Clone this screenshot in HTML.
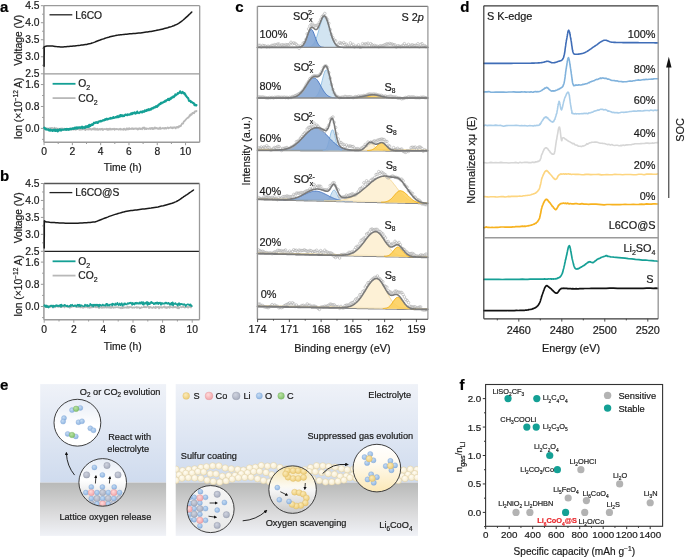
<!DOCTYPE html>
<html><head><meta charset="utf-8"><style>
html,body{margin:0;padding:0;background:#fff;}
svg{display:block;font-family:"Liberation Sans", sans-serif;}
text{stroke-width:0.2px;}
</style></head><body>
<svg width="685" height="558" viewBox="0 0 685 558">
<defs>
<linearGradient id="skyL" x1="0" y1="0" x2="0" y2="1"><stop offset="0" stop-color="#eff2f8"/><stop offset="1" stop-color="#cfdbee"/></linearGradient>
<linearGradient id="gnd" x1="0" y1="0" x2="0" y2="1"><stop offset="0" stop-color="#b8b9b8"/><stop offset="0.6" stop-color="#dcdcdd"/><stop offset="1" stop-color="#f0f2f7"/></linearGradient>
<linearGradient id="circW" x1="0" y1="0" x2="0" y2="1"><stop offset="0" stop-color="#e6ecf6"/><stop offset="0.55" stop-color="#ffffff"/><stop offset="1" stop-color="#ffffff"/></linearGradient>
<linearGradient id="circG" x1="0" y1="0" x2="0" y2="1"><stop offset="0" stop-color="#ffffff"/><stop offset="0.5" stop-color="#f4f4f4"/><stop offset="1" stop-color="#c9c9c9"/></linearGradient>
<linearGradient id="circY" x1="0" y1="0" x2="0" y2="1"><stop offset="0" stop-color="#f6e4a8"/><stop offset="0.45" stop-color="#fbf5e2"/><stop offset="1" stop-color="#ffffff"/></linearGradient>
<linearGradient id="circY2" x1="0" y1="0" x2="0" y2="1"><stop offset="0" stop-color="#ffffff"/><stop offset="0.35" stop-color="#fffbf2"/><stop offset="1" stop-color="#fbe8b6"/></linearGradient>
<linearGradient id="circL" x1="0" y1="0" x2="0" y2="1"><stop offset="0" stop-color="#f6f6f6"/><stop offset="1" stop-color="#e9e9e9"/></linearGradient>
<linearGradient id="circS" x1="0" y1="0" x2="0" y2="1"><stop offset="0" stop-color="#f4e2ab"/><stop offset="0.42" stop-color="#fcf9ef"/><stop offset="0.5" stop-color="#f7f7f7"/><stop offset="1" stop-color="#c9c9c9"/></linearGradient>
<linearGradient id="circLat" x1="0" y1="0" x2="0" y2="1"><stop offset="0" stop-color="#e6ecf5"/><stop offset="0.45" stop-color="#ffffff"/><stop offset="1" stop-color="#d5d5d5"/></linearGradient>
<radialGradient id="gO" cx="0.4" cy="0.35" r="0.7"><stop offset="0" stop-color="#c4dbf3"/><stop offset="1" stop-color="#8cb3e1"/></radialGradient>
<radialGradient id="gLi" cx="0.4" cy="0.35" r="0.7"><stop offset="0" stop-color="#cfd3df"/><stop offset="1" stop-color="#a6acbd"/></radialGradient>
<radialGradient id="gCo" cx="0.4" cy="0.35" r="0.7"><stop offset="0" stop-color="#ffdada"/><stop offset="1" stop-color="#f0a1a6"/></radialGradient>
<radialGradient id="gC" cx="0.4" cy="0.35" r="0.7"><stop offset="0" stop-color="#b9e2a4"/><stop offset="1" stop-color="#7fbf68"/></radialGradient>
<radialGradient id="gS" cx="0.4" cy="0.35" r="0.7"><stop offset="0" stop-color="#fbeab8"/><stop offset="1" stop-color="#eccb74"/></radialGradient>
<radialGradient id="gSc" cx="0.4" cy="0.35" r="0.7"><stop offset="0" stop-color="#fffcf3"/><stop offset="1" stop-color="#f5eacb"/></radialGradient>
<clipPath id="clipL"><rect x="40.2" y="384.1" width="125.9" height="151"/></clipPath>
<clipPath id="clipR"><rect x="175.7" y="384.1" width="242.3" height="151"/></clipPath>
<clipPath id="c1"><circle cx="102.7" cy="482.4" r="23.3"/></clipPath>
<clipPath id="c2"><circle cx="210.6" cy="509.1" r="23.1"/></clipPath>
<clipPath id="c3"><circle cx="292.6" cy="489.6" r="23.3"/></clipPath>
<marker id="ah" viewBox="0 0 10 10" refX="5" refY="5" markerWidth="4" markerHeight="4" orient="auto-start-reverse"><path d="M0 0 L10 5 L0 10 Z" fill="#111"/></marker>
</defs>
<rect width="685" height="558" fill="#fff"/>
<g style="will-change:transform">
<text x="0.00" y="12.20" font-size="15" text-anchor="start" font-weight="bold" fill="#000" stroke="#000" >a</text>
<line x1="43.90" y1="5.70" x2="199.70" y2="5.70" stroke="#9a9a9a" stroke-width="1.3"/>
<line x1="43.90" y1="73.80" x2="199.70" y2="73.80" stroke="#9a9a9a" stroke-width="1.3"/>
<line x1="43.90" y1="142.20" x2="199.70" y2="142.20" stroke="#9a9a9a" stroke-width="1.4"/>
<line x1="43.90" y1="5.70" x2="43.90" y2="142.20" stroke="#9a9a9a" stroke-width="1.5"/>
<line x1="199.70" y1="5.70" x2="199.70" y2="142.20" stroke="#9a9a9a" stroke-width="1.3"/>
<line x1="40.90" y1="5.70" x2="43.90" y2="5.70" stroke="#9a9a9a" stroke-width="1"/>
<text x="39.60" y="9.30" font-size="10.3" text-anchor="end" font-weight="normal" fill="#1a1a1a" stroke="#1a1a1a" >4.5</text>
<line x1="40.90" y1="22.72" x2="43.90" y2="22.72" stroke="#9a9a9a" stroke-width="1"/>
<text x="39.60" y="26.32" font-size="10.3" text-anchor="end" font-weight="normal" fill="#1a1a1a" stroke="#1a1a1a" >4.0</text>
<line x1="40.90" y1="39.75" x2="43.90" y2="39.75" stroke="#9a9a9a" stroke-width="1"/>
<text x="39.60" y="43.35" font-size="10.3" text-anchor="end" font-weight="normal" fill="#1a1a1a" stroke="#1a1a1a" >3.5</text>
<line x1="40.90" y1="56.77" x2="43.90" y2="56.77" stroke="#9a9a9a" stroke-width="1"/>
<text x="39.60" y="60.38" font-size="10.3" text-anchor="end" font-weight="normal" fill="#1a1a1a" stroke="#1a1a1a" >3.0</text>
<line x1="40.90" y1="73.80" x2="43.90" y2="73.80" stroke="#9a9a9a" stroke-width="1"/>
<text x="39.60" y="77.40" font-size="10.3" text-anchor="end" font-weight="normal" fill="#1a1a1a" stroke="#1a1a1a" >2.5</text>
<line x1="42.10" y1="14.21" x2="43.90" y2="14.21" stroke="#9a9a9a" stroke-width="1"/>
<line x1="42.10" y1="31.24" x2="43.90" y2="31.24" stroke="#9a9a9a" stroke-width="1"/>
<line x1="42.10" y1="48.26" x2="43.90" y2="48.26" stroke="#9a9a9a" stroke-width="1"/>
<line x1="42.10" y1="65.29" x2="43.90" y2="65.29" stroke="#9a9a9a" stroke-width="1"/>
<line x1="40.90" y1="84.56" x2="43.90" y2="84.56" stroke="#9a9a9a" stroke-width="1"/>
<text x="39.60" y="88.16" font-size="10.3" text-anchor="end" font-weight="normal" fill="#1a1a1a" stroke="#1a1a1a" >1.6</text>
<line x1="40.90" y1="106.48" x2="43.90" y2="106.48" stroke="#9a9a9a" stroke-width="1"/>
<text x="39.60" y="110.08" font-size="10.3" text-anchor="end" font-weight="normal" fill="#1a1a1a" stroke="#1a1a1a" >0.8</text>
<line x1="40.90" y1="128.40" x2="43.90" y2="128.40" stroke="#9a9a9a" stroke-width="1"/>
<text x="39.60" y="132.00" font-size="10.3" text-anchor="end" font-weight="normal" fill="#1a1a1a" stroke="#1a1a1a" >0.0</text>
<line x1="42.10" y1="95.52" x2="43.90" y2="95.52" stroke="#9a9a9a" stroke-width="1"/>
<line x1="42.10" y1="117.44" x2="43.90" y2="117.44" stroke="#9a9a9a" stroke-width="1"/>
<line x1="42.10" y1="139.36" x2="43.90" y2="139.36" stroke="#9a9a9a" stroke-width="1"/>
<line x1="44.06" y1="142.20" x2="44.06" y2="145.20" stroke="#9a9a9a" stroke-width="1"/>
<text x="44.06" y="155.00" font-size="10.3" text-anchor="middle" font-weight="normal" fill="#1a1a1a" stroke="#1a1a1a" >0</text>
<line x1="58.21" y1="142.20" x2="58.21" y2="144.00" stroke="#9a9a9a" stroke-width="1"/>
<line x1="72.36" y1="142.20" x2="72.36" y2="145.20" stroke="#9a9a9a" stroke-width="1"/>
<text x="72.36" y="155.00" font-size="10.3" text-anchor="middle" font-weight="normal" fill="#1a1a1a" stroke="#1a1a1a" >2</text>
<line x1="86.51" y1="142.20" x2="86.51" y2="144.00" stroke="#9a9a9a" stroke-width="1"/>
<line x1="100.66" y1="142.20" x2="100.66" y2="145.20" stroke="#9a9a9a" stroke-width="1"/>
<text x="100.66" y="155.00" font-size="10.3" text-anchor="middle" font-weight="normal" fill="#1a1a1a" stroke="#1a1a1a" >4</text>
<line x1="114.81" y1="142.20" x2="114.81" y2="144.00" stroke="#9a9a9a" stroke-width="1"/>
<line x1="128.96" y1="142.20" x2="128.96" y2="145.20" stroke="#9a9a9a" stroke-width="1"/>
<text x="128.96" y="155.00" font-size="10.3" text-anchor="middle" font-weight="normal" fill="#1a1a1a" stroke="#1a1a1a" >6</text>
<line x1="143.11" y1="142.20" x2="143.11" y2="144.00" stroke="#9a9a9a" stroke-width="1"/>
<line x1="157.26" y1="142.20" x2="157.26" y2="145.20" stroke="#9a9a9a" stroke-width="1"/>
<text x="157.26" y="155.00" font-size="10.3" text-anchor="middle" font-weight="normal" fill="#1a1a1a" stroke="#1a1a1a" >8</text>
<line x1="171.41" y1="142.20" x2="171.41" y2="144.00" stroke="#9a9a9a" stroke-width="1"/>
<line x1="185.56" y1="142.20" x2="185.56" y2="145.20" stroke="#9a9a9a" stroke-width="1"/>
<text x="185.56" y="155.00" font-size="10.3" text-anchor="middle" font-weight="normal" fill="#1a1a1a" stroke="#1a1a1a" >10</text>
<text x="122.80" y="170.70" font-size="10.3" text-anchor="middle" font-weight="normal" fill="#1a1a1a" stroke="#1a1a1a" >Time (h)</text>
<text transform="translate(21.8 40.25) rotate(-90)" font-size="10.3" text-anchor="middle" fill="#1a1a1a" stroke="#1a1a1a">Voltage (V)</text>
<text transform="translate(21.8 108.50) rotate(-90)" font-size="10.3" text-anchor="middle" fill="#1a1a1a" stroke="#1a1a1a">Ion (×10<tspan font-size="6.5" dy="-3.8">−12</tspan><tspan dy="3.8"> A)</tspan></text>
<line x1="49.50" y1="14.80" x2="72.30" y2="14.80" stroke="#222" stroke-width="1.3"/>
<text x="75.20" y="18.50" font-size="10.3" text-anchor="start" font-weight="normal" fill="#1a1a1a" stroke="#1a1a1a" >L6CO</text>
<line x1="52.60" y1="83.80" x2="75.50" y2="83.80" stroke="#14a095" stroke-width="1.8"/>
<text x="78.30" y="87.40" font-size="10.3" text-anchor="start" font-weight="normal" fill="#1a1a1a" stroke="#1a1a1a" >O<tspan font-size="7" dy="2.8">2</tspan></text>
<line x1="52.60" y1="98.10" x2="75.50" y2="98.10" stroke="#b8b8b8" stroke-width="1.8"/>
<text x="78.30" y="101.70" font-size="10.3" text-anchor="start" font-weight="normal" fill="#1a1a1a" stroke="#1a1a1a" >CO<tspan font-size="7" dy="2.8">2</tspan></text>
<path d="M44.1 66.3 L44.1 65.3 L44.1 63.9 L44.1 62.2 L44.1 60.3 L44.1 58.3 L44.1 56.3 L44.2 54.4 L44.2 52.6 L44.2 51.1 L44.2 50.0 L44.2 49.1 L44.1 48.5 L44.1 48.0 L44.0 47.7 L44.0 47.5 L43.9 47.4 L43.9 47.3 L44.0 47.2 L44.1 47.1 L44.3 46.9 L44.6 46.7 L45.0 46.6 L45.3 46.4 L45.7 46.3 L46.2 46.2 L46.7 46.1 L47.3 46.0 L48.0 45.9 L48.8 45.9 L49.6 45.9 L50.5 45.9 L51.5 46.0 L52.6 46.1 L53.8 46.2 L55.1 46.4 L56.4 46.6 L57.7 46.7 L59.1 46.8 L60.4 46.9 L61.7 46.9 L63.1 46.9 L64.5 46.8 L66.0 46.7 L67.4 46.6 L68.9 46.5 L70.4 46.3 L71.9 46.2 L73.3 46.0 L74.8 45.9 L76.2 45.7 L77.5 45.6 L78.9 45.4 L80.2 45.3 L81.5 45.1 L82.8 45.0 L84.1 44.8 L85.4 44.6 L86.7 44.4 L88.0 44.1 L89.3 43.8 L90.7 43.5 L92.0 43.0 L93.4 42.6 L94.7 42.1 L96.1 41.5 L97.4 41.0 L98.7 40.5 L100.1 40.0 L101.4 39.5 L102.6 39.1 L103.9 38.7 L105.1 38.3 L106.3 37.9 L107.5 37.5 L108.7 37.2 L109.9 36.8 L111.1 36.5 L112.3 36.2 L113.5 35.9 L114.7 35.7 L115.8 35.4 L117.0 35.2 L118.1 35.1 L119.2 34.9 L120.4 34.8 L121.5 34.7 L122.7 34.6 L124.0 34.4 L125.3 34.3 L126.7 34.2 L128.2 34.0 L129.8 33.8 L131.5 33.7 L133.3 33.5 L135.1 33.4 L136.9 33.2 L138.7 33.0 L140.4 32.9 L142.0 32.7 L143.5 32.5 L144.9 32.3 L146.3 32.1 L147.5 32.0 L148.7 31.8 L149.9 31.6 L151.1 31.4 L152.2 31.2 L153.4 31.0 L154.5 30.8 L155.7 30.6 L156.9 30.3 L158.2 30.0 L159.4 29.8 L160.6 29.5 L161.9 29.2 L163.1 28.9 L164.3 28.6 L165.5 28.3 L166.6 28.0 L167.7 27.7 L168.8 27.3 L169.8 27.0 L170.9 26.7 L171.9 26.4 L172.8 26.0 L173.8 25.7 L174.7 25.3 L175.6 24.9 L176.5 24.5 L177.4 24.1 L178.2 23.6 L179.0 23.2 L179.7 22.7 L180.4 22.2 L181.1 21.6 L181.8 21.1 L182.5 20.5 L183.2 20.0 L183.9 19.4 L184.6 18.8 L185.3 18.1 L186.1 17.4 L187.0 16.6 L187.8 15.9 L188.6 15.1 L189.4 14.3 L190.2 13.6 L190.8 13.0 L191.4 12.4 L191.8 12.0" fill="none" stroke="#1a1a1a" stroke-width="1.5" stroke-linejoin="round" stroke-linecap="round" />
<path d="M44.1 128.4 L44.5 128.5 L44.9 128.3 L45.3 128.1 L45.7 128.3 L46.1 128.1 L46.5 128.5 L46.9 129.1 L47.3 128.3 L47.7 128.3 L48.1 128.8 L48.5 128.7 L48.9 128.7 L49.3 128.3 L49.7 128.6 L50.1 128.9 L50.5 128.1 L50.9 128.5 L51.3 128.0 L51.7 128.2 L52.1 128.0 L52.5 128.7 L52.9 128.3 L53.3 128.9 L53.7 128.9 L54.1 128.7 L54.5 127.8 L54.9 128.6 L55.3 128.8 L55.7 128.9 L56.1 128.3 L56.5 128.7 L56.9 128.5 L57.3 128.6 L57.7 129.3 L58.1 128.6 L58.5 128.9 L58.9 129.3 L59.3 128.7 L59.7 128.9 L60.1 129.0 L60.5 129.0 L60.9 128.5 L61.3 129.0 L61.7 129.5 L62.1 128.4 L62.5 129.4 L62.9 129.1 L63.3 128.8 L63.7 129.8 L64.1 129.3 L64.5 128.6 L64.9 129.1 L65.3 129.3 L65.7 129.0 L66.1 129.3 L66.5 129.0 L66.9 129.3 L67.3 129.6 L67.7 128.8 L68.1 129.2 L68.5 128.9 L68.9 129.1 L69.3 128.6 L69.7 128.9 L70.1 129.0 L70.5 129.5 L70.9 129.6 L71.3 128.6 L71.7 128.8 L72.1 129.4 L72.5 128.3 L72.9 128.9 L73.3 129.1 L73.7 129.6 L74.1 129.4 L74.5 129.0 L74.9 129.0 L75.3 129.1 L75.7 129.8 L76.1 129.0 L76.5 129.0 L76.9 129.3 L77.3 129.1 L77.7 129.1 L78.1 128.7 L78.5 129.2 L78.9 129.0 L79.3 129.7 L79.7 129.5 L80.1 129.2 L80.5 129.5 L80.9 129.1 L81.3 129.6 L81.7 129.2 L82.1 129.4 L82.5 128.7 L82.9 129.4 L83.3 128.5 L83.7 128.4 L84.1 129.1 L84.5 128.9 L84.9 129.3 L85.3 130.1 L85.7 128.9 L86.1 129.0 L86.5 129.3 L86.9 129.4 L87.3 129.2 L87.7 129.2 L88.1 129.5 L88.5 129.5 L88.9 128.8 L89.3 129.2 L89.7 129.3 L90.1 128.8 L90.5 129.4 L90.9 128.9 L91.3 129.7 L91.7 129.4 L92.1 129.3 L92.5 129.0 L92.9 129.2 L93.3 128.5 L93.7 128.8 L94.1 129.4 L94.5 128.4 L94.9 129.6 L95.3 128.6 L95.7 129.6 L96.1 129.0 L96.5 129.6 L96.9 129.3 L97.3 128.7 L97.7 129.8 L98.1 129.9 L98.5 129.3 L98.9 129.2 L99.3 129.2 L99.7 128.9 L100.1 129.7 L100.5 129.1 L100.9 129.3 L101.3 129.0 L101.7 129.0 L102.1 128.8 L102.5 129.8 L102.9 129.2 L103.3 129.7 L103.7 129.3 L104.1 129.0 L104.5 129.2 L104.9 129.1 L105.3 129.3 L105.7 129.1 L106.1 129.2 L106.5 128.7 L106.9 129.0 L107.3 129.9 L107.7 129.0 L108.1 128.9 L108.5 129.4 L108.9 129.8 L109.3 128.7 L109.7 129.2 L110.1 129.0 L110.5 128.6 L110.9 129.6 L111.3 129.2 L111.7 129.3 L112.1 128.9 L112.5 129.4 L112.9 129.0 L113.3 129.2 L113.7 128.8 L114.1 128.7 L114.5 129.8 L114.9 129.0 L115.3 129.3 L115.7 129.2 L116.1 129.0 L116.5 129.0 L116.9 129.4 L117.3 129.1 L117.7 129.1 L118.1 129.2 L118.5 129.6 L118.9 129.4 L119.3 129.3 L119.7 128.9 L120.1 128.6 L120.5 129.5 L120.9 129.5 L121.3 129.1 L121.7 129.3 L122.1 129.4 L122.5 129.5 L122.9 129.5 L123.3 128.9 L123.7 129.7 L124.1 128.6 L124.5 129.4 L124.9 129.3 L125.3 129.4 L125.7 129.8 L126.1 129.7 L126.5 128.6 L126.9 128.4 L127.3 129.4 L127.7 128.6 L128.1 129.0 L128.5 129.4 L128.9 128.4 L129.3 128.2 L129.7 129.1 L130.1 129.0 L130.5 128.9 L130.9 129.0 L131.3 128.6 L131.7 128.4 L132.1 128.9 L132.5 128.6 L132.9 128.3 L133.3 129.1 L133.7 128.9 L134.1 129.1 L134.5 128.5 L134.9 128.6 L135.3 128.5 L135.7 128.5 L136.1 128.9 L136.5 128.5 L136.9 129.0 L137.3 129.0 L137.7 129.6 L138.1 128.3 L138.5 129.2 L138.9 128.8 L139.3 128.8 L139.7 128.2 L140.1 128.6 L140.5 129.1 L140.9 128.7 L141.3 128.8 L141.7 128.6 L142.1 129.2 L142.5 128.7 L142.9 127.8 L143.3 128.4 L143.7 127.9 L144.1 127.4 L144.5 128.5 L144.9 129.2 L145.3 128.7 L145.7 128.2 L146.1 128.3 L146.5 129.1 L146.9 128.7 L147.3 128.6 L147.7 128.6 L148.1 128.6 L148.5 128.9 L148.9 128.8 L149.3 128.6 L149.7 128.1 L150.1 128.7 L150.5 128.3 L150.9 129.0 L151.3 128.0 L151.7 128.4 L152.1 128.5 L152.5 127.9 L152.9 129.2 L153.3 129.0 L153.7 128.3 L154.1 128.7 L154.5 128.6 L154.9 127.4 L155.3 128.5 L155.7 128.4 L156.1 128.4 L156.5 127.9 L156.9 128.2 L157.3 128.3 L157.7 128.8 L158.1 128.4 L158.5 128.3 L158.9 128.9 L159.3 128.1 L159.7 128.1 L160.1 127.5 L160.5 128.9 L160.9 128.6 L161.3 128.6 L161.7 128.5 L162.1 128.2 L162.5 128.3 L162.9 128.1 L163.3 128.1 L163.7 128.1 L164.1 128.7 L164.5 128.3 L164.9 128.1 L165.3 127.8 L165.7 127.8 L166.1 128.7 L166.5 128.2 L166.9 128.0 L167.3 127.8 L167.7 127.5 L168.1 127.9 L168.5 128.3 L168.9 127.8 L169.3 127.8 L169.7 127.8 L170.1 127.9 L170.5 127.2 L170.9 127.7 L171.3 127.5 L171.7 128.1 L172.1 127.4 L172.5 128.0 L172.9 128.3 L173.3 127.6 L173.7 127.4 L174.1 127.7 L174.5 127.6 L174.9 127.2 L175.3 127.8 L175.7 128.4 L176.1 127.4 L176.5 127.4 L176.9 127.0 L177.3 127.5 L177.7 126.9 L178.1 126.8 L178.5 127.5 L178.9 126.2 L179.3 126.7 L179.7 126.6 L180.1 125.9 L180.5 125.7 L180.9 126.0 L181.3 124.7 L181.7 124.2 L182.1 123.5 L182.5 123.6 L182.9 123.7 L183.3 123.1 L183.7 121.8 L184.1 121.3 L184.5 121.0 L184.9 120.8 L185.3 120.1 L185.7 119.8 L186.1 119.3 L186.5 118.7 L186.9 118.4 L187.3 118.1 L187.7 117.6 L188.1 117.5 L188.5 117.6 L188.9 116.8 L189.3 116.2 L189.7 115.2 L190.1 115.7 L190.5 114.4 L190.9 114.3 L191.3 114.9 L191.7 114.5 L192.1 113.8 L192.5 112.9 L192.9 113.1 L193.3 112.7 L193.7 112.9 L194.1 113.2 L194.5 112.1 L194.9 111.5 L195.3 111.1 L195.7 111.5 L196.1 111.4 L196.5 111.0" fill="none" stroke="#b8b8b8" stroke-width="1.8" stroke-linejoin="round" stroke-linecap="round" />
<path d="M44.1 127.9 L44.5 127.6 L44.9 128.9 L45.3 129.1 L45.7 129.4 L46.1 128.9 L46.5 129.6 L46.9 129.5 L47.3 129.5 L47.7 129.7 L48.1 129.4 L48.5 129.4 L48.9 130.5 L49.3 130.1 L49.7 130.3 L50.1 130.7 L50.5 129.5 L50.9 130.0 L51.3 130.4 L51.7 130.5 L52.1 130.2 L52.5 130.8 L52.9 130.4 L53.3 129.8 L53.7 129.9 L54.1 130.7 L54.5 130.5 L54.9 129.5 L55.3 130.9 L55.7 130.6 L56.1 130.9 L56.5 130.1 L56.9 130.1 L57.3 129.7 L57.7 131.4 L58.1 130.1 L58.5 130.9 L58.9 129.9 L59.3 130.2 L59.7 129.3 L60.1 129.9 L60.5 130.5 L60.9 129.5 L61.3 130.5 L61.7 130.1 L62.1 129.5 L62.5 129.7 L62.9 129.7 L63.3 129.8 L63.7 129.6 L64.1 129.4 L64.5 129.6 L64.9 129.2 L65.3 129.1 L65.7 129.6 L66.1 130.0 L66.5 128.9 L66.9 129.5 L67.3 129.2 L67.7 129.0 L68.1 129.7 L68.5 129.1 L68.9 129.9 L69.3 128.9 L69.7 129.3 L70.1 129.0 L70.5 128.7 L70.9 129.2 L71.3 128.9 L71.7 129.1 L72.1 128.8 L72.5 128.3 L72.9 128.6 L73.3 128.7 L73.7 129.0 L74.1 128.1 L74.5 128.4 L74.9 127.6 L75.3 128.6 L75.7 127.8 L76.1 127.4 L76.5 128.1 L76.9 128.6 L77.3 127.4 L77.7 127.5 L78.1 127.6 L78.5 127.4 L78.9 128.0 L79.3 127.4 L79.7 127.4 L80.1 127.9 L80.5 127.3 L80.9 127.8 L81.3 127.1 L81.7 126.9 L82.1 126.6 L82.5 128.3 L82.9 127.2 L83.3 127.4 L83.7 127.3 L84.1 127.3 L84.5 127.2 L84.9 128.0 L85.3 126.6 L85.7 126.3 L86.1 126.5 L86.5 126.3 L86.9 127.2 L87.3 127.1 L87.7 126.2 L88.1 125.9 L88.5 126.2 L88.9 126.9 L89.3 124.8 L89.7 126.2 L90.1 125.3 L90.5 126.0 L90.9 124.8 L91.3 125.0 L91.7 124.2 L92.1 124.2 L92.5 125.0 L92.9 124.5 L93.3 123.7 L93.7 123.3 L94.1 122.6 L94.5 123.1 L94.9 123.1 L95.3 122.9 L95.7 122.8 L96.1 122.2 L96.5 122.5 L96.9 122.4 L97.3 122.9 L97.7 123.0 L98.1 122.0 L98.5 121.6 L98.9 121.7 L99.3 121.4 L99.7 121.2 L100.1 121.4 L100.5 120.8 L100.9 121.4 L101.3 121.0 L101.7 121.1 L102.1 120.8 L102.5 120.4 L102.9 120.2 L103.3 120.4 L103.7 120.1 L104.1 120.4 L104.5 120.2 L104.9 119.4 L105.3 120.0 L105.7 119.2 L106.1 119.5 L106.5 119.5 L106.9 118.6 L107.3 119.5 L107.7 119.4 L108.1 119.1 L108.5 118.9 L108.9 118.8 L109.3 118.4 L109.7 118.7 L110.1 118.4 L110.5 118.6 L110.9 117.9 L111.3 118.5 L111.7 118.3 L112.1 118.1 L112.5 117.9 L112.9 118.2 L113.3 117.1 L113.7 118.0 L114.1 117.8 L114.5 117.7 L114.9 117.6 L115.3 117.1 L115.7 117.1 L116.1 117.4 L116.5 117.3 L116.9 117.1 L117.3 116.2 L117.7 117.0 L118.1 117.2 L118.5 117.0 L118.9 116.6 L119.3 115.7 L119.7 116.7 L120.1 116.1 L120.5 115.0 L120.9 116.2 L121.3 115.3 L121.7 115.3 L122.1 115.5 L122.5 116.2 L122.9 115.4 L123.3 115.6 L123.7 116.2 L124.1 116.1 L124.5 115.2 L124.9 115.1 L125.3 114.5 L125.7 114.7 L126.1 115.1 L126.5 115.0 L126.9 114.8 L127.3 115.2 L127.7 114.3 L128.1 114.5 L128.5 114.8 L128.9 114.7 L129.3 114.8 L129.7 114.5 L130.1 114.1 L130.5 114.3 L130.9 113.6 L131.3 113.2 L131.7 114.2 L132.1 113.8 L132.5 113.9 L132.9 112.9 L133.3 113.4 L133.7 113.2 L134.1 113.0 L134.5 112.3 L134.9 113.1 L135.3 113.6 L135.7 113.2 L136.1 112.7 L136.5 112.9 L136.9 113.1 L137.3 111.5 L137.7 112.6 L138.1 112.8 L138.5 112.7 L138.9 113.1 L139.3 112.8 L139.7 112.3 L140.1 112.2 L140.5 112.3 L140.9 111.6 L141.3 111.8 L141.7 112.1 L142.1 112.5 L142.5 111.4 L142.9 111.4 L143.3 111.4 L143.7 111.8 L144.1 111.1 L144.5 111.6 L144.9 110.4 L145.3 110.7 L145.7 110.6 L146.1 110.9 L146.5 110.9 L146.9 109.7 L147.3 109.8 L147.7 110.3 L148.1 109.7 L148.5 109.2 L148.9 110.2 L149.3 109.8 L149.7 109.7 L150.1 109.1 L150.5 109.7 L150.9 108.9 L151.3 109.4 L151.7 108.3 L152.1 108.2 L152.5 108.5 L152.9 107.9 L153.3 108.3 L153.7 107.9 L154.1 107.2 L154.5 107.4 L154.9 107.0 L155.3 107.3 L155.7 106.4 L156.1 106.2 L156.5 106.7 L156.9 107.0 L157.3 106.6 L157.7 105.5 L158.1 105.3 L158.5 105.6 L158.9 104.6 L159.3 104.0 L159.7 104.3 L160.1 104.2 L160.5 103.4 L160.9 102.8 L161.3 102.7 L161.7 103.4 L162.1 102.6 L162.5 102.6 L162.9 102.6 L163.3 102.5 L163.7 101.9 L164.1 102.0 L164.5 101.2 L164.9 101.2 L165.3 100.7 L165.7 101.4 L166.1 100.7 L166.5 100.2 L166.9 100.1 L167.3 100.0 L167.7 100.1 L168.1 98.9 L168.5 98.9 L168.9 99.0 L169.3 100.1 L169.7 99.1 L170.1 98.4 L170.5 98.6 L170.9 98.9 L171.3 97.7 L171.7 97.4 L172.1 97.8 L172.5 97.3 L172.9 97.1 L173.3 96.3 L173.7 97.2 L174.1 96.8 L174.5 96.1 L174.9 95.9 L175.3 94.4 L175.7 95.3 L176.1 94.7 L176.5 94.7 L176.9 94.6 L177.3 93.9 L177.7 93.1 L178.1 93.7 L178.5 93.0 L178.9 93.0 L179.3 92.6 L179.7 92.4 L180.1 91.3 L180.5 92.7 L180.9 92.3 L181.3 92.8 L181.7 93.2 L182.1 92.5 L182.5 91.8 L182.9 92.5 L183.3 92.6 L183.7 93.1 L184.1 93.7 L184.5 93.1 L184.9 94.6 L185.3 94.2 L185.7 95.6 L186.1 95.9 L186.5 96.4 L186.9 97.1 L187.3 97.4 L187.7 97.9 L188.1 98.0 L188.5 99.2 L188.9 100.5 L189.3 101.0 L189.7 101.0 L190.1 101.1 L190.5 100.8 L190.9 102.1 L191.3 101.7 L191.7 102.1 L192.1 102.3 L192.5 102.7 L192.9 102.8 L193.3 103.2 L193.7 103.1 L194.1 103.7 L194.5 105.2 L194.9 104.4 L195.3 104.6 L195.7 105.2 L196.1 105.6 L196.5 105.1" fill="none" stroke="#14a095" stroke-width="2.1" stroke-linejoin="round" stroke-linecap="round" />
<text x="0.00" y="180.60" font-size="15" text-anchor="start" font-weight="bold" fill="#000" stroke="#000" >b</text>
<line x1="43.90" y1="183.50" x2="199.50" y2="183.50" stroke="#555" stroke-width="1.3"/>
<line x1="43.90" y1="251.30" x2="199.50" y2="251.30" stroke="#222" stroke-width="1.3"/>
<line x1="43.90" y1="319.70" x2="199.50" y2="319.70" stroke="#9a9a9a" stroke-width="1.4"/>
<line x1="43.90" y1="183.50" x2="43.90" y2="319.70" stroke="#9a9a9a" stroke-width="1.5"/>
<line x1="199.50" y1="183.50" x2="199.50" y2="319.70" stroke="#9a9a9a" stroke-width="1.3"/>
<line x1="40.90" y1="183.50" x2="43.90" y2="183.50" stroke="#9a9a9a" stroke-width="1"/>
<text x="39.60" y="187.10" font-size="10.3" text-anchor="end" font-weight="normal" fill="#1a1a1a" stroke="#1a1a1a" >4.5</text>
<line x1="40.90" y1="200.45" x2="43.90" y2="200.45" stroke="#9a9a9a" stroke-width="1"/>
<text x="39.60" y="204.05" font-size="10.3" text-anchor="end" font-weight="normal" fill="#1a1a1a" stroke="#1a1a1a" >4.0</text>
<line x1="40.90" y1="217.40" x2="43.90" y2="217.40" stroke="#9a9a9a" stroke-width="1"/>
<text x="39.60" y="221.00" font-size="10.3" text-anchor="end" font-weight="normal" fill="#1a1a1a" stroke="#1a1a1a" >3.5</text>
<line x1="40.90" y1="234.35" x2="43.90" y2="234.35" stroke="#9a9a9a" stroke-width="1"/>
<text x="39.60" y="237.95" font-size="10.3" text-anchor="end" font-weight="normal" fill="#1a1a1a" stroke="#1a1a1a" >3.0</text>
<line x1="40.90" y1="251.30" x2="43.90" y2="251.30" stroke="#9a9a9a" stroke-width="1"/>
<text x="39.60" y="254.90" font-size="10.3" text-anchor="end" font-weight="normal" fill="#1a1a1a" stroke="#1a1a1a" >2.5</text>
<line x1="42.10" y1="191.97" x2="43.90" y2="191.97" stroke="#9a9a9a" stroke-width="1"/>
<line x1="42.10" y1="208.93" x2="43.90" y2="208.93" stroke="#9a9a9a" stroke-width="1"/>
<line x1="42.10" y1="225.88" x2="43.90" y2="225.88" stroke="#9a9a9a" stroke-width="1"/>
<line x1="42.10" y1="242.83" x2="43.90" y2="242.83" stroke="#9a9a9a" stroke-width="1"/>
<line x1="40.90" y1="262.10" x2="43.90" y2="262.10" stroke="#9a9a9a" stroke-width="1"/>
<text x="39.60" y="265.70" font-size="10.3" text-anchor="end" font-weight="normal" fill="#1a1a1a" stroke="#1a1a1a" >1.6</text>
<line x1="40.90" y1="284.30" x2="43.90" y2="284.30" stroke="#9a9a9a" stroke-width="1"/>
<text x="39.60" y="287.90" font-size="10.3" text-anchor="end" font-weight="normal" fill="#1a1a1a" stroke="#1a1a1a" >0.8</text>
<line x1="40.90" y1="306.50" x2="43.90" y2="306.50" stroke="#9a9a9a" stroke-width="1"/>
<text x="39.60" y="310.10" font-size="10.3" text-anchor="end" font-weight="normal" fill="#1a1a1a" stroke="#1a1a1a" >0.0</text>
<line x1="42.10" y1="273.20" x2="43.90" y2="273.20" stroke="#9a9a9a" stroke-width="1"/>
<line x1="42.10" y1="295.40" x2="43.90" y2="295.40" stroke="#9a9a9a" stroke-width="1"/>
<line x1="42.10" y1="317.60" x2="43.90" y2="317.60" stroke="#9a9a9a" stroke-width="1"/>
<line x1="44.20" y1="319.70" x2="44.20" y2="322.70" stroke="#9a9a9a" stroke-width="1"/>
<text x="44.20" y="332.50" font-size="10.3" text-anchor="middle" font-weight="normal" fill="#1a1a1a" stroke="#1a1a1a" >0</text>
<line x1="59.00" y1="319.70" x2="59.00" y2="321.50" stroke="#9a9a9a" stroke-width="1"/>
<line x1="73.80" y1="319.70" x2="73.80" y2="322.70" stroke="#9a9a9a" stroke-width="1"/>
<text x="73.80" y="332.50" font-size="10.3" text-anchor="middle" font-weight="normal" fill="#1a1a1a" stroke="#1a1a1a" >2</text>
<line x1="88.60" y1="319.70" x2="88.60" y2="321.50" stroke="#9a9a9a" stroke-width="1"/>
<line x1="103.40" y1="319.70" x2="103.40" y2="322.70" stroke="#9a9a9a" stroke-width="1"/>
<text x="103.40" y="332.50" font-size="10.3" text-anchor="middle" font-weight="normal" fill="#1a1a1a" stroke="#1a1a1a" >4</text>
<line x1="118.20" y1="319.70" x2="118.20" y2="321.50" stroke="#9a9a9a" stroke-width="1"/>
<line x1="133.00" y1="319.70" x2="133.00" y2="322.70" stroke="#9a9a9a" stroke-width="1"/>
<text x="133.00" y="332.50" font-size="10.3" text-anchor="middle" font-weight="normal" fill="#1a1a1a" stroke="#1a1a1a" >6</text>
<line x1="147.80" y1="319.70" x2="147.80" y2="321.50" stroke="#9a9a9a" stroke-width="1"/>
<line x1="162.60" y1="319.70" x2="162.60" y2="322.70" stroke="#9a9a9a" stroke-width="1"/>
<text x="162.60" y="332.50" font-size="10.3" text-anchor="middle" font-weight="normal" fill="#1a1a1a" stroke="#1a1a1a" >8</text>
<line x1="177.40" y1="319.70" x2="177.40" y2="321.50" stroke="#9a9a9a" stroke-width="1"/>
<line x1="192.20" y1="319.70" x2="192.20" y2="322.70" stroke="#9a9a9a" stroke-width="1"/>
<text x="192.20" y="332.50" font-size="10.3" text-anchor="middle" font-weight="normal" fill="#1a1a1a" stroke="#1a1a1a" >10</text>
<text x="122.70" y="349.70" font-size="10.3" text-anchor="middle" font-weight="normal" fill="#1a1a1a" stroke="#1a1a1a" >Time (h)</text>
<text transform="translate(21.8 217.90) rotate(-90)" font-size="10.3" text-anchor="middle" fill="#1a1a1a" stroke="#1a1a1a">Voltage (V)</text>
<text transform="translate(21.8 286.00) rotate(-90)" font-size="10.3" text-anchor="middle" fill="#1a1a1a" stroke="#1a1a1a">Ion (×10<tspan font-size="6.5" dy="-3.8">−12</tspan><tspan dy="3.8"> A)</tspan></text>
<line x1="49.50" y1="192.60" x2="72.30" y2="192.60" stroke="#222" stroke-width="1.3"/>
<text x="75.20" y="196.30" font-size="10.3" text-anchor="start" font-weight="normal" fill="#1a1a1a" stroke="#1a1a1a" >L6CO@S</text>
<line x1="52.60" y1="261.30" x2="75.50" y2="261.30" stroke="#14a095" stroke-width="1.8"/>
<text x="78.30" y="264.90" font-size="10.3" text-anchor="start" font-weight="normal" fill="#1a1a1a" stroke="#1a1a1a" >O<tspan font-size="7" dy="2.8">2</tspan></text>
<line x1="52.60" y1="275.60" x2="75.50" y2="275.60" stroke="#b8b8b8" stroke-width="1.8"/>
<text x="78.30" y="279.20" font-size="10.3" text-anchor="start" font-weight="normal" fill="#1a1a1a" stroke="#1a1a1a" >CO<tspan font-size="7" dy="2.8">2</tspan></text>
<path d="M44.2 247.9 L44.2 246.4 L44.2 244.4 L44.2 241.9 L44.2 239.1 L44.3 236.3 L44.3 233.3 L44.3 230.5 L44.3 228.0 L44.3 225.8 L44.3 224.2 L44.4 223.0 L44.4 222.1 L44.4 221.6 L44.3 221.2 L44.3 221.0 L44.3 220.9 L44.4 220.9 L44.4 221.0 L44.4 221.0 L44.5 220.9 L44.6 220.8 L44.6 220.8 L44.6 220.9 L44.7 221.0 L44.7 221.1 L44.8 221.2 L45.0 221.4 L45.2 221.6 L45.5 221.7 L46.0 221.8 L46.5 221.9 L47.0 222.0 L47.7 222.1 L48.3 222.1 L49.1 222.2 L49.9 222.3 L50.9 222.4 L51.9 222.4 L53.1 222.5 L54.4 222.6 L55.9 222.7 L57.6 222.8 L59.4 222.9 L61.4 223.0 L63.4 223.1 L65.5 223.2 L67.6 223.2 L69.8 223.3 L71.8 223.3 L73.8 223.3 L75.8 223.3 L77.9 223.2 L80.0 223.1 L82.2 223.0 L84.3 222.8 L86.4 222.7 L88.3 222.5 L90.1 222.4 L91.7 222.2 L93.0 222.1 L94.1 222.0 L94.8 221.9 L95.2 221.9 L95.5 221.8 L95.7 221.8 L95.9 221.7 L96.1 221.6 L96.4 221.4 L97.0 221.2 L97.8 220.9 L98.8 220.5 L100.1 220.0 L101.4 219.5 L102.9 218.9 L104.4 218.3 L106.0 217.7 L107.6 217.1 L109.2 216.4 L110.8 215.9 L112.3 215.4 L113.7 214.9 L115.2 214.4 L116.6 214.0 L118.1 213.5 L119.5 213.1 L121.0 212.7 L122.4 212.3 L123.9 211.9 L125.3 211.6 L126.8 211.3 L128.2 211.0 L129.6 210.7 L131.0 210.5 L132.4 210.4 L133.8 210.2 L135.2 210.0 L136.7 209.9 L138.1 209.7 L139.6 209.5 L141.1 209.3 L142.7 209.1 L144.4 208.9 L146.0 208.7 L147.7 208.5 L149.4 208.3 L151.1 208.1 L152.9 207.8 L154.6 207.5 L156.3 207.2 L158.0 206.9 L159.7 206.5 L161.5 206.1 L163.3 205.7 L165.1 205.2 L166.9 204.7 L168.6 204.2 L170.3 203.7 L172.0 203.2 L173.5 202.7 L174.9 202.1 L176.2 201.6 L177.3 201.0 L178.4 200.4 L179.3 199.8 L180.3 199.2 L181.1 198.6 L182.0 197.9 L182.9 197.3 L183.7 196.7 L184.7 196.1 L185.6 195.4 L186.6 194.8 L187.7 194.1 L188.7 193.4 L189.7 192.7 L190.7 192.0 L191.5 191.4 L192.3 190.9 L193.0 190.4 L193.5 190.0" fill="none" stroke="#1a1a1a" stroke-width="1.5" stroke-linejoin="round" stroke-linecap="round" />
<path d="M44.2 306.4 L44.6 307.0 L45.0 306.6 L45.4 306.6 L45.8 307.3 L46.2 306.2 L46.6 306.6 L47.0 306.3 L47.4 307.3 L47.8 305.6 L48.2 306.2 L48.6 306.3 L49.0 306.9 L49.4 306.8 L49.8 307.2 L50.2 305.8 L50.6 306.9 L51.0 306.4 L51.4 306.2 L51.8 306.8 L52.2 306.1 L52.6 305.5 L53.0 306.4 L53.4 305.8 L53.8 306.3 L54.2 306.8 L54.6 306.7 L55.0 307.4 L55.4 306.5 L55.8 305.8 L56.2 306.2 L56.6 306.1 L57.0 306.0 L57.4 306.8 L57.8 306.3 L58.2 305.6 L58.6 307.0 L59.0 306.6 L59.4 306.8 L59.8 306.7 L60.2 307.0 L60.6 306.7 L61.0 307.3 L61.4 306.9 L61.8 306.9 L62.2 306.9 L62.6 305.9 L63.0 306.6 L63.4 306.5 L63.8 306.8 L64.2 306.0 L64.6 307.5 L65.0 306.7 L65.4 306.1 L65.8 305.8 L66.2 306.6 L66.6 306.7 L67.0 306.3 L67.4 306.8 L67.8 306.4 L68.2 307.0 L68.6 306.4 L69.0 306.7 L69.4 307.2 L69.8 308.0 L70.2 306.2 L70.6 306.5 L71.0 306.3 L71.4 307.1 L71.8 306.2 L72.2 306.5 L72.6 306.7 L73.0 306.3 L73.4 306.3 L73.8 306.5 L74.2 305.7 L74.6 306.1 L75.0 306.6 L75.4 306.9 L75.8 306.7 L76.2 305.9 L76.6 306.6 L77.0 307.2 L77.4 307.1 L77.8 306.8 L78.2 306.4 L78.6 307.2 L79.0 306.6 L79.4 306.3 L79.8 306.5 L80.2 307.6 L80.6 307.0 L81.0 307.4 L81.4 306.6 L81.8 307.3 L82.2 306.6 L82.6 306.8 L83.0 308.1 L83.4 307.3 L83.8 306.7 L84.2 306.9 L84.6 307.1 L85.0 307.5 L85.4 306.7 L85.8 306.1 L86.2 306.8 L86.6 307.0 L87.0 307.0 L87.4 307.6 L87.8 307.1 L88.2 307.4 L88.6 306.4 L89.0 307.4 L89.4 308.0 L89.8 307.4 L90.2 307.1 L90.6 307.1 L91.0 307.9 L91.4 306.6 L91.8 307.0 L92.2 307.3 L92.6 307.4 L93.0 306.8 L93.4 307.2 L93.8 306.9 L94.2 307.1 L94.6 307.0 L95.0 306.5 L95.4 307.1 L95.8 307.5 L96.2 306.6 L96.6 307.0 L97.0 307.4 L97.4 306.6 L97.8 307.2 L98.2 306.6 L98.6 307.7 L99.0 308.3 L99.4 308.1 L99.8 307.0 L100.2 307.5 L100.6 307.2 L101.0 307.2 L101.4 307.9 L101.8 306.5 L102.2 307.7 L102.6 307.2 L103.0 307.9 L103.4 307.3 L103.8 306.9 L104.2 307.3 L104.6 307.6 L105.0 307.2 L105.4 307.5 L105.8 307.0 L106.2 306.2 L106.6 307.7 L107.0 307.6 L107.4 307.3 L107.8 307.3 L108.2 307.8 L108.6 307.0 L109.0 306.9 L109.4 307.2 L109.8 307.9 L110.2 306.6 L110.6 307.9 L111.0 307.0 L111.4 306.7 L111.8 307.9 L112.2 307.2 L112.6 306.6 L113.0 307.1 L113.4 307.8 L113.8 307.9 L114.2 307.1 L114.6 307.5 L115.0 307.7 L115.4 307.0 L115.8 307.5 L116.2 307.3 L116.6 307.1 L117.0 307.1 L117.4 307.4 L117.8 307.3 L118.2 307.0 L118.6 307.1 L119.0 307.9 L119.4 307.4 L119.8 307.8 L120.2 307.9 L120.6 307.6 L121.0 308.5 L121.4 306.9 L121.8 307.8 L122.2 307.2 L122.6 308.3 L123.0 308.2 L123.4 306.4 L123.8 306.9 L124.2 307.7 L124.6 307.8 L125.0 307.7 L125.4 307.3 L125.8 307.6 L126.2 307.7 L126.6 307.3 L127.0 307.9 L127.4 306.2 L127.8 307.7 L128.2 306.9 L128.6 307.9 L129.0 307.3 L129.4 306.9 L129.8 307.6 L130.2 306.9 L130.6 306.9 L131.0 306.6 L131.4 307.4 L131.8 307.6 L132.2 307.9 L132.6 307.3 L133.0 307.9 L133.4 307.4 L133.8 307.3 L134.2 307.7 L134.6 307.9 L135.0 307.2 L135.4 307.3 L135.8 307.3 L136.2 307.4 L136.6 306.9 L137.0 307.9 L137.4 307.2 L137.8 307.6 L138.2 307.0 L138.6 307.6 L139.0 307.6 L139.4 307.2 L139.8 308.4 L140.2 307.6 L140.6 308.3 L141.0 307.9 L141.4 307.1 L141.8 307.2 L142.2 307.6 L142.6 307.4 L143.0 307.4 L143.4 307.2 L143.8 306.5 L144.2 307.3 L144.6 306.3 L145.0 307.6 L145.4 307.0 L145.8 307.0 L146.2 307.3 L146.6 307.5 L147.0 306.7 L147.4 306.5 L147.8 306.8 L148.2 306.4 L148.6 306.9 L149.0 308.2 L149.4 306.8 L149.8 307.7 L150.2 306.7 L150.6 307.5 L151.0 307.2 L151.4 307.3 L151.8 307.7 L152.2 308.2 L152.6 307.5 L153.0 307.4 L153.4 306.9 L153.8 307.7 L154.2 307.2 L154.6 307.8 L155.0 307.3 L155.4 308.2 L155.8 306.4 L156.2 307.2 L156.6 307.8 L157.0 307.2 L157.4 307.0 L157.8 307.2 L158.2 306.7 L158.6 307.4 L159.0 308.6 L159.4 307.9 L159.8 306.8 L160.2 306.9 L160.6 307.1 L161.0 307.8 L161.4 306.9 L161.8 307.0 L162.2 307.8 L162.6 307.8 L163.0 307.1 L163.4 306.8 L163.8 306.6 L164.2 307.0 L164.6 306.2 L165.0 307.7 L165.4 307.0 L165.8 307.6 L166.2 308.2 L166.6 307.9 L167.0 306.7 L167.4 307.7 L167.8 307.9 L168.2 306.9 L168.6 306.8 L169.0 307.2 L169.4 306.5 L169.8 308.0 L170.2 306.1 L170.6 306.7 L171.0 307.1 L171.4 307.2 L171.8 307.4 L172.2 307.4 L172.6 307.2 L173.0 307.8 L173.4 306.2 L173.8 307.3 L174.2 306.9 L174.6 307.3 L175.0 307.4 L175.4 306.8 L175.8 306.9 L176.2 307.6 L176.6 307.4 L177.0 306.9 L177.4 308.2 L177.8 308.4 L178.2 306.5 L178.6 307.4 L179.0 308.5 L179.4 307.6 L179.8 307.3 L180.2 307.1 L180.6 306.9 L181.0 307.1 L181.4 306.9 L181.8 307.5 L182.2 307.0 L182.6 306.9 L183.0 306.6 L183.4 307.1 L183.8 306.7 L184.2 307.1 L184.6 307.7 L185.0 307.3 L185.4 307.4 L185.8 307.3 L186.2 307.2 L186.6 307.1 L187.0 307.0 L187.4 307.5 L187.8 306.6 L188.2 307.8 L188.6 307.1 L189.0 306.7 L189.4 306.8 L189.8 306.7 L190.2 307.2 L190.6 306.7 L191.0 307.6 L191.4 306.7 L191.8 305.9" fill="none" stroke="#b8b8b8" stroke-width="1.5" stroke-linejoin="round" stroke-linecap="round" />
<path d="M44.2 305.8 L44.6 305.0 L45.0 306.2 L45.4 306.8 L45.8 306.6 L46.2 305.4 L46.6 305.7 L47.0 307.2 L47.4 306.4 L47.8 306.2 L48.2 306.8 L48.6 307.6 L49.0 306.9 L49.4 306.2 L49.8 306.3 L50.2 306.5 L50.6 305.7 L51.0 305.5 L51.4 306.1 L51.8 305.5 L52.2 306.0 L52.6 306.1 L53.0 307.5 L53.4 305.5 L53.8 306.0 L54.2 305.9 L54.6 306.3 L55.0 306.6 L55.4 305.7 L55.8 305.5 L56.2 305.0 L56.6 305.4 L57.0 306.3 L57.4 306.0 L57.8 305.4 L58.2 305.7 L58.6 306.0 L59.0 306.2 L59.4 305.6 L59.8 305.8 L60.2 304.8 L60.6 305.2 L61.0 306.9 L61.4 304.6 L61.8 305.7 L62.2 306.0 L62.6 305.7 L63.0 305.4 L63.4 305.8 L63.8 305.9 L64.2 305.8 L64.6 304.7 L65.0 305.8 L65.4 305.3 L65.8 305.5 L66.2 306.0 L66.6 306.2 L67.0 306.4 L67.4 305.5 L67.8 306.4 L68.2 306.5 L68.6 306.5 L69.0 306.6 L69.4 305.7 L69.8 305.7 L70.2 306.3 L70.6 304.9 L71.0 305.9 L71.4 305.4 L71.8 305.5 L72.2 304.7 L72.6 305.2 L73.0 305.7 L73.4 306.2 L73.8 306.3 L74.2 305.6 L74.6 305.6 L75.0 305.2 L75.4 305.9 L75.8 305.5 L76.2 306.0 L76.6 306.7 L77.0 305.6 L77.4 304.7 L77.8 305.1 L78.2 304.8 L78.6 304.9 L79.0 306.4 L79.4 305.7 L79.8 304.7 L80.2 306.0 L80.6 306.3 L81.0 305.4 L81.4 305.2 L81.8 305.4 L82.2 305.7 L82.6 305.9 L83.0 306.2 L83.4 306.2 L83.8 306.2 L84.2 306.3 L84.6 305.9 L85.0 304.6 L85.4 305.4 L85.8 305.7 L86.2 305.2 L86.6 306.0 L87.0 305.2 L87.4 304.9 L87.8 306.3 L88.2 305.8 L88.6 305.5 L89.0 305.9 L89.4 306.0 L89.8 305.6 L90.2 303.9 L90.6 304.9 L91.0 305.0 L91.4 304.7 L91.8 305.4 L92.2 306.0 L92.6 305.0 L93.0 304.6 L93.4 306.5 L93.8 305.0 L94.2 304.5 L94.6 305.3 L95.0 305.4 L95.4 304.7 L95.8 305.6 L96.2 304.9 L96.6 304.6 L97.0 305.2 L97.4 305.6 L97.8 304.7 L98.2 305.3 L98.6 305.0 L99.0 306.7 L99.4 304.6 L99.8 305.8 L100.2 305.0 L100.6 304.9 L101.0 305.4 L101.4 305.5 L101.8 305.7 L102.2 305.1 L102.6 304.5 L103.0 304.6 L103.4 305.2 L103.8 305.2 L104.2 305.7 L104.6 305.1 L105.0 305.4 L105.4 305.7 L105.8 304.9 L106.2 303.9 L106.6 304.0 L107.0 303.9 L107.4 305.7 L107.8 304.2 L108.2 305.4 L108.6 305.0 L109.0 305.7 L109.4 305.2 L109.8 304.5 L110.2 304.5 L110.6 304.6 L111.0 304.7 L111.4 304.2 L111.8 304.5 L112.2 305.5 L112.6 303.5 L113.0 304.6 L113.4 303.9 L113.8 304.6 L114.2 304.9 L114.6 304.4 L115.0 304.9 L115.4 303.4 L115.8 305.0 L116.2 304.0 L116.6 304.7 L117.0 304.4 L117.4 302.8 L117.8 303.8 L118.2 304.4 L118.6 305.2 L119.0 304.4 L119.4 304.4 L119.8 303.4 L120.2 305.1 L120.6 305.3 L121.0 304.2 L121.4 304.0 L121.8 303.2 L122.2 304.6 L122.6 305.7 L123.0 304.5 L123.4 304.8 L123.8 304.4 L124.2 303.4 L124.6 304.8 L125.0 303.3 L125.4 303.9 L125.8 304.1 L126.2 304.5 L126.6 304.2 L127.0 304.1 L127.4 303.4 L127.8 303.1 L128.2 303.9 L128.6 303.4 L129.0 303.0 L129.4 303.0 L129.8 303.5 L130.2 302.7 L130.6 302.9 L131.0 302.7 L131.4 303.8 L131.8 303.9 L132.2 304.9 L132.6 302.8 L133.0 303.2 L133.4 304.2 L133.8 303.5 L134.2 303.4 L134.6 304.6 L135.0 303.4 L135.4 302.8 L135.8 302.7 L136.2 303.7 L136.6 303.7 L137.0 302.7 L137.4 302.9 L137.8 303.8 L138.2 303.8 L138.6 303.0 L139.0 303.8 L139.4 303.7 L139.8 302.3 L140.2 303.2 L140.6 303.6 L141.0 303.0 L141.4 302.0 L141.8 303.1 L142.2 303.7 L142.6 304.2 L143.0 302.0 L143.4 304.8 L143.8 302.6 L144.2 303.8 L144.6 304.0 L145.0 303.8 L145.4 303.3 L145.8 302.5 L146.2 303.6 L146.6 302.8 L147.0 301.7 L147.4 304.9 L147.8 303.6 L148.2 304.3 L148.6 302.6 L149.0 304.0 L149.4 304.1 L149.8 304.1 L150.2 303.1 L150.6 302.4 L151.0 303.0 L151.4 301.8 L151.8 302.1 L152.2 303.2 L152.6 302.6 L153.0 303.1 L153.4 303.1 L153.8 304.3 L154.2 304.0 L154.6 303.2 L155.0 303.9 L155.4 302.7 L155.8 303.0 L156.2 303.8 L156.6 302.5 L157.0 303.1 L157.4 302.4 L157.8 303.3 L158.2 304.2 L158.6 302.8 L159.0 303.4 L159.4 302.8 L159.8 302.6 L160.2 302.6 L160.6 304.2 L161.0 304.8 L161.4 303.7 L161.8 302.9 L162.2 303.8 L162.6 303.2 L163.0 303.9 L163.4 303.6 L163.8 303.6 L164.2 303.8 L164.6 303.1 L165.0 303.3 L165.4 302.5 L165.8 303.3 L166.2 302.7 L166.6 303.5 L167.0 303.0 L167.4 303.7 L167.8 303.9 L168.2 302.8 L168.6 303.2 L169.0 303.1 L169.4 304.1 L169.8 304.7 L170.2 304.2 L170.6 303.5 L171.0 304.6 L171.4 302.9 L171.8 304.7 L172.2 303.4 L172.6 302.2 L173.0 305.5 L173.4 304.8 L173.8 303.3 L174.2 304.0 L174.6 303.8 L175.0 304.0 L175.4 303.1 L175.8 303.6 L176.2 304.3 L176.6 304.2 L177.0 304.8 L177.4 304.2 L177.8 305.6 L178.2 303.7 L178.6 304.4 L179.0 303.1 L179.4 303.5 L179.8 305.1 L180.2 303.7 L180.6 304.6 L181.0 304.3 L181.4 303.8 L181.8 304.2 L182.2 304.1 L182.6 304.2 L183.0 304.9 L183.4 304.9 L183.8 304.2 L184.2 304.0 L184.6 304.8 L185.0 304.6 L185.4 305.3 L185.8 306.3 L186.2 305.2 L186.6 304.7 L187.0 304.7 L187.4 304.3 L187.8 304.3 L188.2 304.2 L188.6 304.6 L189.0 304.6 L189.4 305.4 L189.8 304.7 L190.2 304.9 L190.6 304.3 L191.0 306.0 L191.4 305.4 L191.8 306.2" fill="none" stroke="#17a095" stroke-width="1.6" stroke-linejoin="round" stroke-linecap="round" />
<text x="235.20" y="12.30" font-size="15" text-anchor="start" font-weight="bold" fill="#000" stroke="#000" >c</text>
<path d="M306.0 47.3 L306.6 47.3 L307.2 47.3 L307.8 47.2 L308.4 47.1 L309.0 47.0 L309.6 46.9 L310.2 46.7 L310.8 46.4 L311.4 46.0 L312.0 45.6 L312.6 45.1 L313.2 44.4 L313.8 43.5 L314.4 42.6 L315.0 41.4 L315.6 40.0 L316.2 38.5 L316.8 36.8 L317.4 35.0 L318.0 33.0 L318.6 30.9 L319.2 28.7 L319.8 26.6 L320.4 24.5 L321.0 22.5 L321.6 20.8 L322.2 19.2 L322.8 18.0 L323.4 17.2 L324.0 16.7 L324.6 16.6 L325.2 17.0 L325.8 17.7 L326.4 18.8 L327.0 20.2 L327.6 21.9 L328.2 23.8 L328.8 25.9 L329.4 28.0 L330.0 30.2 L330.6 32.3 L331.2 34.3 L331.8 36.2 L332.4 38.0 L333.0 39.6 L333.6 41.0 L334.2 42.2 L334.8 43.2 L335.4 44.1 L336.0 44.8 L336.6 45.4 L337.2 45.9 L337.8 46.3 L338.4 46.6 L339.0 46.8 L339.6 47.0 L340.2 47.1 L340.8 47.2 L341.4 47.3 L342.0 47.3 L342.6 47.3 L342.6 47.4 L342.0 47.4 L341.4 47.4 L340.8 47.4 L340.2 47.4 L339.6 47.4 L339.0 47.4 L338.4 47.4 L337.8 47.4 L337.2 47.4 L336.6 47.4 L336.0 47.4 L335.4 47.4 L334.8 47.4 L334.2 47.4 L333.6 47.4 L333.0 47.4 L332.4 47.4 L331.8 47.4 L331.2 47.4 L330.6 47.4 L330.0 47.4 L329.4 47.4 L328.8 47.4 L328.2 47.4 L327.6 47.4 L327.0 47.4 L326.4 47.4 L325.8 47.4 L325.2 47.4 L324.6 47.4 L324.0 47.4 L323.4 47.4 L322.8 47.4 L322.2 47.4 L321.6 47.4 L321.0 47.4 L320.4 47.4 L319.8 47.4 L319.2 47.4 L318.6 47.4 L318.0 47.4 L317.4 47.4 L316.8 47.4 L316.2 47.4 L315.6 47.4 L315.0 47.4 L314.4 47.4 L313.8 47.4 L313.2 47.4 L312.6 47.4 L312.0 47.4 L311.4 47.4 L310.8 47.4 L310.2 47.4 L309.6 47.4 L309.0 47.4 L308.4 47.4 L307.8 47.4 L307.2 47.4 L306.6 47.4 L306.0 47.4 Z" fill="#cadfef" fill-opacity="0.85" stroke="none"/>
<path d="M306.0 47.3 L306.6 47.3 L307.2 47.3 L307.8 47.2 L308.4 47.1 L309.0 47.0 L309.6 46.9 L310.2 46.7 L310.8 46.4 L311.4 46.0 L312.0 45.6 L312.6 45.1 L313.2 44.4 L313.8 43.5 L314.4 42.6 L315.0 41.4 L315.6 40.0 L316.2 38.5 L316.8 36.8 L317.4 35.0 L318.0 33.0 L318.6 30.9 L319.2 28.7 L319.8 26.6 L320.4 24.5 L321.0 22.5 L321.6 20.8 L322.2 19.2 L322.8 18.0 L323.4 17.2 L324.0 16.7 L324.6 16.6 L325.2 17.0 L325.8 17.7 L326.4 18.8 L327.0 20.2 L327.6 21.9 L328.2 23.8 L328.8 25.9 L329.4 28.0 L330.0 30.2 L330.6 32.3 L331.2 34.3 L331.8 36.2 L332.4 38.0 L333.0 39.6 L333.6 41.0 L334.2 42.2 L334.8 43.2 L335.4 44.1 L336.0 44.8 L336.6 45.4 L337.2 45.9 L337.8 46.3 L338.4 46.6 L339.0 46.8 L339.6 47.0 L340.2 47.1 L340.8 47.2 L341.4 47.3 L342.0 47.3 L342.6 47.3" fill="none" stroke="#8dbde4" stroke-width="0.9"/>
<path d="M297.6 47.3 L298.2 47.3 L298.8 47.3 L299.4 47.2 L300.0 47.0 L300.6 46.9 L301.2 46.6 L301.8 46.3 L302.4 45.8 L303.0 45.2 L303.6 44.4 L304.2 43.5 L304.8 42.4 L305.4 41.1 L306.0 39.7 L306.6 38.1 L307.2 36.5 L307.8 34.9 L308.4 33.3 L309.0 31.9 L309.6 30.8 L310.2 30.0 L310.8 29.5 L311.4 29.4 L312.0 29.8 L312.6 30.6 L313.2 31.7 L313.8 33.2 L314.4 34.8 L315.0 36.5 L315.6 38.2 L316.2 39.8 L316.8 41.3 L317.4 42.6 L318.0 43.8 L318.6 44.7 L319.2 45.4 L319.8 46.0 L320.4 46.4 L321.0 46.8 L321.6 47.0 L322.2 47.1 L322.8 47.2 L323.4 47.3 L324.0 47.3 L324.0 47.4 L323.4 47.4 L322.8 47.4 L322.2 47.4 L321.6 47.4 L321.0 47.4 L320.4 47.4 L319.8 47.4 L319.2 47.4 L318.6 47.4 L318.0 47.4 L317.4 47.4 L316.8 47.4 L316.2 47.4 L315.6 47.4 L315.0 47.4 L314.4 47.4 L313.8 47.4 L313.2 47.4 L312.6 47.4 L312.0 47.4 L311.4 47.4 L310.8 47.4 L310.2 47.4 L309.6 47.4 L309.0 47.4 L308.4 47.4 L307.8 47.4 L307.2 47.4 L306.6 47.4 L306.0 47.4 L305.4 47.4 L304.8 47.4 L304.2 47.4 L303.6 47.4 L303.0 47.4 L302.4 47.4 L301.8 47.4 L301.2 47.4 L300.6 47.4 L300.0 47.4 L299.4 47.4 L298.8 47.4 L298.2 47.4 L297.6 47.4 Z" fill="#7ea2d3" fill-opacity="0.85" stroke="none"/>
<path d="M297.6 47.3 L298.2 47.3 L298.8 47.3 L299.4 47.2 L300.0 47.0 L300.6 46.9 L301.2 46.6 L301.8 46.3 L302.4 45.8 L303.0 45.2 L303.6 44.4 L304.2 43.5 L304.8 42.4 L305.4 41.1 L306.0 39.7 L306.6 38.1 L307.2 36.5 L307.8 34.9 L308.4 33.3 L309.0 31.9 L309.6 30.8 L310.2 30.0 L310.8 29.5 L311.4 29.4 L312.0 29.8 L312.6 30.6 L313.2 31.7 L313.8 33.2 L314.4 34.8 L315.0 36.5 L315.6 38.2 L316.2 39.8 L316.8 41.3 L317.4 42.6 L318.0 43.8 L318.6 44.7 L319.2 45.4 L319.8 46.0 L320.4 46.4 L321.0 46.8 L321.6 47.0 L322.2 47.1 L322.8 47.2 L323.4 47.3 L324.0 47.3" fill="none" stroke="#3f70c0" stroke-width="0.9"/>
<circle cx="258.6" cy="45.5" r="1.3" fill="none" stroke="#acacac" stroke-width="0.6"/>
<circle cx="259.9" cy="45.3" r="1.3" fill="none" stroke="#acacac" stroke-width="0.6"/>
<circle cx="261.3" cy="46.9" r="1.3" fill="none" stroke="#acacac" stroke-width="0.6"/>
<circle cx="262.7" cy="45.5" r="1.3" fill="none" stroke="#acacac" stroke-width="0.6"/>
<circle cx="264.0" cy="45.8" r="1.3" fill="none" stroke="#acacac" stroke-width="0.6"/>
<circle cx="265.4" cy="46.0" r="1.3" fill="none" stroke="#acacac" stroke-width="0.6"/>
<circle cx="266.7" cy="46.9" r="1.3" fill="none" stroke="#acacac" stroke-width="0.6"/>
<circle cx="268.1" cy="46.1" r="1.3" fill="none" stroke="#acacac" stroke-width="0.6"/>
<circle cx="269.4" cy="46.7" r="1.3" fill="none" stroke="#acacac" stroke-width="0.6"/>
<circle cx="270.8" cy="46.2" r="1.3" fill="none" stroke="#acacac" stroke-width="0.6"/>
<circle cx="272.1" cy="45.3" r="1.3" fill="none" stroke="#acacac" stroke-width="0.6"/>
<circle cx="273.5" cy="45.5" r="1.3" fill="none" stroke="#acacac" stroke-width="0.6"/>
<circle cx="274.8" cy="44.6" r="1.3" fill="none" stroke="#acacac" stroke-width="0.6"/>
<circle cx="276.2" cy="45.3" r="1.3" fill="none" stroke="#acacac" stroke-width="0.6"/>
<circle cx="277.5" cy="44.1" r="1.3" fill="none" stroke="#acacac" stroke-width="0.6"/>
<circle cx="278.9" cy="44.0" r="1.3" fill="none" stroke="#acacac" stroke-width="0.6"/>
<circle cx="280.2" cy="46.2" r="1.3" fill="none" stroke="#acacac" stroke-width="0.6"/>
<circle cx="281.6" cy="44.9" r="1.3" fill="none" stroke="#acacac" stroke-width="0.6"/>
<circle cx="282.9" cy="44.8" r="1.3" fill="none" stroke="#acacac" stroke-width="0.6"/>
<circle cx="284.3" cy="45.4" r="1.3" fill="none" stroke="#acacac" stroke-width="0.6"/>
<circle cx="285.6" cy="44.7" r="1.3" fill="none" stroke="#acacac" stroke-width="0.6"/>
<circle cx="287.0" cy="44.8" r="1.3" fill="none" stroke="#acacac" stroke-width="0.6"/>
<circle cx="288.3" cy="44.9" r="1.3" fill="none" stroke="#acacac" stroke-width="0.6"/>
<circle cx="289.7" cy="44.2" r="1.3" fill="none" stroke="#acacac" stroke-width="0.6"/>
<circle cx="291.0" cy="42.3" r="1.3" fill="none" stroke="#acacac" stroke-width="0.6"/>
<circle cx="292.4" cy="43.9" r="1.3" fill="none" stroke="#acacac" stroke-width="0.6"/>
<circle cx="293.7" cy="42.9" r="1.3" fill="none" stroke="#acacac" stroke-width="0.6"/>
<circle cx="295.1" cy="43.4" r="1.3" fill="none" stroke="#acacac" stroke-width="0.6"/>
<circle cx="296.4" cy="44.5" r="1.3" fill="none" stroke="#acacac" stroke-width="0.6"/>
<circle cx="297.8" cy="45.8" r="1.3" fill="none" stroke="#acacac" stroke-width="0.6"/>
<circle cx="299.1" cy="48.2" r="1.3" fill="none" stroke="#acacac" stroke-width="0.6"/>
<circle cx="300.5" cy="45.8" r="1.3" fill="none" stroke="#acacac" stroke-width="0.6"/>
<circle cx="301.8" cy="46.5" r="1.3" fill="none" stroke="#acacac" stroke-width="0.6"/>
<circle cx="303.2" cy="43.1" r="1.3" fill="none" stroke="#acacac" stroke-width="0.6"/>
<circle cx="304.5" cy="42.4" r="1.3" fill="none" stroke="#acacac" stroke-width="0.6"/>
<circle cx="305.9" cy="39.5" r="1.3" fill="none" stroke="#acacac" stroke-width="0.6"/>
<circle cx="307.2" cy="33.9" r="1.3" fill="none" stroke="#acacac" stroke-width="0.6"/>
<circle cx="308.6" cy="28.9" r="1.3" fill="none" stroke="#acacac" stroke-width="0.6"/>
<circle cx="309.9" cy="26.0" r="1.3" fill="none" stroke="#acacac" stroke-width="0.6"/>
<circle cx="311.3" cy="24.3" r="1.3" fill="none" stroke="#acacac" stroke-width="0.6"/>
<circle cx="312.6" cy="23.9" r="1.3" fill="none" stroke="#acacac" stroke-width="0.6"/>
<circle cx="314.0" cy="26.1" r="1.3" fill="none" stroke="#acacac" stroke-width="0.6"/>
<circle cx="315.3" cy="25.7" r="1.3" fill="none" stroke="#acacac" stroke-width="0.6"/>
<circle cx="316.7" cy="25.4" r="1.3" fill="none" stroke="#acacac" stroke-width="0.6"/>
<circle cx="318.0" cy="24.8" r="1.3" fill="none" stroke="#acacac" stroke-width="0.6"/>
<circle cx="319.4" cy="22.4" r="1.3" fill="none" stroke="#acacac" stroke-width="0.6"/>
<circle cx="320.7" cy="19.6" r="1.3" fill="none" stroke="#acacac" stroke-width="0.6"/>
<circle cx="322.1" cy="16.7" r="1.3" fill="none" stroke="#acacac" stroke-width="0.6"/>
<circle cx="323.4" cy="15.2" r="1.3" fill="none" stroke="#acacac" stroke-width="0.6"/>
<circle cx="324.8" cy="13.5" r="1.3" fill="none" stroke="#acacac" stroke-width="0.6"/>
<circle cx="326.1" cy="17.6" r="1.3" fill="none" stroke="#acacac" stroke-width="0.6"/>
<circle cx="327.5" cy="19.6" r="1.3" fill="none" stroke="#acacac" stroke-width="0.6"/>
<circle cx="328.8" cy="23.3" r="1.3" fill="none" stroke="#acacac" stroke-width="0.6"/>
<circle cx="330.2" cy="29.6" r="1.3" fill="none" stroke="#acacac" stroke-width="0.6"/>
<circle cx="331.5" cy="34.7" r="1.3" fill="none" stroke="#acacac" stroke-width="0.6"/>
<circle cx="332.9" cy="37.6" r="1.3" fill="none" stroke="#acacac" stroke-width="0.6"/>
<circle cx="334.2" cy="40.0" r="1.3" fill="none" stroke="#acacac" stroke-width="0.6"/>
<circle cx="335.6" cy="40.8" r="1.3" fill="none" stroke="#acacac" stroke-width="0.6"/>
<circle cx="336.9" cy="45.4" r="1.3" fill="none" stroke="#acacac" stroke-width="0.6"/>
<circle cx="338.3" cy="44.1" r="1.3" fill="none" stroke="#acacac" stroke-width="0.6"/>
<circle cx="339.6" cy="42.6" r="1.3" fill="none" stroke="#acacac" stroke-width="0.6"/>
<circle cx="341.0" cy="43.1" r="1.3" fill="none" stroke="#acacac" stroke-width="0.6"/>
<circle cx="342.3" cy="43.9" r="1.3" fill="none" stroke="#acacac" stroke-width="0.6"/>
<circle cx="343.7" cy="42.6" r="1.3" fill="none" stroke="#acacac" stroke-width="0.6"/>
<circle cx="345.0" cy="44.4" r="1.3" fill="none" stroke="#acacac" stroke-width="0.6"/>
<circle cx="346.4" cy="44.2" r="1.3" fill="none" stroke="#acacac" stroke-width="0.6"/>
<circle cx="347.7" cy="46.0" r="1.3" fill="none" stroke="#acacac" stroke-width="0.6"/>
<circle cx="349.1" cy="46.0" r="1.3" fill="none" stroke="#acacac" stroke-width="0.6"/>
<circle cx="350.4" cy="42.9" r="1.3" fill="none" stroke="#acacac" stroke-width="0.6"/>
<circle cx="351.8" cy="45.7" r="1.3" fill="none" stroke="#acacac" stroke-width="0.6"/>
<circle cx="353.1" cy="44.4" r="1.3" fill="none" stroke="#acacac" stroke-width="0.6"/>
<circle cx="354.5" cy="47.0" r="1.3" fill="none" stroke="#acacac" stroke-width="0.6"/>
<circle cx="355.8" cy="46.2" r="1.3" fill="none" stroke="#acacac" stroke-width="0.6"/>
<circle cx="357.2" cy="46.5" r="1.3" fill="none" stroke="#acacac" stroke-width="0.6"/>
<circle cx="358.5" cy="44.9" r="1.3" fill="none" stroke="#acacac" stroke-width="0.6"/>
<circle cx="359.9" cy="47.2" r="1.3" fill="none" stroke="#acacac" stroke-width="0.6"/>
<circle cx="361.2" cy="46.9" r="1.3" fill="none" stroke="#acacac" stroke-width="0.6"/>
<circle cx="362.6" cy="43.7" r="1.3" fill="none" stroke="#acacac" stroke-width="0.6"/>
<circle cx="363.9" cy="44.8" r="1.3" fill="none" stroke="#acacac" stroke-width="0.6"/>
<circle cx="365.3" cy="43.8" r="1.3" fill="none" stroke="#acacac" stroke-width="0.6"/>
<circle cx="366.6" cy="44.3" r="1.3" fill="none" stroke="#acacac" stroke-width="0.6"/>
<circle cx="368.0" cy="43.2" r="1.3" fill="none" stroke="#acacac" stroke-width="0.6"/>
<circle cx="369.3" cy="46.0" r="1.3" fill="none" stroke="#acacac" stroke-width="0.6"/>
<circle cx="370.7" cy="43.7" r="1.3" fill="none" stroke="#acacac" stroke-width="0.6"/>
<circle cx="372.0" cy="44.8" r="1.3" fill="none" stroke="#acacac" stroke-width="0.6"/>
<circle cx="373.4" cy="45.9" r="1.3" fill="none" stroke="#acacac" stroke-width="0.6"/>
<circle cx="374.7" cy="45.4" r="1.3" fill="none" stroke="#acacac" stroke-width="0.6"/>
<circle cx="376.1" cy="46.2" r="1.3" fill="none" stroke="#acacac" stroke-width="0.6"/>
<circle cx="377.4" cy="46.2" r="1.3" fill="none" stroke="#acacac" stroke-width="0.6"/>
<circle cx="378.8" cy="46.8" r="1.3" fill="none" stroke="#acacac" stroke-width="0.6"/>
<circle cx="380.1" cy="45.8" r="1.3" fill="none" stroke="#acacac" stroke-width="0.6"/>
<circle cx="381.5" cy="46.1" r="1.3" fill="none" stroke="#acacac" stroke-width="0.6"/>
<circle cx="382.8" cy="45.7" r="1.3" fill="none" stroke="#acacac" stroke-width="0.6"/>
<circle cx="384.2" cy="45.0" r="1.3" fill="none" stroke="#acacac" stroke-width="0.6"/>
<circle cx="385.5" cy="44.6" r="1.3" fill="none" stroke="#acacac" stroke-width="0.6"/>
<circle cx="386.9" cy="43.8" r="1.3" fill="none" stroke="#acacac" stroke-width="0.6"/>
<circle cx="388.2" cy="44.4" r="1.3" fill="none" stroke="#acacac" stroke-width="0.6"/>
<circle cx="389.6" cy="43.5" r="1.3" fill="none" stroke="#acacac" stroke-width="0.6"/>
<circle cx="390.9" cy="44.0" r="1.3" fill="none" stroke="#acacac" stroke-width="0.6"/>
<circle cx="392.3" cy="44.1" r="1.3" fill="none" stroke="#acacac" stroke-width="0.6"/>
<circle cx="393.6" cy="44.9" r="1.3" fill="none" stroke="#acacac" stroke-width="0.6"/>
<circle cx="395.0" cy="44.9" r="1.3" fill="none" stroke="#acacac" stroke-width="0.6"/>
<circle cx="396.3" cy="47.1" r="1.3" fill="none" stroke="#acacac" stroke-width="0.6"/>
<circle cx="397.7" cy="45.8" r="1.3" fill="none" stroke="#acacac" stroke-width="0.6"/>
<circle cx="399.0" cy="46.0" r="1.3" fill="none" stroke="#acacac" stroke-width="0.6"/>
<circle cx="400.4" cy="46.6" r="1.3" fill="none" stroke="#acacac" stroke-width="0.6"/>
<circle cx="401.7" cy="46.2" r="1.3" fill="none" stroke="#acacac" stroke-width="0.6"/>
<circle cx="403.1" cy="45.3" r="1.3" fill="none" stroke="#acacac" stroke-width="0.6"/>
<circle cx="404.4" cy="43.7" r="1.3" fill="none" stroke="#acacac" stroke-width="0.6"/>
<circle cx="405.8" cy="45.9" r="1.3" fill="none" stroke="#acacac" stroke-width="0.6"/>
<circle cx="407.1" cy="45.8" r="1.3" fill="none" stroke="#acacac" stroke-width="0.6"/>
<circle cx="408.5" cy="44.4" r="1.3" fill="none" stroke="#acacac" stroke-width="0.6"/>
<circle cx="409.8" cy="46.5" r="1.3" fill="none" stroke="#acacac" stroke-width="0.6"/>
<circle cx="411.2" cy="45.2" r="1.3" fill="none" stroke="#acacac" stroke-width="0.6"/>
<circle cx="412.5" cy="44.8" r="1.3" fill="none" stroke="#acacac" stroke-width="0.6"/>
<circle cx="413.9" cy="45.7" r="1.3" fill="none" stroke="#acacac" stroke-width="0.6"/>
<circle cx="415.2" cy="45.3" r="1.3" fill="none" stroke="#acacac" stroke-width="0.6"/>
<circle cx="416.6" cy="45.5" r="1.3" fill="none" stroke="#acacac" stroke-width="0.6"/>
<circle cx="417.9" cy="43.8" r="1.3" fill="none" stroke="#acacac" stroke-width="0.6"/>
<circle cx="419.3" cy="46.8" r="1.3" fill="none" stroke="#acacac" stroke-width="0.6"/>
<circle cx="420.6" cy="44.5" r="1.3" fill="none" stroke="#acacac" stroke-width="0.6"/>
<circle cx="422.0" cy="43.7" r="1.3" fill="none" stroke="#acacac" stroke-width="0.6"/>
<circle cx="423.3" cy="45.9" r="1.3" fill="none" stroke="#acacac" stroke-width="0.6"/>
<circle cx="424.7" cy="45.6" r="1.3" fill="none" stroke="#acacac" stroke-width="0.6"/>
<circle cx="426.0" cy="46.7" r="1.3" fill="none" stroke="#acacac" stroke-width="0.6"/>
<path d="M257.4 47.4 L258.0 47.4 L258.6 47.4 L259.2 47.4 L259.8 47.4 L260.4 47.4 L261.0 47.4 L261.6 47.4 L262.2 47.4 L262.8 47.4 L263.4 47.4 L264.0 47.4 L264.6 47.4 L265.2 47.4 L265.8 47.4 L266.4 47.4 L267.0 47.4 L267.6 47.4 L268.2 47.4 L268.8 47.4 L269.4 47.4 L270.0 47.4 L270.6 47.4 L271.2 47.4 L271.8 47.4 L272.4 47.4 L273.0 47.4 L273.6 47.4 L274.2 47.4 L274.8 47.4 L275.4 47.4 L276.0 47.4 L276.6 47.4 L277.2 47.4 L277.8 47.4 L278.4 47.4 L279.0 47.4 L279.6 47.4 L280.2 47.4 L280.8 47.4 L281.4 47.4 L282.0 47.4 L282.6 47.4 L283.2 47.4 L283.8 47.4 L284.4 47.4 L285.0 47.4 L285.6 47.4 L286.2 47.4 L286.8 47.4 L287.4 47.4 L288.0 47.4 L288.6 47.4 L289.2 47.4 L289.8 47.4 L290.4 47.4 L291.0 47.4 L291.6 47.4 L292.2 47.4 L292.8 47.4 L293.4 47.4 L294.0 47.4 L294.6 47.4 L295.2 47.4 L295.8 47.4 L296.4 47.4 L297.0 47.4 L297.6 47.4 L298.2 47.4 L298.8 47.4 L299.4 47.4 L300.0 47.4 L300.6 47.4 L301.2 47.4 L301.8 47.4 L302.4 47.4 L303.0 47.4 L303.6 47.4 L304.2 47.4 L304.8 47.4 L305.4 47.4 L306.0 47.4 L306.6 47.4 L307.2 47.4 L307.8 47.4 L308.4 47.4 L309.0 47.4 L309.6 47.4 L310.2 47.4 L310.8 47.4 L311.4 47.4 L312.0 47.4 L312.6 47.4 L313.2 47.4 L313.8 47.4 L314.4 47.4 L315.0 47.4 L315.6 47.4 L316.2 47.4 L316.8 47.4 L317.4 47.4 L318.0 47.4 L318.6 47.4 L319.2 47.4 L319.8 47.4 L320.4 47.4 L321.0 47.4 L321.6 47.4 L322.2 47.4 L322.8 47.4 L323.4 47.4 L324.0 47.4 L324.6 47.4 L325.2 47.4 L325.8 47.4 L326.4 47.4 L327.0 47.4 L327.6 47.4 L328.2 47.4 L328.8 47.4 L329.4 47.4 L330.0 47.4 L330.6 47.4 L331.2 47.4 L331.8 47.4 L332.4 47.4 L333.0 47.4 L333.6 47.4 L334.2 47.4 L334.8 47.4 L335.4 47.4 L336.0 47.4 L336.6 47.4 L337.2 47.4 L337.8 47.4 L338.4 47.4 L339.0 47.4 L339.6 47.4 L340.2 47.4 L340.8 47.4 L341.4 47.4 L342.0 47.4 L342.6 47.4 L343.2 47.4 L343.8 47.4 L344.4 47.4 L345.0 47.4 L345.6 47.4 L346.2 47.4 L346.8 47.4 L347.4 47.4 L348.0 47.4 L348.6 47.4 L349.2 47.4 L349.8 47.4 L350.4 47.4 L351.0 47.4 L351.6 47.4 L352.2 47.4 L352.8 47.4 L353.4 47.4 L354.0 47.4 L354.6 47.4 L355.2 47.4 L355.8 47.4 L356.4 47.4 L357.0 47.4 L357.6 47.4 L358.2 47.4 L358.8 47.4 L359.4 47.4 L360.0 47.4 L360.6 47.4 L361.2 47.4 L361.8 47.4 L362.4 47.4 L363.0 47.4 L363.6 47.4 L364.2 47.4 L364.8 47.4 L365.4 47.4 L366.0 47.4 L366.6 47.4 L367.2 47.4 L367.8 47.4 L368.4 47.4 L369.0 47.4 L369.6 47.4 L370.2 47.4 L370.8 47.4 L371.4 47.4 L372.0 47.4 L372.6 47.4 L373.2 47.4 L373.8 47.4 L374.4 47.4 L375.0 47.4 L375.6 47.4 L376.2 47.4 L376.8 47.4 L377.4 47.4 L378.0 47.4 L378.6 47.4 L379.2 47.4 L379.8 47.4 L380.4 47.4 L381.0 47.4 L381.6 47.4 L382.2 47.4 L382.8 47.4 L383.4 47.4 L384.0 47.4 L384.6 47.4 L385.2 47.4 L385.8 47.4 L386.4 47.4 L387.0 47.4 L387.6 47.4 L388.2 47.4 L388.8 47.4 L389.4 47.4 L390.0 47.4 L390.6 47.4 L391.2 47.4 L391.8 47.4 L392.4 47.4 L393.0 47.4 L393.6 47.4 L394.2 47.4 L394.8 47.4 L395.4 47.4 L396.0 47.4 L396.6 47.4 L397.2 47.4 L397.8 47.4 L398.4 47.4 L399.0 47.4 L399.6 47.4 L400.2 47.4 L400.8 47.4 L401.4 47.4 L402.0 47.4 L402.6 47.4 L403.2 47.4 L403.8 47.4 L404.4 47.4 L405.0 47.4 L405.6 47.4 L406.2 47.4 L406.8 47.4 L407.4 47.4 L408.0 47.4 L408.6 47.4 L409.2 47.4 L409.8 47.4 L410.4 47.4 L411.0 47.4 L411.6 47.4 L412.2 47.4 L412.8 47.4 L413.4 47.4 L414.0 47.4 L414.6 47.4 L415.2 47.4 L415.8 47.4 L416.4 47.4 L417.0 47.4 L417.6 47.4 L418.2 47.4 L418.8 47.4 L419.4 47.4 L420.0 47.4 L420.6 47.4 L421.2 47.4 L421.8 47.4 L422.4 47.4 L423.0 47.4 L423.6 47.4 L424.2 47.4 L424.8 47.4 L425.4 47.4 L426.0 47.4 L426.6 47.4 L427.2 47.4 L427.8 47.4" fill="none" stroke="#8a8a8a" stroke-width="1.4" stroke-linejoin="round" stroke-linecap="round" />
<path d="M257.4 47.4 L258.0 47.4 L258.6 47.4 L259.2 47.4 L259.8 47.4 L260.4 47.4 L261.0 47.4 L261.6 47.4 L262.2 47.4 L262.8 47.4 L263.4 47.4 L264.0 47.4 L264.6 47.4 L265.2 47.4 L265.8 47.4 L266.4 47.4 L267.0 47.4 L267.6 47.4 L268.2 47.4 L268.8 47.4 L269.4 47.4 L270.0 47.4 L270.6 47.4 L271.2 47.4 L271.8 47.4 L272.4 47.4 L273.0 47.4 L273.6 47.4 L274.2 47.4 L274.8 47.4 L275.4 47.4 L276.0 47.4 L276.6 47.4 L277.2 47.4 L277.8 47.4 L278.4 47.4 L279.0 47.4 L279.6 47.4 L280.2 47.4 L280.8 47.4 L281.4 47.4 L282.0 47.4 L282.6 47.4 L283.2 47.4 L283.8 47.4 L284.4 47.4 L285.0 47.4 L285.6 47.4 L286.2 47.4 L286.8 47.4 L287.4 47.4 L288.0 47.4 L288.6 47.4 L289.2 47.4 L289.8 47.4 L290.4 47.4 L291.0 47.4 L291.6 47.4 L292.2 47.4 L292.8 47.4 L293.4 47.4 L294.0 47.4 L294.6 47.4 L295.2 47.4 L295.8 47.4 L296.4 47.4 L297.0 47.4 L297.6 47.3 L298.2 47.3 L298.8 47.3 L299.4 47.2 L300.0 47.0 L300.6 46.9 L301.2 46.6 L301.8 46.3 L302.4 45.8 L303.0 45.2 L303.6 44.4 L304.2 43.5 L304.8 42.3 L305.4 41.0 L306.0 39.5 L306.6 37.9 L307.2 36.2 L307.8 34.5 L308.4 32.8 L309.0 31.2 L309.6 29.9 L310.2 28.8 L310.8 28.0 L311.4 27.4 L312.0 27.3 L312.6 27.4 L313.2 27.8 L313.8 28.2 L314.4 28.8 L315.0 29.2 L315.6 29.5 L316.2 29.5 L316.8 29.3 L317.4 28.7 L318.0 27.8 L318.6 26.7 L319.2 25.3 L319.8 23.8 L320.4 22.2 L321.0 20.6 L321.6 19.2 L322.2 17.9 L322.8 16.9 L323.4 16.2 L324.0 15.9 L324.6 16.0 L325.2 16.4 L325.8 17.2 L326.4 18.4 L327.0 19.9 L327.6 21.7 L328.2 23.6 L328.8 25.7 L329.4 27.9 L330.0 30.1 L330.6 32.2 L331.2 34.3 L331.8 36.2 L332.4 37.9 L333.0 39.5 L333.6 40.9 L334.2 42.2 L334.8 43.2 L335.4 44.1 L336.0 44.8 L336.6 45.4 L337.2 45.9 L337.8 46.3 L338.4 46.6 L339.0 46.8 L339.6 47.0 L340.2 47.1 L340.8 47.2 L341.4 47.3 L342.0 47.3 L342.6 47.3 L343.2 47.4 L343.8 47.4 L344.4 47.4 L345.0 47.4 L345.6 47.4 L346.2 47.4 L346.8 47.4 L347.4 47.4 L348.0 47.4 L348.6 47.4 L349.2 47.4 L349.8 47.4 L350.4 47.4 L351.0 47.4 L351.6 47.4 L352.2 47.4 L352.8 47.4 L353.4 47.4 L354.0 47.4 L354.6 47.4 L355.2 47.4 L355.8 47.4 L356.4 47.4 L357.0 47.4 L357.6 47.4 L358.2 47.4 L358.8 47.4 L359.4 47.4 L360.0 47.4 L360.6 47.4 L361.2 47.4 L361.8 47.4 L362.4 47.4 L363.0 47.4 L363.6 47.4 L364.2 47.4 L364.8 47.4 L365.4 47.4 L366.0 47.4 L366.6 47.4 L367.2 47.4 L367.8 47.4 L368.4 47.4 L369.0 47.4 L369.6 47.4 L370.2 47.4 L370.8 47.4 L371.4 47.4 L372.0 47.4 L372.6 47.4 L373.2 47.4 L373.8 47.4 L374.4 47.4 L375.0 47.4 L375.6 47.4 L376.2 47.4 L376.8 47.4 L377.4 47.4 L378.0 47.4 L378.6 47.4 L379.2 47.4 L379.8 47.4 L380.4 47.4 L381.0 47.4 L381.6 47.4 L382.2 47.4 L382.8 47.4 L383.4 47.4 L384.0 47.4 L384.6 47.4 L385.2 47.4 L385.8 47.4 L386.4 47.4 L387.0 47.4 L387.6 47.4 L388.2 47.4 L388.8 47.4 L389.4 47.4 L390.0 47.4 L390.6 47.4 L391.2 47.4 L391.8 47.4 L392.4 47.4 L393.0 47.4 L393.6 47.4 L394.2 47.4 L394.8 47.4 L395.4 47.4 L396.0 47.4 L396.6 47.4 L397.2 47.4 L397.8 47.4 L398.4 47.4 L399.0 47.4 L399.6 47.4 L400.2 47.4 L400.8 47.4 L401.4 47.4 L402.0 47.4 L402.6 47.4 L403.2 47.4 L403.8 47.4 L404.4 47.4 L405.0 47.4 L405.6 47.4 L406.2 47.4 L406.8 47.4 L407.4 47.4 L408.0 47.4 L408.6 47.4 L409.2 47.4 L409.8 47.4 L410.4 47.4 L411.0 47.4 L411.6 47.4 L412.2 47.4 L412.8 47.4 L413.4 47.4 L414.0 47.4 L414.6 47.4 L415.2 47.4 L415.8 47.4 L416.4 47.4 L417.0 47.4 L417.6 47.4 L418.2 47.4 L418.8 47.4 L419.4 47.4 L420.0 47.4 L420.6 47.4 L421.2 47.4 L421.8 47.4 L422.4 47.4 L423.0 47.4 L423.6 47.4 L424.2 47.4 L424.8 47.4 L425.4 47.4 L426.0 47.4 L426.6 47.4 L427.2 47.4 L427.8 47.4" fill="none" stroke="#7a7a7a" stroke-width="1.6" stroke-linejoin="round" stroke-linecap="round" />
<path d="M311.4 97.9 L312.0 97.9 L312.6 97.9 L313.2 97.8 L313.8 97.7 L314.4 97.5 L315.0 97.2 L315.6 96.9 L316.2 96.4 L316.8 95.8 L317.4 95.0 L318.0 94.0 L318.6 92.8 L319.2 91.3 L319.8 89.5 L320.4 87.5 L321.0 85.3 L321.6 83.0 L322.2 80.6 L322.8 78.1 L323.4 75.9 L324.0 73.8 L324.6 72.1 L325.2 70.8 L325.8 70.1 L326.4 69.9 L327.0 70.3 L327.6 71.2 L328.2 72.6 L328.8 74.5 L329.4 76.6 L330.0 78.9 L330.6 81.4 L331.2 83.8 L331.8 86.1 L332.4 88.2 L333.0 90.1 L333.6 91.8 L334.2 93.2 L334.8 94.4 L335.4 95.3 L336.0 96.0 L336.6 96.6 L337.2 97.0 L337.8 97.3 L338.4 97.6 L339.0 97.7 L339.6 97.8 L340.2 97.9 L340.8 97.9 L340.8 98.0 L340.2 98.0 L339.6 98.0 L339.0 98.0 L338.4 98.0 L337.8 98.0 L337.2 98.0 L336.6 98.0 L336.0 98.0 L335.4 98.0 L334.8 98.0 L334.2 98.0 L333.6 98.0 L333.0 98.0 L332.4 98.0 L331.8 98.0 L331.2 98.0 L330.6 98.0 L330.0 98.0 L329.4 98.0 L328.8 98.0 L328.2 98.0 L327.6 98.0 L327.0 98.0 L326.4 98.0 L325.8 98.0 L325.2 98.0 L324.6 98.0 L324.0 98.0 L323.4 98.0 L322.8 98.0 L322.2 98.0 L321.6 98.0 L321.0 98.0 L320.4 98.0 L319.8 98.0 L319.2 98.0 L318.6 98.0 L318.0 98.0 L317.4 98.0 L316.8 98.0 L316.2 98.0 L315.6 98.0 L315.0 98.0 L314.4 98.0 L313.8 98.0 L313.2 98.0 L312.6 98.0 L312.0 98.0 L311.4 98.0 Z" fill="#cadfef" fill-opacity="0.85" stroke="none"/>
<path d="M311.4 97.9 L312.0 97.9 L312.6 97.9 L313.2 97.8 L313.8 97.7 L314.4 97.5 L315.0 97.2 L315.6 96.9 L316.2 96.4 L316.8 95.8 L317.4 95.0 L318.0 94.0 L318.6 92.8 L319.2 91.3 L319.8 89.5 L320.4 87.5 L321.0 85.3 L321.6 83.0 L322.2 80.6 L322.8 78.1 L323.4 75.9 L324.0 73.8 L324.6 72.1 L325.2 70.8 L325.8 70.1 L326.4 69.9 L327.0 70.3 L327.6 71.2 L328.2 72.6 L328.8 74.5 L329.4 76.6 L330.0 78.9 L330.6 81.4 L331.2 83.8 L331.8 86.1 L332.4 88.2 L333.0 90.1 L333.6 91.8 L334.2 93.2 L334.8 94.4 L335.4 95.3 L336.0 96.0 L336.6 96.6 L337.2 97.0 L337.8 97.3 L338.4 97.6 L339.0 97.7 L339.6 97.8 L340.2 97.9 L340.8 97.9" fill="none" stroke="#8dbde4" stroke-width="0.9"/>
<path d="M286.8 97.9 L287.4 97.9 L288.0 97.9 L288.6 97.9 L289.2 97.8 L289.8 97.8 L290.4 97.8 L291.0 97.7 L291.6 97.6 L292.2 97.5 L292.8 97.4 L293.4 97.3 L294.0 97.1 L294.6 97.0 L295.2 96.8 L295.8 96.5 L296.4 96.3 L297.0 96.0 L297.6 95.6 L298.2 95.2 L298.8 94.8 L299.4 94.3 L300.0 93.7 L300.6 93.2 L301.2 92.5 L301.8 91.8 L302.4 91.1 L303.0 90.3 L303.6 89.5 L304.2 88.7 L304.8 87.8 L305.4 86.9 L306.0 86.0 L306.6 85.0 L307.2 84.1 L307.8 83.3 L308.4 82.4 L309.0 81.6 L309.6 80.8 L310.2 80.2 L310.8 79.5 L311.4 79.0 L312.0 78.6 L312.6 78.3 L313.2 78.0 L313.8 77.9 L314.4 77.9 L315.0 78.1 L315.6 78.4 L316.2 78.9 L316.8 79.5 L317.4 80.3 L318.0 81.1 L318.6 82.1 L319.2 83.1 L319.8 84.2 L320.4 85.3 L321.0 86.4 L321.6 87.5 L322.2 88.5 L322.8 89.6 L323.4 90.6 L324.0 91.5 L324.6 92.3 L325.2 93.1 L325.8 93.8 L326.4 94.5 L327.0 95.0 L327.6 95.5 L328.2 95.9 L328.8 96.3 L329.4 96.6 L330.0 96.9 L330.6 97.1 L331.2 97.3 L331.8 97.4 L332.4 97.6 L333.0 97.7 L333.6 97.7 L334.2 97.8 L334.8 97.9 L335.4 97.9 L336.0 97.9 L336.6 97.9 L336.6 98.0 L336.0 98.0 L335.4 98.0 L334.8 98.0 L334.2 98.0 L333.6 98.0 L333.0 98.0 L332.4 98.0 L331.8 98.0 L331.2 98.0 L330.6 98.0 L330.0 98.0 L329.4 98.0 L328.8 98.0 L328.2 98.0 L327.6 98.0 L327.0 98.0 L326.4 98.0 L325.8 98.0 L325.2 98.0 L324.6 98.0 L324.0 98.0 L323.4 98.0 L322.8 98.0 L322.2 98.0 L321.6 98.0 L321.0 98.0 L320.4 98.0 L319.8 98.0 L319.2 98.0 L318.6 98.0 L318.0 98.0 L317.4 98.0 L316.8 98.0 L316.2 98.0 L315.6 98.0 L315.0 98.0 L314.4 98.0 L313.8 98.0 L313.2 98.0 L312.6 98.0 L312.0 98.0 L311.4 98.0 L310.8 98.0 L310.2 98.0 L309.6 98.0 L309.0 98.0 L308.4 98.0 L307.8 98.0 L307.2 98.0 L306.6 98.0 L306.0 98.0 L305.4 98.0 L304.8 98.0 L304.2 98.0 L303.6 98.0 L303.0 98.0 L302.4 98.0 L301.8 98.0 L301.2 98.0 L300.6 98.0 L300.0 98.0 L299.4 98.0 L298.8 98.0 L298.2 98.0 L297.6 98.0 L297.0 98.0 L296.4 98.0 L295.8 98.0 L295.2 98.0 L294.6 98.0 L294.0 98.0 L293.4 98.0 L292.8 98.0 L292.2 98.0 L291.6 98.0 L291.0 98.0 L290.4 98.0 L289.8 98.0 L289.2 98.0 L288.6 98.0 L288.0 98.0 L287.4 98.0 L286.8 98.0 Z" fill="#7ea2d3" fill-opacity="0.85" stroke="none"/>
<path d="M286.8 97.9 L287.4 97.9 L288.0 97.9 L288.6 97.9 L289.2 97.8 L289.8 97.8 L290.4 97.8 L291.0 97.7 L291.6 97.6 L292.2 97.5 L292.8 97.4 L293.4 97.3 L294.0 97.1 L294.6 97.0 L295.2 96.8 L295.8 96.5 L296.4 96.3 L297.0 96.0 L297.6 95.6 L298.2 95.2 L298.8 94.8 L299.4 94.3 L300.0 93.7 L300.6 93.2 L301.2 92.5 L301.8 91.8 L302.4 91.1 L303.0 90.3 L303.6 89.5 L304.2 88.7 L304.8 87.8 L305.4 86.9 L306.0 86.0 L306.6 85.0 L307.2 84.1 L307.8 83.3 L308.4 82.4 L309.0 81.6 L309.6 80.8 L310.2 80.2 L310.8 79.5 L311.4 79.0 L312.0 78.6 L312.6 78.3 L313.2 78.0 L313.8 77.9 L314.4 77.9 L315.0 78.1 L315.6 78.4 L316.2 78.9 L316.8 79.5 L317.4 80.3 L318.0 81.1 L318.6 82.1 L319.2 83.1 L319.8 84.2 L320.4 85.3 L321.0 86.4 L321.6 87.5 L322.2 88.5 L322.8 89.6 L323.4 90.6 L324.0 91.5 L324.6 92.3 L325.2 93.1 L325.8 93.8 L326.4 94.5 L327.0 95.0 L327.6 95.5 L328.2 95.9 L328.8 96.3 L329.4 96.6 L330.0 96.9 L330.6 97.1 L331.2 97.3 L331.8 97.4 L332.4 97.6 L333.0 97.7 L333.6 97.7 L334.2 97.8 L334.8 97.9 L335.4 97.9 L336.0 97.9 L336.6 97.9" fill="none" stroke="#3f70c0" stroke-width="0.9"/>
<path d="M346.8 97.9 L347.4 97.9 L348.0 97.9 L348.6 97.9 L349.2 97.9 L349.8 97.9 L350.4 97.9 L351.0 97.8 L351.6 97.8 L352.2 97.8 L352.8 97.7 L353.4 97.7 L354.0 97.7 L354.6 97.6 L355.2 97.6 L355.8 97.6 L356.4 97.5 L357.0 97.5 L357.6 97.4 L358.2 97.4 L358.8 97.3 L359.4 97.3 L360.0 97.2 L360.6 97.2 L361.2 97.2 L361.8 97.1 L362.4 97.1 L363.0 97.1 L363.6 97.0 L364.2 97.0 L364.8 97.0 L365.4 97.0 L366.0 97.0 L366.6 97.0 L367.2 97.0 L367.8 97.0 L368.4 97.0 L369.0 97.1 L369.6 97.1 L370.2 97.1 L370.8 97.2 L371.4 97.2 L372.0 97.2 L372.6 97.3 L373.2 97.3 L373.8 97.4 L374.4 97.4 L375.0 97.5 L375.6 97.5 L376.2 97.6 L376.8 97.6 L377.4 97.6 L378.0 97.7 L378.6 97.7 L379.2 97.7 L379.8 97.8 L380.4 97.8 L381.0 97.8 L381.6 97.9 L382.2 97.9 L382.8 97.9 L383.4 97.9 L384.0 97.9 L384.6 97.9 L385.2 97.9 L385.2 98.0 L384.6 98.0 L384.0 98.0 L383.4 98.0 L382.8 98.0 L382.2 98.0 L381.6 98.0 L381.0 98.0 L380.4 98.0 L379.8 98.0 L379.2 98.0 L378.6 98.0 L378.0 98.0 L377.4 98.0 L376.8 98.0 L376.2 98.0 L375.6 98.0 L375.0 98.0 L374.4 98.0 L373.8 98.0 L373.2 98.0 L372.6 98.0 L372.0 98.0 L371.4 98.0 L370.8 98.0 L370.2 98.0 L369.6 98.0 L369.0 98.0 L368.4 98.0 L367.8 98.0 L367.2 98.0 L366.6 98.0 L366.0 98.0 L365.4 98.0 L364.8 98.0 L364.2 98.0 L363.6 98.0 L363.0 98.0 L362.4 98.0 L361.8 98.0 L361.2 98.0 L360.6 98.0 L360.0 98.0 L359.4 98.0 L358.8 98.0 L358.2 98.0 L357.6 98.0 L357.0 98.0 L356.4 98.0 L355.8 98.0 L355.2 98.0 L354.6 98.0 L354.0 98.0 L353.4 98.0 L352.8 98.0 L352.2 98.0 L351.6 98.0 L351.0 98.0 L350.4 98.0 L349.8 98.0 L349.2 98.0 L348.6 98.0 L348.0 98.0 L347.4 98.0 L346.8 98.0 Z" fill="#fdefcf" fill-opacity="0.85" stroke="none"/>
<path d="M346.8 97.9 L347.4 97.9 L348.0 97.9 L348.6 97.9 L349.2 97.9 L349.8 97.9 L350.4 97.9 L351.0 97.8 L351.6 97.8 L352.2 97.8 L352.8 97.7 L353.4 97.7 L354.0 97.7 L354.6 97.6 L355.2 97.6 L355.8 97.6 L356.4 97.5 L357.0 97.5 L357.6 97.4 L358.2 97.4 L358.8 97.3 L359.4 97.3 L360.0 97.2 L360.6 97.2 L361.2 97.2 L361.8 97.1 L362.4 97.1 L363.0 97.1 L363.6 97.0 L364.2 97.0 L364.8 97.0 L365.4 97.0 L366.0 97.0 L366.6 97.0 L367.2 97.0 L367.8 97.0 L368.4 97.0 L369.0 97.1 L369.6 97.1 L370.2 97.1 L370.8 97.2 L371.4 97.2 L372.0 97.2 L372.6 97.3 L373.2 97.3 L373.8 97.4 L374.4 97.4 L375.0 97.5 L375.6 97.5 L376.2 97.6 L376.8 97.6 L377.4 97.6 L378.0 97.7 L378.6 97.7 L379.2 97.7 L379.8 97.8 L380.4 97.8 L381.0 97.8 L381.6 97.9 L382.2 97.9 L382.8 97.9 L383.4 97.9 L384.0 97.9 L384.6 97.9 L385.2 97.9" fill="none" stroke="#f3d58f" stroke-width="0.9"/>
<path d="M355.2 97.9 L355.8 97.9 L356.4 97.9 L357.0 97.9 L357.6 97.9 L358.2 97.8 L358.8 97.8 L359.4 97.7 L360.0 97.7 L360.6 97.6 L361.2 97.6 L361.8 97.5 L362.4 97.4 L363.0 97.3 L363.6 97.2 L364.2 97.1 L364.8 97.0 L365.4 96.9 L366.0 96.7 L366.6 96.6 L367.2 96.5 L367.8 96.3 L368.4 96.2 L369.0 96.1 L369.6 95.9 L370.2 95.8 L370.8 95.7 L371.4 95.6 L372.0 95.5 L372.6 95.5 L373.2 95.4 L373.8 95.4 L374.4 95.4 L375.0 95.4 L375.6 95.4 L376.2 95.5 L376.8 95.5 L377.4 95.6 L378.0 95.7 L378.6 95.8 L379.2 95.9 L379.8 96.1 L380.4 96.2 L381.0 96.3 L381.6 96.5 L382.2 96.6 L382.8 96.7 L383.4 96.9 L384.0 97.0 L384.6 97.1 L385.2 97.2 L385.8 97.3 L386.4 97.4 L387.0 97.5 L387.6 97.6 L388.2 97.6 L388.8 97.7 L389.4 97.7 L390.0 97.8 L390.6 97.8 L391.2 97.9 L391.8 97.9 L392.4 97.9 L393.0 97.9 L393.6 97.9 L393.6 98.0 L393.0 98.0 L392.4 98.0 L391.8 98.0 L391.2 98.0 L390.6 98.0 L390.0 98.0 L389.4 98.0 L388.8 98.0 L388.2 98.0 L387.6 98.0 L387.0 98.0 L386.4 98.0 L385.8 98.0 L385.2 98.0 L384.6 98.0 L384.0 98.0 L383.4 98.0 L382.8 98.0 L382.2 98.0 L381.6 98.0 L381.0 98.0 L380.4 98.0 L379.8 98.0 L379.2 98.0 L378.6 98.0 L378.0 98.0 L377.4 98.0 L376.8 98.0 L376.2 98.0 L375.6 98.0 L375.0 98.0 L374.4 98.0 L373.8 98.0 L373.2 98.0 L372.6 98.0 L372.0 98.0 L371.4 98.0 L370.8 98.0 L370.2 98.0 L369.6 98.0 L369.0 98.0 L368.4 98.0 L367.8 98.0 L367.2 98.0 L366.6 98.0 L366.0 98.0 L365.4 98.0 L364.8 98.0 L364.2 98.0 L363.6 98.0 L363.0 98.0 L362.4 98.0 L361.8 98.0 L361.2 98.0 L360.6 98.0 L360.0 98.0 L359.4 98.0 L358.8 98.0 L358.2 98.0 L357.6 98.0 L357.0 98.0 L356.4 98.0 L355.8 98.0 L355.2 98.0 Z" fill="#fdce55" fill-opacity="0.85" stroke="none"/>
<path d="M355.2 97.9 L355.8 97.9 L356.4 97.9 L357.0 97.9 L357.6 97.9 L358.2 97.8 L358.8 97.8 L359.4 97.7 L360.0 97.7 L360.6 97.6 L361.2 97.6 L361.8 97.5 L362.4 97.4 L363.0 97.3 L363.6 97.2 L364.2 97.1 L364.8 97.0 L365.4 96.9 L366.0 96.7 L366.6 96.6 L367.2 96.5 L367.8 96.3 L368.4 96.2 L369.0 96.1 L369.6 95.9 L370.2 95.8 L370.8 95.7 L371.4 95.6 L372.0 95.5 L372.6 95.5 L373.2 95.4 L373.8 95.4 L374.4 95.4 L375.0 95.4 L375.6 95.4 L376.2 95.5 L376.8 95.5 L377.4 95.6 L378.0 95.7 L378.6 95.8 L379.2 95.9 L379.8 96.1 L380.4 96.2 L381.0 96.3 L381.6 96.5 L382.2 96.6 L382.8 96.7 L383.4 96.9 L384.0 97.0 L384.6 97.1 L385.2 97.2 L385.8 97.3 L386.4 97.4 L387.0 97.5 L387.6 97.6 L388.2 97.6 L388.8 97.7 L389.4 97.7 L390.0 97.8 L390.6 97.8 L391.2 97.9 L391.8 97.9 L392.4 97.9 L393.0 97.9 L393.6 97.9" fill="none" stroke="#f2ad0c" stroke-width="0.9"/>
<circle cx="258.6" cy="97.0" r="1.3" fill="none" stroke="#acacac" stroke-width="0.6"/>
<circle cx="259.9" cy="97.0" r="1.3" fill="none" stroke="#acacac" stroke-width="0.6"/>
<circle cx="261.3" cy="97.1" r="1.3" fill="none" stroke="#acacac" stroke-width="0.6"/>
<circle cx="262.7" cy="97.0" r="1.3" fill="none" stroke="#acacac" stroke-width="0.6"/>
<circle cx="264.0" cy="97.3" r="1.3" fill="none" stroke="#acacac" stroke-width="0.6"/>
<circle cx="265.4" cy="97.6" r="1.3" fill="none" stroke="#acacac" stroke-width="0.6"/>
<circle cx="266.7" cy="97.8" r="1.3" fill="none" stroke="#acacac" stroke-width="0.6"/>
<circle cx="268.1" cy="98.0" r="1.3" fill="none" stroke="#acacac" stroke-width="0.6"/>
<circle cx="269.4" cy="97.5" r="1.3" fill="none" stroke="#acacac" stroke-width="0.6"/>
<circle cx="270.8" cy="97.7" r="1.3" fill="none" stroke="#acacac" stroke-width="0.6"/>
<circle cx="272.1" cy="97.4" r="1.3" fill="none" stroke="#acacac" stroke-width="0.6"/>
<circle cx="273.5" cy="97.9" r="1.3" fill="none" stroke="#acacac" stroke-width="0.6"/>
<circle cx="274.8" cy="97.3" r="1.3" fill="none" stroke="#acacac" stroke-width="0.6"/>
<circle cx="276.2" cy="97.4" r="1.3" fill="none" stroke="#acacac" stroke-width="0.6"/>
<circle cx="277.5" cy="97.1" r="1.3" fill="none" stroke="#acacac" stroke-width="0.6"/>
<circle cx="278.9" cy="97.1" r="1.3" fill="none" stroke="#acacac" stroke-width="0.6"/>
<circle cx="280.2" cy="97.4" r="1.3" fill="none" stroke="#acacac" stroke-width="0.6"/>
<circle cx="281.6" cy="97.3" r="1.3" fill="none" stroke="#acacac" stroke-width="0.6"/>
<circle cx="282.9" cy="97.4" r="1.3" fill="none" stroke="#acacac" stroke-width="0.6"/>
<circle cx="284.3" cy="97.1" r="1.3" fill="none" stroke="#acacac" stroke-width="0.6"/>
<circle cx="285.6" cy="97.6" r="1.3" fill="none" stroke="#acacac" stroke-width="0.6"/>
<circle cx="287.0" cy="97.3" r="1.3" fill="none" stroke="#acacac" stroke-width="0.6"/>
<circle cx="288.3" cy="97.9" r="1.3" fill="none" stroke="#acacac" stroke-width="0.6"/>
<circle cx="289.7" cy="97.3" r="1.3" fill="none" stroke="#acacac" stroke-width="0.6"/>
<circle cx="291.0" cy="97.5" r="1.3" fill="none" stroke="#acacac" stroke-width="0.6"/>
<circle cx="292.4" cy="96.6" r="1.3" fill="none" stroke="#acacac" stroke-width="0.6"/>
<circle cx="293.7" cy="96.6" r="1.3" fill="none" stroke="#acacac" stroke-width="0.6"/>
<circle cx="295.1" cy="95.7" r="1.3" fill="none" stroke="#acacac" stroke-width="0.6"/>
<circle cx="296.4" cy="95.2" r="1.3" fill="none" stroke="#acacac" stroke-width="0.6"/>
<circle cx="297.8" cy="94.6" r="1.3" fill="none" stroke="#acacac" stroke-width="0.6"/>
<circle cx="299.1" cy="93.7" r="1.3" fill="none" stroke="#acacac" stroke-width="0.6"/>
<circle cx="300.5" cy="92.9" r="1.3" fill="none" stroke="#acacac" stroke-width="0.6"/>
<circle cx="301.8" cy="91.7" r="1.3" fill="none" stroke="#acacac" stroke-width="0.6"/>
<circle cx="303.2" cy="90.0" r="1.3" fill="none" stroke="#acacac" stroke-width="0.6"/>
<circle cx="304.5" cy="87.9" r="1.3" fill="none" stroke="#acacac" stroke-width="0.6"/>
<circle cx="305.9" cy="85.4" r="1.3" fill="none" stroke="#acacac" stroke-width="0.6"/>
<circle cx="307.2" cy="83.3" r="1.3" fill="none" stroke="#acacac" stroke-width="0.6"/>
<circle cx="308.6" cy="81.3" r="1.3" fill="none" stroke="#acacac" stroke-width="0.6"/>
<circle cx="309.9" cy="78.8" r="1.3" fill="none" stroke="#acacac" stroke-width="0.6"/>
<circle cx="311.3" cy="77.9" r="1.3" fill="none" stroke="#acacac" stroke-width="0.6"/>
<circle cx="312.6" cy="76.5" r="1.3" fill="none" stroke="#acacac" stroke-width="0.6"/>
<circle cx="314.0" cy="75.9" r="1.3" fill="none" stroke="#acacac" stroke-width="0.6"/>
<circle cx="315.3" cy="75.9" r="1.3" fill="none" stroke="#acacac" stroke-width="0.6"/>
<circle cx="316.7" cy="76.0" r="1.3" fill="none" stroke="#acacac" stroke-width="0.6"/>
<circle cx="318.0" cy="75.9" r="1.3" fill="none" stroke="#acacac" stroke-width="0.6"/>
<circle cx="319.4" cy="75.0" r="1.3" fill="none" stroke="#acacac" stroke-width="0.6"/>
<circle cx="320.7" cy="73.5" r="1.3" fill="none" stroke="#acacac" stroke-width="0.6"/>
<circle cx="322.1" cy="70.9" r="1.3" fill="none" stroke="#acacac" stroke-width="0.6"/>
<circle cx="323.4" cy="67.7" r="1.3" fill="none" stroke="#acacac" stroke-width="0.6"/>
<circle cx="324.8" cy="66.1" r="1.3" fill="none" stroke="#acacac" stroke-width="0.6"/>
<circle cx="326.1" cy="65.9" r="1.3" fill="none" stroke="#acacac" stroke-width="0.6"/>
<circle cx="327.5" cy="67.6" r="1.3" fill="none" stroke="#acacac" stroke-width="0.6"/>
<circle cx="328.8" cy="72.6" r="1.3" fill="none" stroke="#acacac" stroke-width="0.6"/>
<circle cx="330.2" cy="78.2" r="1.3" fill="none" stroke="#acacac" stroke-width="0.6"/>
<circle cx="331.5" cy="84.6" r="1.3" fill="none" stroke="#acacac" stroke-width="0.6"/>
<circle cx="332.9" cy="89.6" r="1.3" fill="none" stroke="#acacac" stroke-width="0.6"/>
<circle cx="334.2" cy="92.9" r="1.3" fill="none" stroke="#acacac" stroke-width="0.6"/>
<circle cx="335.6" cy="95.1" r="1.3" fill="none" stroke="#acacac" stroke-width="0.6"/>
<circle cx="336.9" cy="96.6" r="1.3" fill="none" stroke="#acacac" stroke-width="0.6"/>
<circle cx="338.3" cy="97.0" r="1.3" fill="none" stroke="#acacac" stroke-width="0.6"/>
<circle cx="339.6" cy="97.6" r="1.3" fill="none" stroke="#acacac" stroke-width="0.6"/>
<circle cx="341.0" cy="97.4" r="1.3" fill="none" stroke="#acacac" stroke-width="0.6"/>
<circle cx="342.3" cy="97.1" r="1.3" fill="none" stroke="#acacac" stroke-width="0.6"/>
<circle cx="343.7" cy="97.2" r="1.3" fill="none" stroke="#acacac" stroke-width="0.6"/>
<circle cx="345.0" cy="96.4" r="1.3" fill="none" stroke="#acacac" stroke-width="0.6"/>
<circle cx="346.4" cy="96.8" r="1.3" fill="none" stroke="#acacac" stroke-width="0.6"/>
<circle cx="347.7" cy="96.9" r="1.3" fill="none" stroke="#acacac" stroke-width="0.6"/>
<circle cx="349.1" cy="96.8" r="1.3" fill="none" stroke="#acacac" stroke-width="0.6"/>
<circle cx="350.4" cy="96.8" r="1.3" fill="none" stroke="#acacac" stroke-width="0.6"/>
<circle cx="351.8" cy="97.2" r="1.3" fill="none" stroke="#acacac" stroke-width="0.6"/>
<circle cx="353.1" cy="97.6" r="1.3" fill="none" stroke="#acacac" stroke-width="0.6"/>
<circle cx="354.5" cy="97.1" r="1.3" fill="none" stroke="#acacac" stroke-width="0.6"/>
<circle cx="355.8" cy="96.6" r="1.3" fill="none" stroke="#acacac" stroke-width="0.6"/>
<circle cx="357.2" cy="97.0" r="1.3" fill="none" stroke="#acacac" stroke-width="0.6"/>
<circle cx="358.5" cy="96.0" r="1.3" fill="none" stroke="#acacac" stroke-width="0.6"/>
<circle cx="359.9" cy="96.4" r="1.3" fill="none" stroke="#acacac" stroke-width="0.6"/>
<circle cx="361.2" cy="96.0" r="1.3" fill="none" stroke="#acacac" stroke-width="0.6"/>
<circle cx="362.6" cy="96.2" r="1.3" fill="none" stroke="#acacac" stroke-width="0.6"/>
<circle cx="363.9" cy="95.5" r="1.3" fill="none" stroke="#acacac" stroke-width="0.6"/>
<circle cx="365.3" cy="95.7" r="1.3" fill="none" stroke="#acacac" stroke-width="0.6"/>
<circle cx="366.6" cy="95.2" r="1.3" fill="none" stroke="#acacac" stroke-width="0.6"/>
<circle cx="368.0" cy="94.4" r="1.3" fill="none" stroke="#acacac" stroke-width="0.6"/>
<circle cx="369.3" cy="94.0" r="1.3" fill="none" stroke="#acacac" stroke-width="0.6"/>
<circle cx="370.7" cy="94.1" r="1.3" fill="none" stroke="#acacac" stroke-width="0.6"/>
<circle cx="372.0" cy="94.3" r="1.3" fill="none" stroke="#acacac" stroke-width="0.6"/>
<circle cx="373.4" cy="94.0" r="1.3" fill="none" stroke="#acacac" stroke-width="0.6"/>
<circle cx="374.7" cy="94.2" r="1.3" fill="none" stroke="#acacac" stroke-width="0.6"/>
<circle cx="376.1" cy="94.3" r="1.3" fill="none" stroke="#acacac" stroke-width="0.6"/>
<circle cx="377.4" cy="94.9" r="1.3" fill="none" stroke="#acacac" stroke-width="0.6"/>
<circle cx="378.8" cy="95.1" r="1.3" fill="none" stroke="#acacac" stroke-width="0.6"/>
<circle cx="380.1" cy="95.4" r="1.3" fill="none" stroke="#acacac" stroke-width="0.6"/>
<circle cx="381.5" cy="95.4" r="1.3" fill="none" stroke="#acacac" stroke-width="0.6"/>
<circle cx="382.8" cy="96.2" r="1.3" fill="none" stroke="#acacac" stroke-width="0.6"/>
<circle cx="384.2" cy="96.4" r="1.3" fill="none" stroke="#acacac" stroke-width="0.6"/>
<circle cx="385.5" cy="96.0" r="1.3" fill="none" stroke="#acacac" stroke-width="0.6"/>
<circle cx="386.9" cy="96.9" r="1.3" fill="none" stroke="#acacac" stroke-width="0.6"/>
<circle cx="388.2" cy="96.6" r="1.3" fill="none" stroke="#acacac" stroke-width="0.6"/>
<circle cx="389.6" cy="96.4" r="1.3" fill="none" stroke="#acacac" stroke-width="0.6"/>
<circle cx="390.9" cy="96.1" r="1.3" fill="none" stroke="#acacac" stroke-width="0.6"/>
<circle cx="392.3" cy="96.8" r="1.3" fill="none" stroke="#acacac" stroke-width="0.6"/>
<circle cx="393.6" cy="97.0" r="1.3" fill="none" stroke="#acacac" stroke-width="0.6"/>
<circle cx="395.0" cy="97.1" r="1.3" fill="none" stroke="#acacac" stroke-width="0.6"/>
<circle cx="396.3" cy="97.2" r="1.3" fill="none" stroke="#acacac" stroke-width="0.6"/>
<circle cx="397.7" cy="98.1" r="1.3" fill="none" stroke="#acacac" stroke-width="0.6"/>
<circle cx="399.0" cy="98.0" r="1.3" fill="none" stroke="#acacac" stroke-width="0.6"/>
<circle cx="400.4" cy="98.1" r="1.3" fill="none" stroke="#acacac" stroke-width="0.6"/>
<circle cx="401.7" cy="98.8" r="1.3" fill="none" stroke="#acacac" stroke-width="0.6"/>
<circle cx="403.1" cy="98.5" r="1.3" fill="none" stroke="#acacac" stroke-width="0.6"/>
<circle cx="404.4" cy="98.1" r="1.3" fill="none" stroke="#acacac" stroke-width="0.6"/>
<circle cx="405.8" cy="97.5" r="1.3" fill="none" stroke="#acacac" stroke-width="0.6"/>
<circle cx="407.1" cy="97.6" r="1.3" fill="none" stroke="#acacac" stroke-width="0.6"/>
<circle cx="408.5" cy="96.8" r="1.3" fill="none" stroke="#acacac" stroke-width="0.6"/>
<circle cx="409.8" cy="97.2" r="1.3" fill="none" stroke="#acacac" stroke-width="0.6"/>
<circle cx="411.2" cy="97.0" r="1.3" fill="none" stroke="#acacac" stroke-width="0.6"/>
<circle cx="412.5" cy="97.0" r="1.3" fill="none" stroke="#acacac" stroke-width="0.6"/>
<circle cx="413.9" cy="97.0" r="1.3" fill="none" stroke="#acacac" stroke-width="0.6"/>
<circle cx="415.2" cy="97.6" r="1.3" fill="none" stroke="#acacac" stroke-width="0.6"/>
<circle cx="416.6" cy="97.6" r="1.3" fill="none" stroke="#acacac" stroke-width="0.6"/>
<circle cx="417.9" cy="97.6" r="1.3" fill="none" stroke="#acacac" stroke-width="0.6"/>
<circle cx="419.3" cy="97.8" r="1.3" fill="none" stroke="#acacac" stroke-width="0.6"/>
<circle cx="420.6" cy="97.4" r="1.3" fill="none" stroke="#acacac" stroke-width="0.6"/>
<circle cx="422.0" cy="97.3" r="1.3" fill="none" stroke="#acacac" stroke-width="0.6"/>
<circle cx="423.3" cy="97.2" r="1.3" fill="none" stroke="#acacac" stroke-width="0.6"/>
<circle cx="424.7" cy="97.5" r="1.3" fill="none" stroke="#acacac" stroke-width="0.6"/>
<circle cx="426.0" cy="97.8" r="1.3" fill="none" stroke="#acacac" stroke-width="0.6"/>
<path d="M257.4 98.0 L258.0 98.0 L258.6 98.0 L259.2 98.0 L259.8 98.0 L260.4 98.0 L261.0 98.0 L261.6 98.0 L262.2 98.0 L262.8 98.0 L263.4 98.0 L264.0 98.0 L264.6 98.0 L265.2 98.0 L265.8 98.0 L266.4 98.0 L267.0 98.0 L267.6 98.0 L268.2 98.0 L268.8 98.0 L269.4 98.0 L270.0 98.0 L270.6 98.0 L271.2 98.0 L271.8 98.0 L272.4 98.0 L273.0 98.0 L273.6 98.0 L274.2 98.0 L274.8 98.0 L275.4 98.0 L276.0 98.0 L276.6 98.0 L277.2 98.0 L277.8 98.0 L278.4 98.0 L279.0 98.0 L279.6 98.0 L280.2 98.0 L280.8 98.0 L281.4 98.0 L282.0 98.0 L282.6 98.0 L283.2 98.0 L283.8 98.0 L284.4 98.0 L285.0 98.0 L285.6 98.0 L286.2 98.0 L286.8 98.0 L287.4 98.0 L288.0 98.0 L288.6 98.0 L289.2 98.0 L289.8 98.0 L290.4 98.0 L291.0 98.0 L291.6 98.0 L292.2 98.0 L292.8 98.0 L293.4 98.0 L294.0 98.0 L294.6 98.0 L295.2 98.0 L295.8 98.0 L296.4 98.0 L297.0 98.0 L297.6 98.0 L298.2 98.0 L298.8 98.0 L299.4 98.0 L300.0 98.0 L300.6 98.0 L301.2 98.0 L301.8 98.0 L302.4 98.0 L303.0 98.0 L303.6 98.0 L304.2 98.0 L304.8 98.0 L305.4 98.0 L306.0 98.0 L306.6 98.0 L307.2 98.0 L307.8 98.0 L308.4 98.0 L309.0 98.0 L309.6 98.0 L310.2 98.0 L310.8 98.0 L311.4 98.0 L312.0 98.0 L312.6 98.0 L313.2 98.0 L313.8 98.0 L314.4 98.0 L315.0 98.0 L315.6 98.0 L316.2 98.0 L316.8 98.0 L317.4 98.0 L318.0 98.0 L318.6 98.0 L319.2 98.0 L319.8 98.0 L320.4 98.0 L321.0 98.0 L321.6 98.0 L322.2 98.0 L322.8 98.0 L323.4 98.0 L324.0 98.0 L324.6 98.0 L325.2 98.0 L325.8 98.0 L326.4 98.0 L327.0 98.0 L327.6 98.0 L328.2 98.0 L328.8 98.0 L329.4 98.0 L330.0 98.0 L330.6 98.0 L331.2 98.0 L331.8 98.0 L332.4 98.0 L333.0 98.0 L333.6 98.0 L334.2 98.0 L334.8 98.0 L335.4 98.0 L336.0 98.0 L336.6 98.0 L337.2 98.0 L337.8 98.0 L338.4 98.0 L339.0 98.0 L339.6 98.0 L340.2 98.0 L340.8 98.0 L341.4 98.0 L342.0 98.0 L342.6 98.0 L343.2 98.0 L343.8 98.0 L344.4 98.0 L345.0 98.0 L345.6 98.0 L346.2 98.0 L346.8 98.0 L347.4 98.0 L348.0 98.0 L348.6 98.0 L349.2 98.0 L349.8 98.0 L350.4 98.0 L351.0 98.0 L351.6 98.0 L352.2 98.0 L352.8 98.0 L353.4 98.0 L354.0 98.0 L354.6 98.0 L355.2 98.0 L355.8 98.0 L356.4 98.0 L357.0 98.0 L357.6 98.0 L358.2 98.0 L358.8 98.0 L359.4 98.0 L360.0 98.0 L360.6 98.0 L361.2 98.0 L361.8 98.0 L362.4 98.0 L363.0 98.0 L363.6 98.0 L364.2 98.0 L364.8 98.0 L365.4 98.0 L366.0 98.0 L366.6 98.0 L367.2 98.0 L367.8 98.0 L368.4 98.0 L369.0 98.0 L369.6 98.0 L370.2 98.0 L370.8 98.0 L371.4 98.0 L372.0 98.0 L372.6 98.0 L373.2 98.0 L373.8 98.0 L374.4 98.0 L375.0 98.0 L375.6 98.0 L376.2 98.0 L376.8 98.0 L377.4 98.0 L378.0 98.0 L378.6 98.0 L379.2 98.0 L379.8 98.0 L380.4 98.0 L381.0 98.0 L381.6 98.0 L382.2 98.0 L382.8 98.0 L383.4 98.0 L384.0 98.0 L384.6 98.0 L385.2 98.0 L385.8 98.0 L386.4 98.0 L387.0 98.0 L387.6 98.0 L388.2 98.0 L388.8 98.0 L389.4 98.0 L390.0 98.0 L390.6 98.0 L391.2 98.0 L391.8 98.0 L392.4 98.0 L393.0 98.0 L393.6 98.0 L394.2 98.0 L394.8 98.0 L395.4 98.0 L396.0 98.0 L396.6 98.0 L397.2 98.0 L397.8 98.0 L398.4 98.0 L399.0 98.0 L399.6 98.0 L400.2 98.0 L400.8 98.0 L401.4 98.0 L402.0 98.0 L402.6 98.0 L403.2 98.0 L403.8 98.0 L404.4 98.0 L405.0 98.0 L405.6 98.0 L406.2 98.0 L406.8 98.0 L407.4 98.0 L408.0 98.0 L408.6 98.0 L409.2 98.0 L409.8 98.0 L410.4 98.0 L411.0 98.0 L411.6 98.0 L412.2 98.0 L412.8 98.0 L413.4 98.0 L414.0 98.0 L414.6 98.0 L415.2 98.0 L415.8 98.0 L416.4 98.0 L417.0 98.0 L417.6 98.0 L418.2 98.0 L418.8 98.0 L419.4 98.0 L420.0 98.0 L420.6 98.0 L421.2 98.0 L421.8 98.0 L422.4 98.0 L423.0 98.0 L423.6 98.0 L424.2 98.0 L424.8 98.0 L425.4 98.0 L426.0 98.0 L426.6 98.0 L427.2 98.0 L427.8 98.0" fill="none" stroke="#8a8a8a" stroke-width="1.4" stroke-linejoin="round" stroke-linecap="round" />
<path d="M257.4 98.0 L258.0 98.0 L258.6 98.0 L259.2 98.0 L259.8 98.0 L260.4 98.0 L261.0 98.0 L261.6 98.0 L262.2 98.0 L262.8 98.0 L263.4 98.0 L264.0 98.0 L264.6 98.0 L265.2 98.0 L265.8 98.0 L266.4 98.0 L267.0 98.0 L267.6 98.0 L268.2 98.0 L268.8 98.0 L269.4 98.0 L270.0 98.0 L270.6 98.0 L271.2 98.0 L271.8 98.0 L272.4 98.0 L273.0 98.0 L273.6 98.0 L274.2 98.0 L274.8 98.0 L275.4 98.0 L276.0 98.0 L276.6 98.0 L277.2 98.0 L277.8 98.0 L278.4 98.0 L279.0 98.0 L279.6 98.0 L280.2 98.0 L280.8 98.0 L281.4 98.0 L282.0 98.0 L282.6 98.0 L283.2 98.0 L283.8 98.0 L284.4 98.0 L285.0 98.0 L285.6 98.0 L286.2 98.0 L286.8 97.9 L287.4 97.9 L288.0 97.9 L288.6 97.9 L289.2 97.8 L289.8 97.8 L290.4 97.8 L291.0 97.7 L291.6 97.6 L292.2 97.5 L292.8 97.4 L293.4 97.3 L294.0 97.1 L294.6 97.0 L295.2 96.8 L295.8 96.5 L296.4 96.3 L297.0 96.0 L297.6 95.6 L298.2 95.2 L298.8 94.8 L299.4 94.3 L300.0 93.7 L300.6 93.2 L301.2 92.5 L301.8 91.8 L302.4 91.1 L303.0 90.3 L303.6 89.5 L304.2 88.6 L304.8 87.7 L305.4 86.8 L306.0 85.8 L306.6 84.9 L307.2 83.9 L307.8 83.0 L308.4 82.0 L309.0 81.1 L309.6 80.3 L310.2 79.5 L310.8 78.8 L311.4 78.2 L312.0 77.6 L312.6 77.2 L313.2 76.8 L313.8 76.6 L314.4 76.4 L315.0 76.4 L315.6 76.4 L316.2 76.5 L316.8 76.6 L317.4 76.6 L318.0 76.5 L318.6 76.3 L319.2 75.9 L319.8 75.3 L320.4 74.5 L321.0 73.5 L321.6 72.3 L322.2 71.0 L322.8 69.6 L323.4 68.3 L324.0 67.2 L324.6 66.4 L325.2 65.9 L325.8 65.9 L326.4 66.4 L327.0 67.3 L327.6 68.7 L328.2 70.6 L328.8 72.8 L329.4 75.2 L330.0 77.8 L330.6 80.5 L331.2 83.1 L331.8 85.5 L332.4 87.8 L333.0 89.8 L333.6 91.5 L334.2 93.0 L334.8 94.2 L335.4 95.2 L336.0 96.0 L336.6 96.5 L337.2 97.0 L337.8 97.3 L338.4 97.5 L339.0 97.7 L339.6 97.8 L340.2 97.9 L340.8 97.9 L341.4 97.9 L342.0 98.0 L342.6 98.0 L343.2 98.0 L343.8 98.0 L344.4 98.0 L345.0 98.0 L345.6 98.0 L346.2 98.0 L346.8 97.9 L347.4 97.9 L348.0 97.9 L348.6 97.9 L349.2 97.9 L349.8 97.9 L350.4 97.8 L351.0 97.8 L351.6 97.8 L352.2 97.8 L352.8 97.7 L353.4 97.7 L354.0 97.6 L354.6 97.6 L355.2 97.5 L355.8 97.5 L356.4 97.4 L357.0 97.4 L357.6 97.3 L358.2 97.2 L358.8 97.1 L359.4 97.0 L360.0 96.9 L360.6 96.8 L361.2 96.7 L361.8 96.6 L362.4 96.5 L363.0 96.4 L363.6 96.3 L364.2 96.1 L364.8 96.0 L365.4 95.9 L366.0 95.7 L366.6 95.6 L367.2 95.5 L367.8 95.4 L368.4 95.2 L369.0 95.1 L369.6 95.0 L370.2 95.0 L370.8 94.9 L371.4 94.8 L372.0 94.8 L372.6 94.8 L373.2 94.8 L373.8 94.8 L374.4 94.8 L375.0 94.9 L375.6 95.0 L376.2 95.0 L376.8 95.1 L377.4 95.3 L378.0 95.4 L378.6 95.5 L379.2 95.7 L379.8 95.8 L380.4 96.0 L381.0 96.2 L381.6 96.3 L382.2 96.5 L382.8 96.6 L383.4 96.8 L384.0 96.9 L384.6 97.0 L385.2 97.2 L385.8 97.3 L386.4 97.4 L387.0 97.5 L387.6 97.5 L388.2 97.6 L388.8 97.7 L389.4 97.7 L390.0 97.8 L390.6 97.8 L391.2 97.8 L391.8 97.9 L392.4 97.9 L393.0 97.9 L393.6 97.9 L394.2 98.0 L394.8 98.0 L395.4 98.0 L396.0 98.0 L396.6 98.0 L397.2 98.0 L397.8 98.0 L398.4 98.0 L399.0 98.0 L399.6 98.0 L400.2 98.0 L400.8 98.0 L401.4 98.0 L402.0 98.0 L402.6 98.0 L403.2 98.0 L403.8 98.0 L404.4 98.0 L405.0 98.0 L405.6 98.0 L406.2 98.0 L406.8 98.0 L407.4 98.0 L408.0 98.0 L408.6 98.0 L409.2 98.0 L409.8 98.0 L410.4 98.0 L411.0 98.0 L411.6 98.0 L412.2 98.0 L412.8 98.0 L413.4 98.0 L414.0 98.0 L414.6 98.0 L415.2 98.0 L415.8 98.0 L416.4 98.0 L417.0 98.0 L417.6 98.0 L418.2 98.0 L418.8 98.0 L419.4 98.0 L420.0 98.0 L420.6 98.0 L421.2 98.0 L421.8 98.0 L422.4 98.0 L423.0 98.0 L423.6 98.0 L424.2 98.0 L424.8 98.0 L425.4 98.0 L426.0 98.0 L426.6 98.0 L427.2 98.0 L427.8 98.0" fill="none" stroke="#7a7a7a" stroke-width="1.6" stroke-linejoin="round" stroke-linecap="round" />
<path d="M257.4 150.5 L258.0 150.5 L258.6 150.5 L259.2 150.5 L259.8 150.5 L260.4 150.5 L261.0 150.5 L261.6 150.5 L262.2 150.5 L262.8 150.5 L263.4 150.5 L264.0 150.5 L264.6 150.5 L265.2 150.5 L265.8 150.5 L266.4 150.5 L267.0 150.5 L267.6 150.5 L268.2 150.5 L268.8 150.5 L269.4 150.5 L270.0 150.5 L270.6 150.5 L271.2 150.5 L271.8 150.6 L272.4 150.6 L273.0 150.6 L273.6 150.6 L274.2 150.6 L274.8 150.6 L275.4 150.6 L276.0 150.6 L276.6 150.6 L277.2 150.6 L277.8 150.6 L278.4 150.6 L279.0 150.6 L279.6 150.6 L280.2 150.6 L280.8 150.6 L281.4 150.6 L282.0 150.6 L282.6 150.6 L283.2 150.6 L283.8 150.6 L284.4 150.6 L285.0 150.6 L285.6 150.6 L286.2 150.6 L286.8 150.6 L287.4 150.6 L288.0 150.6 L288.6 150.6 L289.2 150.6 L289.8 150.6 L290.4 150.6 L291.0 150.6 L291.6 150.6 L292.2 150.6 L292.8 150.6 L293.4 150.6 L294.0 150.6 L294.6 150.6 L295.2 150.6 L295.8 150.6 L296.4 150.6 L297.0 150.6 L297.6 150.6 L298.2 150.6 L298.8 150.6 L299.4 150.6 L300.0 150.6 L300.6 150.7 L301.2 150.7 L301.8 150.7 L302.4 150.7 L303.0 150.7 L303.6 150.7 L304.2 150.7 L304.8 150.7 L305.4 150.7 L306.0 150.7 L306.6 150.7 L307.2 150.7 L307.8 150.7 L308.4 150.7 L309.0 150.7 L309.6 150.7 L310.2 150.7 L310.8 150.7 L311.4 150.7 L312.0 150.7 L312.6 150.7 L313.2 150.7 L313.8 150.7 L314.4 150.7 L315.0 150.7 L315.6 150.7 L316.2 150.7 L316.8 150.7 L317.4 150.7 L318.0 150.7 L318.6 150.7 L319.2 150.7 L319.8 150.7 L320.4 150.7 L321.0 150.7 L321.6 150.7 L322.2 150.7 L322.8 150.7 L323.4 150.7 L324.0 150.7 L324.6 150.7 L325.2 150.7 L325.8 150.7 L326.4 150.7 L327.0 150.7 L327.6 150.7 L328.2 150.7 L328.8 150.8 L329.4 150.8 L330.0 150.8 L330.6 150.8 L331.2 150.8 L331.8 150.8 L332.4 150.8 L333.0 150.8 L333.6 150.8 L334.2 150.8 L334.8 150.8 L335.4 150.8 L336.0 150.8 L336.6 150.8 L337.2 150.8 L337.8 150.8 L338.4 150.8 L339.0 150.8 L339.6 150.8 L340.2 150.8 L340.8 150.8 L341.4 150.8 L342.0 150.8 L342.6 150.8 L343.2 150.8 L343.8 150.8 L344.4 150.8 L345.0 150.8 L345.6 150.8 L346.2 150.8 L346.8 150.8 L347.4 150.8 L348.0 150.8 L348.6 150.8 L349.2 150.8 L349.8 150.8 L350.4 150.8 L351.0 150.8 L351.6 150.8 L352.2 150.8 L352.8 150.8 L353.4 150.8 L354.0 150.8 L354.6 150.8 L355.2 150.8 L355.8 150.8 L356.4 150.8 L357.0 150.9 L357.6 150.9 L358.2 150.9 L358.8 150.9 L359.4 150.9 L360.0 150.9 L360.6 150.9 L361.2 150.9 L361.8 150.9 L362.4 150.9 L363.0 150.9 L363.6 150.9 L364.2 150.9 L364.8 150.9 L365.4 150.9 L366.0 150.9 L366.6 150.9 L367.2 150.9 L367.8 150.9 L368.4 150.9 L369.0 150.9 L369.6 150.9 L370.2 150.9 L370.8 150.9 L371.4 150.9 L372.0 150.9 L372.6 150.9 L373.2 150.9 L373.8 150.9 L374.4 150.9 L375.0 150.9 L375.6 150.9 L376.2 150.9 L376.8 150.9 L377.4 150.9 L378.0 150.9 L378.6 150.9 L379.2 150.9 L379.8 150.9 L380.4 150.9 L381.0 150.9 L381.6 150.9 L382.2 150.9 L382.8 150.9 L383.4 150.9 L384.0 150.9 L384.6 150.9 L385.2 150.9 L385.8 151.0 L386.4 151.0 L387.0 151.0 L387.6 151.0 L388.2 151.0 L388.8 151.0 L389.4 151.0 L390.0 151.0 L390.6 151.0 L391.2 151.0 L391.8 151.0 L392.4 151.0 L393.0 151.0 L393.6 151.0 L394.2 151.0 L394.8 151.0 L395.4 151.0 L396.0 151.0 L396.6 151.0 L397.2 151.0 L397.8 151.0 L398.4 151.0 L399.0 151.0 L399.6 151.0 L400.2 151.0 L400.8 151.0 L401.4 151.0 L402.0 151.0 L402.6 151.0 L403.2 151.0 L403.8 151.0 L404.4 151.0 L405.0 151.0 L405.6 151.0 L406.2 151.0 L406.8 151.0 L407.4 151.0 L408.0 151.0 L408.6 151.0 L409.2 151.0 L409.8 151.0 L410.4 151.0 L411.0 151.0 L411.6 151.0 L412.2 151.0 L412.8 151.0 L413.4 151.0 L414.0 151.1 L414.6 151.1 L415.2 151.1 L415.8 151.1 L416.4 151.1 L417.0 151.1 L417.6 151.1 L418.2 151.1 L418.8 151.1 L419.4 151.1 L420.0 151.1 L420.6 151.1 L421.2 151.1 L421.8 151.1 L422.4 151.1 L423.0 151.1 L423.6 151.1 L424.2 151.1 L424.8 151.1 L425.4 151.1 L426.0 151.1 L426.6 151.1 L427.2 151.1 L427.8 151.1" fill="none" stroke="#8a8a8a" stroke-width="1.4"/>
<path d="M257.4 149.5 L258.0 149.5 L258.6 149.5 L259.2 149.5 L259.8 149.5 L260.4 149.5 L261.0 149.5 L261.6 149.5 L262.2 149.5 L262.8 149.5 L263.4 149.5 L264.0 149.5 L264.6 149.5 L265.2 149.5 L265.8 149.5 L266.4 149.5 L267.0 149.5 L267.6 149.5 L268.2 149.5 L268.8 149.5 L269.4 149.5 L270.0 149.5 L270.6 149.5 L271.2 149.5 L271.8 149.6 L272.4 149.6 L273.0 149.6 L273.6 149.6 L274.2 149.6 L274.8 149.6 L275.4 149.6 L276.0 149.6 L276.6 149.6 L277.2 149.6 L277.8 149.6 L278.4 149.6 L279.0 149.6 L279.6 149.6 L280.2 149.6 L280.8 149.6 L281.4 149.6 L282.0 149.6 L282.6 149.6 L283.2 149.6 L283.8 149.6 L284.4 149.6 L285.0 149.6 L285.6 149.6 L286.2 149.6 L286.8 149.6 L287.4 149.6 L288.0 149.6 L288.6 149.6 L289.2 149.6 L289.8 149.6 L290.4 149.6 L291.0 149.6 L291.6 149.6 L292.2 149.6 L292.8 149.6 L293.4 149.6 L294.0 149.6 L294.6 149.6 L295.2 149.6 L295.8 149.6 L296.4 149.6 L297.0 149.6 L297.6 149.6 L298.2 149.6 L298.8 149.6 L299.4 149.6 L300.0 149.6 L300.6 149.7 L301.2 149.7 L301.8 149.7 L302.4 149.7 L303.0 149.7 L303.6 149.7 L304.2 149.7 L304.8 149.7 L305.4 149.7 L306.0 149.7 L306.6 149.7 L307.2 149.7 L307.8 149.7 L308.4 149.7 L309.0 149.7 L309.6 149.7 L310.2 149.7 L310.8 149.7 L311.4 149.7 L312.0 149.7 L312.6 149.7 L313.2 149.7 L313.8 149.7 L314.4 149.7 L315.0 149.7 L315.6 149.7 L316.2 149.7 L316.8 149.7 L317.4 149.7 L318.0 149.7 L318.6 149.7 L319.2 149.7 L319.8 149.7 L320.4 149.7 L321.0 149.7 L321.6 149.7 L322.2 149.7 L322.8 149.7 L323.4 149.7 L324.0 149.7 L324.6 149.7 L325.2 149.7 L325.8 149.7 L326.4 149.7 L327.0 149.7 L327.6 149.7 L328.2 149.7 L328.8 149.8 L329.4 149.8 L330.0 149.8 L330.6 149.8 L331.2 149.8 L331.8 149.8 L332.4 149.8 L333.0 149.8 L333.6 149.8 L334.2 149.8 L334.8 149.8 L335.4 149.8 L336.0 149.8 L336.6 149.8 L337.2 149.8 L337.8 149.8 L338.4 149.8 L339.0 149.8 L339.6 149.8 L340.2 149.8 L340.8 149.8 L341.4 149.8 L342.0 149.8 L342.6 149.8 L343.2 149.8 L343.8 149.8 L344.4 149.8 L345.0 149.8 L345.6 149.8 L346.2 149.8 L346.8 149.8 L347.4 149.8 L348.0 149.8 L348.6 149.8 L349.2 149.8 L349.8 149.8 L350.4 149.8 L351.0 149.8 L351.6 149.8 L352.2 149.8 L352.8 149.8 L353.4 149.8 L354.0 149.8 L354.6 149.8 L355.2 149.8 L355.8 149.8 L356.4 149.8 L357.0 149.9 L357.6 149.9 L358.2 149.9 L358.8 149.9 L359.4 149.9 L360.0 149.9 L360.6 149.9 L361.2 149.9 L361.8 149.9 L362.4 149.9 L363.0 149.9 L363.6 149.9 L364.2 149.9 L364.8 149.9 L365.4 149.9 L366.0 149.9 L366.6 149.9 L367.2 149.9 L367.8 149.9 L368.4 149.9 L369.0 149.9 L369.6 149.9 L370.2 149.9 L370.8 149.9 L371.4 149.9 L372.0 149.9 L372.6 149.9 L373.2 149.9 L373.8 149.9 L374.4 149.9 L375.0 149.9 L375.6 149.9 L376.2 149.9 L376.8 149.9 L377.4 149.9 L378.0 149.9 L378.6 149.9 L379.2 149.9 L379.8 149.9 L380.4 149.9 L381.0 149.9 L381.6 149.9 L382.2 149.9 L382.8 149.9 L383.4 149.9 L384.0 149.9 L384.6 149.9 L385.2 149.9 L385.8 150.0 L386.4 150.0 L387.0 150.0 L387.6 150.0 L388.2 150.0 L388.8 150.0 L389.4 150.0 L390.0 150.0 L390.6 150.0 L391.2 150.0 L391.8 150.0 L392.4 150.0 L393.0 150.0 L393.6 150.0 L394.2 150.0 L394.8 150.0 L395.4 150.0 L396.0 150.0 L396.6 150.0 L397.2 150.0 L397.8 150.0 L398.4 150.0 L399.0 150.0 L399.6 150.0 L400.2 150.0 L400.8 150.0 L401.4 150.0 L402.0 150.0 L402.6 150.0 L403.2 150.0 L403.8 150.0 L404.4 150.0 L405.0 150.0 L405.6 150.0 L406.2 150.0 L406.8 150.0 L407.4 150.0 L408.0 150.0 L408.6 150.0 L409.2 150.0 L409.8 150.0 L410.4 150.0 L411.0 150.0 L411.6 150.0 L412.2 150.0 L412.8 150.0 L413.4 150.0 L414.0 150.1 L414.6 150.1 L415.2 150.1 L415.8 150.1 L416.4 150.1 L417.0 150.1 L417.6 150.1 L418.2 150.1 L418.8 150.1 L419.4 150.1 L420.0 150.1 L420.6 150.1 L421.2 150.1 L421.8 150.1 L422.4 150.1 L423.0 150.1 L423.6 150.1 L424.2 150.1 L424.8 150.1 L425.4 150.1 L426.0 150.1 L426.6 150.1 L427.2 150.1 L427.8 150.1" fill="none" stroke="#e3cf96" stroke-width="1.3"/>
<path d="M322.8 150.4 L323.4 150.3 L324.0 150.2 L324.6 150.0 L325.2 149.7 L325.8 149.3 L326.4 148.5 L327.0 147.4 L327.6 146.0 L328.2 144.1 L328.8 141.8 L329.4 139.2 L330.0 136.6 L330.6 134.0 L331.2 131.9 L331.8 130.4 L332.4 129.8 L333.0 130.1 L333.6 131.3 L334.2 133.3 L334.8 135.7 L335.4 138.4 L336.0 141.0 L336.6 143.4 L337.2 145.4 L337.8 147.0 L338.4 148.2 L339.0 149.1 L339.6 149.7 L340.2 150.0 L340.8 150.2 L341.4 150.4 L342.0 150.4 L342.0 150.5 L341.4 150.5 L340.8 150.5 L340.2 150.5 L339.6 150.5 L339.0 150.5 L338.4 150.5 L337.8 150.5 L337.2 150.5 L336.6 150.5 L336.0 150.5 L335.4 150.5 L334.8 150.5 L334.2 150.5 L333.6 150.5 L333.0 150.5 L332.4 150.5 L331.8 150.5 L331.2 150.5 L330.6 150.5 L330.0 150.5 L329.4 150.5 L328.8 150.5 L328.2 150.4 L327.6 150.4 L327.0 150.4 L326.4 150.4 L325.8 150.4 L325.2 150.4 L324.6 150.4 L324.0 150.4 L323.4 150.4 L322.8 150.4 Z" fill="#cadfef" fill-opacity="0.85" stroke="none"/>
<path d="M322.8 150.4 L323.4 150.3 L324.0 150.2 L324.6 150.0 L325.2 149.7 L325.8 149.3 L326.4 148.5 L327.0 147.4 L327.6 146.0 L328.2 144.1 L328.8 141.8 L329.4 139.2 L330.0 136.6 L330.6 134.0 L331.2 131.9 L331.8 130.4 L332.4 129.8 L333.0 130.1 L333.6 131.3 L334.2 133.3 L334.8 135.7 L335.4 138.4 L336.0 141.0 L336.6 143.4 L337.2 145.4 L337.8 147.0 L338.4 148.2 L339.0 149.1 L339.6 149.7 L340.2 150.0 L340.8 150.2 L341.4 150.4 L342.0 150.4" fill="none" stroke="#8dbde4" stroke-width="0.9"/>
<path d="M272.4 150.2 L273.0 150.2 L273.6 150.2 L274.2 150.2 L274.8 150.2 L275.4 150.1 L276.0 150.1 L276.6 150.1 L277.2 150.1 L277.8 150.1 L278.4 150.0 L279.0 150.0 L279.6 149.9 L280.2 149.9 L280.8 149.8 L281.4 149.8 L282.0 149.7 L282.6 149.6 L283.2 149.6 L283.8 149.5 L284.4 149.4 L285.0 149.2 L285.6 149.1 L286.2 149.0 L286.8 148.8 L287.4 148.6 L288.0 148.5 L288.6 148.2 L289.2 148.0 L289.8 147.8 L290.4 147.5 L291.0 147.2 L291.6 146.9 L292.2 146.6 L292.8 146.3 L293.4 145.9 L294.0 145.5 L294.6 145.1 L295.2 144.6 L295.8 144.2 L296.4 143.7 L297.0 143.2 L297.6 142.7 L298.2 142.1 L298.8 141.6 L299.4 141.0 L300.0 140.4 L300.6 139.8 L301.2 139.1 L301.8 138.5 L302.4 137.9 L303.0 137.2 L303.6 136.6 L304.2 135.9 L304.8 135.3 L305.4 134.6 L306.0 134.0 L306.6 133.4 L307.2 132.8 L307.8 132.2 L308.4 131.7 L309.0 131.1 L309.6 130.7 L310.2 130.2 L310.8 129.8 L311.4 129.4 L312.0 129.1 L312.6 128.8 L313.2 128.5 L313.8 128.3 L314.4 128.2 L315.0 128.1 L315.6 128.0 L316.2 128.0 L316.8 128.1 L317.4 128.2 L318.0 128.3 L318.6 128.5 L319.2 128.8 L319.8 129.1 L320.4 129.4 L321.0 129.8 L321.6 130.2 L322.2 130.7 L322.8 131.2 L323.4 131.7 L324.0 132.3 L324.6 132.9 L325.2 133.5 L325.8 134.1 L326.4 134.7 L327.0 135.3 L327.6 136.0 L328.2 136.6 L328.8 137.3 L329.4 138.0 L330.0 138.6 L330.6 139.2 L331.2 139.9 L331.8 140.5 L332.4 141.1 L333.0 141.7 L333.6 142.2 L334.2 142.8 L334.8 143.3 L335.4 143.8 L336.0 144.3 L336.6 144.8 L337.2 145.2 L337.8 145.7 L338.4 146.1 L339.0 146.4 L339.6 146.8 L340.2 147.1 L340.8 147.4 L341.4 147.7 L342.0 148.0 L342.6 148.2 L343.2 148.4 L343.8 148.6 L344.4 148.8 L345.0 149.0 L345.6 149.2 L346.2 149.3 L346.8 149.5 L347.4 149.6 L348.0 149.7 L348.6 149.8 L349.2 149.9 L349.8 150.0 L350.4 150.0 L351.0 150.1 L351.6 150.2 L352.2 150.2 L352.8 150.2 L353.4 150.3 L354.0 150.3 L354.6 150.4 L355.2 150.4 L355.8 150.4 L356.4 150.4 L357.0 150.4 L357.6 150.5 L358.2 150.5 L358.8 150.5 L359.4 150.5 L359.4 150.6 L358.8 150.6 L358.2 150.6 L357.6 150.6 L357.0 150.6 L356.4 150.5 L355.8 150.5 L355.2 150.5 L354.6 150.5 L354.0 150.5 L353.4 150.5 L352.8 150.5 L352.2 150.5 L351.6 150.5 L351.0 150.5 L350.4 150.5 L349.8 150.5 L349.2 150.5 L348.6 150.5 L348.0 150.5 L347.4 150.5 L346.8 150.5 L346.2 150.5 L345.6 150.5 L345.0 150.5 L344.4 150.5 L343.8 150.5 L343.2 150.5 L342.6 150.5 L342.0 150.5 L341.4 150.5 L340.8 150.5 L340.2 150.5 L339.6 150.5 L339.0 150.5 L338.4 150.5 L337.8 150.5 L337.2 150.5 L336.6 150.5 L336.0 150.5 L335.4 150.5 L334.8 150.5 L334.2 150.5 L333.6 150.5 L333.0 150.5 L332.4 150.5 L331.8 150.5 L331.2 150.5 L330.6 150.5 L330.0 150.5 L329.4 150.5 L328.8 150.5 L328.2 150.4 L327.6 150.4 L327.0 150.4 L326.4 150.4 L325.8 150.4 L325.2 150.4 L324.6 150.4 L324.0 150.4 L323.4 150.4 L322.8 150.4 L322.2 150.4 L321.6 150.4 L321.0 150.4 L320.4 150.4 L319.8 150.4 L319.2 150.4 L318.6 150.4 L318.0 150.4 L317.4 150.4 L316.8 150.4 L316.2 150.4 L315.6 150.4 L315.0 150.4 L314.4 150.4 L313.8 150.4 L313.2 150.4 L312.6 150.4 L312.0 150.4 L311.4 150.4 L310.8 150.4 L310.2 150.4 L309.6 150.4 L309.0 150.4 L308.4 150.4 L307.8 150.4 L307.2 150.4 L306.6 150.4 L306.0 150.4 L305.4 150.4 L304.8 150.4 L304.2 150.4 L303.6 150.4 L303.0 150.4 L302.4 150.4 L301.8 150.4 L301.2 150.4 L300.6 150.4 L300.0 150.3 L299.4 150.3 L298.8 150.3 L298.2 150.3 L297.6 150.3 L297.0 150.3 L296.4 150.3 L295.8 150.3 L295.2 150.3 L294.6 150.3 L294.0 150.3 L293.4 150.3 L292.8 150.3 L292.2 150.3 L291.6 150.3 L291.0 150.3 L290.4 150.3 L289.8 150.3 L289.2 150.3 L288.6 150.3 L288.0 150.3 L287.4 150.3 L286.8 150.3 L286.2 150.3 L285.6 150.3 L285.0 150.3 L284.4 150.3 L283.8 150.3 L283.2 150.3 L282.6 150.3 L282.0 150.3 L281.4 150.3 L280.8 150.3 L280.2 150.3 L279.6 150.3 L279.0 150.3 L278.4 150.3 L277.8 150.3 L277.2 150.3 L276.6 150.3 L276.0 150.3 L275.4 150.3 L274.8 150.3 L274.2 150.3 L273.6 150.3 L273.0 150.3 L272.4 150.3 Z" fill="#7ea2d3" fill-opacity="0.85" stroke="none"/>
<path d="M272.4 150.2 L273.0 150.2 L273.6 150.2 L274.2 150.2 L274.8 150.2 L275.4 150.1 L276.0 150.1 L276.6 150.1 L277.2 150.1 L277.8 150.1 L278.4 150.0 L279.0 150.0 L279.6 149.9 L280.2 149.9 L280.8 149.8 L281.4 149.8 L282.0 149.7 L282.6 149.6 L283.2 149.6 L283.8 149.5 L284.4 149.4 L285.0 149.2 L285.6 149.1 L286.2 149.0 L286.8 148.8 L287.4 148.6 L288.0 148.5 L288.6 148.2 L289.2 148.0 L289.8 147.8 L290.4 147.5 L291.0 147.2 L291.6 146.9 L292.2 146.6 L292.8 146.3 L293.4 145.9 L294.0 145.5 L294.6 145.1 L295.2 144.6 L295.8 144.2 L296.4 143.7 L297.0 143.2 L297.6 142.7 L298.2 142.1 L298.8 141.6 L299.4 141.0 L300.0 140.4 L300.6 139.8 L301.2 139.1 L301.8 138.5 L302.4 137.9 L303.0 137.2 L303.6 136.6 L304.2 135.9 L304.8 135.3 L305.4 134.6 L306.0 134.0 L306.6 133.4 L307.2 132.8 L307.8 132.2 L308.4 131.7 L309.0 131.1 L309.6 130.7 L310.2 130.2 L310.8 129.8 L311.4 129.4 L312.0 129.1 L312.6 128.8 L313.2 128.5 L313.8 128.3 L314.4 128.2 L315.0 128.1 L315.6 128.0 L316.2 128.0 L316.8 128.1 L317.4 128.2 L318.0 128.3 L318.6 128.5 L319.2 128.8 L319.8 129.1 L320.4 129.4 L321.0 129.8 L321.6 130.2 L322.2 130.7 L322.8 131.2 L323.4 131.7 L324.0 132.3 L324.6 132.9 L325.2 133.5 L325.8 134.1 L326.4 134.7 L327.0 135.3 L327.6 136.0 L328.2 136.6 L328.8 137.3 L329.4 138.0 L330.0 138.6 L330.6 139.2 L331.2 139.9 L331.8 140.5 L332.4 141.1 L333.0 141.7 L333.6 142.2 L334.2 142.8 L334.8 143.3 L335.4 143.8 L336.0 144.3 L336.6 144.8 L337.2 145.2 L337.8 145.7 L338.4 146.1 L339.0 146.4 L339.6 146.8 L340.2 147.1 L340.8 147.4 L341.4 147.7 L342.0 148.0 L342.6 148.2 L343.2 148.4 L343.8 148.6 L344.4 148.8 L345.0 149.0 L345.6 149.2 L346.2 149.3 L346.8 149.5 L347.4 149.6 L348.0 149.7 L348.6 149.8 L349.2 149.9 L349.8 150.0 L350.4 150.0 L351.0 150.1 L351.6 150.2 L352.2 150.2 L352.8 150.2 L353.4 150.3 L354.0 150.3 L354.6 150.4 L355.2 150.4 L355.8 150.4 L356.4 150.4 L357.0 150.4 L357.6 150.5 L358.2 150.5 L358.8 150.5 L359.4 150.5" fill="none" stroke="#3f70c0" stroke-width="0.9"/>
<path d="M357.6 150.5 L358.2 150.5 L358.8 150.4 L359.4 150.3 L360.0 150.3 L360.6 150.1 L361.2 149.9 L361.8 149.7 L362.4 149.4 L363.0 149.0 L363.6 148.5 L364.2 148.0 L364.8 147.4 L365.4 146.7 L366.0 146.0 L366.6 145.2 L367.2 144.5 L367.8 143.9 L368.4 143.4 L369.0 142.9 L369.6 142.7 L370.2 142.6 L370.8 142.7 L371.4 143.0 L372.0 143.4 L372.6 143.9 L373.2 144.6 L373.8 145.3 L374.4 146.0 L375.0 146.7 L375.6 147.4 L376.2 148.0 L376.8 148.6 L377.4 149.0 L378.0 149.4 L378.6 149.7 L379.2 150.0 L379.8 150.2 L380.4 150.3 L381.0 150.4 L381.6 150.5 L382.2 150.6 L382.8 150.6 L382.8 150.6 L382.2 150.6 L381.6 150.6 L381.0 150.6 L380.4 150.6 L379.8 150.6 L379.2 150.6 L378.6 150.6 L378.0 150.6 L377.4 150.6 L376.8 150.6 L376.2 150.6 L375.6 150.6 L375.0 150.6 L374.4 150.6 L373.8 150.6 L373.2 150.6 L372.6 150.6 L372.0 150.6 L371.4 150.6 L370.8 150.6 L370.2 150.6 L369.6 150.6 L369.0 150.6 L368.4 150.6 L367.8 150.6 L367.2 150.6 L366.6 150.6 L366.0 150.6 L365.4 150.6 L364.8 150.6 L364.2 150.6 L363.6 150.6 L363.0 150.6 L362.4 150.6 L361.8 150.6 L361.2 150.6 L360.6 150.6 L360.0 150.6 L359.4 150.6 L358.8 150.6 L358.2 150.6 L357.6 150.6 Z" fill="#fdefcf" fill-opacity="0.85" stroke="none"/>
<path d="M357.6 150.5 L358.2 150.5 L358.8 150.4 L359.4 150.3 L360.0 150.3 L360.6 150.1 L361.2 149.9 L361.8 149.7 L362.4 149.4 L363.0 149.0 L363.6 148.5 L364.2 148.0 L364.8 147.4 L365.4 146.7 L366.0 146.0 L366.6 145.2 L367.2 144.5 L367.8 143.9 L368.4 143.4 L369.0 142.9 L369.6 142.7 L370.2 142.6 L370.8 142.7 L371.4 143.0 L372.0 143.4 L372.6 143.9 L373.2 144.6 L373.8 145.3 L374.4 146.0 L375.0 146.7 L375.6 147.4 L376.2 148.0 L376.8 148.6 L377.4 149.0 L378.0 149.4 L378.6 149.7 L379.2 150.0 L379.8 150.2 L380.4 150.3 L381.0 150.4 L381.6 150.5 L382.2 150.6 L382.8 150.6" fill="none" stroke="#f3d58f" stroke-width="0.9"/>
<path d="M367.2 150.5 L367.8 150.5 L368.4 150.5 L369.0 150.4 L369.6 150.4 L370.2 150.3 L370.8 150.1 L371.4 150.0 L372.0 149.8 L372.6 149.5 L373.2 149.2 L373.8 148.8 L374.4 148.4 L375.0 147.9 L375.6 147.4 L376.2 146.8 L376.8 146.2 L377.4 145.6 L378.0 144.9 L378.6 144.3 L379.2 143.8 L379.8 143.4 L380.4 143.0 L381.0 142.8 L381.6 142.6 L382.2 142.7 L382.8 142.8 L383.4 143.1 L384.0 143.5 L384.6 144.0 L385.2 144.6 L385.8 145.2 L386.4 145.8 L387.0 146.4 L387.6 147.0 L388.2 147.6 L388.8 148.1 L389.4 148.6 L390.0 149.0 L390.6 149.4 L391.2 149.7 L391.8 149.9 L392.4 150.1 L393.0 150.3 L393.6 150.4 L394.2 150.5 L394.8 150.5 L395.4 150.6 L396.0 150.6 L396.0 150.7 L395.4 150.7 L394.8 150.7 L394.2 150.7 L393.6 150.7 L393.0 150.7 L392.4 150.7 L391.8 150.7 L391.2 150.7 L390.6 150.7 L390.0 150.7 L389.4 150.7 L388.8 150.7 L388.2 150.7 L387.6 150.7 L387.0 150.7 L386.4 150.7 L385.8 150.7 L385.2 150.6 L384.6 150.6 L384.0 150.6 L383.4 150.6 L382.8 150.6 L382.2 150.6 L381.6 150.6 L381.0 150.6 L380.4 150.6 L379.8 150.6 L379.2 150.6 L378.6 150.6 L378.0 150.6 L377.4 150.6 L376.8 150.6 L376.2 150.6 L375.6 150.6 L375.0 150.6 L374.4 150.6 L373.8 150.6 L373.2 150.6 L372.6 150.6 L372.0 150.6 L371.4 150.6 L370.8 150.6 L370.2 150.6 L369.6 150.6 L369.0 150.6 L368.4 150.6 L367.8 150.6 L367.2 150.6 Z" fill="#fdce55" fill-opacity="0.85" stroke="none"/>
<path d="M367.2 150.5 L367.8 150.5 L368.4 150.5 L369.0 150.4 L369.6 150.4 L370.2 150.3 L370.8 150.1 L371.4 150.0 L372.0 149.8 L372.6 149.5 L373.2 149.2 L373.8 148.8 L374.4 148.4 L375.0 147.9 L375.6 147.4 L376.2 146.8 L376.8 146.2 L377.4 145.6 L378.0 144.9 L378.6 144.3 L379.2 143.8 L379.8 143.4 L380.4 143.0 L381.0 142.8 L381.6 142.6 L382.2 142.7 L382.8 142.8 L383.4 143.1 L384.0 143.5 L384.6 144.0 L385.2 144.6 L385.8 145.2 L386.4 145.8 L387.0 146.4 L387.6 147.0 L388.2 147.6 L388.8 148.1 L389.4 148.6 L390.0 149.0 L390.6 149.4 L391.2 149.7 L391.8 149.9 L392.4 150.1 L393.0 150.3 L393.6 150.4 L394.2 150.5 L394.8 150.5 L395.4 150.6 L396.0 150.6" fill="none" stroke="#f2ad0c" stroke-width="0.9"/>
<circle cx="258.6" cy="147.8" r="1.3" fill="none" stroke="#acacac" stroke-width="0.6"/>
<circle cx="259.9" cy="148.1" r="1.3" fill="none" stroke="#acacac" stroke-width="0.6"/>
<circle cx="261.3" cy="147.0" r="1.3" fill="none" stroke="#acacac" stroke-width="0.6"/>
<circle cx="262.7" cy="148.0" r="1.3" fill="none" stroke="#acacac" stroke-width="0.6"/>
<circle cx="264.0" cy="146.9" r="1.3" fill="none" stroke="#acacac" stroke-width="0.6"/>
<circle cx="265.4" cy="147.5" r="1.3" fill="none" stroke="#acacac" stroke-width="0.6"/>
<circle cx="266.7" cy="145.8" r="1.3" fill="none" stroke="#acacac" stroke-width="0.6"/>
<circle cx="268.1" cy="147.4" r="1.3" fill="none" stroke="#acacac" stroke-width="0.6"/>
<circle cx="269.4" cy="147.7" r="1.3" fill="none" stroke="#acacac" stroke-width="0.6"/>
<circle cx="270.8" cy="150.3" r="1.3" fill="none" stroke="#acacac" stroke-width="0.6"/>
<circle cx="272.1" cy="149.6" r="1.3" fill="none" stroke="#acacac" stroke-width="0.6"/>
<circle cx="273.5" cy="148.3" r="1.3" fill="none" stroke="#acacac" stroke-width="0.6"/>
<circle cx="274.8" cy="147.5" r="1.3" fill="none" stroke="#acacac" stroke-width="0.6"/>
<circle cx="276.2" cy="147.8" r="1.3" fill="none" stroke="#acacac" stroke-width="0.6"/>
<circle cx="277.5" cy="146.5" r="1.3" fill="none" stroke="#acacac" stroke-width="0.6"/>
<circle cx="278.9" cy="146.5" r="1.3" fill="none" stroke="#acacac" stroke-width="0.6"/>
<circle cx="280.2" cy="148.2" r="1.3" fill="none" stroke="#acacac" stroke-width="0.6"/>
<circle cx="281.6" cy="150.5" r="1.3" fill="none" stroke="#acacac" stroke-width="0.6"/>
<circle cx="282.9" cy="148.5" r="1.3" fill="none" stroke="#acacac" stroke-width="0.6"/>
<circle cx="284.3" cy="148.4" r="1.3" fill="none" stroke="#acacac" stroke-width="0.6"/>
<circle cx="285.6" cy="147.9" r="1.3" fill="none" stroke="#acacac" stroke-width="0.6"/>
<circle cx="287.0" cy="147.5" r="1.3" fill="none" stroke="#acacac" stroke-width="0.6"/>
<circle cx="288.3" cy="148.8" r="1.3" fill="none" stroke="#acacac" stroke-width="0.6"/>
<circle cx="289.7" cy="148.6" r="1.3" fill="none" stroke="#acacac" stroke-width="0.6"/>
<circle cx="291.0" cy="147.2" r="1.3" fill="none" stroke="#acacac" stroke-width="0.6"/>
<circle cx="292.4" cy="146.8" r="1.3" fill="none" stroke="#acacac" stroke-width="0.6"/>
<circle cx="293.7" cy="145.7" r="1.3" fill="none" stroke="#acacac" stroke-width="0.6"/>
<circle cx="295.1" cy="144.6" r="1.3" fill="none" stroke="#acacac" stroke-width="0.6"/>
<circle cx="296.4" cy="141.7" r="1.3" fill="none" stroke="#acacac" stroke-width="0.6"/>
<circle cx="297.8" cy="141.3" r="1.3" fill="none" stroke="#acacac" stroke-width="0.6"/>
<circle cx="299.1" cy="140.3" r="1.3" fill="none" stroke="#acacac" stroke-width="0.6"/>
<circle cx="300.5" cy="138.1" r="1.3" fill="none" stroke="#acacac" stroke-width="0.6"/>
<circle cx="301.8" cy="136.8" r="1.3" fill="none" stroke="#acacac" stroke-width="0.6"/>
<circle cx="303.2" cy="134.7" r="1.3" fill="none" stroke="#acacac" stroke-width="0.6"/>
<circle cx="304.5" cy="133.2" r="1.3" fill="none" stroke="#acacac" stroke-width="0.6"/>
<circle cx="305.9" cy="132.2" r="1.3" fill="none" stroke="#acacac" stroke-width="0.6"/>
<circle cx="307.2" cy="129.0" r="1.3" fill="none" stroke="#acacac" stroke-width="0.6"/>
<circle cx="308.6" cy="127.5" r="1.3" fill="none" stroke="#acacac" stroke-width="0.6"/>
<circle cx="309.9" cy="127.2" r="1.3" fill="none" stroke="#acacac" stroke-width="0.6"/>
<circle cx="311.3" cy="126.2" r="1.3" fill="none" stroke="#acacac" stroke-width="0.6"/>
<circle cx="312.6" cy="126.7" r="1.3" fill="none" stroke="#acacac" stroke-width="0.6"/>
<circle cx="314.0" cy="123.1" r="1.3" fill="none" stroke="#acacac" stroke-width="0.6"/>
<circle cx="315.3" cy="125.8" r="1.3" fill="none" stroke="#acacac" stroke-width="0.6"/>
<circle cx="316.7" cy="125.1" r="1.3" fill="none" stroke="#acacac" stroke-width="0.6"/>
<circle cx="318.0" cy="126.3" r="1.3" fill="none" stroke="#acacac" stroke-width="0.6"/>
<circle cx="319.4" cy="127.9" r="1.3" fill="none" stroke="#acacac" stroke-width="0.6"/>
<circle cx="320.7" cy="129.2" r="1.3" fill="none" stroke="#acacac" stroke-width="0.6"/>
<circle cx="322.1" cy="130.0" r="1.3" fill="none" stroke="#acacac" stroke-width="0.6"/>
<circle cx="323.4" cy="129.9" r="1.3" fill="none" stroke="#acacac" stroke-width="0.6"/>
<circle cx="324.8" cy="131.5" r="1.3" fill="none" stroke="#acacac" stroke-width="0.6"/>
<circle cx="326.1" cy="129.5" r="1.3" fill="none" stroke="#acacac" stroke-width="0.6"/>
<circle cx="327.5" cy="127.8" r="1.3" fill="none" stroke="#acacac" stroke-width="0.6"/>
<circle cx="328.8" cy="125.2" r="1.3" fill="none" stroke="#acacac" stroke-width="0.6"/>
<circle cx="330.2" cy="119.2" r="1.3" fill="none" stroke="#acacac" stroke-width="0.6"/>
<circle cx="331.5" cy="118.0" r="1.3" fill="none" stroke="#acacac" stroke-width="0.6"/>
<circle cx="332.9" cy="117.0" r="1.3" fill="none" stroke="#acacac" stroke-width="0.6"/>
<circle cx="334.2" cy="122.4" r="1.3" fill="none" stroke="#acacac" stroke-width="0.6"/>
<circle cx="335.6" cy="127.5" r="1.3" fill="none" stroke="#acacac" stroke-width="0.6"/>
<circle cx="336.9" cy="133.9" r="1.3" fill="none" stroke="#acacac" stroke-width="0.6"/>
<circle cx="338.3" cy="139.0" r="1.3" fill="none" stroke="#acacac" stroke-width="0.6"/>
<circle cx="339.6" cy="142.2" r="1.3" fill="none" stroke="#acacac" stroke-width="0.6"/>
<circle cx="341.0" cy="142.5" r="1.3" fill="none" stroke="#acacac" stroke-width="0.6"/>
<circle cx="342.3" cy="144.2" r="1.3" fill="none" stroke="#acacac" stroke-width="0.6"/>
<circle cx="343.7" cy="144.4" r="1.3" fill="none" stroke="#acacac" stroke-width="0.6"/>
<circle cx="345.0" cy="146.5" r="1.3" fill="none" stroke="#acacac" stroke-width="0.6"/>
<circle cx="346.4" cy="145.0" r="1.3" fill="none" stroke="#acacac" stroke-width="0.6"/>
<circle cx="347.7" cy="147.1" r="1.3" fill="none" stroke="#acacac" stroke-width="0.6"/>
<circle cx="349.1" cy="146.0" r="1.3" fill="none" stroke="#acacac" stroke-width="0.6"/>
<circle cx="350.4" cy="146.0" r="1.3" fill="none" stroke="#acacac" stroke-width="0.6"/>
<circle cx="351.8" cy="146.6" r="1.3" fill="none" stroke="#acacac" stroke-width="0.6"/>
<circle cx="353.1" cy="146.5" r="1.3" fill="none" stroke="#acacac" stroke-width="0.6"/>
<circle cx="354.5" cy="148.2" r="1.3" fill="none" stroke="#acacac" stroke-width="0.6"/>
<circle cx="355.8" cy="149.2" r="1.3" fill="none" stroke="#acacac" stroke-width="0.6"/>
<circle cx="357.2" cy="148.6" r="1.3" fill="none" stroke="#acacac" stroke-width="0.6"/>
<circle cx="358.5" cy="149.0" r="1.3" fill="none" stroke="#acacac" stroke-width="0.6"/>
<circle cx="359.9" cy="149.8" r="1.3" fill="none" stroke="#acacac" stroke-width="0.6"/>
<circle cx="361.2" cy="148.3" r="1.3" fill="none" stroke="#acacac" stroke-width="0.6"/>
<circle cx="362.6" cy="147.7" r="1.3" fill="none" stroke="#acacac" stroke-width="0.6"/>
<circle cx="363.9" cy="146.6" r="1.3" fill="none" stroke="#acacac" stroke-width="0.6"/>
<circle cx="365.3" cy="144.4" r="1.3" fill="none" stroke="#acacac" stroke-width="0.6"/>
<circle cx="366.6" cy="145.5" r="1.3" fill="none" stroke="#acacac" stroke-width="0.6"/>
<circle cx="368.0" cy="142.1" r="1.3" fill="none" stroke="#acacac" stroke-width="0.6"/>
<circle cx="369.3" cy="143.3" r="1.3" fill="none" stroke="#acacac" stroke-width="0.6"/>
<circle cx="370.7" cy="142.0" r="1.3" fill="none" stroke="#acacac" stroke-width="0.6"/>
<circle cx="372.0" cy="142.6" r="1.3" fill="none" stroke="#acacac" stroke-width="0.6"/>
<circle cx="373.4" cy="141.4" r="1.3" fill="none" stroke="#acacac" stroke-width="0.6"/>
<circle cx="374.7" cy="140.8" r="1.3" fill="none" stroke="#acacac" stroke-width="0.6"/>
<circle cx="376.1" cy="141.6" r="1.3" fill="none" stroke="#acacac" stroke-width="0.6"/>
<circle cx="377.4" cy="140.3" r="1.3" fill="none" stroke="#acacac" stroke-width="0.6"/>
<circle cx="378.8" cy="139.9" r="1.3" fill="none" stroke="#acacac" stroke-width="0.6"/>
<circle cx="380.1" cy="139.5" r="1.3" fill="none" stroke="#acacac" stroke-width="0.6"/>
<circle cx="381.5" cy="139.1" r="1.3" fill="none" stroke="#acacac" stroke-width="0.6"/>
<circle cx="382.8" cy="139.3" r="1.3" fill="none" stroke="#acacac" stroke-width="0.6"/>
<circle cx="384.2" cy="139.6" r="1.3" fill="none" stroke="#acacac" stroke-width="0.6"/>
<circle cx="385.5" cy="141.5" r="1.3" fill="none" stroke="#acacac" stroke-width="0.6"/>
<circle cx="386.9" cy="141.5" r="1.3" fill="none" stroke="#acacac" stroke-width="0.6"/>
<circle cx="388.2" cy="145.3" r="1.3" fill="none" stroke="#acacac" stroke-width="0.6"/>
<circle cx="389.6" cy="146.1" r="1.3" fill="none" stroke="#acacac" stroke-width="0.6"/>
<circle cx="390.9" cy="149.4" r="1.3" fill="none" stroke="#acacac" stroke-width="0.6"/>
<circle cx="392.3" cy="150.2" r="1.3" fill="none" stroke="#acacac" stroke-width="0.6"/>
<circle cx="393.6" cy="147.6" r="1.3" fill="none" stroke="#acacac" stroke-width="0.6"/>
<circle cx="395.0" cy="149.5" r="1.3" fill="none" stroke="#acacac" stroke-width="0.6"/>
<circle cx="396.3" cy="149.2" r="1.3" fill="none" stroke="#acacac" stroke-width="0.6"/>
<circle cx="397.7" cy="148.3" r="1.3" fill="none" stroke="#acacac" stroke-width="0.6"/>
<circle cx="399.0" cy="149.9" r="1.3" fill="none" stroke="#acacac" stroke-width="0.6"/>
<circle cx="400.4" cy="149.5" r="1.3" fill="none" stroke="#acacac" stroke-width="0.6"/>
<circle cx="401.7" cy="149.0" r="1.3" fill="none" stroke="#acacac" stroke-width="0.6"/>
<circle cx="403.1" cy="151.2" r="1.3" fill="none" stroke="#acacac" stroke-width="0.6"/>
<circle cx="404.4" cy="151.9" r="1.3" fill="none" stroke="#acacac" stroke-width="0.6"/>
<circle cx="405.8" cy="152.4" r="1.3" fill="none" stroke="#acacac" stroke-width="0.6"/>
<circle cx="407.1" cy="150.7" r="1.3" fill="none" stroke="#acacac" stroke-width="0.6"/>
<circle cx="408.5" cy="151.4" r="1.3" fill="none" stroke="#acacac" stroke-width="0.6"/>
<circle cx="409.8" cy="150.3" r="1.3" fill="none" stroke="#acacac" stroke-width="0.6"/>
<circle cx="411.2" cy="147.5" r="1.3" fill="none" stroke="#acacac" stroke-width="0.6"/>
<circle cx="412.5" cy="147.3" r="1.3" fill="none" stroke="#acacac" stroke-width="0.6"/>
<circle cx="413.9" cy="147.5" r="1.3" fill="none" stroke="#acacac" stroke-width="0.6"/>
<circle cx="415.2" cy="147.1" r="1.3" fill="none" stroke="#acacac" stroke-width="0.6"/>
<circle cx="416.6" cy="149.2" r="1.3" fill="none" stroke="#acacac" stroke-width="0.6"/>
<circle cx="417.9" cy="147.9" r="1.3" fill="none" stroke="#acacac" stroke-width="0.6"/>
<circle cx="419.3" cy="146.9" r="1.3" fill="none" stroke="#acacac" stroke-width="0.6"/>
<circle cx="420.6" cy="147.3" r="1.3" fill="none" stroke="#acacac" stroke-width="0.6"/>
<circle cx="422.0" cy="148.5" r="1.3" fill="none" stroke="#acacac" stroke-width="0.6"/>
<circle cx="423.3" cy="151.3" r="1.3" fill="none" stroke="#acacac" stroke-width="0.6"/>
<circle cx="424.7" cy="149.9" r="1.3" fill="none" stroke="#acacac" stroke-width="0.6"/>
<circle cx="426.0" cy="150.5" r="1.3" fill="none" stroke="#acacac" stroke-width="0.6"/>
<path d="M257.4 150.2 L258.0 150.2 L258.6 150.2 L259.2 150.2 L259.8 150.2 L260.4 150.2 L261.0 150.2 L261.6 150.2 L262.2 150.2 L262.8 150.2 L263.4 150.2 L264.0 150.2 L264.6 150.2 L265.2 150.2 L265.8 150.2 L266.4 150.2 L267.0 150.2 L267.6 150.2 L268.2 150.2 L268.8 150.2 L269.4 150.2 L270.0 150.2 L270.6 150.2 L271.2 150.2 L271.8 150.2 L272.4 150.2 L273.0 150.2 L273.6 150.2 L274.2 150.2 L274.8 150.2 L275.4 150.1 L276.0 150.1 L276.6 150.1 L277.2 150.1 L277.8 150.1 L278.4 150.0 L279.0 150.0 L279.6 149.9 L280.2 149.9 L280.8 149.8 L281.4 149.8 L282.0 149.7 L282.6 149.6 L283.2 149.6 L283.8 149.5 L284.4 149.4 L285.0 149.2 L285.6 149.1 L286.2 149.0 L286.8 148.8 L287.4 148.6 L288.0 148.5 L288.6 148.2 L289.2 148.0 L289.8 147.8 L290.4 147.5 L291.0 147.2 L291.6 146.9 L292.2 146.6 L292.8 146.3 L293.4 145.9 L294.0 145.5 L294.6 145.1 L295.2 144.6 L295.8 144.2 L296.4 143.7 L297.0 143.2 L297.6 142.7 L298.2 142.1 L298.8 141.6 L299.4 141.0 L300.0 140.4 L300.6 139.8 L301.2 139.1 L301.8 138.5 L302.4 137.9 L303.0 137.2 L303.6 136.6 L304.2 135.9 L304.8 135.3 L305.4 134.6 L306.0 134.0 L306.6 133.4 L307.2 132.8 L307.8 132.2 L308.4 131.7 L309.0 131.1 L309.6 130.6 L310.2 130.2 L310.8 129.7 L311.4 129.3 L312.0 129.0 L312.6 128.7 L313.2 128.4 L313.8 128.2 L314.4 128.0 L315.0 127.8 L315.6 127.7 L316.2 127.7 L316.8 127.6 L317.4 127.6 L318.0 127.7 L318.6 127.8 L319.2 127.9 L319.8 128.1 L320.4 128.3 L321.0 128.5 L321.6 128.8 L322.2 129.1 L322.8 129.4 L323.4 129.8 L324.0 130.1 L324.6 130.3 L325.2 130.5 L325.8 130.6 L326.4 130.4 L327.0 129.9 L327.6 129.0 L328.2 127.8 L328.8 126.2 L329.4 124.3 L330.0 122.3 L330.6 120.5 L331.2 119.1 L331.8 118.4 L332.4 118.5 L333.0 119.5 L333.6 121.5 L334.2 124.1 L334.8 127.2 L335.4 130.6 L336.0 133.8 L336.6 136.8 L337.2 139.4 L337.8 141.5 L338.4 143.2 L339.0 144.6 L339.6 145.6 L340.2 146.3 L340.8 146.9 L341.4 147.4 L342.0 147.7 L342.6 148.1 L343.2 148.3 L343.8 148.6 L344.4 148.8 L345.0 149.0 L345.6 149.1 L346.2 149.3 L346.8 149.4 L347.4 149.6 L348.0 149.7 L348.6 149.8 L349.2 149.9 L349.8 150.0 L350.4 150.0 L351.0 150.1 L351.6 150.2 L352.2 150.2 L352.8 150.2 L353.4 150.3 L354.0 150.3 L354.6 150.4 L355.2 150.4 L355.8 150.4 L356.4 150.4 L357.0 150.4 L357.6 150.4 L358.2 150.4 L358.8 150.4 L359.4 150.3 L360.0 150.2 L360.6 150.1 L361.2 149.9 L361.8 149.7 L362.4 149.4 L363.0 149.0 L363.6 148.5 L364.2 148.0 L364.8 147.3 L365.4 146.7 L366.0 145.9 L366.6 145.2 L367.2 144.5 L367.8 143.8 L368.4 143.2 L369.0 142.8 L369.6 142.4 L370.2 142.3 L370.8 142.2 L371.4 142.3 L372.0 142.5 L372.6 142.8 L373.2 143.2 L373.8 143.5 L374.4 143.8 L375.0 144.0 L375.6 144.2 L376.2 144.2 L376.8 144.1 L377.4 144.0 L378.0 143.7 L378.6 143.5 L379.2 143.2 L379.8 142.9 L380.4 142.7 L381.0 142.5 L381.6 142.5 L382.2 142.6 L382.8 142.8 L383.4 143.1 L384.0 143.5 L384.6 144.0 L385.2 144.6 L385.8 145.2 L386.4 145.8 L387.0 146.4 L387.6 147.0 L388.2 147.6 L388.8 148.1 L389.4 148.6 L390.0 149.0 L390.6 149.4 L391.2 149.7 L391.8 149.9 L392.4 150.1 L393.0 150.3 L393.6 150.4 L394.2 150.5 L394.8 150.5 L395.4 150.6 L396.0 150.6 L396.6 150.6 L397.2 150.7 L397.8 150.7 L398.4 150.7 L399.0 150.7 L399.6 150.7 L400.2 150.7 L400.8 150.7 L401.4 150.7 L402.0 150.7 L402.6 150.7 L403.2 150.7 L403.8 150.7 L404.4 150.7 L405.0 150.7 L405.6 150.7 L406.2 150.7 L406.8 150.7 L407.4 150.7 L408.0 150.7 L408.6 150.7 L409.2 150.7 L409.8 150.7 L410.4 150.7 L411.0 150.7 L411.6 150.7 L412.2 150.7 L412.8 150.7 L413.4 150.7 L414.0 150.8 L414.6 150.8 L415.2 150.8 L415.8 150.8 L416.4 150.8 L417.0 150.8 L417.6 150.8 L418.2 150.8 L418.8 150.8 L419.4 150.8 L420.0 150.8 L420.6 150.8 L421.2 150.8 L421.8 150.8 L422.4 150.8 L423.0 150.8 L423.6 150.8 L424.2 150.8 L424.8 150.8 L425.4 150.8 L426.0 150.8 L426.6 150.8 L427.2 150.8 L427.8 150.8" fill="none" stroke="#7a7a7a" stroke-width="1.6" stroke-linejoin="round" stroke-linecap="round" />
<path d="M257.4 199.5 L258.0 199.5 L258.6 199.5 L259.2 199.5 L259.8 199.6 L260.4 199.6 L261.0 199.6 L261.6 199.6 L262.2 199.6 L262.8 199.6 L263.4 199.6 L264.0 199.7 L264.6 199.7 L265.2 199.7 L265.8 199.7 L266.4 199.7 L267.0 199.7 L267.6 199.8 L268.2 199.8 L268.8 199.8 L269.4 199.8 L270.0 199.8 L270.6 199.8 L271.2 199.8 L271.8 199.9 L272.4 199.9 L273.0 199.9 L273.6 199.9 L274.2 199.9 L274.8 199.9 L275.4 199.9 L276.0 200.0 L276.6 200.0 L277.2 200.0 L277.8 200.0 L278.4 200.0 L279.0 200.0 L279.6 200.0 L280.2 200.1 L280.8 200.1 L281.4 200.1 L282.0 200.1 L282.6 200.1 L283.2 200.1 L283.8 200.2 L284.4 200.2 L285.0 200.2 L285.6 200.2 L286.2 200.2 L286.8 200.2 L287.4 200.2 L288.0 200.3 L288.6 200.3 L289.2 200.3 L289.8 200.3 L290.4 200.3 L291.0 200.3 L291.6 200.3 L292.2 200.4 L292.8 200.4 L293.4 200.4 L294.0 200.4 L294.6 200.4 L295.2 200.4 L295.8 200.4 L296.4 200.5 L297.0 200.5 L297.6 200.5 L298.2 200.5 L298.8 200.5 L299.4 200.5 L300.0 200.5 L300.6 200.6 L301.2 200.6 L301.8 200.6 L302.4 200.6 L303.0 200.6 L303.6 200.6 L304.2 200.7 L304.8 200.7 L305.4 200.7 L306.0 200.7 L306.6 200.7 L307.2 200.7 L307.8 200.7 L308.4 200.8 L309.0 200.8 L309.6 200.8 L310.2 200.8 L310.8 200.8 L311.4 200.8 L312.0 200.8 L312.6 200.9 L313.2 200.9 L313.8 200.9 L314.4 200.9 L315.0 200.9 L315.6 200.9 L316.2 200.9 L316.8 201.0 L317.4 201.0 L318.0 201.0 L318.6 201.0 L319.2 201.0 L319.8 201.0 L320.4 201.1 L321.0 201.1 L321.6 201.1 L322.2 201.1 L322.8 201.1 L323.4 201.1 L324.0 201.1 L324.6 201.2 L325.2 201.2 L325.8 201.2 L326.4 201.2 L327.0 201.2 L327.6 201.2 L328.2 201.2 L328.8 201.3 L329.4 201.3 L330.0 201.3 L330.6 201.3 L331.2 201.3 L331.8 201.3 L332.4 201.3 L333.0 201.4 L333.6 201.4 L334.2 201.4 L334.8 201.4 L335.4 201.4 L336.0 201.4 L336.6 201.5 L337.2 201.5 L337.8 201.5 L338.4 201.5 L339.0 201.5 L339.6 201.5 L340.2 201.5 L340.8 201.6 L341.4 201.6 L342.0 201.6 L342.6 201.6 L343.2 201.6 L343.8 201.6 L344.4 201.6 L345.0 201.7 L345.6 201.7 L346.2 201.7 L346.8 201.7 L347.4 201.7 L348.0 201.7 L348.6 201.7 L349.2 201.8 L349.8 201.8 L350.4 201.8 L351.0 201.8 L351.6 201.8 L352.2 201.8 L352.8 201.9 L353.4 201.9 L354.0 201.9 L354.6 201.9 L355.2 201.9 L355.8 201.9 L356.4 201.9 L357.0 202.0 L357.6 202.0 L358.2 202.0 L358.8 202.0 L359.4 202.0 L360.0 202.0 L360.6 202.0 L361.2 202.1 L361.8 202.1 L362.4 202.1 L363.0 202.1 L363.6 202.1 L364.2 202.1 L364.8 202.1 L365.4 202.2 L366.0 202.2 L366.6 202.2 L367.2 202.2 L367.8 202.2 L368.4 202.2 L369.0 202.2 L369.6 202.3 L370.2 202.3 L370.8 202.3 L371.4 202.3 L372.0 202.3 L372.6 202.3 L373.2 202.4 L373.8 202.4 L374.4 202.4 L375.0 202.4 L375.6 202.4 L376.2 202.4 L376.8 202.4 L377.4 202.5 L378.0 202.5 L378.6 202.5 L379.2 202.5 L379.8 202.5 L380.4 202.5 L381.0 202.5 L381.6 202.6 L382.2 202.6 L382.8 202.6 L383.4 202.6 L384.0 202.6 L384.6 202.6 L385.2 202.6 L385.8 202.7 L386.4 202.7 L387.0 202.7 L387.6 202.7 L388.2 202.7 L388.8 202.7 L389.4 202.8 L390.0 202.8 L390.6 202.8 L391.2 202.8 L391.8 202.8 L392.4 202.8 L393.0 202.8 L393.6 202.9 L394.2 202.9 L394.8 202.9 L395.4 202.9 L396.0 202.9 L396.6 202.9 L397.2 202.9 L397.8 203.0 L398.4 203.0 L399.0 203.0 L399.6 203.0 L400.2 203.0 L400.8 203.0 L401.4 203.0 L402.0 203.1 L402.6 203.1 L403.2 203.1 L403.8 203.1 L404.4 203.1 L405.0 203.1 L405.6 203.2 L406.2 203.2 L406.8 203.2 L407.4 203.2 L408.0 203.2 L408.6 203.2 L409.2 203.2 L409.8 203.3 L410.4 203.3 L411.0 203.3 L411.6 203.3 L412.2 203.3 L412.8 203.3 L413.4 203.3 L414.0 203.4 L414.6 203.4 L415.2 203.4 L415.8 203.4 L416.4 203.4 L417.0 203.4 L417.6 203.4 L418.2 203.5 L418.8 203.5 L419.4 203.5 L420.0 203.5 L420.6 203.5 L421.2 203.5 L421.8 203.5 L422.4 203.6 L423.0 203.6 L423.6 203.6 L424.2 203.6 L424.8 203.6 L425.4 203.6 L426.0 203.7 L426.6 203.7 L427.2 203.7 L427.8 203.7" fill="none" stroke="#8a8a8a" stroke-width="1.4"/>
<path d="M257.4 198.5 L258.0 198.5 L258.6 198.5 L259.2 198.5 L259.8 198.6 L260.4 198.6 L261.0 198.6 L261.6 198.6 L262.2 198.6 L262.8 198.6 L263.4 198.6 L264.0 198.7 L264.6 198.7 L265.2 198.7 L265.8 198.7 L266.4 198.7 L267.0 198.7 L267.6 198.8 L268.2 198.8 L268.8 198.8 L269.4 198.8 L270.0 198.8 L270.6 198.8 L271.2 198.8 L271.8 198.9 L272.4 198.9 L273.0 198.9 L273.6 198.9 L274.2 198.9 L274.8 198.9 L275.4 198.9 L276.0 199.0 L276.6 199.0 L277.2 199.0 L277.8 199.0 L278.4 199.0 L279.0 199.0 L279.6 199.0 L280.2 199.1 L280.8 199.1 L281.4 199.1 L282.0 199.1 L282.6 199.1 L283.2 199.1 L283.8 199.2 L284.4 199.2 L285.0 199.2 L285.6 199.2 L286.2 199.2 L286.8 199.2 L287.4 199.2 L288.0 199.3 L288.6 199.3 L289.2 199.3 L289.8 199.3 L290.4 199.3 L291.0 199.3 L291.6 199.3 L292.2 199.4 L292.8 199.4 L293.4 199.4 L294.0 199.4 L294.6 199.4 L295.2 199.4 L295.8 199.4 L296.4 199.5 L297.0 199.5 L297.6 199.5 L298.2 199.5 L298.8 199.5 L299.4 199.5 L300.0 199.5 L300.6 199.6 L301.2 199.6 L301.8 199.6 L302.4 199.6 L303.0 199.6 L303.6 199.6 L304.2 199.7 L304.8 199.7 L305.4 199.7 L306.0 199.7 L306.6 199.7 L307.2 199.7 L307.8 199.7 L308.4 199.8 L309.0 199.8 L309.6 199.8 L310.2 199.8 L310.8 199.8 L311.4 199.8 L312.0 199.8 L312.6 199.9 L313.2 199.9 L313.8 199.9 L314.4 199.9 L315.0 199.9 L315.6 199.9 L316.2 199.9 L316.8 200.0 L317.4 200.0 L318.0 200.0 L318.6 200.0 L319.2 200.0 L319.8 200.0 L320.4 200.1 L321.0 200.1 L321.6 200.1 L322.2 200.1 L322.8 200.1 L323.4 200.1 L324.0 200.1 L324.6 200.2 L325.2 200.2 L325.8 200.2 L326.4 200.2 L327.0 200.2 L327.6 200.2 L328.2 200.2 L328.8 200.3 L329.4 200.3 L330.0 200.3 L330.6 200.3 L331.2 200.3 L331.8 200.3 L332.4 200.3 L333.0 200.4 L333.6 200.4 L334.2 200.4 L334.8 200.4 L335.4 200.4 L336.0 200.4 L336.6 200.5 L337.2 200.5 L337.8 200.5 L338.4 200.5 L339.0 200.5 L339.6 200.5 L340.2 200.5 L340.8 200.6 L341.4 200.6 L342.0 200.6 L342.6 200.6 L343.2 200.6 L343.8 200.6 L344.4 200.6 L345.0 200.7 L345.6 200.7 L346.2 200.7 L346.8 200.7 L347.4 200.7 L348.0 200.7 L348.6 200.7 L349.2 200.8 L349.8 200.8 L350.4 200.8 L351.0 200.8 L351.6 200.8 L352.2 200.8 L352.8 200.9 L353.4 200.9 L354.0 200.9 L354.6 200.9 L355.2 200.9 L355.8 200.9 L356.4 200.9 L357.0 201.0 L357.6 201.0 L358.2 201.0 L358.8 201.0 L359.4 201.0 L360.0 201.0 L360.6 201.0 L361.2 201.1 L361.8 201.1 L362.4 201.1 L363.0 201.1 L363.6 201.1 L364.2 201.1 L364.8 201.1 L365.4 201.2 L366.0 201.2 L366.6 201.2 L367.2 201.2 L367.8 201.2 L368.4 201.2 L369.0 201.2 L369.6 201.3 L370.2 201.3 L370.8 201.3 L371.4 201.3 L372.0 201.3 L372.6 201.3 L373.2 201.4 L373.8 201.4 L374.4 201.4 L375.0 201.4 L375.6 201.4 L376.2 201.4 L376.8 201.4 L377.4 201.5 L378.0 201.5 L378.6 201.5 L379.2 201.5 L379.8 201.5 L380.4 201.5 L381.0 201.5 L381.6 201.6 L382.2 201.6 L382.8 201.6 L383.4 201.6 L384.0 201.6 L384.6 201.6 L385.2 201.6 L385.8 201.7 L386.4 201.7 L387.0 201.7 L387.6 201.7 L388.2 201.7 L388.8 201.7 L389.4 201.8 L390.0 201.8 L390.6 201.8 L391.2 201.8 L391.8 201.8 L392.4 201.8 L393.0 201.8 L393.6 201.9 L394.2 201.9 L394.8 201.9 L395.4 201.9 L396.0 201.9 L396.6 201.9 L397.2 201.9 L397.8 202.0 L398.4 202.0 L399.0 202.0 L399.6 202.0 L400.2 202.0 L400.8 202.0 L401.4 202.0 L402.0 202.1 L402.6 202.1 L403.2 202.1 L403.8 202.1 L404.4 202.1 L405.0 202.1 L405.6 202.2 L406.2 202.2 L406.8 202.2 L407.4 202.2 L408.0 202.2 L408.6 202.2 L409.2 202.2 L409.8 202.3 L410.4 202.3 L411.0 202.3 L411.6 202.3 L412.2 202.3 L412.8 202.3 L413.4 202.3 L414.0 202.4 L414.6 202.4 L415.2 202.4 L415.8 202.4 L416.4 202.4 L417.0 202.4 L417.6 202.4 L418.2 202.5 L418.8 202.5 L419.4 202.5 L420.0 202.5 L420.6 202.5 L421.2 202.5 L421.8 202.5 L422.4 202.6 L423.0 202.6 L423.6 202.6 L424.2 202.6 L424.8 202.6 L425.4 202.6 L426.0 202.7 L426.6 202.7 L427.2 202.7 L427.8 202.7" fill="none" stroke="#e3cf96" stroke-width="1.3"/>
<path d="M324.6 200.8 L325.2 200.7 L325.8 200.6 L326.4 200.5 L327.0 200.2 L327.6 199.9 L328.2 199.4 L328.8 198.6 L329.4 197.7 L330.0 196.7 L330.6 195.4 L331.2 194.1 L331.8 192.8 L332.4 191.7 L333.0 190.8 L333.6 190.2 L334.2 190.1 L334.8 190.4 L335.4 191.1 L336.0 192.1 L336.6 193.4 L337.2 194.7 L337.8 196.0 L338.4 197.3 L339.0 198.3 L339.6 199.2 L340.2 199.8 L340.8 200.3 L341.4 200.7 L342.0 200.9 L342.6 201.1 L343.2 201.2 L343.8 201.3 L343.8 201.3 L343.2 201.3 L342.6 201.3 L342.0 201.3 L341.4 201.3 L340.8 201.3 L340.2 201.2 L339.6 201.2 L339.0 201.2 L338.4 201.2 L337.8 201.2 L337.2 201.2 L336.6 201.2 L336.0 201.1 L335.4 201.1 L334.8 201.1 L334.2 201.1 L333.6 201.1 L333.0 201.1 L332.4 201.0 L331.8 201.0 L331.2 201.0 L330.6 201.0 L330.0 201.0 L329.4 201.0 L328.8 201.0 L328.2 200.9 L327.6 200.9 L327.0 200.9 L326.4 200.9 L325.8 200.9 L325.2 200.9 L324.6 200.9 Z" fill="#cadfef" fill-opacity="0.85" stroke="none"/>
<path d="M324.6 200.8 L325.2 200.7 L325.8 200.6 L326.4 200.5 L327.0 200.2 L327.6 199.9 L328.2 199.4 L328.8 198.6 L329.4 197.7 L330.0 196.7 L330.6 195.4 L331.2 194.1 L331.8 192.8 L332.4 191.7 L333.0 190.8 L333.6 190.2 L334.2 190.1 L334.8 190.4 L335.4 191.1 L336.0 192.1 L336.6 193.4 L337.2 194.7 L337.8 196.0 L338.4 197.3 L339.0 198.3 L339.6 199.2 L340.2 199.8 L340.8 200.3 L341.4 200.7 L342.0 200.9 L342.6 201.1 L343.2 201.2 L343.8 201.3" fill="none" stroke="#8dbde4" stroke-width="0.9"/>
<path d="M279.0 199.7 L279.6 199.7 L280.2 199.7 L280.8 199.7 L281.4 199.7 L282.0 199.7 L282.6 199.7 L283.2 199.7 L283.8 199.7 L284.4 199.6 L285.0 199.6 L285.6 199.6 L286.2 199.6 L286.8 199.5 L287.4 199.5 L288.0 199.4 L288.6 199.4 L289.2 199.3 L289.8 199.3 L290.4 199.2 L291.0 199.1 L291.6 199.0 L292.2 198.9 L292.8 198.8 L293.4 198.7 L294.0 198.5 L294.6 198.4 L295.2 198.2 L295.8 198.1 L296.4 197.9 L297.0 197.7 L297.6 197.5 L298.2 197.3 L298.8 197.0 L299.4 196.8 L300.0 196.6 L300.6 196.3 L301.2 196.0 L301.8 195.8 L302.4 195.5 L303.0 195.2 L303.6 194.9 L304.2 194.6 L304.8 194.4 L305.4 194.1 L306.0 193.8 L306.6 193.5 L307.2 193.2 L307.8 193.0 L308.4 192.7 L309.0 192.5 L309.6 192.3 L310.2 192.1 L310.8 191.9 L311.4 191.7 L312.0 191.5 L312.6 191.4 L313.2 191.3 L313.8 191.2 L314.4 191.2 L315.0 191.1 L315.6 191.1 L316.2 191.2 L316.8 191.2 L317.4 191.3 L318.0 191.4 L318.6 191.5 L319.2 191.6 L319.8 191.8 L320.4 192.0 L321.0 192.2 L321.6 192.4 L322.2 192.7 L322.8 192.9 L323.4 193.2 L324.0 193.5 L324.6 193.8 L325.2 194.1 L325.8 194.4 L326.4 194.7 L327.0 195.0 L327.6 195.3 L328.2 195.6 L328.8 195.9 L329.4 196.3 L330.0 196.6 L330.6 196.9 L331.2 197.1 L331.8 197.4 L332.4 197.7 L333.0 198.0 L333.6 198.2 L334.2 198.5 L334.8 198.7 L335.4 198.9 L336.0 199.1 L336.6 199.3 L337.2 199.5 L337.8 199.7 L338.4 199.8 L339.0 200.0 L339.6 200.1 L340.2 200.2 L340.8 200.4 L341.4 200.5 L342.0 200.6 L342.6 200.7 L343.2 200.8 L343.8 200.8 L344.4 200.9 L345.0 201.0 L345.6 201.0 L346.2 201.1 L346.8 201.2 L347.4 201.2 L348.0 201.2 L348.6 201.3 L349.2 201.3 L349.8 201.4 L350.4 201.4 L351.0 201.4 L351.6 201.4 L352.2 201.5 L352.8 201.5 L352.8 201.6 L352.2 201.5 L351.6 201.5 L351.0 201.5 L350.4 201.5 L349.8 201.5 L349.2 201.5 L348.6 201.4 L348.0 201.4 L347.4 201.4 L346.8 201.4 L346.2 201.4 L345.6 201.4 L345.0 201.4 L344.4 201.3 L343.8 201.3 L343.2 201.3 L342.6 201.3 L342.0 201.3 L341.4 201.3 L340.8 201.3 L340.2 201.2 L339.6 201.2 L339.0 201.2 L338.4 201.2 L337.8 201.2 L337.2 201.2 L336.6 201.2 L336.0 201.1 L335.4 201.1 L334.8 201.1 L334.2 201.1 L333.6 201.1 L333.0 201.1 L332.4 201.0 L331.8 201.0 L331.2 201.0 L330.6 201.0 L330.0 201.0 L329.4 201.0 L328.8 201.0 L328.2 200.9 L327.6 200.9 L327.0 200.9 L326.4 200.9 L325.8 200.9 L325.2 200.9 L324.6 200.9 L324.0 200.8 L323.4 200.8 L322.8 200.8 L322.2 200.8 L321.6 200.8 L321.0 200.8 L320.4 200.8 L319.8 200.7 L319.2 200.7 L318.6 200.7 L318.0 200.7 L317.4 200.7 L316.8 200.7 L316.2 200.6 L315.6 200.6 L315.0 200.6 L314.4 200.6 L313.8 200.6 L313.2 200.6 L312.6 200.6 L312.0 200.5 L311.4 200.5 L310.8 200.5 L310.2 200.5 L309.6 200.5 L309.0 200.5 L308.4 200.5 L307.8 200.4 L307.2 200.4 L306.6 200.4 L306.0 200.4 L305.4 200.4 L304.8 200.4 L304.2 200.4 L303.6 200.3 L303.0 200.3 L302.4 200.3 L301.8 200.3 L301.2 200.3 L300.6 200.3 L300.0 200.2 L299.4 200.2 L298.8 200.2 L298.2 200.2 L297.6 200.2 L297.0 200.2 L296.4 200.2 L295.8 200.1 L295.2 200.1 L294.6 200.1 L294.0 200.1 L293.4 200.1 L292.8 200.1 L292.2 200.1 L291.6 200.0 L291.0 200.0 L290.4 200.0 L289.8 200.0 L289.2 200.0 L288.6 200.0 L288.0 200.0 L287.4 199.9 L286.8 199.9 L286.2 199.9 L285.6 199.9 L285.0 199.9 L284.4 199.9 L283.8 199.9 L283.2 199.8 L282.6 199.8 L282.0 199.8 L281.4 199.8 L280.8 199.8 L280.2 199.8 L279.6 199.7 L279.0 199.7 Z" fill="#7ea2d3" fill-opacity="0.85" stroke="none"/>
<path d="M279.0 199.7 L279.6 199.7 L280.2 199.7 L280.8 199.7 L281.4 199.7 L282.0 199.7 L282.6 199.7 L283.2 199.7 L283.8 199.7 L284.4 199.6 L285.0 199.6 L285.6 199.6 L286.2 199.6 L286.8 199.5 L287.4 199.5 L288.0 199.4 L288.6 199.4 L289.2 199.3 L289.8 199.3 L290.4 199.2 L291.0 199.1 L291.6 199.0 L292.2 198.9 L292.8 198.8 L293.4 198.7 L294.0 198.5 L294.6 198.4 L295.2 198.2 L295.8 198.1 L296.4 197.9 L297.0 197.7 L297.6 197.5 L298.2 197.3 L298.8 197.0 L299.4 196.8 L300.0 196.6 L300.6 196.3 L301.2 196.0 L301.8 195.8 L302.4 195.5 L303.0 195.2 L303.6 194.9 L304.2 194.6 L304.8 194.4 L305.4 194.1 L306.0 193.8 L306.6 193.5 L307.2 193.2 L307.8 193.0 L308.4 192.7 L309.0 192.5 L309.6 192.3 L310.2 192.1 L310.8 191.9 L311.4 191.7 L312.0 191.5 L312.6 191.4 L313.2 191.3 L313.8 191.2 L314.4 191.2 L315.0 191.1 L315.6 191.1 L316.2 191.2 L316.8 191.2 L317.4 191.3 L318.0 191.4 L318.6 191.5 L319.2 191.6 L319.8 191.8 L320.4 192.0 L321.0 192.2 L321.6 192.4 L322.2 192.7 L322.8 192.9 L323.4 193.2 L324.0 193.5 L324.6 193.8 L325.2 194.1 L325.8 194.4 L326.4 194.7 L327.0 195.0 L327.6 195.3 L328.2 195.6 L328.8 195.9 L329.4 196.3 L330.0 196.6 L330.6 196.9 L331.2 197.1 L331.8 197.4 L332.4 197.7 L333.0 198.0 L333.6 198.2 L334.2 198.5 L334.8 198.7 L335.4 198.9 L336.0 199.1 L336.6 199.3 L337.2 199.5 L337.8 199.7 L338.4 199.8 L339.0 200.0 L339.6 200.1 L340.2 200.2 L340.8 200.4 L341.4 200.5 L342.0 200.6 L342.6 200.7 L343.2 200.8 L343.8 200.8 L344.4 200.9 L345.0 201.0 L345.6 201.0 L346.2 201.1 L346.8 201.2 L347.4 201.2 L348.0 201.2 L348.6 201.3 L349.2 201.3 L349.8 201.4 L350.4 201.4 L351.0 201.4 L351.6 201.4 L352.2 201.5 L352.8 201.5" fill="none" stroke="#3f70c0" stroke-width="0.9"/>
<path d="M324.0 200.8 L324.6 200.8 L325.2 200.8 L325.8 200.8 L326.4 200.8 L327.0 200.8 L327.6 200.8 L328.2 200.8 L328.8 200.8 L329.4 200.8 L330.0 200.8 L330.6 200.8 L331.2 200.8 L331.8 200.8 L332.4 200.8 L333.0 200.8 L333.6 200.8 L334.2 200.7 L334.8 200.7 L335.4 200.7 L336.0 200.7 L336.6 200.6 L337.2 200.6 L337.8 200.5 L338.4 200.5 L339.0 200.4 L339.6 200.4 L340.2 200.3 L340.8 200.2 L341.4 200.1 L342.0 200.1 L342.6 200.0 L343.2 199.9 L343.8 199.7 L344.4 199.6 L345.0 199.5 L345.6 199.3 L346.2 199.2 L346.8 199.0 L347.4 198.9 L348.0 198.7 L348.6 198.5 L349.2 198.3 L349.8 198.0 L350.4 197.8 L351.0 197.6 L351.6 197.3 L352.2 197.0 L352.8 196.7 L353.4 196.4 L354.0 196.1 L354.6 195.8 L355.2 195.4 L355.8 195.1 L356.4 194.7 L357.0 194.3 L357.6 193.9 L358.2 193.5 L358.8 193.0 L359.4 192.6 L360.0 192.1 L360.6 191.7 L361.2 191.2 L361.8 190.7 L362.4 190.2 L363.0 189.7 L363.6 189.2 L364.2 188.6 L364.8 188.1 L365.4 187.6 L366.0 187.0 L366.6 186.5 L367.2 185.9 L367.8 185.4 L368.4 184.9 L369.0 184.3 L369.6 183.8 L370.2 183.3 L370.8 182.8 L371.4 182.3 L372.0 181.8 L372.6 181.3 L373.2 180.8 L373.8 180.4 L374.4 179.9 L375.0 179.5 L375.6 179.1 L376.2 178.7 L376.8 178.4 L377.4 178.0 L378.0 177.7 L378.6 177.5 L379.2 177.2 L379.8 177.0 L380.4 176.8 L381.0 176.6 L381.6 176.5 L382.2 176.4 L382.8 176.4 L383.4 176.3 L384.0 176.3 L384.6 176.4 L385.2 176.5 L385.8 176.7 L386.4 176.9 L387.0 177.2 L387.6 177.6 L388.2 178.0 L388.8 178.4 L389.4 179.0 L390.0 179.5 L390.6 180.1 L391.2 180.8 L391.8 181.5 L392.4 182.2 L393.0 182.9 L393.6 183.7 L394.2 184.5 L394.8 185.2 L395.4 186.0 L396.0 186.8 L396.6 187.6 L397.2 188.4 L397.8 189.2 L398.4 190.0 L399.0 190.8 L399.6 191.5 L400.2 192.3 L400.8 193.0 L401.4 193.7 L402.0 194.3 L402.6 195.0 L403.2 195.6 L403.8 196.1 L404.4 196.7 L405.0 197.2 L405.6 197.7 L406.2 198.2 L406.8 198.6 L407.4 199.0 L408.0 199.4 L408.6 199.7 L409.2 200.1 L409.8 200.4 L410.4 200.7 L411.0 200.9 L411.6 201.2 L412.2 201.4 L412.8 201.6 L413.4 201.7 L414.0 201.9 L414.6 202.1 L415.2 202.2 L415.8 202.3 L416.4 202.4 L417.0 202.5 L417.6 202.6 L418.2 202.7 L418.8 202.8 L419.4 202.9 L420.0 202.9 L420.6 203.0 L421.2 203.0 L421.8 203.1 L422.4 203.1 L423.0 203.1 L423.6 203.2 L424.2 203.2 L424.8 203.2 L425.4 203.3 L426.0 203.3 L426.0 203.4 L425.4 203.3 L424.8 203.3 L424.2 203.3 L423.6 203.3 L423.0 203.3 L422.4 203.3 L421.8 203.2 L421.2 203.2 L420.6 203.2 L420.0 203.2 L419.4 203.2 L418.8 203.2 L418.2 203.2 L417.6 203.1 L417.0 203.1 L416.4 203.1 L415.8 203.1 L415.2 203.1 L414.6 203.1 L414.0 203.1 L413.4 203.0 L412.8 203.0 L412.2 203.0 L411.6 203.0 L411.0 203.0 L410.4 203.0 L409.8 203.0 L409.2 202.9 L408.6 202.9 L408.0 202.9 L407.4 202.9 L406.8 202.9 L406.2 202.9 L405.6 202.9 L405.0 202.8 L404.4 202.8 L403.8 202.8 L403.2 202.8 L402.6 202.8 L402.0 202.8 L401.4 202.7 L400.8 202.7 L400.2 202.7 L399.6 202.7 L399.0 202.7 L398.4 202.7 L397.8 202.7 L397.2 202.6 L396.6 202.6 L396.0 202.6 L395.4 202.6 L394.8 202.6 L394.2 202.6 L393.6 202.6 L393.0 202.5 L392.4 202.5 L391.8 202.5 L391.2 202.5 L390.6 202.5 L390.0 202.5 L389.4 202.5 L388.8 202.4 L388.2 202.4 L387.6 202.4 L387.0 202.4 L386.4 202.4 L385.8 202.4 L385.2 202.3 L384.6 202.3 L384.0 202.3 L383.4 202.3 L382.8 202.3 L382.2 202.3 L381.6 202.3 L381.0 202.2 L380.4 202.2 L379.8 202.2 L379.2 202.2 L378.6 202.2 L378.0 202.2 L377.4 202.2 L376.8 202.1 L376.2 202.1 L375.6 202.1 L375.0 202.1 L374.4 202.1 L373.8 202.1 L373.2 202.1 L372.6 202.0 L372.0 202.0 L371.4 202.0 L370.8 202.0 L370.2 202.0 L369.6 202.0 L369.0 201.9 L368.4 201.9 L367.8 201.9 L367.2 201.9 L366.6 201.9 L366.0 201.9 L365.4 201.9 L364.8 201.8 L364.2 201.8 L363.6 201.8 L363.0 201.8 L362.4 201.8 L361.8 201.8 L361.2 201.8 L360.6 201.7 L360.0 201.7 L359.4 201.7 L358.8 201.7 L358.2 201.7 L357.6 201.7 L357.0 201.7 L356.4 201.6 L355.8 201.6 L355.2 201.6 L354.6 201.6 L354.0 201.6 L353.4 201.6 L352.8 201.6 L352.2 201.5 L351.6 201.5 L351.0 201.5 L350.4 201.5 L349.8 201.5 L349.2 201.5 L348.6 201.4 L348.0 201.4 L347.4 201.4 L346.8 201.4 L346.2 201.4 L345.6 201.4 L345.0 201.4 L344.4 201.3 L343.8 201.3 L343.2 201.3 L342.6 201.3 L342.0 201.3 L341.4 201.3 L340.8 201.3 L340.2 201.2 L339.6 201.2 L339.0 201.2 L338.4 201.2 L337.8 201.2 L337.2 201.2 L336.6 201.2 L336.0 201.1 L335.4 201.1 L334.8 201.1 L334.2 201.1 L333.6 201.1 L333.0 201.1 L332.4 201.0 L331.8 201.0 L331.2 201.0 L330.6 201.0 L330.0 201.0 L329.4 201.0 L328.8 201.0 L328.2 200.9 L327.6 200.9 L327.0 200.9 L326.4 200.9 L325.8 200.9 L325.2 200.9 L324.6 200.9 L324.0 200.8 Z" fill="#fdefcf" fill-opacity="0.85" stroke="none"/>
<path d="M324.0 200.8 L324.6 200.8 L325.2 200.8 L325.8 200.8 L326.4 200.8 L327.0 200.8 L327.6 200.8 L328.2 200.8 L328.8 200.8 L329.4 200.8 L330.0 200.8 L330.6 200.8 L331.2 200.8 L331.8 200.8 L332.4 200.8 L333.0 200.8 L333.6 200.8 L334.2 200.7 L334.8 200.7 L335.4 200.7 L336.0 200.7 L336.6 200.6 L337.2 200.6 L337.8 200.5 L338.4 200.5 L339.0 200.4 L339.6 200.4 L340.2 200.3 L340.8 200.2 L341.4 200.1 L342.0 200.1 L342.6 200.0 L343.2 199.9 L343.8 199.7 L344.4 199.6 L345.0 199.5 L345.6 199.3 L346.2 199.2 L346.8 199.0 L347.4 198.9 L348.0 198.7 L348.6 198.5 L349.2 198.3 L349.8 198.0 L350.4 197.8 L351.0 197.6 L351.6 197.3 L352.2 197.0 L352.8 196.7 L353.4 196.4 L354.0 196.1 L354.6 195.8 L355.2 195.4 L355.8 195.1 L356.4 194.7 L357.0 194.3 L357.6 193.9 L358.2 193.5 L358.8 193.0 L359.4 192.6 L360.0 192.1 L360.6 191.7 L361.2 191.2 L361.8 190.7 L362.4 190.2 L363.0 189.7 L363.6 189.2 L364.2 188.6 L364.8 188.1 L365.4 187.6 L366.0 187.0 L366.6 186.5 L367.2 185.9 L367.8 185.4 L368.4 184.9 L369.0 184.3 L369.6 183.8 L370.2 183.3 L370.8 182.8 L371.4 182.3 L372.0 181.8 L372.6 181.3 L373.2 180.8 L373.8 180.4 L374.4 179.9 L375.0 179.5 L375.6 179.1 L376.2 178.7 L376.8 178.4 L377.4 178.0 L378.0 177.7 L378.6 177.5 L379.2 177.2 L379.8 177.0 L380.4 176.8 L381.0 176.6 L381.6 176.5 L382.2 176.4 L382.8 176.4 L383.4 176.3 L384.0 176.3 L384.6 176.4 L385.2 176.5 L385.8 176.7 L386.4 176.9 L387.0 177.2 L387.6 177.6 L388.2 178.0 L388.8 178.4 L389.4 179.0 L390.0 179.5 L390.6 180.1 L391.2 180.8 L391.8 181.5 L392.4 182.2 L393.0 182.9 L393.6 183.7 L394.2 184.5 L394.8 185.2 L395.4 186.0 L396.0 186.8 L396.6 187.6 L397.2 188.4 L397.8 189.2 L398.4 190.0 L399.0 190.8 L399.6 191.5 L400.2 192.3 L400.8 193.0 L401.4 193.7 L402.0 194.3 L402.6 195.0 L403.2 195.6 L403.8 196.1 L404.4 196.7 L405.0 197.2 L405.6 197.7 L406.2 198.2 L406.8 198.6 L407.4 199.0 L408.0 199.4 L408.6 199.7 L409.2 200.1 L409.8 200.4 L410.4 200.7 L411.0 200.9 L411.6 201.2 L412.2 201.4 L412.8 201.6 L413.4 201.7 L414.0 201.9 L414.6 202.1 L415.2 202.2 L415.8 202.3 L416.4 202.4 L417.0 202.5 L417.6 202.6 L418.2 202.7 L418.8 202.8 L419.4 202.9 L420.0 202.9 L420.6 203.0 L421.2 203.0 L421.8 203.1 L422.4 203.1 L423.0 203.1 L423.6 203.2 L424.2 203.2 L424.8 203.2 L425.4 203.3 L426.0 203.3" fill="none" stroke="#f3d58f" stroke-width="0.9"/>
<path d="M381.0 202.2 L381.6 202.2 L382.2 202.2 L382.8 202.1 L383.4 202.1 L384.0 202.0 L384.6 202.0 L385.2 201.9 L385.8 201.7 L386.4 201.6 L387.0 201.4 L387.6 201.2 L388.2 200.9 L388.8 200.6 L389.4 200.2 L390.0 199.8 L390.6 199.3 L391.2 198.8 L391.8 198.2 L392.4 197.6 L393.0 196.9 L393.6 196.2 L394.2 195.5 L394.8 194.8 L395.4 194.1 L396.0 193.4 L396.6 192.8 L397.2 192.2 L397.8 191.7 L398.4 191.3 L399.0 191.0 L399.6 190.8 L400.2 190.7 L400.8 190.7 L401.4 190.9 L402.0 191.0 L402.6 191.3 L403.2 191.6 L403.8 192.0 L404.4 192.4 L405.0 192.9 L405.6 193.4 L406.2 194.0 L406.8 194.5 L407.4 195.1 L408.0 195.7 L408.6 196.3 L409.2 196.9 L409.8 197.5 L410.4 198.0 L411.0 198.6 L411.6 199.1 L412.2 199.5 L412.8 200.0 L413.4 200.4 L414.0 200.7 L414.6 201.1 L415.2 201.4 L415.8 201.6 L416.4 201.9 L417.0 202.1 L417.6 202.3 L418.2 202.4 L418.8 202.6 L419.4 202.7 L420.0 202.8 L420.6 202.9 L421.2 203.0 L421.8 203.0 L422.4 203.1 L423.0 203.2 L423.6 203.2 L424.2 203.2 L424.8 203.3 L424.8 203.3 L424.2 203.3 L423.6 203.3 L423.0 203.3 L422.4 203.3 L421.8 203.2 L421.2 203.2 L420.6 203.2 L420.0 203.2 L419.4 203.2 L418.8 203.2 L418.2 203.2 L417.6 203.1 L417.0 203.1 L416.4 203.1 L415.8 203.1 L415.2 203.1 L414.6 203.1 L414.0 203.1 L413.4 203.0 L412.8 203.0 L412.2 203.0 L411.6 203.0 L411.0 203.0 L410.4 203.0 L409.8 203.0 L409.2 202.9 L408.6 202.9 L408.0 202.9 L407.4 202.9 L406.8 202.9 L406.2 202.9 L405.6 202.9 L405.0 202.8 L404.4 202.8 L403.8 202.8 L403.2 202.8 L402.6 202.8 L402.0 202.8 L401.4 202.7 L400.8 202.7 L400.2 202.7 L399.6 202.7 L399.0 202.7 L398.4 202.7 L397.8 202.7 L397.2 202.6 L396.6 202.6 L396.0 202.6 L395.4 202.6 L394.8 202.6 L394.2 202.6 L393.6 202.6 L393.0 202.5 L392.4 202.5 L391.8 202.5 L391.2 202.5 L390.6 202.5 L390.0 202.5 L389.4 202.5 L388.8 202.4 L388.2 202.4 L387.6 202.4 L387.0 202.4 L386.4 202.4 L385.8 202.4 L385.2 202.3 L384.6 202.3 L384.0 202.3 L383.4 202.3 L382.8 202.3 L382.2 202.3 L381.6 202.3 L381.0 202.2 Z" fill="#fdce55" fill-opacity="0.85" stroke="none"/>
<path d="M381.0 202.2 L381.6 202.2 L382.2 202.2 L382.8 202.1 L383.4 202.1 L384.0 202.0 L384.6 202.0 L385.2 201.9 L385.8 201.7 L386.4 201.6 L387.0 201.4 L387.6 201.2 L388.2 200.9 L388.8 200.6 L389.4 200.2 L390.0 199.8 L390.6 199.3 L391.2 198.8 L391.8 198.2 L392.4 197.6 L393.0 196.9 L393.6 196.2 L394.2 195.5 L394.8 194.8 L395.4 194.1 L396.0 193.4 L396.6 192.8 L397.2 192.2 L397.8 191.7 L398.4 191.3 L399.0 191.0 L399.6 190.8 L400.2 190.7 L400.8 190.7 L401.4 190.9 L402.0 191.0 L402.6 191.3 L403.2 191.6 L403.8 192.0 L404.4 192.4 L405.0 192.9 L405.6 193.4 L406.2 194.0 L406.8 194.5 L407.4 195.1 L408.0 195.7 L408.6 196.3 L409.2 196.9 L409.8 197.5 L410.4 198.0 L411.0 198.6 L411.6 199.1 L412.2 199.5 L412.8 200.0 L413.4 200.4 L414.0 200.7 L414.6 201.1 L415.2 201.4 L415.8 201.6 L416.4 201.9 L417.0 202.1 L417.6 202.3 L418.2 202.4 L418.8 202.6 L419.4 202.7 L420.0 202.8 L420.6 202.9 L421.2 203.0 L421.8 203.0 L422.4 203.1 L423.0 203.2 L423.6 203.2 L424.2 203.2 L424.8 203.3" fill="none" stroke="#f2ad0c" stroke-width="0.9"/>
<circle cx="258.6" cy="197.7" r="1.3" fill="none" stroke="#acacac" stroke-width="0.6"/>
<circle cx="259.9" cy="198.3" r="1.3" fill="none" stroke="#acacac" stroke-width="0.6"/>
<circle cx="261.3" cy="198.6" r="1.3" fill="none" stroke="#acacac" stroke-width="0.6"/>
<circle cx="262.7" cy="198.8" r="1.3" fill="none" stroke="#acacac" stroke-width="0.6"/>
<circle cx="264.0" cy="196.8" r="1.3" fill="none" stroke="#acacac" stroke-width="0.6"/>
<circle cx="265.4" cy="196.7" r="1.3" fill="none" stroke="#acacac" stroke-width="0.6"/>
<circle cx="266.7" cy="197.4" r="1.3" fill="none" stroke="#acacac" stroke-width="0.6"/>
<circle cx="268.1" cy="196.8" r="1.3" fill="none" stroke="#acacac" stroke-width="0.6"/>
<circle cx="269.4" cy="197.6" r="1.3" fill="none" stroke="#acacac" stroke-width="0.6"/>
<circle cx="270.8" cy="198.2" r="1.3" fill="none" stroke="#acacac" stroke-width="0.6"/>
<circle cx="272.1" cy="197.4" r="1.3" fill="none" stroke="#acacac" stroke-width="0.6"/>
<circle cx="273.5" cy="198.1" r="1.3" fill="none" stroke="#acacac" stroke-width="0.6"/>
<circle cx="274.8" cy="196.8" r="1.3" fill="none" stroke="#acacac" stroke-width="0.6"/>
<circle cx="276.2" cy="198.7" r="1.3" fill="none" stroke="#acacac" stroke-width="0.6"/>
<circle cx="277.5" cy="199.7" r="1.3" fill="none" stroke="#acacac" stroke-width="0.6"/>
<circle cx="278.9" cy="197.2" r="1.3" fill="none" stroke="#acacac" stroke-width="0.6"/>
<circle cx="280.2" cy="198.7" r="1.3" fill="none" stroke="#acacac" stroke-width="0.6"/>
<circle cx="281.6" cy="198.1" r="1.3" fill="none" stroke="#acacac" stroke-width="0.6"/>
<circle cx="282.9" cy="196.8" r="1.3" fill="none" stroke="#acacac" stroke-width="0.6"/>
<circle cx="284.3" cy="196.6" r="1.3" fill="none" stroke="#acacac" stroke-width="0.6"/>
<circle cx="285.6" cy="196.6" r="1.3" fill="none" stroke="#acacac" stroke-width="0.6"/>
<circle cx="287.0" cy="195.9" r="1.3" fill="none" stroke="#acacac" stroke-width="0.6"/>
<circle cx="288.3" cy="196.5" r="1.3" fill="none" stroke="#acacac" stroke-width="0.6"/>
<circle cx="289.7" cy="196.6" r="1.3" fill="none" stroke="#acacac" stroke-width="0.6"/>
<circle cx="291.0" cy="196.9" r="1.3" fill="none" stroke="#acacac" stroke-width="0.6"/>
<circle cx="292.4" cy="196.5" r="1.3" fill="none" stroke="#acacac" stroke-width="0.6"/>
<circle cx="293.7" cy="194.5" r="1.3" fill="none" stroke="#acacac" stroke-width="0.6"/>
<circle cx="295.1" cy="195.1" r="1.3" fill="none" stroke="#acacac" stroke-width="0.6"/>
<circle cx="296.4" cy="193.1" r="1.3" fill="none" stroke="#acacac" stroke-width="0.6"/>
<circle cx="297.8" cy="193.1" r="1.3" fill="none" stroke="#acacac" stroke-width="0.6"/>
<circle cx="299.1" cy="193.3" r="1.3" fill="none" stroke="#acacac" stroke-width="0.6"/>
<circle cx="300.5" cy="192.8" r="1.3" fill="none" stroke="#acacac" stroke-width="0.6"/>
<circle cx="301.8" cy="192.7" r="1.3" fill="none" stroke="#acacac" stroke-width="0.6"/>
<circle cx="303.2" cy="193.0" r="1.3" fill="none" stroke="#acacac" stroke-width="0.6"/>
<circle cx="304.5" cy="192.0" r="1.3" fill="none" stroke="#acacac" stroke-width="0.6"/>
<circle cx="305.9" cy="191.3" r="1.3" fill="none" stroke="#acacac" stroke-width="0.6"/>
<circle cx="307.2" cy="190.8" r="1.3" fill="none" stroke="#acacac" stroke-width="0.6"/>
<circle cx="308.6" cy="190.8" r="1.3" fill="none" stroke="#acacac" stroke-width="0.6"/>
<circle cx="309.9" cy="189.0" r="1.3" fill="none" stroke="#acacac" stroke-width="0.6"/>
<circle cx="311.3" cy="190.0" r="1.3" fill="none" stroke="#acacac" stroke-width="0.6"/>
<circle cx="312.6" cy="187.9" r="1.3" fill="none" stroke="#acacac" stroke-width="0.6"/>
<circle cx="314.0" cy="184.5" r="1.3" fill="none" stroke="#acacac" stroke-width="0.6"/>
<circle cx="315.3" cy="186.1" r="1.3" fill="none" stroke="#acacac" stroke-width="0.6"/>
<circle cx="316.7" cy="187.5" r="1.3" fill="none" stroke="#acacac" stroke-width="0.6"/>
<circle cx="318.0" cy="186.1" r="1.3" fill="none" stroke="#acacac" stroke-width="0.6"/>
<circle cx="319.4" cy="186.1" r="1.3" fill="none" stroke="#acacac" stroke-width="0.6"/>
<circle cx="320.7" cy="186.4" r="1.3" fill="none" stroke="#acacac" stroke-width="0.6"/>
<circle cx="322.1" cy="189.1" r="1.3" fill="none" stroke="#acacac" stroke-width="0.6"/>
<circle cx="323.4" cy="189.6" r="1.3" fill="none" stroke="#acacac" stroke-width="0.6"/>
<circle cx="324.8" cy="189.9" r="1.3" fill="none" stroke="#acacac" stroke-width="0.6"/>
<circle cx="326.1" cy="189.8" r="1.3" fill="none" stroke="#acacac" stroke-width="0.6"/>
<circle cx="327.5" cy="190.4" r="1.3" fill="none" stroke="#acacac" stroke-width="0.6"/>
<circle cx="328.8" cy="189.0" r="1.3" fill="none" stroke="#acacac" stroke-width="0.6"/>
<circle cx="330.2" cy="185.5" r="1.3" fill="none" stroke="#acacac" stroke-width="0.6"/>
<circle cx="331.5" cy="185.2" r="1.3" fill="none" stroke="#acacac" stroke-width="0.6"/>
<circle cx="332.9" cy="183.0" r="1.3" fill="none" stroke="#acacac" stroke-width="0.6"/>
<circle cx="334.2" cy="182.8" r="1.3" fill="none" stroke="#acacac" stroke-width="0.6"/>
<circle cx="335.6" cy="185.8" r="1.3" fill="none" stroke="#acacac" stroke-width="0.6"/>
<circle cx="336.9" cy="188.7" r="1.3" fill="none" stroke="#acacac" stroke-width="0.6"/>
<circle cx="338.3" cy="189.9" r="1.3" fill="none" stroke="#acacac" stroke-width="0.6"/>
<circle cx="339.6" cy="196.5" r="1.3" fill="none" stroke="#acacac" stroke-width="0.6"/>
<circle cx="341.0" cy="197.6" r="1.3" fill="none" stroke="#acacac" stroke-width="0.6"/>
<circle cx="342.3" cy="197.2" r="1.3" fill="none" stroke="#acacac" stroke-width="0.6"/>
<circle cx="343.7" cy="196.9" r="1.3" fill="none" stroke="#acacac" stroke-width="0.6"/>
<circle cx="345.0" cy="197.0" r="1.3" fill="none" stroke="#acacac" stroke-width="0.6"/>
<circle cx="346.4" cy="195.2" r="1.3" fill="none" stroke="#acacac" stroke-width="0.6"/>
<circle cx="347.7" cy="196.1" r="1.3" fill="none" stroke="#acacac" stroke-width="0.6"/>
<circle cx="349.1" cy="195.2" r="1.3" fill="none" stroke="#acacac" stroke-width="0.6"/>
<circle cx="350.4" cy="194.8" r="1.3" fill="none" stroke="#acacac" stroke-width="0.6"/>
<circle cx="351.8" cy="194.0" r="1.3" fill="none" stroke="#acacac" stroke-width="0.6"/>
<circle cx="353.1" cy="194.0" r="1.3" fill="none" stroke="#acacac" stroke-width="0.6"/>
<circle cx="354.5" cy="195.1" r="1.3" fill="none" stroke="#acacac" stroke-width="0.6"/>
<circle cx="355.8" cy="194.7" r="1.3" fill="none" stroke="#acacac" stroke-width="0.6"/>
<circle cx="357.2" cy="193.1" r="1.3" fill="none" stroke="#acacac" stroke-width="0.6"/>
<circle cx="358.5" cy="191.3" r="1.3" fill="none" stroke="#acacac" stroke-width="0.6"/>
<circle cx="359.9" cy="188.9" r="1.3" fill="none" stroke="#acacac" stroke-width="0.6"/>
<circle cx="361.2" cy="188.3" r="1.3" fill="none" stroke="#acacac" stroke-width="0.6"/>
<circle cx="362.6" cy="187.1" r="1.3" fill="none" stroke="#acacac" stroke-width="0.6"/>
<circle cx="363.9" cy="182.8" r="1.3" fill="none" stroke="#acacac" stroke-width="0.6"/>
<circle cx="365.3" cy="184.2" r="1.3" fill="none" stroke="#acacac" stroke-width="0.6"/>
<circle cx="366.6" cy="180.8" r="1.3" fill="none" stroke="#acacac" stroke-width="0.6"/>
<circle cx="368.0" cy="182.3" r="1.3" fill="none" stroke="#acacac" stroke-width="0.6"/>
<circle cx="369.3" cy="182.7" r="1.3" fill="none" stroke="#acacac" stroke-width="0.6"/>
<circle cx="370.7" cy="180.6" r="1.3" fill="none" stroke="#acacac" stroke-width="0.6"/>
<circle cx="372.0" cy="179.3" r="1.3" fill="none" stroke="#acacac" stroke-width="0.6"/>
<circle cx="373.4" cy="179.0" r="1.3" fill="none" stroke="#acacac" stroke-width="0.6"/>
<circle cx="374.7" cy="177.6" r="1.3" fill="none" stroke="#acacac" stroke-width="0.6"/>
<circle cx="376.1" cy="174.5" r="1.3" fill="none" stroke="#acacac" stroke-width="0.6"/>
<circle cx="377.4" cy="174.5" r="1.3" fill="none" stroke="#acacac" stroke-width="0.6"/>
<circle cx="378.8" cy="171.6" r="1.3" fill="none" stroke="#acacac" stroke-width="0.6"/>
<circle cx="380.1" cy="173.3" r="1.3" fill="none" stroke="#acacac" stroke-width="0.6"/>
<circle cx="381.5" cy="172.2" r="1.3" fill="none" stroke="#acacac" stroke-width="0.6"/>
<circle cx="382.8" cy="172.9" r="1.3" fill="none" stroke="#acacac" stroke-width="0.6"/>
<circle cx="384.2" cy="174.1" r="1.3" fill="none" stroke="#acacac" stroke-width="0.6"/>
<circle cx="385.5" cy="174.8" r="1.3" fill="none" stroke="#acacac" stroke-width="0.6"/>
<circle cx="386.9" cy="177.0" r="1.3" fill="none" stroke="#acacac" stroke-width="0.6"/>
<circle cx="388.2" cy="178.0" r="1.3" fill="none" stroke="#acacac" stroke-width="0.6"/>
<circle cx="389.6" cy="177.1" r="1.3" fill="none" stroke="#acacac" stroke-width="0.6"/>
<circle cx="390.9" cy="176.7" r="1.3" fill="none" stroke="#acacac" stroke-width="0.6"/>
<circle cx="392.3" cy="176.0" r="1.3" fill="none" stroke="#acacac" stroke-width="0.6"/>
<circle cx="393.6" cy="176.4" r="1.3" fill="none" stroke="#acacac" stroke-width="0.6"/>
<circle cx="395.0" cy="177.3" r="1.3" fill="none" stroke="#acacac" stroke-width="0.6"/>
<circle cx="396.3" cy="177.4" r="1.3" fill="none" stroke="#acacac" stroke-width="0.6"/>
<circle cx="397.7" cy="177.9" r="1.3" fill="none" stroke="#acacac" stroke-width="0.6"/>
<circle cx="399.0" cy="178.4" r="1.3" fill="none" stroke="#acacac" stroke-width="0.6"/>
<circle cx="400.4" cy="179.7" r="1.3" fill="none" stroke="#acacac" stroke-width="0.6"/>
<circle cx="401.7" cy="179.2" r="1.3" fill="none" stroke="#acacac" stroke-width="0.6"/>
<circle cx="403.1" cy="180.9" r="1.3" fill="none" stroke="#acacac" stroke-width="0.6"/>
<circle cx="404.4" cy="184.5" r="1.3" fill="none" stroke="#acacac" stroke-width="0.6"/>
<circle cx="405.8" cy="186.2" r="1.3" fill="none" stroke="#acacac" stroke-width="0.6"/>
<circle cx="407.1" cy="187.2" r="1.3" fill="none" stroke="#acacac" stroke-width="0.6"/>
<circle cx="408.5" cy="190.8" r="1.3" fill="none" stroke="#acacac" stroke-width="0.6"/>
<circle cx="409.8" cy="191.1" r="1.3" fill="none" stroke="#acacac" stroke-width="0.6"/>
<circle cx="411.2" cy="193.2" r="1.3" fill="none" stroke="#acacac" stroke-width="0.6"/>
<circle cx="412.5" cy="193.4" r="1.3" fill="none" stroke="#acacac" stroke-width="0.6"/>
<circle cx="413.9" cy="196.9" r="1.3" fill="none" stroke="#acacac" stroke-width="0.6"/>
<circle cx="415.2" cy="197.2" r="1.3" fill="none" stroke="#acacac" stroke-width="0.6"/>
<circle cx="416.6" cy="199.1" r="1.3" fill="none" stroke="#acacac" stroke-width="0.6"/>
<circle cx="417.9" cy="199.8" r="1.3" fill="none" stroke="#acacac" stroke-width="0.6"/>
<circle cx="419.3" cy="200.4" r="1.3" fill="none" stroke="#acacac" stroke-width="0.6"/>
<circle cx="420.6" cy="201.7" r="1.3" fill="none" stroke="#acacac" stroke-width="0.6"/>
<circle cx="422.0" cy="203.9" r="1.3" fill="none" stroke="#acacac" stroke-width="0.6"/>
<circle cx="423.3" cy="203.7" r="1.3" fill="none" stroke="#acacac" stroke-width="0.6"/>
<circle cx="424.7" cy="204.4" r="1.3" fill="none" stroke="#acacac" stroke-width="0.6"/>
<circle cx="426.0" cy="204.7" r="1.3" fill="none" stroke="#acacac" stroke-width="0.6"/>
<path d="M257.4 199.2 L258.0 199.2 L258.6 199.2 L259.2 199.2 L259.8 199.3 L260.4 199.3 L261.0 199.3 L261.6 199.3 L262.2 199.3 L262.8 199.3 L263.4 199.3 L264.0 199.4 L264.6 199.4 L265.2 199.4 L265.8 199.4 L266.4 199.4 L267.0 199.4 L267.6 199.4 L268.2 199.5 L268.8 199.5 L269.4 199.5 L270.0 199.5 L270.6 199.5 L271.2 199.5 L271.8 199.5 L272.4 199.6 L273.0 199.6 L273.6 199.6 L274.2 199.6 L274.8 199.6 L275.4 199.6 L276.0 199.6 L276.6 199.6 L277.2 199.6 L277.8 199.7 L278.4 199.7 L279.0 199.7 L279.6 199.7 L280.2 199.7 L280.8 199.7 L281.4 199.7 L282.0 199.7 L282.6 199.7 L283.2 199.6 L283.8 199.6 L284.4 199.6 L285.0 199.6 L285.6 199.6 L286.2 199.5 L286.8 199.5 L287.4 199.4 L288.0 199.4 L288.6 199.3 L289.2 199.3 L289.8 199.2 L290.4 199.1 L291.0 199.0 L291.6 198.9 L292.2 198.8 L292.8 198.7 L293.4 198.5 L294.0 198.4 L294.6 198.2 L295.2 198.0 L295.8 197.8 L296.4 197.6 L297.0 197.4 L297.6 197.2 L298.2 196.9 L298.8 196.7 L299.4 196.4 L300.0 196.1 L300.6 195.9 L301.2 195.6 L301.8 195.2 L302.4 194.9 L303.0 194.6 L303.6 194.3 L304.2 193.9 L304.8 193.6 L305.4 193.3 L306.0 192.9 L306.6 192.6 L307.2 192.2 L307.8 191.9 L308.4 191.6 L309.0 191.3 L309.6 191.0 L310.2 190.7 L310.8 190.5 L311.4 190.2 L312.0 190.0 L312.6 189.8 L313.2 189.6 L313.8 189.4 L314.4 189.3 L315.0 189.2 L315.6 189.1 L316.2 189.0 L316.8 189.0 L317.4 189.0 L318.0 189.0 L318.6 189.1 L319.2 189.1 L319.8 189.2 L320.4 189.4 L321.0 189.5 L321.6 189.7 L322.2 189.9 L322.8 190.1 L323.4 190.3 L324.0 190.5 L324.6 190.7 L325.2 190.9 L325.8 191.1 L326.4 191.2 L327.0 191.2 L327.6 191.2 L328.2 190.9 L328.8 190.5 L329.4 189.9 L330.0 189.1 L330.6 188.1 L331.2 187.1 L331.8 186.1 L332.4 185.2 L333.0 184.6 L333.6 184.3 L334.2 184.4 L334.8 184.9 L335.4 185.8 L336.0 187.1 L336.6 188.5 L337.2 190.0 L337.8 191.5 L338.4 192.9 L339.0 194.1 L339.6 195.1 L340.2 195.9 L340.8 196.4 L341.4 196.9 L342.0 197.2 L342.6 197.4 L343.2 197.5 L343.8 197.6 L344.4 197.6 L345.0 197.7 L345.6 197.6 L346.2 197.6 L346.8 197.6 L347.4 197.5 L348.0 197.4 L348.6 197.3 L349.2 197.2 L349.8 197.0 L350.4 196.9 L351.0 196.7 L351.6 196.5 L352.2 196.3 L352.8 196.0 L353.4 195.8 L354.0 195.5 L354.6 195.2 L355.2 194.9 L355.8 194.6 L356.4 194.3 L357.0 193.9 L357.6 193.5 L358.2 193.2 L358.8 192.8 L359.4 192.3 L360.0 191.9 L360.6 191.5 L361.2 191.0 L361.8 190.5 L362.4 190.0 L363.0 189.5 L363.6 189.0 L364.2 188.5 L364.8 188.0 L365.4 187.5 L366.0 187.0 L366.6 186.4 L367.2 185.9 L367.8 185.4 L368.4 184.8 L369.0 184.3 L369.6 183.8 L370.2 183.2 L370.8 182.7 L371.4 182.2 L372.0 181.7 L372.6 181.3 L373.2 180.8 L373.8 180.3 L374.4 179.9 L375.0 179.5 L375.6 179.1 L376.2 178.7 L376.8 178.4 L377.4 178.0 L378.0 177.7 L378.6 177.4 L379.2 177.2 L379.8 177.0 L380.4 176.8 L381.0 176.6 L381.6 176.4 L382.2 176.3 L382.8 176.2 L383.4 176.1 L384.0 176.0 L384.6 176.0 L385.2 176.0 L385.8 176.0 L386.4 176.1 L387.0 176.2 L387.6 176.3 L388.2 176.4 L388.8 176.6 L389.4 176.7 L390.0 176.8 L390.6 177.0 L391.2 177.1 L391.8 177.1 L392.4 177.2 L393.0 177.3 L393.6 177.3 L394.2 177.3 L394.8 177.4 L395.4 177.4 L396.0 177.5 L396.6 177.6 L397.2 177.8 L397.8 178.0 L398.4 178.3 L399.0 178.6 L399.6 179.1 L400.2 179.6 L400.8 180.2 L401.4 180.9 L402.0 181.6 L402.6 182.3 L403.2 183.1 L403.8 183.8 L404.4 184.7 L405.0 185.5 L405.6 186.4 L406.2 187.2 L406.8 188.1 L407.4 189.0 L408.0 189.8 L408.6 190.7 L409.2 191.6 L409.8 192.4 L410.4 193.2 L411.0 194.0 L411.6 194.8 L412.2 195.6 L412.8 196.3 L413.4 196.9 L414.0 197.6 L414.6 198.2 L415.2 198.8 L415.8 199.3 L416.4 199.8 L417.0 200.2 L417.6 200.6 L418.2 201.0 L418.8 201.3 L419.4 201.6 L420.0 201.9 L420.6 202.1 L421.2 202.3 L421.8 202.5 L422.4 202.7 L423.0 202.8 L423.6 202.9 L424.2 203.0 L424.8 203.1 L425.4 203.1 L426.0 203.2 L426.6 203.2 L427.2 203.3 L427.8 203.3" fill="none" stroke="#7a7a7a" stroke-width="1.6" stroke-linejoin="round" stroke-linecap="round" />
<path d="M257.4 253.8 L258.0 253.8 L258.6 253.8 L259.2 253.8 L259.8 253.9 L260.4 253.9 L261.0 253.9 L261.6 253.9 L262.2 253.9 L262.8 253.9 L263.4 253.9 L264.0 253.9 L264.6 254.0 L265.2 254.0 L265.8 254.0 L266.4 254.0 L267.0 254.0 L267.6 254.0 L268.2 254.0 L268.8 254.1 L269.4 254.1 L270.0 254.1 L270.6 254.1 L271.2 254.1 L271.8 254.1 L272.4 254.1 L273.0 254.1 L273.6 254.2 L274.2 254.2 L274.8 254.2 L275.4 254.2 L276.0 254.2 L276.6 254.2 L277.2 254.2 L277.8 254.3 L278.4 254.3 L279.0 254.3 L279.6 254.3 L280.2 254.3 L280.8 254.3 L281.4 254.3 L282.0 254.3 L282.6 254.4 L283.2 254.4 L283.8 254.4 L284.4 254.4 L285.0 254.4 L285.6 254.4 L286.2 254.4 L286.8 254.5 L287.4 254.5 L288.0 254.5 L288.6 254.5 L289.2 254.5 L289.8 254.5 L290.4 254.5 L291.0 254.5 L291.6 254.6 L292.2 254.6 L292.8 254.6 L293.4 254.6 L294.0 254.6 L294.6 254.6 L295.2 254.6 L295.8 254.7 L296.4 254.7 L297.0 254.7 L297.6 254.7 L298.2 254.7 L298.8 254.7 L299.4 254.7 L300.0 254.7 L300.6 254.8 L301.2 254.8 L301.8 254.8 L302.4 254.8 L303.0 254.8 L303.6 254.8 L304.2 254.8 L304.8 254.9 L305.4 254.9 L306.0 254.9 L306.6 254.9 L307.2 254.9 L307.8 254.9 L308.4 254.9 L309.0 255.0 L309.6 255.0 L310.2 255.0 L310.8 255.0 L311.4 255.0 L312.0 255.0 L312.6 255.0 L313.2 255.0 L313.8 255.1 L314.4 255.1 L315.0 255.1 L315.6 255.1 L316.2 255.1 L316.8 255.1 L317.4 255.1 L318.0 255.2 L318.6 255.2 L319.2 255.2 L319.8 255.2 L320.4 255.2 L321.0 255.2 L321.6 255.2 L322.2 255.2 L322.8 255.3 L323.4 255.3 L324.0 255.3 L324.6 255.3 L325.2 255.3 L325.8 255.3 L326.4 255.3 L327.0 255.4 L327.6 255.4 L328.2 255.4 L328.8 255.4 L329.4 255.4 L330.0 255.4 L330.6 255.4 L331.2 255.4 L331.8 255.5 L332.4 255.5 L333.0 255.5 L333.6 255.5 L334.2 255.5 L334.8 255.5 L335.4 255.5 L336.0 255.6 L336.6 255.6 L337.2 255.6 L337.8 255.6 L338.4 255.6 L339.0 255.6 L339.6 255.6 L340.2 255.6 L340.8 255.7 L341.4 255.7 L342.0 255.7 L342.6 255.7 L343.2 255.7 L343.8 255.7 L344.4 255.7 L345.0 255.8 L345.6 255.8 L346.2 255.8 L346.8 255.8 L347.4 255.8 L348.0 255.8 L348.6 255.8 L349.2 255.8 L349.8 255.9 L350.4 255.9 L351.0 255.9 L351.6 255.9 L352.2 255.9 L352.8 255.9 L353.4 255.9 L354.0 256.0 L354.6 256.0 L355.2 256.0 L355.8 256.0 L356.4 256.0 L357.0 256.0 L357.6 256.0 L358.2 256.0 L358.8 256.1 L359.4 256.1 L360.0 256.1 L360.6 256.1 L361.2 256.1 L361.8 256.1 L362.4 256.1 L363.0 256.2 L363.6 256.2 L364.2 256.2 L364.8 256.2 L365.4 256.2 L366.0 256.2 L366.6 256.2 L367.2 256.2 L367.8 256.3 L368.4 256.3 L369.0 256.3 L369.6 256.3 L370.2 256.3 L370.8 256.3 L371.4 256.3 L372.0 256.4 L372.6 256.4 L373.2 256.4 L373.8 256.4 L374.4 256.4 L375.0 256.4 L375.6 256.4 L376.2 256.4 L376.8 256.5 L377.4 256.5 L378.0 256.5 L378.6 256.5 L379.2 256.5 L379.8 256.5 L380.4 256.5 L381.0 256.6 L381.6 256.6 L382.2 256.6 L382.8 256.6 L383.4 256.6 L384.0 256.6 L384.6 256.6 L385.2 256.6 L385.8 256.7 L386.4 256.7 L387.0 256.7 L387.6 256.7 L388.2 256.7 L388.8 256.7 L389.4 256.7 L390.0 256.8 L390.6 256.8 L391.2 256.8 L391.8 256.8 L392.4 256.8 L393.0 256.8 L393.6 256.8 L394.2 256.8 L394.8 256.9 L395.4 256.9 L396.0 256.9 L396.6 256.9 L397.2 256.9 L397.8 256.9 L398.4 256.9 L399.0 257.0 L399.6 257.0 L400.2 257.0 L400.8 257.0 L401.4 257.0 L402.0 257.0 L402.6 257.0 L403.2 257.0 L403.8 257.1 L404.4 257.1 L405.0 257.1 L405.6 257.1 L406.2 257.1 L406.8 257.1 L407.4 257.1 L408.0 257.2 L408.6 257.2 L409.2 257.2 L409.8 257.2 L410.4 257.2 L411.0 257.2 L411.6 257.2 L412.2 257.3 L412.8 257.3 L413.4 257.3 L414.0 257.3 L414.6 257.3 L415.2 257.3 L415.8 257.3 L416.4 257.3 L417.0 257.4 L417.6 257.4 L418.2 257.4 L418.8 257.4 L419.4 257.4 L420.0 257.4 L420.6 257.4 L421.2 257.5 L421.8 257.5 L422.4 257.5 L423.0 257.5 L423.6 257.5 L424.2 257.5 L424.8 257.5 L425.4 257.5 L426.0 257.6 L426.6 257.6 L427.2 257.6 L427.8 257.6" fill="none" stroke="#8a8a8a" stroke-width="1.4"/>
<path d="M257.4 252.8 L258.0 252.8 L258.6 252.8 L259.2 252.8 L259.8 252.9 L260.4 252.9 L261.0 252.9 L261.6 252.9 L262.2 252.9 L262.8 252.9 L263.4 252.9 L264.0 252.9 L264.6 253.0 L265.2 253.0 L265.8 253.0 L266.4 253.0 L267.0 253.0 L267.6 253.0 L268.2 253.0 L268.8 253.1 L269.4 253.1 L270.0 253.1 L270.6 253.1 L271.2 253.1 L271.8 253.1 L272.4 253.1 L273.0 253.1 L273.6 253.2 L274.2 253.2 L274.8 253.2 L275.4 253.2 L276.0 253.2 L276.6 253.2 L277.2 253.2 L277.8 253.3 L278.4 253.3 L279.0 253.3 L279.6 253.3 L280.2 253.3 L280.8 253.3 L281.4 253.3 L282.0 253.3 L282.6 253.4 L283.2 253.4 L283.8 253.4 L284.4 253.4 L285.0 253.4 L285.6 253.4 L286.2 253.4 L286.8 253.5 L287.4 253.5 L288.0 253.5 L288.6 253.5 L289.2 253.5 L289.8 253.5 L290.4 253.5 L291.0 253.5 L291.6 253.6 L292.2 253.6 L292.8 253.6 L293.4 253.6 L294.0 253.6 L294.6 253.6 L295.2 253.6 L295.8 253.7 L296.4 253.7 L297.0 253.7 L297.6 253.7 L298.2 253.7 L298.8 253.7 L299.4 253.7 L300.0 253.7 L300.6 253.8 L301.2 253.8 L301.8 253.8 L302.4 253.8 L303.0 253.8 L303.6 253.8 L304.2 253.8 L304.8 253.9 L305.4 253.9 L306.0 253.9 L306.6 253.9 L307.2 253.9 L307.8 253.9 L308.4 253.9 L309.0 254.0 L309.6 254.0 L310.2 254.0 L310.8 254.0 L311.4 254.0 L312.0 254.0 L312.6 254.0 L313.2 254.0 L313.8 254.1 L314.4 254.1 L315.0 254.1 L315.6 254.1 L316.2 254.1 L316.8 254.1 L317.4 254.1 L318.0 254.2 L318.6 254.2 L319.2 254.2 L319.8 254.2 L320.4 254.2 L321.0 254.2 L321.6 254.2 L322.2 254.2 L322.8 254.3 L323.4 254.3 L324.0 254.3 L324.6 254.3 L325.2 254.3 L325.8 254.3 L326.4 254.3 L327.0 254.4 L327.6 254.4 L328.2 254.4 L328.8 254.4 L329.4 254.4 L330.0 254.4 L330.6 254.4 L331.2 254.4 L331.8 254.5 L332.4 254.5 L333.0 254.5 L333.6 254.5 L334.2 254.5 L334.8 254.5 L335.4 254.5 L336.0 254.6 L336.6 254.6 L337.2 254.6 L337.8 254.6 L338.4 254.6 L339.0 254.6 L339.6 254.6 L340.2 254.6 L340.8 254.7 L341.4 254.7 L342.0 254.7 L342.6 254.7 L343.2 254.7 L343.8 254.7 L344.4 254.7 L345.0 254.8 L345.6 254.8 L346.2 254.8 L346.8 254.8 L347.4 254.8 L348.0 254.8 L348.6 254.8 L349.2 254.8 L349.8 254.9 L350.4 254.9 L351.0 254.9 L351.6 254.9 L352.2 254.9 L352.8 254.9 L353.4 254.9 L354.0 255.0 L354.6 255.0 L355.2 255.0 L355.8 255.0 L356.4 255.0 L357.0 255.0 L357.6 255.0 L358.2 255.0 L358.8 255.1 L359.4 255.1 L360.0 255.1 L360.6 255.1 L361.2 255.1 L361.8 255.1 L362.4 255.1 L363.0 255.2 L363.6 255.2 L364.2 255.2 L364.8 255.2 L365.4 255.2 L366.0 255.2 L366.6 255.2 L367.2 255.2 L367.8 255.3 L368.4 255.3 L369.0 255.3 L369.6 255.3 L370.2 255.3 L370.8 255.3 L371.4 255.3 L372.0 255.4 L372.6 255.4 L373.2 255.4 L373.8 255.4 L374.4 255.4 L375.0 255.4 L375.6 255.4 L376.2 255.4 L376.8 255.5 L377.4 255.5 L378.0 255.5 L378.6 255.5 L379.2 255.5 L379.8 255.5 L380.4 255.5 L381.0 255.6 L381.6 255.6 L382.2 255.6 L382.8 255.6 L383.4 255.6 L384.0 255.6 L384.6 255.6 L385.2 255.6 L385.8 255.7 L386.4 255.7 L387.0 255.7 L387.6 255.7 L388.2 255.7 L388.8 255.7 L389.4 255.7 L390.0 255.8 L390.6 255.8 L391.2 255.8 L391.8 255.8 L392.4 255.8 L393.0 255.8 L393.6 255.8 L394.2 255.8 L394.8 255.9 L395.4 255.9 L396.0 255.9 L396.6 255.9 L397.2 255.9 L397.8 255.9 L398.4 255.9 L399.0 256.0 L399.6 256.0 L400.2 256.0 L400.8 256.0 L401.4 256.0 L402.0 256.0 L402.6 256.0 L403.2 256.0 L403.8 256.1 L404.4 256.1 L405.0 256.1 L405.6 256.1 L406.2 256.1 L406.8 256.1 L407.4 256.1 L408.0 256.2 L408.6 256.2 L409.2 256.2 L409.8 256.2 L410.4 256.2 L411.0 256.2 L411.6 256.2 L412.2 256.3 L412.8 256.3 L413.4 256.3 L414.0 256.3 L414.6 256.3 L415.2 256.3 L415.8 256.3 L416.4 256.3 L417.0 256.4 L417.6 256.4 L418.2 256.4 L418.8 256.4 L419.4 256.4 L420.0 256.4 L420.6 256.4 L421.2 256.5 L421.8 256.5 L422.4 256.5 L423.0 256.5 L423.6 256.5 L424.2 256.5 L424.8 256.5 L425.4 256.5 L426.0 256.6 L426.6 256.6 L427.2 256.6 L427.8 256.6" fill="none" stroke="#e3cf96" stroke-width="1.3"/>
<path d="M337.2 255.2 L337.8 255.2 L338.4 255.2 L339.0 255.2 L339.6 255.2 L340.2 255.2 L340.8 255.2 L341.4 255.2 L342.0 255.2 L342.6 255.1 L343.2 255.1 L343.8 255.1 L344.4 255.0 L345.0 255.0 L345.6 254.9 L346.2 254.8 L346.8 254.7 L347.4 254.6 L348.0 254.5 L348.6 254.4 L349.2 254.2 L349.8 254.0 L350.4 253.8 L351.0 253.6 L351.6 253.4 L352.2 253.1 L352.8 252.8 L353.4 252.5 L354.0 252.2 L354.6 251.8 L355.2 251.4 L355.8 250.9 L356.4 250.4 L357.0 249.9 L357.6 249.4 L358.2 248.8 L358.8 248.2 L359.4 247.6 L360.0 246.9 L360.6 246.3 L361.2 245.5 L361.8 244.8 L362.4 244.0 L363.0 243.3 L363.6 242.5 L364.2 241.7 L364.8 240.9 L365.4 240.1 L366.0 239.3 L366.6 238.5 L367.2 237.8 L367.8 237.0 L368.4 236.3 L369.0 235.6 L369.6 235.0 L370.2 234.4 L370.8 233.8 L371.4 233.3 L372.0 232.9 L372.6 232.5 L373.2 232.2 L373.8 232.0 L374.4 231.8 L375.0 231.7 L375.6 231.6 L376.2 231.7 L376.8 231.8 L377.4 232.1 L378.0 232.4 L378.6 232.8 L379.2 233.3 L379.8 233.9 L380.4 234.6 L381.0 235.3 L381.6 236.1 L382.2 236.9 L382.8 237.8 L383.4 238.7 L384.0 239.6 L384.6 240.5 L385.2 241.5 L385.8 242.4 L386.4 243.4 L387.0 244.3 L387.6 245.2 L388.2 246.1 L388.8 247.0 L389.4 247.8 L390.0 248.6 L390.6 249.3 L391.2 250.0 L391.8 250.7 L392.4 251.3 L393.0 251.9 L393.6 252.4 L394.2 252.9 L394.8 253.3 L395.4 253.7 L396.0 254.1 L396.6 254.4 L397.2 254.7 L397.8 255.0 L398.4 255.2 L399.0 255.4 L399.6 255.6 L400.2 255.8 L400.8 255.9 L401.4 256.1 L402.0 256.2 L402.6 256.3 L403.2 256.4 L403.8 256.5 L404.4 256.5 L405.0 256.6 L405.6 256.6 L406.2 256.7 L406.8 256.7 L407.4 256.7 L408.0 256.8 L408.6 256.8 L408.6 256.9 L408.0 256.9 L407.4 256.8 L406.8 256.8 L406.2 256.8 L405.6 256.8 L405.0 256.8 L404.4 256.8 L403.8 256.8 L403.2 256.7 L402.6 256.7 L402.0 256.7 L401.4 256.7 L400.8 256.7 L400.2 256.7 L399.6 256.7 L399.0 256.7 L398.4 256.6 L397.8 256.6 L397.2 256.6 L396.6 256.6 L396.0 256.6 L395.4 256.6 L394.8 256.6 L394.2 256.5 L393.6 256.5 L393.0 256.5 L392.4 256.5 L391.8 256.5 L391.2 256.5 L390.6 256.5 L390.0 256.5 L389.4 256.4 L388.8 256.4 L388.2 256.4 L387.6 256.4 L387.0 256.4 L386.4 256.4 L385.8 256.4 L385.2 256.3 L384.6 256.3 L384.0 256.3 L383.4 256.3 L382.8 256.3 L382.2 256.3 L381.6 256.3 L381.0 256.3 L380.4 256.2 L379.8 256.2 L379.2 256.2 L378.6 256.2 L378.0 256.2 L377.4 256.2 L376.8 256.2 L376.2 256.1 L375.6 256.1 L375.0 256.1 L374.4 256.1 L373.8 256.1 L373.2 256.1 L372.6 256.1 L372.0 256.1 L371.4 256.0 L370.8 256.0 L370.2 256.0 L369.6 256.0 L369.0 256.0 L368.4 256.0 L367.8 256.0 L367.2 255.9 L366.6 255.9 L366.0 255.9 L365.4 255.9 L364.8 255.9 L364.2 255.9 L363.6 255.9 L363.0 255.9 L362.4 255.8 L361.8 255.8 L361.2 255.8 L360.6 255.8 L360.0 255.8 L359.4 255.8 L358.8 255.8 L358.2 255.7 L357.6 255.7 L357.0 255.7 L356.4 255.7 L355.8 255.7 L355.2 255.7 L354.6 255.7 L354.0 255.7 L353.4 255.6 L352.8 255.6 L352.2 255.6 L351.6 255.6 L351.0 255.6 L350.4 255.6 L349.8 255.6 L349.2 255.5 L348.6 255.5 L348.0 255.5 L347.4 255.5 L346.8 255.5 L346.2 255.5 L345.6 255.5 L345.0 255.5 L344.4 255.4 L343.8 255.4 L343.2 255.4 L342.6 255.4 L342.0 255.4 L341.4 255.4 L340.8 255.4 L340.2 255.3 L339.6 255.3 L339.0 255.3 L338.4 255.3 L337.8 255.3 L337.2 255.3 Z" fill="#fdefcf" fill-opacity="0.85" stroke="none"/>
<path d="M337.2 255.2 L337.8 255.2 L338.4 255.2 L339.0 255.2 L339.6 255.2 L340.2 255.2 L340.8 255.2 L341.4 255.2 L342.0 255.2 L342.6 255.1 L343.2 255.1 L343.8 255.1 L344.4 255.0 L345.0 255.0 L345.6 254.9 L346.2 254.8 L346.8 254.7 L347.4 254.6 L348.0 254.5 L348.6 254.4 L349.2 254.2 L349.8 254.0 L350.4 253.8 L351.0 253.6 L351.6 253.4 L352.2 253.1 L352.8 252.8 L353.4 252.5 L354.0 252.2 L354.6 251.8 L355.2 251.4 L355.8 250.9 L356.4 250.4 L357.0 249.9 L357.6 249.4 L358.2 248.8 L358.8 248.2 L359.4 247.6 L360.0 246.9 L360.6 246.3 L361.2 245.5 L361.8 244.8 L362.4 244.0 L363.0 243.3 L363.6 242.5 L364.2 241.7 L364.8 240.9 L365.4 240.1 L366.0 239.3 L366.6 238.5 L367.2 237.8 L367.8 237.0 L368.4 236.3 L369.0 235.6 L369.6 235.0 L370.2 234.4 L370.8 233.8 L371.4 233.3 L372.0 232.9 L372.6 232.5 L373.2 232.2 L373.8 232.0 L374.4 231.8 L375.0 231.7 L375.6 231.6 L376.2 231.7 L376.8 231.8 L377.4 232.1 L378.0 232.4 L378.6 232.8 L379.2 233.3 L379.8 233.9 L380.4 234.6 L381.0 235.3 L381.6 236.1 L382.2 236.9 L382.8 237.8 L383.4 238.7 L384.0 239.6 L384.6 240.5 L385.2 241.5 L385.8 242.4 L386.4 243.4 L387.0 244.3 L387.6 245.2 L388.2 246.1 L388.8 247.0 L389.4 247.8 L390.0 248.6 L390.6 249.3 L391.2 250.0 L391.8 250.7 L392.4 251.3 L393.0 251.9 L393.6 252.4 L394.2 252.9 L394.8 253.3 L395.4 253.7 L396.0 254.1 L396.6 254.4 L397.2 254.7 L397.8 255.0 L398.4 255.2 L399.0 255.4 L399.6 255.6 L400.2 255.8 L400.8 255.9 L401.4 256.1 L402.0 256.2 L402.6 256.3 L403.2 256.4 L403.8 256.5 L404.4 256.5 L405.0 256.6 L405.6 256.6 L406.2 256.7 L406.8 256.7 L407.4 256.7 L408.0 256.8 L408.6 256.8" fill="none" stroke="#f3d58f" stroke-width="0.9"/>
<path d="M384.0 256.3 L384.6 256.2 L385.2 256.2 L385.8 256.2 L386.4 256.1 L387.0 256.0 L387.6 255.8 L388.2 255.6 L388.8 255.4 L389.4 255.0 L390.0 254.6 L390.6 254.1 L391.2 253.6 L391.8 252.9 L392.4 252.2 L393.0 251.4 L393.6 250.6 L394.2 249.9 L394.8 249.1 L395.4 248.4 L396.0 247.9 L396.6 247.5 L397.2 247.2 L397.8 247.1 L398.4 247.2 L399.0 247.4 L399.6 247.8 L400.2 248.3 L400.8 248.9 L401.4 249.5 L402.0 250.2 L402.6 251.0 L403.2 251.7 L403.8 252.4 L404.4 253.1 L405.0 253.7 L405.6 254.3 L406.2 254.8 L406.8 255.2 L407.4 255.6 L408.0 255.9 L408.6 256.1 L409.2 256.3 L409.8 256.5 L410.4 256.6 L411.0 256.7 L411.6 256.8 L412.2 256.8 L412.8 256.9 L412.8 257.0 L412.2 257.0 L411.6 256.9 L411.0 256.9 L410.4 256.9 L409.8 256.9 L409.2 256.9 L408.6 256.9 L408.0 256.9 L407.4 256.8 L406.8 256.8 L406.2 256.8 L405.6 256.8 L405.0 256.8 L404.4 256.8 L403.8 256.8 L403.2 256.7 L402.6 256.7 L402.0 256.7 L401.4 256.7 L400.8 256.7 L400.2 256.7 L399.6 256.7 L399.0 256.7 L398.4 256.6 L397.8 256.6 L397.2 256.6 L396.6 256.6 L396.0 256.6 L395.4 256.6 L394.8 256.6 L394.2 256.5 L393.6 256.5 L393.0 256.5 L392.4 256.5 L391.8 256.5 L391.2 256.5 L390.6 256.5 L390.0 256.5 L389.4 256.4 L388.8 256.4 L388.2 256.4 L387.6 256.4 L387.0 256.4 L386.4 256.4 L385.8 256.4 L385.2 256.3 L384.6 256.3 L384.0 256.3 Z" fill="#fdce55" fill-opacity="0.85" stroke="none"/>
<path d="M384.0 256.3 L384.6 256.2 L385.2 256.2 L385.8 256.2 L386.4 256.1 L387.0 256.0 L387.6 255.8 L388.2 255.6 L388.8 255.4 L389.4 255.0 L390.0 254.6 L390.6 254.1 L391.2 253.6 L391.8 252.9 L392.4 252.2 L393.0 251.4 L393.6 250.6 L394.2 249.9 L394.8 249.1 L395.4 248.4 L396.0 247.9 L396.6 247.5 L397.2 247.2 L397.8 247.1 L398.4 247.2 L399.0 247.4 L399.6 247.8 L400.2 248.3 L400.8 248.9 L401.4 249.5 L402.0 250.2 L402.6 251.0 L403.2 251.7 L403.8 252.4 L404.4 253.1 L405.0 253.7 L405.6 254.3 L406.2 254.8 L406.8 255.2 L407.4 255.6 L408.0 255.9 L408.6 256.1 L409.2 256.3 L409.8 256.5 L410.4 256.6 L411.0 256.7 L411.6 256.8 L412.2 256.8 L412.8 256.9" fill="none" stroke="#f2ad0c" stroke-width="0.9"/>
<circle cx="258.6" cy="250.0" r="1.3" fill="none" stroke="#acacac" stroke-width="0.6"/>
<circle cx="259.9" cy="250.8" r="1.3" fill="none" stroke="#acacac" stroke-width="0.6"/>
<circle cx="261.3" cy="251.5" r="1.3" fill="none" stroke="#acacac" stroke-width="0.6"/>
<circle cx="262.7" cy="251.2" r="1.3" fill="none" stroke="#acacac" stroke-width="0.6"/>
<circle cx="264.0" cy="252.0" r="1.3" fill="none" stroke="#acacac" stroke-width="0.6"/>
<circle cx="265.4" cy="252.7" r="1.3" fill="none" stroke="#acacac" stroke-width="0.6"/>
<circle cx="266.7" cy="252.6" r="1.3" fill="none" stroke="#acacac" stroke-width="0.6"/>
<circle cx="268.1" cy="253.2" r="1.3" fill="none" stroke="#acacac" stroke-width="0.6"/>
<circle cx="269.4" cy="253.0" r="1.3" fill="none" stroke="#acacac" stroke-width="0.6"/>
<circle cx="270.8" cy="252.9" r="1.3" fill="none" stroke="#acacac" stroke-width="0.6"/>
<circle cx="272.1" cy="253.7" r="1.3" fill="none" stroke="#acacac" stroke-width="0.6"/>
<circle cx="273.5" cy="252.6" r="1.3" fill="none" stroke="#acacac" stroke-width="0.6"/>
<circle cx="274.8" cy="251.9" r="1.3" fill="none" stroke="#acacac" stroke-width="0.6"/>
<circle cx="276.2" cy="252.0" r="1.3" fill="none" stroke="#acacac" stroke-width="0.6"/>
<circle cx="277.5" cy="250.4" r="1.3" fill="none" stroke="#acacac" stroke-width="0.6"/>
<circle cx="278.9" cy="250.4" r="1.3" fill="none" stroke="#acacac" stroke-width="0.6"/>
<circle cx="280.2" cy="250.9" r="1.3" fill="none" stroke="#acacac" stroke-width="0.6"/>
<circle cx="281.6" cy="250.7" r="1.3" fill="none" stroke="#acacac" stroke-width="0.6"/>
<circle cx="282.9" cy="251.5" r="1.3" fill="none" stroke="#acacac" stroke-width="0.6"/>
<circle cx="284.3" cy="250.7" r="1.3" fill="none" stroke="#acacac" stroke-width="0.6"/>
<circle cx="285.6" cy="250.0" r="1.3" fill="none" stroke="#acacac" stroke-width="0.6"/>
<circle cx="287.0" cy="252.9" r="1.3" fill="none" stroke="#acacac" stroke-width="0.6"/>
<circle cx="288.3" cy="252.5" r="1.3" fill="none" stroke="#acacac" stroke-width="0.6"/>
<circle cx="289.7" cy="251.1" r="1.3" fill="none" stroke="#acacac" stroke-width="0.6"/>
<circle cx="291.0" cy="252.8" r="1.3" fill="none" stroke="#acacac" stroke-width="0.6"/>
<circle cx="292.4" cy="251.5" r="1.3" fill="none" stroke="#acacac" stroke-width="0.6"/>
<circle cx="293.7" cy="249.8" r="1.3" fill="none" stroke="#acacac" stroke-width="0.6"/>
<circle cx="295.1" cy="250.5" r="1.3" fill="none" stroke="#acacac" stroke-width="0.6"/>
<circle cx="296.4" cy="250.3" r="1.3" fill="none" stroke="#acacac" stroke-width="0.6"/>
<circle cx="297.8" cy="251.8" r="1.3" fill="none" stroke="#acacac" stroke-width="0.6"/>
<circle cx="299.1" cy="250.1" r="1.3" fill="none" stroke="#acacac" stroke-width="0.6"/>
<circle cx="300.5" cy="250.6" r="1.3" fill="none" stroke="#acacac" stroke-width="0.6"/>
<circle cx="301.8" cy="250.6" r="1.3" fill="none" stroke="#acacac" stroke-width="0.6"/>
<circle cx="303.2" cy="250.4" r="1.3" fill="none" stroke="#acacac" stroke-width="0.6"/>
<circle cx="304.5" cy="249.9" r="1.3" fill="none" stroke="#acacac" stroke-width="0.6"/>
<circle cx="305.9" cy="250.6" r="1.3" fill="none" stroke="#acacac" stroke-width="0.6"/>
<circle cx="307.2" cy="251.3" r="1.3" fill="none" stroke="#acacac" stroke-width="0.6"/>
<circle cx="308.6" cy="251.3" r="1.3" fill="none" stroke="#acacac" stroke-width="0.6"/>
<circle cx="309.9" cy="250.5" r="1.3" fill="none" stroke="#acacac" stroke-width="0.6"/>
<circle cx="311.3" cy="250.8" r="1.3" fill="none" stroke="#acacac" stroke-width="0.6"/>
<circle cx="312.6" cy="252.0" r="1.3" fill="none" stroke="#acacac" stroke-width="0.6"/>
<circle cx="314.0" cy="251.4" r="1.3" fill="none" stroke="#acacac" stroke-width="0.6"/>
<circle cx="315.3" cy="251.3" r="1.3" fill="none" stroke="#acacac" stroke-width="0.6"/>
<circle cx="316.7" cy="250.3" r="1.3" fill="none" stroke="#acacac" stroke-width="0.6"/>
<circle cx="318.0" cy="252.8" r="1.3" fill="none" stroke="#acacac" stroke-width="0.6"/>
<circle cx="319.4" cy="251.9" r="1.3" fill="none" stroke="#acacac" stroke-width="0.6"/>
<circle cx="320.7" cy="250.6" r="1.3" fill="none" stroke="#acacac" stroke-width="0.6"/>
<circle cx="322.1" cy="252.1" r="1.3" fill="none" stroke="#acacac" stroke-width="0.6"/>
<circle cx="323.4" cy="252.6" r="1.3" fill="none" stroke="#acacac" stroke-width="0.6"/>
<circle cx="324.8" cy="250.2" r="1.3" fill="none" stroke="#acacac" stroke-width="0.6"/>
<circle cx="326.1" cy="251.8" r="1.3" fill="none" stroke="#acacac" stroke-width="0.6"/>
<circle cx="327.5" cy="252.1" r="1.3" fill="none" stroke="#acacac" stroke-width="0.6"/>
<circle cx="328.8" cy="253.1" r="1.3" fill="none" stroke="#acacac" stroke-width="0.6"/>
<circle cx="330.2" cy="252.8" r="1.3" fill="none" stroke="#acacac" stroke-width="0.6"/>
<circle cx="331.5" cy="253.3" r="1.3" fill="none" stroke="#acacac" stroke-width="0.6"/>
<circle cx="332.9" cy="254.2" r="1.3" fill="none" stroke="#acacac" stroke-width="0.6"/>
<circle cx="334.2" cy="256.5" r="1.3" fill="none" stroke="#acacac" stroke-width="0.6"/>
<circle cx="335.6" cy="257.5" r="1.3" fill="none" stroke="#acacac" stroke-width="0.6"/>
<circle cx="336.9" cy="256.0" r="1.3" fill="none" stroke="#acacac" stroke-width="0.6"/>
<circle cx="338.3" cy="255.7" r="1.3" fill="none" stroke="#acacac" stroke-width="0.6"/>
<circle cx="339.6" cy="258.0" r="1.3" fill="none" stroke="#acacac" stroke-width="0.6"/>
<circle cx="341.0" cy="254.8" r="1.3" fill="none" stroke="#acacac" stroke-width="0.6"/>
<circle cx="342.3" cy="254.6" r="1.3" fill="none" stroke="#acacac" stroke-width="0.6"/>
<circle cx="343.7" cy="254.5" r="1.3" fill="none" stroke="#acacac" stroke-width="0.6"/>
<circle cx="345.0" cy="254.5" r="1.3" fill="none" stroke="#acacac" stroke-width="0.6"/>
<circle cx="346.4" cy="254.5" r="1.3" fill="none" stroke="#acacac" stroke-width="0.6"/>
<circle cx="347.7" cy="253.6" r="1.3" fill="none" stroke="#acacac" stroke-width="0.6"/>
<circle cx="349.1" cy="252.3" r="1.3" fill="none" stroke="#acacac" stroke-width="0.6"/>
<circle cx="350.4" cy="252.7" r="1.3" fill="none" stroke="#acacac" stroke-width="0.6"/>
<circle cx="351.8" cy="251.8" r="1.3" fill="none" stroke="#acacac" stroke-width="0.6"/>
<circle cx="353.1" cy="252.2" r="1.3" fill="none" stroke="#acacac" stroke-width="0.6"/>
<circle cx="354.5" cy="249.7" r="1.3" fill="none" stroke="#acacac" stroke-width="0.6"/>
<circle cx="355.8" cy="247.5" r="1.3" fill="none" stroke="#acacac" stroke-width="0.6"/>
<circle cx="357.2" cy="246.3" r="1.3" fill="none" stroke="#acacac" stroke-width="0.6"/>
<circle cx="358.5" cy="246.4" r="1.3" fill="none" stroke="#acacac" stroke-width="0.6"/>
<circle cx="359.9" cy="243.2" r="1.3" fill="none" stroke="#acacac" stroke-width="0.6"/>
<circle cx="361.2" cy="240.3" r="1.3" fill="none" stroke="#acacac" stroke-width="0.6"/>
<circle cx="362.6" cy="239.6" r="1.3" fill="none" stroke="#acacac" stroke-width="0.6"/>
<circle cx="363.9" cy="238.3" r="1.3" fill="none" stroke="#acacac" stroke-width="0.6"/>
<circle cx="365.3" cy="237.4" r="1.3" fill="none" stroke="#acacac" stroke-width="0.6"/>
<circle cx="366.6" cy="234.0" r="1.3" fill="none" stroke="#acacac" stroke-width="0.6"/>
<circle cx="368.0" cy="233.5" r="1.3" fill="none" stroke="#acacac" stroke-width="0.6"/>
<circle cx="369.3" cy="232.0" r="1.3" fill="none" stroke="#acacac" stroke-width="0.6"/>
<circle cx="370.7" cy="229.6" r="1.3" fill="none" stroke="#acacac" stroke-width="0.6"/>
<circle cx="372.0" cy="229.0" r="1.3" fill="none" stroke="#acacac" stroke-width="0.6"/>
<circle cx="373.4" cy="229.8" r="1.3" fill="none" stroke="#acacac" stroke-width="0.6"/>
<circle cx="374.7" cy="229.6" r="1.3" fill="none" stroke="#acacac" stroke-width="0.6"/>
<circle cx="376.1" cy="229.3" r="1.3" fill="none" stroke="#acacac" stroke-width="0.6"/>
<circle cx="377.4" cy="229.6" r="1.3" fill="none" stroke="#acacac" stroke-width="0.6"/>
<circle cx="378.8" cy="231.2" r="1.3" fill="none" stroke="#acacac" stroke-width="0.6"/>
<circle cx="380.1" cy="231.6" r="1.3" fill="none" stroke="#acacac" stroke-width="0.6"/>
<circle cx="381.5" cy="233.0" r="1.3" fill="none" stroke="#acacac" stroke-width="0.6"/>
<circle cx="382.8" cy="233.9" r="1.3" fill="none" stroke="#acacac" stroke-width="0.6"/>
<circle cx="384.2" cy="236.2" r="1.3" fill="none" stroke="#acacac" stroke-width="0.6"/>
<circle cx="385.5" cy="237.9" r="1.3" fill="none" stroke="#acacac" stroke-width="0.6"/>
<circle cx="386.9" cy="241.9" r="1.3" fill="none" stroke="#acacac" stroke-width="0.6"/>
<circle cx="388.2" cy="241.5" r="1.3" fill="none" stroke="#acacac" stroke-width="0.6"/>
<circle cx="389.6" cy="243.9" r="1.3" fill="none" stroke="#acacac" stroke-width="0.6"/>
<circle cx="390.9" cy="244.6" r="1.3" fill="none" stroke="#acacac" stroke-width="0.6"/>
<circle cx="392.3" cy="243.6" r="1.3" fill="none" stroke="#acacac" stroke-width="0.6"/>
<circle cx="393.6" cy="244.2" r="1.3" fill="none" stroke="#acacac" stroke-width="0.6"/>
<circle cx="395.0" cy="241.3" r="1.3" fill="none" stroke="#acacac" stroke-width="0.6"/>
<circle cx="396.3" cy="242.8" r="1.3" fill="none" stroke="#acacac" stroke-width="0.6"/>
<circle cx="397.7" cy="243.8" r="1.3" fill="none" stroke="#acacac" stroke-width="0.6"/>
<circle cx="399.0" cy="242.5" r="1.3" fill="none" stroke="#acacac" stroke-width="0.6"/>
<circle cx="400.4" cy="244.8" r="1.3" fill="none" stroke="#acacac" stroke-width="0.6"/>
<circle cx="401.7" cy="248.1" r="1.3" fill="none" stroke="#acacac" stroke-width="0.6"/>
<circle cx="403.1" cy="248.8" r="1.3" fill="none" stroke="#acacac" stroke-width="0.6"/>
<circle cx="404.4" cy="249.7" r="1.3" fill="none" stroke="#acacac" stroke-width="0.6"/>
<circle cx="405.8" cy="251.4" r="1.3" fill="none" stroke="#acacac" stroke-width="0.6"/>
<circle cx="407.1" cy="252.2" r="1.3" fill="none" stroke="#acacac" stroke-width="0.6"/>
<circle cx="408.5" cy="253.7" r="1.3" fill="none" stroke="#acacac" stroke-width="0.6"/>
<circle cx="409.8" cy="253.8" r="1.3" fill="none" stroke="#acacac" stroke-width="0.6"/>
<circle cx="411.2" cy="253.5" r="1.3" fill="none" stroke="#acacac" stroke-width="0.6"/>
<circle cx="412.5" cy="253.5" r="1.3" fill="none" stroke="#acacac" stroke-width="0.6"/>
<circle cx="413.9" cy="254.3" r="1.3" fill="none" stroke="#acacac" stroke-width="0.6"/>
<circle cx="415.2" cy="255.9" r="1.3" fill="none" stroke="#acacac" stroke-width="0.6"/>
<circle cx="416.6" cy="255.8" r="1.3" fill="none" stroke="#acacac" stroke-width="0.6"/>
<circle cx="417.9" cy="256.4" r="1.3" fill="none" stroke="#acacac" stroke-width="0.6"/>
<circle cx="419.3" cy="256.0" r="1.3" fill="none" stroke="#acacac" stroke-width="0.6"/>
<circle cx="420.6" cy="255.0" r="1.3" fill="none" stroke="#acacac" stroke-width="0.6"/>
<circle cx="422.0" cy="255.1" r="1.3" fill="none" stroke="#acacac" stroke-width="0.6"/>
<circle cx="423.3" cy="255.7" r="1.3" fill="none" stroke="#acacac" stroke-width="0.6"/>
<circle cx="424.7" cy="255.0" r="1.3" fill="none" stroke="#acacac" stroke-width="0.6"/>
<circle cx="426.0" cy="254.1" r="1.3" fill="none" stroke="#acacac" stroke-width="0.6"/>
<path d="M257.4 253.5 L258.0 253.5 L258.6 253.5 L259.2 253.5 L259.8 253.6 L260.4 253.6 L261.0 253.6 L261.6 253.6 L262.2 253.6 L262.8 253.6 L263.4 253.6 L264.0 253.6 L264.6 253.7 L265.2 253.7 L265.8 253.7 L266.4 253.7 L267.0 253.7 L267.6 253.7 L268.2 253.7 L268.8 253.8 L269.4 253.8 L270.0 253.8 L270.6 253.8 L271.2 253.8 L271.8 253.8 L272.4 253.8 L273.0 253.8 L273.6 253.9 L274.2 253.9 L274.8 253.9 L275.4 253.9 L276.0 253.9 L276.6 253.9 L277.2 253.9 L277.8 254.0 L278.4 254.0 L279.0 254.0 L279.6 254.0 L280.2 254.0 L280.8 254.0 L281.4 254.0 L282.0 254.0 L282.6 254.1 L283.2 254.1 L283.8 254.1 L284.4 254.1 L285.0 254.1 L285.6 254.1 L286.2 254.1 L286.8 254.2 L287.4 254.2 L288.0 254.2 L288.6 254.2 L289.2 254.2 L289.8 254.2 L290.4 254.2 L291.0 254.2 L291.6 254.3 L292.2 254.3 L292.8 254.3 L293.4 254.3 L294.0 254.3 L294.6 254.3 L295.2 254.3 L295.8 254.4 L296.4 254.4 L297.0 254.4 L297.6 254.4 L298.2 254.4 L298.8 254.4 L299.4 254.4 L300.0 254.4 L300.6 254.5 L301.2 254.5 L301.8 254.5 L302.4 254.5 L303.0 254.5 L303.6 254.5 L304.2 254.5 L304.8 254.6 L305.4 254.6 L306.0 254.6 L306.6 254.6 L307.2 254.6 L307.8 254.6 L308.4 254.6 L309.0 254.7 L309.6 254.7 L310.2 254.7 L310.8 254.7 L311.4 254.7 L312.0 254.7 L312.6 254.7 L313.2 254.7 L313.8 254.8 L314.4 254.8 L315.0 254.8 L315.6 254.8 L316.2 254.8 L316.8 254.8 L317.4 254.8 L318.0 254.9 L318.6 254.9 L319.2 254.9 L319.8 254.9 L320.4 254.9 L321.0 254.9 L321.6 254.9 L322.2 254.9 L322.8 255.0 L323.4 255.0 L324.0 255.0 L324.6 255.0 L325.2 255.0 L325.8 255.0 L326.4 255.0 L327.0 255.0 L327.6 255.1 L328.2 255.1 L328.8 255.1 L329.4 255.1 L330.0 255.1 L330.6 255.1 L331.2 255.1 L331.8 255.1 L332.4 255.2 L333.0 255.2 L333.6 255.2 L334.2 255.2 L334.8 255.2 L335.4 255.2 L336.0 255.2 L336.6 255.2 L337.2 255.2 L337.8 255.2 L338.4 255.2 L339.0 255.2 L339.6 255.2 L340.2 255.2 L340.8 255.2 L341.4 255.2 L342.0 255.2 L342.6 255.1 L343.2 255.1 L343.8 255.1 L344.4 255.0 L345.0 255.0 L345.6 254.9 L346.2 254.8 L346.8 254.7 L347.4 254.6 L348.0 254.5 L348.6 254.4 L349.2 254.2 L349.8 254.0 L350.4 253.8 L351.0 253.6 L351.6 253.4 L352.2 253.1 L352.8 252.8 L353.4 252.5 L354.0 252.2 L354.6 251.8 L355.2 251.4 L355.8 250.9 L356.4 250.4 L357.0 249.9 L357.6 249.4 L358.2 248.8 L358.8 248.2 L359.4 247.6 L360.0 246.9 L360.6 246.3 L361.2 245.5 L361.8 244.8 L362.4 244.0 L363.0 243.3 L363.6 242.5 L364.2 241.7 L364.8 240.9 L365.4 240.1 L366.0 239.3 L366.6 238.5 L367.2 237.8 L367.8 237.0 L368.4 236.3 L369.0 235.6 L369.6 235.0 L370.2 234.4 L370.8 233.8 L371.4 233.3 L372.0 232.9 L372.6 232.5 L373.2 232.2 L373.8 232.0 L374.4 231.8 L375.0 231.7 L375.6 231.6 L376.2 231.7 L376.8 231.8 L377.4 232.1 L378.0 232.4 L378.6 232.8 L379.2 233.3 L379.8 233.9 L380.4 234.6 L381.0 235.3 L381.6 236.1 L382.2 236.9 L382.8 237.7 L383.4 238.6 L384.0 239.5 L384.6 240.5 L385.2 241.4 L385.8 242.2 L386.4 243.1 L387.0 243.9 L387.6 244.6 L388.2 245.3 L388.8 245.9 L389.4 246.4 L390.0 246.7 L390.6 246.9 L391.2 247.0 L391.8 247.0 L392.4 246.9 L393.0 246.6 L393.6 246.3 L394.2 246.0 L394.8 245.6 L395.4 245.3 L396.0 245.0 L396.6 244.8 L397.2 244.7 L397.8 244.8 L398.4 245.0 L399.0 245.3 L399.6 245.8 L400.2 246.3 L400.8 246.9 L401.4 247.6 L402.0 248.3 L402.6 249.1 L403.2 249.9 L403.8 250.6 L404.4 251.3 L405.0 252.0 L405.6 252.7 L406.2 253.3 L406.8 253.8 L407.4 254.3 L408.0 254.7 L408.6 255.1 L409.2 255.4 L409.8 255.7 L410.4 255.9 L411.0 256.1 L411.6 256.3 L412.2 256.4 L412.8 256.6 L413.4 256.7 L414.0 256.7 L414.6 256.8 L415.2 256.9 L415.8 256.9 L416.4 257.0 L417.0 257.0 L417.6 257.0 L418.2 257.1 L418.8 257.1 L419.4 257.1 L420.0 257.1 L420.6 257.1 L421.2 257.1 L421.8 257.2 L422.4 257.2 L423.0 257.2 L423.6 257.2 L424.2 257.2 L424.8 257.2 L425.4 257.2 L426.0 257.3 L426.6 257.3 L427.2 257.3 L427.8 257.3" fill="none" stroke="#7a7a7a" stroke-width="1.6" stroke-linejoin="round" stroke-linecap="round" />
<path d="M257.4 306.7 L258.0 306.7 L258.6 306.7 L259.2 306.7 L259.8 306.7 L260.4 306.8 L261.0 306.8 L261.6 306.8 L262.2 306.8 L262.8 306.8 L263.4 306.8 L264.0 306.8 L264.6 306.8 L265.2 306.8 L265.8 306.8 L266.4 306.9 L267.0 306.9 L267.6 306.9 L268.2 306.9 L268.8 306.9 L269.4 306.9 L270.0 306.9 L270.6 306.9 L271.2 306.9 L271.8 307.0 L272.4 307.0 L273.0 307.0 L273.6 307.0 L274.2 307.0 L274.8 307.0 L275.4 307.0 L276.0 307.0 L276.6 307.0 L277.2 307.0 L277.8 307.1 L278.4 307.1 L279.0 307.1 L279.6 307.1 L280.2 307.1 L280.8 307.1 L281.4 307.1 L282.0 307.1 L282.6 307.1 L283.2 307.2 L283.8 307.2 L284.4 307.2 L285.0 307.2 L285.6 307.2 L286.2 307.2 L286.8 307.2 L287.4 307.2 L288.0 307.2 L288.6 307.2 L289.2 307.3 L289.8 307.3 L290.4 307.3 L291.0 307.3 L291.6 307.3 L292.2 307.3 L292.8 307.3 L293.4 307.3 L294.0 307.3 L294.6 307.4 L295.2 307.4 L295.8 307.4 L296.4 307.4 L297.0 307.4 L297.6 307.4 L298.2 307.4 L298.8 307.4 L299.4 307.4 L300.0 307.4 L300.6 307.5 L301.2 307.5 L301.8 307.5 L302.4 307.5 L303.0 307.5 L303.6 307.5 L304.2 307.5 L304.8 307.5 L305.4 307.5 L306.0 307.6 L306.6 307.6 L307.2 307.6 L307.8 307.6 L308.4 307.6 L309.0 307.6 L309.6 307.6 L310.2 307.6 L310.8 307.6 L311.4 307.7 L312.0 307.7 L312.6 307.7 L313.2 307.7 L313.8 307.7 L314.4 307.7 L315.0 307.7 L315.6 307.7 L316.2 307.7 L316.8 307.7 L317.4 307.8 L318.0 307.8 L318.6 307.8 L319.2 307.8 L319.8 307.8 L320.4 307.8 L321.0 307.8 L321.6 307.8 L322.2 307.8 L322.8 307.9 L323.4 307.9 L324.0 307.9 L324.6 307.9 L325.2 307.9 L325.8 307.9 L326.4 307.9 L327.0 307.9 L327.6 307.9 L328.2 307.9 L328.8 308.0 L329.4 308.0 L330.0 308.0 L330.6 308.0 L331.2 308.0 L331.8 308.0 L332.4 308.0 L333.0 308.0 L333.6 308.0 L334.2 308.1 L334.8 308.1 L335.4 308.1 L336.0 308.1 L336.6 308.1 L337.2 308.1 L337.8 308.1 L338.4 308.1 L339.0 308.1 L339.6 308.1 L340.2 308.2 L340.8 308.2 L341.4 308.2 L342.0 308.2 L342.6 308.2 L343.2 308.2 L343.8 308.2 L344.4 308.2 L345.0 308.2 L345.6 308.3 L346.2 308.3 L346.8 308.3 L347.4 308.3 L348.0 308.3 L348.6 308.3 L349.2 308.3 L349.8 308.3 L350.4 308.3 L351.0 308.3 L351.6 308.4 L352.2 308.4 L352.8 308.4 L353.4 308.4 L354.0 308.4 L354.6 308.4 L355.2 308.4 L355.8 308.4 L356.4 308.4 L357.0 308.5 L357.6 308.5 L358.2 308.5 L358.8 308.5 L359.4 308.5 L360.0 308.5 L360.6 308.5 L361.2 308.5 L361.8 308.5 L362.4 308.5 L363.0 308.6 L363.6 308.6 L364.2 308.6 L364.8 308.6 L365.4 308.6 L366.0 308.6 L366.6 308.6 L367.2 308.6 L367.8 308.6 L368.4 308.7 L369.0 308.7 L369.6 308.7 L370.2 308.7 L370.8 308.7 L371.4 308.7 L372.0 308.7 L372.6 308.7 L373.2 308.7 L373.8 308.7 L374.4 308.8 L375.0 308.8 L375.6 308.8 L376.2 308.8 L376.8 308.8 L377.4 308.8 L378.0 308.8 L378.6 308.8 L379.2 308.8 L379.8 308.9 L380.4 308.9 L381.0 308.9 L381.6 308.9 L382.2 308.9 L382.8 308.9 L383.4 308.9 L384.0 308.9 L384.6 308.9 L385.2 308.9 L385.8 309.0 L386.4 309.0 L387.0 309.0 L387.6 309.0 L388.2 309.0 L388.8 309.0 L389.4 309.0 L390.0 309.0 L390.6 309.0 L391.2 309.1 L391.8 309.1 L392.4 309.1 L393.0 309.1 L393.6 309.1 L394.2 309.1 L394.8 309.1 L395.4 309.1 L396.0 309.1 L396.6 309.1 L397.2 309.2 L397.8 309.2 L398.4 309.2 L399.0 309.2 L399.6 309.2 L400.2 309.2 L400.8 309.2 L401.4 309.2 L402.0 309.2 L402.6 309.3 L403.2 309.3 L403.8 309.3 L404.4 309.3 L405.0 309.3 L405.6 309.3 L406.2 309.3 L406.8 309.3 L407.4 309.3 L408.0 309.3 L408.6 309.4 L409.2 309.4 L409.8 309.4 L410.4 309.4 L411.0 309.4 L411.6 309.4 L412.2 309.4 L412.8 309.4 L413.4 309.4 L414.0 309.5 L414.6 309.5 L415.2 309.5 L415.8 309.5 L416.4 309.5 L417.0 309.5 L417.6 309.5 L418.2 309.5 L418.8 309.5 L419.4 309.6 L420.0 309.6 L420.6 309.6 L421.2 309.6 L421.8 309.6 L422.4 309.6 L423.0 309.6 L423.6 309.6 L424.2 309.6 L424.8 309.6 L425.4 309.7 L426.0 309.7 L426.6 309.7 L427.2 309.7 L427.8 309.7" fill="none" stroke="#8a8a8a" stroke-width="1.4"/>
<path d="M257.4 305.7 L258.0 305.7 L258.6 305.7 L259.2 305.7 L259.8 305.7 L260.4 305.8 L261.0 305.8 L261.6 305.8 L262.2 305.8 L262.8 305.8 L263.4 305.8 L264.0 305.8 L264.6 305.8 L265.2 305.8 L265.8 305.8 L266.4 305.9 L267.0 305.9 L267.6 305.9 L268.2 305.9 L268.8 305.9 L269.4 305.9 L270.0 305.9 L270.6 305.9 L271.2 305.9 L271.8 306.0 L272.4 306.0 L273.0 306.0 L273.6 306.0 L274.2 306.0 L274.8 306.0 L275.4 306.0 L276.0 306.0 L276.6 306.0 L277.2 306.0 L277.8 306.1 L278.4 306.1 L279.0 306.1 L279.6 306.1 L280.2 306.1 L280.8 306.1 L281.4 306.1 L282.0 306.1 L282.6 306.1 L283.2 306.2 L283.8 306.2 L284.4 306.2 L285.0 306.2 L285.6 306.2 L286.2 306.2 L286.8 306.2 L287.4 306.2 L288.0 306.2 L288.6 306.2 L289.2 306.3 L289.8 306.3 L290.4 306.3 L291.0 306.3 L291.6 306.3 L292.2 306.3 L292.8 306.3 L293.4 306.3 L294.0 306.3 L294.6 306.4 L295.2 306.4 L295.8 306.4 L296.4 306.4 L297.0 306.4 L297.6 306.4 L298.2 306.4 L298.8 306.4 L299.4 306.4 L300.0 306.4 L300.6 306.5 L301.2 306.5 L301.8 306.5 L302.4 306.5 L303.0 306.5 L303.6 306.5 L304.2 306.5 L304.8 306.5 L305.4 306.5 L306.0 306.6 L306.6 306.6 L307.2 306.6 L307.8 306.6 L308.4 306.6 L309.0 306.6 L309.6 306.6 L310.2 306.6 L310.8 306.6 L311.4 306.7 L312.0 306.7 L312.6 306.7 L313.2 306.7 L313.8 306.7 L314.4 306.7 L315.0 306.7 L315.6 306.7 L316.2 306.7 L316.8 306.7 L317.4 306.8 L318.0 306.8 L318.6 306.8 L319.2 306.8 L319.8 306.8 L320.4 306.8 L321.0 306.8 L321.6 306.8 L322.2 306.8 L322.8 306.9 L323.4 306.9 L324.0 306.9 L324.6 306.9 L325.2 306.9 L325.8 306.9 L326.4 306.9 L327.0 306.9 L327.6 306.9 L328.2 306.9 L328.8 307.0 L329.4 307.0 L330.0 307.0 L330.6 307.0 L331.2 307.0 L331.8 307.0 L332.4 307.0 L333.0 307.0 L333.6 307.0 L334.2 307.1 L334.8 307.1 L335.4 307.1 L336.0 307.1 L336.6 307.1 L337.2 307.1 L337.8 307.1 L338.4 307.1 L339.0 307.1 L339.6 307.1 L340.2 307.2 L340.8 307.2 L341.4 307.2 L342.0 307.2 L342.6 307.2 L343.2 307.2 L343.8 307.2 L344.4 307.2 L345.0 307.2 L345.6 307.3 L346.2 307.3 L346.8 307.3 L347.4 307.3 L348.0 307.3 L348.6 307.3 L349.2 307.3 L349.8 307.3 L350.4 307.3 L351.0 307.3 L351.6 307.4 L352.2 307.4 L352.8 307.4 L353.4 307.4 L354.0 307.4 L354.6 307.4 L355.2 307.4 L355.8 307.4 L356.4 307.4 L357.0 307.5 L357.6 307.5 L358.2 307.5 L358.8 307.5 L359.4 307.5 L360.0 307.5 L360.6 307.5 L361.2 307.5 L361.8 307.5 L362.4 307.5 L363.0 307.6 L363.6 307.6 L364.2 307.6 L364.8 307.6 L365.4 307.6 L366.0 307.6 L366.6 307.6 L367.2 307.6 L367.8 307.6 L368.4 307.7 L369.0 307.7 L369.6 307.7 L370.2 307.7 L370.8 307.7 L371.4 307.7 L372.0 307.7 L372.6 307.7 L373.2 307.7 L373.8 307.7 L374.4 307.8 L375.0 307.8 L375.6 307.8 L376.2 307.8 L376.8 307.8 L377.4 307.8 L378.0 307.8 L378.6 307.8 L379.2 307.8 L379.8 307.9 L380.4 307.9 L381.0 307.9 L381.6 307.9 L382.2 307.9 L382.8 307.9 L383.4 307.9 L384.0 307.9 L384.6 307.9 L385.2 307.9 L385.8 308.0 L386.4 308.0 L387.0 308.0 L387.6 308.0 L388.2 308.0 L388.8 308.0 L389.4 308.0 L390.0 308.0 L390.6 308.0 L391.2 308.1 L391.8 308.1 L392.4 308.1 L393.0 308.1 L393.6 308.1 L394.2 308.1 L394.8 308.1 L395.4 308.1 L396.0 308.1 L396.6 308.1 L397.2 308.2 L397.8 308.2 L398.4 308.2 L399.0 308.2 L399.6 308.2 L400.2 308.2 L400.8 308.2 L401.4 308.2 L402.0 308.2 L402.6 308.3 L403.2 308.3 L403.8 308.3 L404.4 308.3 L405.0 308.3 L405.6 308.3 L406.2 308.3 L406.8 308.3 L407.4 308.3 L408.0 308.3 L408.6 308.4 L409.2 308.4 L409.8 308.4 L410.4 308.4 L411.0 308.4 L411.6 308.4 L412.2 308.4 L412.8 308.4 L413.4 308.4 L414.0 308.5 L414.6 308.5 L415.2 308.5 L415.8 308.5 L416.4 308.5 L417.0 308.5 L417.6 308.5 L418.2 308.5 L418.8 308.5 L419.4 308.6 L420.0 308.6 L420.6 308.6 L421.2 308.6 L421.8 308.6 L422.4 308.6 L423.0 308.6 L423.6 308.6 L424.2 308.6 L424.8 308.6 L425.4 308.7 L426.0 308.7 L426.6 308.7 L427.2 308.7 L427.8 308.7" fill="none" stroke="#e3cf96" stroke-width="1.3"/>
<path d="M337.2 307.8 L337.8 307.8 L338.4 307.8 L339.0 307.7 L339.6 307.7 L340.2 307.7 L340.8 307.7 L341.4 307.7 L342.0 307.7 L342.6 307.6 L343.2 307.6 L343.8 307.6 L344.4 307.5 L345.0 307.4 L345.6 307.4 L346.2 307.3 L346.8 307.2 L347.4 307.1 L348.0 306.9 L348.6 306.8 L349.2 306.6 L349.8 306.4 L350.4 306.2 L351.0 306.0 L351.6 305.7 L352.2 305.5 L352.8 305.1 L353.4 304.8 L354.0 304.4 L354.6 304.0 L355.2 303.5 L355.8 303.0 L356.4 302.5 L357.0 301.9 L357.6 301.3 L358.2 300.7 L358.8 300.0 L359.4 299.2 L360.0 298.5 L360.6 297.7 L361.2 296.8 L361.8 296.0 L362.4 295.1 L363.0 294.1 L363.6 293.2 L364.2 292.2 L364.8 291.3 L365.4 290.3 L366.0 289.3 L366.6 288.3 L367.2 287.3 L367.8 286.4 L368.4 285.5 L369.0 284.6 L369.6 283.7 L370.2 282.9 L370.8 282.2 L371.4 281.5 L372.0 280.8 L372.6 280.3 L373.2 279.8 L373.8 279.3 L374.4 279.0 L375.0 278.7 L375.6 278.6 L376.2 278.5 L376.8 278.5 L377.4 278.6 L378.0 278.9 L378.6 279.3 L379.2 279.7 L379.8 280.3 L380.4 281.0 L381.0 281.8 L381.6 282.6 L382.2 283.5 L382.8 284.5 L383.4 285.6 L384.0 286.7 L384.6 287.8 L385.2 288.9 L385.8 290.1 L386.4 291.2 L387.0 292.4 L387.6 293.5 L388.2 294.6 L388.8 295.7 L389.4 296.8 L390.0 297.8 L390.6 298.8 L391.2 299.7 L391.8 300.6 L392.4 301.4 L393.0 302.1 L393.6 302.9 L394.2 303.5 L394.8 304.1 L395.4 304.7 L396.0 305.2 L396.6 305.7 L397.2 306.1 L397.8 306.4 L398.4 306.8 L399.0 307.1 L399.6 307.3 L400.2 307.6 L400.8 307.8 L401.4 308.0 L402.0 308.1 L402.6 308.3 L403.2 308.4 L403.8 308.5 L404.4 308.6 L405.0 308.7 L405.6 308.7 L406.2 308.8 L406.8 308.8 L407.4 308.9 L408.0 308.9 L408.6 309.0 L409.2 309.0 L409.8 309.0 L410.4 309.0 L410.4 309.1 L409.8 309.1 L409.2 309.1 L408.6 309.1 L408.0 309.0 L407.4 309.0 L406.8 309.0 L406.2 309.0 L405.6 309.0 L405.0 309.0 L404.4 309.0 L403.8 309.0 L403.2 309.0 L402.6 309.0 L402.0 308.9 L401.4 308.9 L400.8 308.9 L400.2 308.9 L399.6 308.9 L399.0 308.9 L398.4 308.9 L397.8 308.9 L397.2 308.9 L396.6 308.8 L396.0 308.8 L395.4 308.8 L394.8 308.8 L394.2 308.8 L393.6 308.8 L393.0 308.8 L392.4 308.8 L391.8 308.8 L391.2 308.8 L390.6 308.7 L390.0 308.7 L389.4 308.7 L388.8 308.7 L388.2 308.7 L387.6 308.7 L387.0 308.7 L386.4 308.7 L385.8 308.7 L385.2 308.6 L384.6 308.6 L384.0 308.6 L383.4 308.6 L382.8 308.6 L382.2 308.6 L381.6 308.6 L381.0 308.6 L380.4 308.6 L379.8 308.6 L379.2 308.5 L378.6 308.5 L378.0 308.5 L377.4 308.5 L376.8 308.5 L376.2 308.5 L375.6 308.5 L375.0 308.5 L374.4 308.5 L373.8 308.4 L373.2 308.4 L372.6 308.4 L372.0 308.4 L371.4 308.4 L370.8 308.4 L370.2 308.4 L369.6 308.4 L369.0 308.4 L368.4 308.4 L367.8 308.3 L367.2 308.3 L366.6 308.3 L366.0 308.3 L365.4 308.3 L364.8 308.3 L364.2 308.3 L363.6 308.3 L363.0 308.3 L362.4 308.2 L361.8 308.2 L361.2 308.2 L360.6 308.2 L360.0 308.2 L359.4 308.2 L358.8 308.2 L358.2 308.2 L357.6 308.2 L357.0 308.2 L356.4 308.1 L355.8 308.1 L355.2 308.1 L354.6 308.1 L354.0 308.1 L353.4 308.1 L352.8 308.1 L352.2 308.1 L351.6 308.1 L351.0 308.0 L350.4 308.0 L349.8 308.0 L349.2 308.0 L348.6 308.0 L348.0 308.0 L347.4 308.0 L346.8 308.0 L346.2 308.0 L345.6 308.0 L345.0 307.9 L344.4 307.9 L343.8 307.9 L343.2 307.9 L342.6 307.9 L342.0 307.9 L341.4 307.9 L340.8 307.9 L340.2 307.9 L339.6 307.8 L339.0 307.8 L338.4 307.8 L337.8 307.8 L337.2 307.8 Z" fill="#fdefcf" fill-opacity="0.85" stroke="none"/>
<path d="M337.2 307.8 L337.8 307.8 L338.4 307.8 L339.0 307.7 L339.6 307.7 L340.2 307.7 L340.8 307.7 L341.4 307.7 L342.0 307.7 L342.6 307.6 L343.2 307.6 L343.8 307.6 L344.4 307.5 L345.0 307.4 L345.6 307.4 L346.2 307.3 L346.8 307.2 L347.4 307.1 L348.0 306.9 L348.6 306.8 L349.2 306.6 L349.8 306.4 L350.4 306.2 L351.0 306.0 L351.6 305.7 L352.2 305.5 L352.8 305.1 L353.4 304.8 L354.0 304.4 L354.6 304.0 L355.2 303.5 L355.8 303.0 L356.4 302.5 L357.0 301.9 L357.6 301.3 L358.2 300.7 L358.8 300.0 L359.4 299.2 L360.0 298.5 L360.6 297.7 L361.2 296.8 L361.8 296.0 L362.4 295.1 L363.0 294.1 L363.6 293.2 L364.2 292.2 L364.8 291.3 L365.4 290.3 L366.0 289.3 L366.6 288.3 L367.2 287.3 L367.8 286.4 L368.4 285.5 L369.0 284.6 L369.6 283.7 L370.2 282.9 L370.8 282.2 L371.4 281.5 L372.0 280.8 L372.6 280.3 L373.2 279.8 L373.8 279.3 L374.4 279.0 L375.0 278.7 L375.6 278.6 L376.2 278.5 L376.8 278.5 L377.4 278.6 L378.0 278.9 L378.6 279.3 L379.2 279.7 L379.8 280.3 L380.4 281.0 L381.0 281.8 L381.6 282.6 L382.2 283.5 L382.8 284.5 L383.4 285.6 L384.0 286.7 L384.6 287.8 L385.2 288.9 L385.8 290.1 L386.4 291.2 L387.0 292.4 L387.6 293.5 L388.2 294.6 L388.8 295.7 L389.4 296.8 L390.0 297.8 L390.6 298.8 L391.2 299.7 L391.8 300.6 L392.4 301.4 L393.0 302.1 L393.6 302.9 L394.2 303.5 L394.8 304.1 L395.4 304.7 L396.0 305.2 L396.6 305.7 L397.2 306.1 L397.8 306.4 L398.4 306.8 L399.0 307.1 L399.6 307.3 L400.2 307.6 L400.8 307.8 L401.4 308.0 L402.0 308.1 L402.6 308.3 L403.2 308.4 L403.8 308.5 L404.4 308.6 L405.0 308.7 L405.6 308.7 L406.2 308.8 L406.8 308.8 L407.4 308.9 L408.0 308.9 L408.6 309.0 L409.2 309.0 L409.8 309.0 L410.4 309.0" fill="none" stroke="#f3d58f" stroke-width="0.9"/>
<path d="M382.8 308.5 L383.4 308.5 L384.0 308.5 L384.6 308.4 L385.2 308.3 L385.8 308.2 L386.4 308.1 L387.0 307.9 L387.6 307.6 L388.2 307.3 L388.8 306.9 L389.4 306.4 L390.0 305.8 L390.6 305.1 L391.2 304.4 L391.8 303.6 L392.4 302.7 L393.0 301.8 L393.6 300.9 L394.2 300.1 L394.8 299.3 L395.4 298.6 L396.0 298.0 L396.6 297.6 L397.2 297.4 L397.8 297.4 L398.4 297.5 L399.0 297.7 L399.6 298.1 L400.2 298.6 L400.8 299.2 L401.4 299.8 L402.0 300.5 L402.6 301.2 L403.2 302.0 L403.8 302.7 L404.4 303.5 L405.0 304.2 L405.6 304.9 L406.2 305.5 L406.8 306.0 L407.4 306.6 L408.0 307.0 L408.6 307.4 L409.2 307.7 L409.8 308.0 L410.4 308.2 L411.0 308.4 L411.6 308.6 L412.2 308.7 L412.8 308.8 L413.4 308.9 L414.0 309.0 L414.6 309.1 L415.2 309.1 L415.8 309.1 L415.8 309.2 L415.2 309.2 L414.6 309.2 L414.0 309.2 L413.4 309.1 L412.8 309.1 L412.2 309.1 L411.6 309.1 L411.0 309.1 L410.4 309.1 L409.8 309.1 L409.2 309.1 L408.6 309.1 L408.0 309.0 L407.4 309.0 L406.8 309.0 L406.2 309.0 L405.6 309.0 L405.0 309.0 L404.4 309.0 L403.8 309.0 L403.2 309.0 L402.6 309.0 L402.0 308.9 L401.4 308.9 L400.8 308.9 L400.2 308.9 L399.6 308.9 L399.0 308.9 L398.4 308.9 L397.8 308.9 L397.2 308.9 L396.6 308.8 L396.0 308.8 L395.4 308.8 L394.8 308.8 L394.2 308.8 L393.6 308.8 L393.0 308.8 L392.4 308.8 L391.8 308.8 L391.2 308.8 L390.6 308.7 L390.0 308.7 L389.4 308.7 L388.8 308.7 L388.2 308.7 L387.6 308.7 L387.0 308.7 L386.4 308.7 L385.8 308.7 L385.2 308.6 L384.6 308.6 L384.0 308.6 L383.4 308.6 L382.8 308.6 Z" fill="#fdce55" fill-opacity="0.85" stroke="none"/>
<path d="M382.8 308.5 L383.4 308.5 L384.0 308.5 L384.6 308.4 L385.2 308.3 L385.8 308.2 L386.4 308.1 L387.0 307.9 L387.6 307.6 L388.2 307.3 L388.8 306.9 L389.4 306.4 L390.0 305.8 L390.6 305.1 L391.2 304.4 L391.8 303.6 L392.4 302.7 L393.0 301.8 L393.6 300.9 L394.2 300.1 L394.8 299.3 L395.4 298.6 L396.0 298.0 L396.6 297.6 L397.2 297.4 L397.8 297.4 L398.4 297.5 L399.0 297.7 L399.6 298.1 L400.2 298.6 L400.8 299.2 L401.4 299.8 L402.0 300.5 L402.6 301.2 L403.2 302.0 L403.8 302.7 L404.4 303.5 L405.0 304.2 L405.6 304.9 L406.2 305.5 L406.8 306.0 L407.4 306.6 L408.0 307.0 L408.6 307.4 L409.2 307.7 L409.8 308.0 L410.4 308.2 L411.0 308.4 L411.6 308.6 L412.2 308.7 L412.8 308.8 L413.4 308.9 L414.0 309.0 L414.6 309.1 L415.2 309.1 L415.8 309.1" fill="none" stroke="#f2ad0c" stroke-width="0.9"/>
<circle cx="258.6" cy="304.2" r="1.3" fill="none" stroke="#acacac" stroke-width="0.6"/>
<circle cx="259.9" cy="304.1" r="1.3" fill="none" stroke="#acacac" stroke-width="0.6"/>
<circle cx="261.3" cy="305.9" r="1.3" fill="none" stroke="#acacac" stroke-width="0.6"/>
<circle cx="262.7" cy="305.5" r="1.3" fill="none" stroke="#acacac" stroke-width="0.6"/>
<circle cx="264.0" cy="306.7" r="1.3" fill="none" stroke="#acacac" stroke-width="0.6"/>
<circle cx="265.4" cy="307.1" r="1.3" fill="none" stroke="#acacac" stroke-width="0.6"/>
<circle cx="266.7" cy="307.3" r="1.3" fill="none" stroke="#acacac" stroke-width="0.6"/>
<circle cx="268.1" cy="307.7" r="1.3" fill="none" stroke="#acacac" stroke-width="0.6"/>
<circle cx="269.4" cy="306.9" r="1.3" fill="none" stroke="#acacac" stroke-width="0.6"/>
<circle cx="270.8" cy="306.3" r="1.3" fill="none" stroke="#acacac" stroke-width="0.6"/>
<circle cx="272.1" cy="304.6" r="1.3" fill="none" stroke="#acacac" stroke-width="0.6"/>
<circle cx="273.5" cy="306.2" r="1.3" fill="none" stroke="#acacac" stroke-width="0.6"/>
<circle cx="274.8" cy="305.0" r="1.3" fill="none" stroke="#acacac" stroke-width="0.6"/>
<circle cx="276.2" cy="306.2" r="1.3" fill="none" stroke="#acacac" stroke-width="0.6"/>
<circle cx="277.5" cy="306.3" r="1.3" fill="none" stroke="#acacac" stroke-width="0.6"/>
<circle cx="278.9" cy="307.8" r="1.3" fill="none" stroke="#acacac" stroke-width="0.6"/>
<circle cx="280.2" cy="307.4" r="1.3" fill="none" stroke="#acacac" stroke-width="0.6"/>
<circle cx="281.6" cy="307.6" r="1.3" fill="none" stroke="#acacac" stroke-width="0.6"/>
<circle cx="282.9" cy="307.1" r="1.3" fill="none" stroke="#acacac" stroke-width="0.6"/>
<circle cx="284.3" cy="305.8" r="1.3" fill="none" stroke="#acacac" stroke-width="0.6"/>
<circle cx="285.6" cy="305.0" r="1.3" fill="none" stroke="#acacac" stroke-width="0.6"/>
<circle cx="287.0" cy="304.5" r="1.3" fill="none" stroke="#acacac" stroke-width="0.6"/>
<circle cx="288.3" cy="303.8" r="1.3" fill="none" stroke="#acacac" stroke-width="0.6"/>
<circle cx="289.7" cy="302.8" r="1.3" fill="none" stroke="#acacac" stroke-width="0.6"/>
<circle cx="291.0" cy="305.0" r="1.3" fill="none" stroke="#acacac" stroke-width="0.6"/>
<circle cx="292.4" cy="302.8" r="1.3" fill="none" stroke="#acacac" stroke-width="0.6"/>
<circle cx="293.7" cy="303.8" r="1.3" fill="none" stroke="#acacac" stroke-width="0.6"/>
<circle cx="295.1" cy="306.5" r="1.3" fill="none" stroke="#acacac" stroke-width="0.6"/>
<circle cx="296.4" cy="305.1" r="1.3" fill="none" stroke="#acacac" stroke-width="0.6"/>
<circle cx="297.8" cy="306.7" r="1.3" fill="none" stroke="#acacac" stroke-width="0.6"/>
<circle cx="299.1" cy="307.0" r="1.3" fill="none" stroke="#acacac" stroke-width="0.6"/>
<circle cx="300.5" cy="306.5" r="1.3" fill="none" stroke="#acacac" stroke-width="0.6"/>
<circle cx="301.8" cy="305.6" r="1.3" fill="none" stroke="#acacac" stroke-width="0.6"/>
<circle cx="303.2" cy="305.3" r="1.3" fill="none" stroke="#acacac" stroke-width="0.6"/>
<circle cx="304.5" cy="306.1" r="1.3" fill="none" stroke="#acacac" stroke-width="0.6"/>
<circle cx="305.9" cy="306.1" r="1.3" fill="none" stroke="#acacac" stroke-width="0.6"/>
<circle cx="307.2" cy="304.0" r="1.3" fill="none" stroke="#acacac" stroke-width="0.6"/>
<circle cx="308.6" cy="305.6" r="1.3" fill="none" stroke="#acacac" stroke-width="0.6"/>
<circle cx="309.9" cy="305.2" r="1.3" fill="none" stroke="#acacac" stroke-width="0.6"/>
<circle cx="311.3" cy="306.5" r="1.3" fill="none" stroke="#acacac" stroke-width="0.6"/>
<circle cx="312.6" cy="306.3" r="1.3" fill="none" stroke="#acacac" stroke-width="0.6"/>
<circle cx="314.0" cy="306.0" r="1.3" fill="none" stroke="#acacac" stroke-width="0.6"/>
<circle cx="315.3" cy="306.5" r="1.3" fill="none" stroke="#acacac" stroke-width="0.6"/>
<circle cx="316.7" cy="307.1" r="1.3" fill="none" stroke="#acacac" stroke-width="0.6"/>
<circle cx="318.0" cy="308.2" r="1.3" fill="none" stroke="#acacac" stroke-width="0.6"/>
<circle cx="319.4" cy="309.4" r="1.3" fill="none" stroke="#acacac" stroke-width="0.6"/>
<circle cx="320.7" cy="307.3" r="1.3" fill="none" stroke="#acacac" stroke-width="0.6"/>
<circle cx="322.1" cy="306.9" r="1.3" fill="none" stroke="#acacac" stroke-width="0.6"/>
<circle cx="323.4" cy="307.0" r="1.3" fill="none" stroke="#acacac" stroke-width="0.6"/>
<circle cx="324.8" cy="306.2" r="1.3" fill="none" stroke="#acacac" stroke-width="0.6"/>
<circle cx="326.1" cy="306.4" r="1.3" fill="none" stroke="#acacac" stroke-width="0.6"/>
<circle cx="327.5" cy="305.9" r="1.3" fill="none" stroke="#acacac" stroke-width="0.6"/>
<circle cx="328.8" cy="305.2" r="1.3" fill="none" stroke="#acacac" stroke-width="0.6"/>
<circle cx="330.2" cy="304.1" r="1.3" fill="none" stroke="#acacac" stroke-width="0.6"/>
<circle cx="331.5" cy="304.5" r="1.3" fill="none" stroke="#acacac" stroke-width="0.6"/>
<circle cx="332.9" cy="305.0" r="1.3" fill="none" stroke="#acacac" stroke-width="0.6"/>
<circle cx="334.2" cy="304.8" r="1.3" fill="none" stroke="#acacac" stroke-width="0.6"/>
<circle cx="335.6" cy="306.4" r="1.3" fill="none" stroke="#acacac" stroke-width="0.6"/>
<circle cx="336.9" cy="306.7" r="1.3" fill="none" stroke="#acacac" stroke-width="0.6"/>
<circle cx="338.3" cy="306.5" r="1.3" fill="none" stroke="#acacac" stroke-width="0.6"/>
<circle cx="339.6" cy="308.3" r="1.3" fill="none" stroke="#acacac" stroke-width="0.6"/>
<circle cx="341.0" cy="306.4" r="1.3" fill="none" stroke="#acacac" stroke-width="0.6"/>
<circle cx="342.3" cy="307.9" r="1.3" fill="none" stroke="#acacac" stroke-width="0.6"/>
<circle cx="343.7" cy="307.9" r="1.3" fill="none" stroke="#acacac" stroke-width="0.6"/>
<circle cx="345.0" cy="305.7" r="1.3" fill="none" stroke="#acacac" stroke-width="0.6"/>
<circle cx="346.4" cy="305.1" r="1.3" fill="none" stroke="#acacac" stroke-width="0.6"/>
<circle cx="347.7" cy="305.2" r="1.3" fill="none" stroke="#acacac" stroke-width="0.6"/>
<circle cx="349.1" cy="305.0" r="1.3" fill="none" stroke="#acacac" stroke-width="0.6"/>
<circle cx="350.4" cy="303.6" r="1.3" fill="none" stroke="#acacac" stroke-width="0.6"/>
<circle cx="351.8" cy="302.8" r="1.3" fill="none" stroke="#acacac" stroke-width="0.6"/>
<circle cx="353.1" cy="302.5" r="1.3" fill="none" stroke="#acacac" stroke-width="0.6"/>
<circle cx="354.5" cy="301.2" r="1.3" fill="none" stroke="#acacac" stroke-width="0.6"/>
<circle cx="355.8" cy="299.1" r="1.3" fill="none" stroke="#acacac" stroke-width="0.6"/>
<circle cx="357.2" cy="298.7" r="1.3" fill="none" stroke="#acacac" stroke-width="0.6"/>
<circle cx="358.5" cy="297.4" r="1.3" fill="none" stroke="#acacac" stroke-width="0.6"/>
<circle cx="359.9" cy="294.7" r="1.3" fill="none" stroke="#acacac" stroke-width="0.6"/>
<circle cx="361.2" cy="294.4" r="1.3" fill="none" stroke="#acacac" stroke-width="0.6"/>
<circle cx="362.6" cy="291.7" r="1.3" fill="none" stroke="#acacac" stroke-width="0.6"/>
<circle cx="363.9" cy="290.7" r="1.3" fill="none" stroke="#acacac" stroke-width="0.6"/>
<circle cx="365.3" cy="287.0" r="1.3" fill="none" stroke="#acacac" stroke-width="0.6"/>
<circle cx="366.6" cy="285.2" r="1.3" fill="none" stroke="#acacac" stroke-width="0.6"/>
<circle cx="368.0" cy="282.7" r="1.3" fill="none" stroke="#acacac" stroke-width="0.6"/>
<circle cx="369.3" cy="282.6" r="1.3" fill="none" stroke="#acacac" stroke-width="0.6"/>
<circle cx="370.7" cy="280.8" r="1.3" fill="none" stroke="#acacac" stroke-width="0.6"/>
<circle cx="372.0" cy="279.4" r="1.3" fill="none" stroke="#acacac" stroke-width="0.6"/>
<circle cx="373.4" cy="278.4" r="1.3" fill="none" stroke="#acacac" stroke-width="0.6"/>
<circle cx="374.7" cy="277.4" r="1.3" fill="none" stroke="#acacac" stroke-width="0.6"/>
<circle cx="376.1" cy="277.4" r="1.3" fill="none" stroke="#acacac" stroke-width="0.6"/>
<circle cx="377.4" cy="276.0" r="1.3" fill="none" stroke="#acacac" stroke-width="0.6"/>
<circle cx="378.8" cy="278.3" r="1.3" fill="none" stroke="#acacac" stroke-width="0.6"/>
<circle cx="380.1" cy="279.1" r="1.3" fill="none" stroke="#acacac" stroke-width="0.6"/>
<circle cx="381.5" cy="280.8" r="1.3" fill="none" stroke="#acacac" stroke-width="0.6"/>
<circle cx="382.8" cy="281.8" r="1.3" fill="none" stroke="#acacac" stroke-width="0.6"/>
<circle cx="384.2" cy="285.5" r="1.3" fill="none" stroke="#acacac" stroke-width="0.6"/>
<circle cx="385.5" cy="286.5" r="1.3" fill="none" stroke="#acacac" stroke-width="0.6"/>
<circle cx="386.9" cy="287.2" r="1.3" fill="none" stroke="#acacac" stroke-width="0.6"/>
<circle cx="388.2" cy="290.6" r="1.3" fill="none" stroke="#acacac" stroke-width="0.6"/>
<circle cx="389.6" cy="291.8" r="1.3" fill="none" stroke="#acacac" stroke-width="0.6"/>
<circle cx="390.9" cy="292.3" r="1.3" fill="none" stroke="#acacac" stroke-width="0.6"/>
<circle cx="392.3" cy="293.4" r="1.3" fill="none" stroke="#acacac" stroke-width="0.6"/>
<circle cx="393.6" cy="292.9" r="1.3" fill="none" stroke="#acacac" stroke-width="0.6"/>
<circle cx="395.0" cy="291.2" r="1.3" fill="none" stroke="#acacac" stroke-width="0.6"/>
<circle cx="396.3" cy="291.1" r="1.3" fill="none" stroke="#acacac" stroke-width="0.6"/>
<circle cx="397.7" cy="292.1" r="1.3" fill="none" stroke="#acacac" stroke-width="0.6"/>
<circle cx="399.0" cy="292.1" r="1.3" fill="none" stroke="#acacac" stroke-width="0.6"/>
<circle cx="400.4" cy="292.5" r="1.3" fill="none" stroke="#acacac" stroke-width="0.6"/>
<circle cx="401.7" cy="292.5" r="1.3" fill="none" stroke="#acacac" stroke-width="0.6"/>
<circle cx="403.1" cy="294.5" r="1.3" fill="none" stroke="#acacac" stroke-width="0.6"/>
<circle cx="404.4" cy="296.9" r="1.3" fill="none" stroke="#acacac" stroke-width="0.6"/>
<circle cx="405.8" cy="299.5" r="1.3" fill="none" stroke="#acacac" stroke-width="0.6"/>
<circle cx="407.1" cy="300.6" r="1.3" fill="none" stroke="#acacac" stroke-width="0.6"/>
<circle cx="408.5" cy="302.6" r="1.3" fill="none" stroke="#acacac" stroke-width="0.6"/>
<circle cx="409.8" cy="306.1" r="1.3" fill="none" stroke="#acacac" stroke-width="0.6"/>
<circle cx="411.2" cy="306.6" r="1.3" fill="none" stroke="#acacac" stroke-width="0.6"/>
<circle cx="412.5" cy="307.0" r="1.3" fill="none" stroke="#acacac" stroke-width="0.6"/>
<circle cx="413.9" cy="306.9" r="1.3" fill="none" stroke="#acacac" stroke-width="0.6"/>
<circle cx="415.2" cy="306.8" r="1.3" fill="none" stroke="#acacac" stroke-width="0.6"/>
<circle cx="416.6" cy="308.2" r="1.3" fill="none" stroke="#acacac" stroke-width="0.6"/>
<circle cx="417.9" cy="307.8" r="1.3" fill="none" stroke="#acacac" stroke-width="0.6"/>
<circle cx="419.3" cy="307.1" r="1.3" fill="none" stroke="#acacac" stroke-width="0.6"/>
<circle cx="420.6" cy="306.9" r="1.3" fill="none" stroke="#acacac" stroke-width="0.6"/>
<circle cx="422.0" cy="309.6" r="1.3" fill="none" stroke="#acacac" stroke-width="0.6"/>
<circle cx="423.3" cy="310.0" r="1.3" fill="none" stroke="#acacac" stroke-width="0.6"/>
<circle cx="424.7" cy="310.0" r="1.3" fill="none" stroke="#acacac" stroke-width="0.6"/>
<circle cx="426.0" cy="309.8" r="1.3" fill="none" stroke="#acacac" stroke-width="0.6"/>
<path d="M257.4 306.4 L258.0 306.4 L258.6 306.4 L259.2 306.4 L259.8 306.4 L260.4 306.5 L261.0 306.5 L261.6 306.5 L262.2 306.5 L262.8 306.5 L263.4 306.5 L264.0 306.5 L264.6 306.5 L265.2 306.5 L265.8 306.5 L266.4 306.6 L267.0 306.6 L267.6 306.6 L268.2 306.6 L268.8 306.6 L269.4 306.6 L270.0 306.6 L270.6 306.6 L271.2 306.6 L271.8 306.7 L272.4 306.7 L273.0 306.7 L273.6 306.7 L274.2 306.7 L274.8 306.7 L275.4 306.7 L276.0 306.7 L276.6 306.7 L277.2 306.7 L277.8 306.8 L278.4 306.8 L279.0 306.8 L279.6 306.8 L280.2 306.8 L280.8 306.8 L281.4 306.8 L282.0 306.8 L282.6 306.8 L283.2 306.9 L283.8 306.9 L284.4 306.9 L285.0 306.9 L285.6 306.9 L286.2 306.9 L286.8 306.9 L287.4 306.9 L288.0 306.9 L288.6 306.9 L289.2 307.0 L289.8 307.0 L290.4 307.0 L291.0 307.0 L291.6 307.0 L292.2 307.0 L292.8 307.0 L293.4 307.0 L294.0 307.0 L294.6 307.1 L295.2 307.1 L295.8 307.1 L296.4 307.1 L297.0 307.1 L297.6 307.1 L298.2 307.1 L298.8 307.1 L299.4 307.1 L300.0 307.1 L300.6 307.2 L301.2 307.2 L301.8 307.2 L302.4 307.2 L303.0 307.2 L303.6 307.2 L304.2 307.2 L304.8 307.2 L305.4 307.2 L306.0 307.3 L306.6 307.3 L307.2 307.3 L307.8 307.3 L308.4 307.3 L309.0 307.3 L309.6 307.3 L310.2 307.3 L310.8 307.3 L311.4 307.4 L312.0 307.4 L312.6 307.4 L313.2 307.4 L313.8 307.4 L314.4 307.4 L315.0 307.4 L315.6 307.4 L316.2 307.4 L316.8 307.4 L317.4 307.5 L318.0 307.5 L318.6 307.5 L319.2 307.5 L319.8 307.5 L320.4 307.5 L321.0 307.5 L321.6 307.5 L322.2 307.5 L322.8 307.6 L323.4 307.6 L324.0 307.6 L324.6 307.6 L325.2 307.6 L325.8 307.6 L326.4 307.6 L327.0 307.6 L327.6 307.6 L328.2 307.6 L328.8 307.7 L329.4 307.7 L330.0 307.7 L330.6 307.7 L331.2 307.7 L331.8 307.7 L332.4 307.7 L333.0 307.7 L333.6 307.7 L334.2 307.7 L334.8 307.7 L335.4 307.7 L336.0 307.7 L336.6 307.8 L337.2 307.8 L337.8 307.8 L338.4 307.8 L339.0 307.7 L339.6 307.7 L340.2 307.7 L340.8 307.7 L341.4 307.7 L342.0 307.7 L342.6 307.6 L343.2 307.6 L343.8 307.6 L344.4 307.5 L345.0 307.4 L345.6 307.4 L346.2 307.3 L346.8 307.2 L347.4 307.1 L348.0 306.9 L348.6 306.8 L349.2 306.6 L349.8 306.4 L350.4 306.2 L351.0 306.0 L351.6 305.7 L352.2 305.5 L352.8 305.1 L353.4 304.8 L354.0 304.4 L354.6 304.0 L355.2 303.5 L355.8 303.0 L356.4 302.5 L357.0 301.9 L357.6 301.3 L358.2 300.7 L358.8 300.0 L359.4 299.2 L360.0 298.5 L360.6 297.7 L361.2 296.8 L361.8 296.0 L362.4 295.1 L363.0 294.1 L363.6 293.2 L364.2 292.2 L364.8 291.3 L365.4 290.3 L366.0 289.3 L366.6 288.3 L367.2 287.3 L367.8 286.4 L368.4 285.5 L369.0 284.6 L369.6 283.7 L370.2 282.9 L370.8 282.2 L371.4 281.5 L372.0 280.8 L372.6 280.3 L373.2 279.8 L373.8 279.3 L374.4 279.0 L375.0 278.7 L375.6 278.6 L376.2 278.5 L376.8 278.5 L377.4 278.6 L378.0 278.9 L378.6 279.3 L379.2 279.7 L379.8 280.3 L380.4 281.0 L381.0 281.7 L381.6 282.6 L382.2 283.5 L382.8 284.5 L383.4 285.5 L384.0 286.5 L384.6 287.6 L385.2 288.6 L385.8 289.7 L386.4 290.6 L387.0 291.6 L387.6 292.4 L388.2 293.2 L388.8 293.9 L389.4 294.4 L390.0 294.9 L390.6 295.2 L391.2 295.3 L391.8 295.4 L392.4 295.3 L393.0 295.2 L393.6 295.0 L394.2 294.8 L394.8 294.6 L395.4 294.4 L396.0 294.4 L396.6 294.4 L397.2 294.6 L397.8 294.9 L398.4 295.4 L399.0 295.9 L399.6 296.6 L400.2 297.3 L400.8 298.0 L401.4 298.8 L402.0 299.7 L402.6 300.5 L403.2 301.4 L403.8 302.3 L404.4 303.1 L405.0 303.9 L405.6 304.6 L406.2 305.3 L406.8 305.9 L407.4 306.4 L408.0 306.9 L408.6 307.3 L409.2 307.6 L409.8 307.9 L410.4 308.2 L411.0 308.4 L411.6 308.6 L412.2 308.7 L412.8 308.8 L413.4 308.9 L414.0 309.0 L414.6 309.0 L415.2 309.1 L415.8 309.1 L416.4 309.2 L417.0 309.2 L417.6 309.2 L418.2 309.2 L418.8 309.2 L419.4 309.2 L420.0 309.3 L420.6 309.3 L421.2 309.3 L421.8 309.3 L422.4 309.3 L423.0 309.3 L423.6 309.3 L424.2 309.3 L424.8 309.3 L425.4 309.4 L426.0 309.4 L426.6 309.4 L427.2 309.4 L427.8 309.4" fill="none" stroke="#7a7a7a" stroke-width="1.6" stroke-linejoin="round" stroke-linecap="round" />
<line x1="257.40" y1="6.30" x2="427.90" y2="6.30" stroke="#7a7a7a" stroke-width="1.3"/>
<line x1="257.40" y1="6.30" x2="257.40" y2="319.30" stroke="#9a9a9a" stroke-width="1.4"/>
<line x1="427.90" y1="6.30" x2="427.90" y2="319.30" stroke="#9a9a9a" stroke-width="1.3"/>
<line x1="257.40" y1="319.30" x2="427.90" y2="319.30" stroke="#3a3a3a" stroke-width="1.1"/>
<line x1="257.60" y1="319.30" x2="257.60" y2="322.10" stroke="#3a3a3a" stroke-width="0.9"/>
<text x="257.60" y="333.30" font-size="10.9" text-anchor="middle" font-weight="normal" fill="#1a1a1a" stroke="#1a1a1a" >174</text>
<line x1="289.36" y1="319.30" x2="289.36" y2="322.10" stroke="#3a3a3a" stroke-width="0.9"/>
<text x="289.36" y="333.30" font-size="10.9" text-anchor="middle" font-weight="normal" fill="#1a1a1a" stroke="#1a1a1a" >171</text>
<line x1="321.12" y1="319.30" x2="321.12" y2="322.10" stroke="#3a3a3a" stroke-width="0.9"/>
<text x="321.12" y="333.30" font-size="10.9" text-anchor="middle" font-weight="normal" fill="#1a1a1a" stroke="#1a1a1a" >168</text>
<line x1="352.88" y1="319.30" x2="352.88" y2="322.10" stroke="#3a3a3a" stroke-width="0.9"/>
<text x="352.88" y="333.30" font-size="10.9" text-anchor="middle" font-weight="normal" fill="#1a1a1a" stroke="#1a1a1a" >165</text>
<line x1="384.64" y1="319.30" x2="384.64" y2="322.10" stroke="#3a3a3a" stroke-width="0.9"/>
<text x="384.64" y="333.30" font-size="10.9" text-anchor="middle" font-weight="normal" fill="#1a1a1a" stroke="#1a1a1a" >162</text>
<line x1="416.41" y1="319.30" x2="416.41" y2="322.10" stroke="#3a3a3a" stroke-width="0.9"/>
<text x="416.41" y="333.30" font-size="10.9" text-anchor="middle" font-weight="normal" fill="#1a1a1a" stroke="#1a1a1a" >159</text>
<line x1="273.48" y1="319.30" x2="273.48" y2="320.70" stroke="#3a3a3a" stroke-width="0.9"/>
<line x1="305.24" y1="319.30" x2="305.24" y2="320.70" stroke="#3a3a3a" stroke-width="0.9"/>
<line x1="337.00" y1="319.30" x2="337.00" y2="320.70" stroke="#3a3a3a" stroke-width="0.9"/>
<line x1="368.76" y1="319.30" x2="368.76" y2="320.70" stroke="#3a3a3a" stroke-width="0.9"/>
<line x1="400.52" y1="319.30" x2="400.52" y2="320.70" stroke="#3a3a3a" stroke-width="0.9"/>
<text x="342.50" y="351.50" font-size="10.9" text-anchor="middle" font-weight="normal" fill="#1a1a1a" stroke="#1a1a1a" >Binding energy (eV)</text>
<text transform="translate(250.3 151) rotate(-90)" font-size="10.9" text-anchor="middle" fill="#1a1a1a" stroke="#1a1a1a">Intensity (a.u.)</text>
<text x="259.50" y="38.30" font-size="10.9" text-anchor="start" font-weight="normal" fill="#1a1a1a" stroke="#1a1a1a" >100%</text>
<text x="259.50" y="90.40" font-size="10.9" text-anchor="start" font-weight="normal" fill="#1a1a1a" stroke="#1a1a1a" >80%</text>
<text x="259.50" y="142.40" font-size="10.9" text-anchor="start" font-weight="normal" fill="#1a1a1a" stroke="#1a1a1a" >60%</text>
<text x="259.50" y="195.00" font-size="10.9" text-anchor="start" font-weight="normal" fill="#1a1a1a" stroke="#1a1a1a" >40%</text>
<text x="259.50" y="246.00" font-size="10.9" text-anchor="start" font-weight="normal" fill="#1a1a1a" stroke="#1a1a1a" >20%</text>
<text x="260.70" y="298.00" font-size="10.9" text-anchor="start" font-weight="normal" fill="#1a1a1a" stroke="#1a1a1a" >0%</text>
<text x="293.00" y="19.60" font-size="10.9" text-anchor="start" font-weight="normal" fill="#1a1a1a" stroke="#1a1a1a" >SO<tspan font-size="7" dy="2.6" dx="0.3">x</tspan><tspan font-size="7" dx="-4.6" dy="-7.2">2-</tspan></text>
<text x="293.60" y="70.70" font-size="10.9" text-anchor="start" font-weight="normal" fill="#1a1a1a" stroke="#1a1a1a" >SO<tspan font-size="7" dy="2.6" dx="0.3">x</tspan><tspan font-size="7" dx="-4.6" dy="-7.2">2-</tspan></text>
<text x="293.60" y="121.20" font-size="10.9" text-anchor="start" font-weight="normal" fill="#1a1a1a" stroke="#1a1a1a" >SO<tspan font-size="7" dy="2.6" dx="0.3">x</tspan><tspan font-size="7" dx="-4.6" dy="-7.2">2-</tspan></text>
<text x="293.60" y="183.20" font-size="10.9" text-anchor="start" font-weight="normal" fill="#1a1a1a" stroke="#1a1a1a" >SO<tspan font-size="7" dy="2.6" dx="0.3">x</tspan><tspan font-size="7" dx="-4.6" dy="-7.2">2-</tspan></text>
<text x="384.50" y="91.20" font-size="10.9" text-anchor="start" font-weight="normal" fill="#1a1a1a" stroke="#1a1a1a" >S<tspan font-size="6.6" dy="1.9">8</tspan></text>
<text x="385.80" y="133.20" font-size="10.9" text-anchor="start" font-weight="normal" fill="#1a1a1a" stroke="#1a1a1a" >S<tspan font-size="6.6" dy="1.9">8</tspan></text>
<text x="385.80" y="169.00" font-size="10.9" text-anchor="start" font-weight="normal" fill="#1a1a1a" stroke="#1a1a1a" >S<tspan font-size="6.6" dy="1.9">8</tspan></text>
<text x="384.50" y="228.70" font-size="10.9" text-anchor="start" font-weight="normal" fill="#1a1a1a" stroke="#1a1a1a" >S<tspan font-size="6.6" dy="1.9">8</tspan></text>
<text x="384.80" y="279.00" font-size="10.9" text-anchor="start" font-weight="normal" fill="#1a1a1a" stroke="#1a1a1a" >S<tspan font-size="6.6" dy="1.9">8</tspan></text>
<text x="401.40" y="20.80" font-size="10.9" text-anchor="start" font-weight="normal" fill="#1a1a1a" stroke="#1a1a1a" >S 2<tspan font-style="italic">p</tspan></text>
<text x="460.30" y="12.30" font-size="15" text-anchor="start" font-weight="bold" fill="#000" stroke="#000" >d</text>
<path d="M484.0 63.4 L485.3 63.4 L486.9 63.4 L488.8 63.4 L490.8 63.4 L493.1 63.4 L495.6 63.4 L498.1 63.4 L500.8 63.4 L503.4 63.4 L506.1 63.4 L508.7 63.4 L511.3 63.4 L513.7 63.3 L516.0 63.3 L518.1 63.3 L520.0 63.3 L521.7 63.3 L523.4 63.3 L524.9 63.2 L526.4 63.2 L527.9 63.2 L529.2 63.2 L530.5 63.2 L531.8 63.1 L533.0 63.1 L534.1 63.1 L535.2 63.0 L536.3 63.0 L537.3 63.0 L538.2 62.9 L539.1 62.9 L540.0 62.8 L540.8 62.7 L541.5 62.6 L542.2 62.5 L542.8 62.4 L543.3 62.3 L543.8 62.2 L544.2 62.1 L544.6 61.9 L545.0 61.8 L545.3 61.7 L545.7 61.6 L546.0 61.5 L546.3 61.4 L546.7 61.4 L547.0 61.3 L547.4 61.3 L547.8 61.3 L548.1 61.4 L548.5 61.4 L548.8 61.5 L549.2 61.6 L549.5 61.8 L549.8 61.9 L550.1 62.0 L550.4 62.2 L550.7 62.3 L551.0 62.4 L551.3 62.6 L551.6 62.6 L551.9 62.7 L552.2 62.8 L552.5 62.8 L552.8 62.8 L553.2 62.8 L553.5 62.8 L553.8 62.7 L554.2 62.7 L554.5 62.6 L554.9 62.6 L555.2 62.5 L555.6 62.4 L555.9 62.3 L556.3 62.2 L556.6 62.1 L557.0 61.9 L557.3 61.8 L557.7 61.7 L558.0 61.5 L558.3 61.4 L558.7 61.2 L559.1 61.2 L559.4 61.1 L559.8 61.0 L560.1 60.9 L560.5 60.8 L560.8 60.7 L561.2 60.5 L561.5 60.3 L561.9 60.1 L562.2 59.8 L562.5 59.4 L562.8 59.0 L563.1 58.4 L563.4 57.8 L563.7 57.1 L563.9 56.2 L564.1 55.2 L564.4 54.2 L564.6 53.0 L564.8 51.8 L565.0 50.6 L565.1 49.3 L565.3 48.0 L565.5 46.7 L565.7 45.4 L565.8 44.2 L566.0 43.0 L566.2 41.9 L566.3 40.9 L566.5 40.0 L566.7 39.1 L566.8 38.3 L567.0 37.4 L567.1 36.5 L567.3 35.7 L567.4 34.9 L567.5 34.1 L567.7 33.4 L567.8 32.7 L567.9 32.1 L568.0 31.5 L568.2 31.1 L568.3 30.7 L568.4 30.4 L568.6 30.3 L568.7 30.2 L568.8 30.3 L569.0 30.5 L569.1 30.8 L569.3 31.2 L569.4 31.7 L569.6 32.3 L569.7 33.0 L569.9 33.7 L570.0 34.5 L570.2 35.3 L570.3 36.1 L570.4 36.9 L570.6 37.7 L570.7 38.5 L570.9 39.3 L571.0 40.0 L571.1 40.7 L571.3 41.5 L571.4 42.3 L571.5 43.1 L571.6 43.9 L571.7 44.8 L571.8 45.6 L572.0 46.5 L572.1 47.3 L572.2 48.1 L572.3 48.9 L572.4 49.6 L572.6 50.3 L572.7 51.0 L572.8 51.5 L573.0 52.0 L573.1 52.4 L573.3 52.8 L573.4 53.1 L573.5 53.3 L573.7 53.5 L573.8 53.7 L573.9 53.9 L574.1 54.0 L574.2 54.0 L574.4 54.1 L574.6 54.1 L574.8 54.2 L575.1 54.2 L575.3 54.2 L575.6 54.2 L576.0 54.2 L576.4 54.2 L576.8 54.2 L577.3 54.2 L577.8 54.2 L578.3 54.1 L578.9 54.1 L579.5 54.0 L580.1 53.9 L580.7 53.8 L581.3 53.7 L581.9 53.5 L582.5 53.4 L583.2 53.2 L583.8 53.0 L584.4 52.7 L585.0 52.5 L585.6 52.2 L586.2 51.9 L586.8 51.6 L587.4 51.2 L588.1 50.8 L588.7 50.4 L589.3 49.9 L590.0 49.5 L590.6 49.0 L591.3 48.6 L591.9 48.1 L592.5 47.7 L593.2 47.2 L593.8 46.8 L594.4 46.4 L595.0 46.0 L595.6 45.6 L596.2 45.2 L596.8 44.8 L597.4 44.3 L598.0 43.9 L598.6 43.5 L599.1 43.0 L599.7 42.6 L600.3 42.2 L600.9 41.8 L601.5 41.5 L602.0 41.2 L602.6 40.9 L603.2 40.6 L603.7 40.4 L604.3 40.3 L604.8 40.2 L605.3 40.2 L605.8 40.2 L606.2 40.3 L606.6 40.4 L607.0 40.6 L607.4 40.7 L607.9 40.9 L608.3 41.1 L608.8 41.3 L609.3 41.5 L609.9 41.7 L610.6 41.9 L611.3 42.1 L612.1 42.2 L613.0 42.3 L614.0 42.4 L615.1 42.4 L616.3 42.5 L617.5 42.5 L618.9 42.5 L620.2 42.5 L621.7 42.5 L623.1 42.6 L624.6 42.6 L626.1 42.6 L627.6 42.6 L629.1 42.6 L630.6 42.6 L632.1 42.6 L633.6 42.6 L635.0 42.6 L636.5 42.6 L638.0 42.6 L639.6 42.7 L641.2 42.7 L642.9 42.7 L644.6 42.7 L646.2 42.7 L647.9 42.8 L649.5 42.8 L651.0 42.8 L652.5 42.8 L653.8 42.8 L655.1 42.9 L656.2 42.9 L657.2 42.9 L658.0 42.9" fill="none" stroke="#3f6db7" stroke-width="1.6" stroke-linejoin="round" stroke-linecap="round" />
<path d="M484.0 92.0 L485.3 91.9 L486.9 91.9 L488.8 91.6 L490.9 92.3 L493.2 92.2 L495.6 92.0 L498.2 92.1 L500.8 92.1 L503.5 92.0 L506.2 92.2 L508.8 92.0 L511.4 92.0 L513.8 91.9 L516.1 92.1 L518.2 92.0 L520.0 92.1 L521.7 91.9 L523.2 92.0 L524.7 91.9 L526.1 92.1 L527.5 92.0 L528.7 92.0 L529.9 92.1 L531.1 91.8 L532.1 92.1 L533.2 92.3 L534.2 91.7 L535.1 91.6 L536.0 91.6 L536.9 91.9 L537.8 91.6 L538.6 91.7 L539.4 91.4 L540.1 91.2 L540.8 90.9 L541.4 90.6 L541.9 90.4 L542.5 89.8 L542.9 89.6 L543.4 89.3 L543.8 89.2 L544.2 88.6 L544.6 88.2 L544.9 88.0 L545.3 88.1 L545.7 87.7 L546.1 87.8 L546.5 87.3 L546.9 87.8 L547.3 87.9 L547.6 87.7 L548.0 88.1 L548.3 88.5 L548.6 88.7 L548.9 89.1 L549.2 89.6 L549.5 89.6 L549.9 89.9 L550.2 90.1 L550.5 90.6 L550.8 90.7 L551.2 90.9 L551.6 91.0 L552.0 91.2 L552.4 90.9 L552.9 90.9 L553.4 90.7 L553.9 91.1 L554.5 90.8 L555.0 90.9 L555.6 90.5 L556.1 90.2 L556.7 90.2 L557.2 89.9 L557.7 89.5 L558.2 89.3 L558.7 89.5 L559.2 89.0 L559.6 88.8 L560.0 88.5 L560.4 88.2 L560.7 88.2 L561.0 87.9 L561.3 87.6 L561.6 87.5 L561.8 87.2 L562.0 87.2 L562.3 87.1 L562.5 86.6 L562.7 86.7 L562.9 86.1 L563.1 85.9 L563.2 85.3 L563.4 85.0 L563.6 84.6 L563.8 83.9 L564.0 83.3 L564.2 82.6 L564.3 81.8 L564.5 80.9 L564.6 80.2 L564.7 79.4 L564.9 78.6 L565.0 77.6 L565.1 76.9 L565.2 75.6 L565.4 74.5 L565.5 73.9 L565.6 72.5 L565.7 71.9 L565.9 70.7 L566.0 70.1 L566.1 68.8 L566.3 68.4 L566.4 67.2 L566.6 66.1 L566.7 65.5 L566.9 64.3 L567.0 63.2 L567.2 62.2 L567.3 61.3 L567.5 60.5 L567.6 59.9 L567.8 59.2 L567.9 58.5 L568.1 58.1 L568.2 57.8 L568.4 57.6 L568.6 57.8 L568.7 58.1 L568.9 58.7 L569.0 59.3 L569.2 59.6 L569.3 60.6 L569.5 61.3 L569.6 62.6 L569.8 63.2 L569.9 64.3 L570.1 65.1 L570.2 66.1 L570.4 67.3 L570.5 68.2 L570.7 69.2 L570.8 69.8 L570.9 71.0 L571.1 71.6 L571.2 73.0 L571.3 73.7 L571.5 74.9 L571.6 75.5 L571.7 76.8 L571.9 77.7 L572.0 78.7 L572.1 79.8 L572.3 80.6 L572.4 81.6 L572.5 82.4 L572.7 83.1 L572.8 83.7 L573.0 84.0 L573.2 84.5 L573.3 84.9 L573.4 84.9 L573.6 85.5 L573.7 85.5 L573.8 85.6 L573.9 85.8 L574.1 85.8 L574.2 85.7 L574.4 85.4 L574.6 85.5 L574.8 85.5 L575.1 85.2 L575.3 85.4 L575.6 85.3 L576.0 84.9 L576.4 85.2 L576.8 85.0 L577.3 85.3 L577.8 85.3 L578.3 84.9 L578.8 84.9 L579.4 85.0 L579.9 84.9 L580.5 85.1 L581.1 84.9 L581.8 84.7 L582.4 84.7 L583.0 84.2 L583.7 84.4 L584.3 84.3 L585.0 84.0 L585.7 83.7 L586.4 83.7 L587.1 83.6 L587.9 83.1 L588.7 82.6 L589.5 82.6 L590.3 81.8 L591.1 81.8 L592.0 81.3 L592.8 81.2 L593.5 80.7 L594.3 80.7 L595.0 80.2 L595.7 79.7 L596.4 79.4 L597.0 79.5 L597.5 79.5 L598.0 79.2 L598.4 79.0 L598.8 78.8 L599.1 78.8 L599.4 78.6 L599.7 78.5 L600.0 78.2 L600.3 78.4 L600.6 78.4 L600.9 77.9 L601.3 78.5 L601.8 78.2 L602.4 78.0 L603.0 77.9 L603.7 78.3 L604.5 78.4 L605.4 78.4 L606.4 78.4 L607.4 79.1 L608.5 79.1 L609.6 79.4 L610.8 80.2 L612.0 80.4 L613.3 80.5 L614.5 80.6 L615.8 81.0 L617.0 80.8 L618.2 81.4 L619.5 81.5 L620.6 81.5 L621.8 81.6 L622.9 81.9 L624.1 81.8 L625.2 81.8 L626.3 81.8 L627.5 81.5 L628.6 81.3 L629.8 81.1 L630.9 81.1 L632.0 81.2 L633.2 80.8 L634.3 80.8 L635.5 80.4 L636.6 80.3 L637.7 80.1 L638.9 79.9 L640.0 80.3 L641.2 80.0 L642.4 79.7 L643.6 79.6 L644.9 79.6 L646.2 79.3 L647.6 79.5 L648.9 79.2 L650.1 79.2 L651.4 79.1 L652.6 79.1 L653.7 78.9 L654.8 78.8 L655.7 78.8 L656.6 78.8 L657.4 78.8 L658.0 78.8" fill="none" stroke="#80b2dc" stroke-width="1.6" stroke-linejoin="round" stroke-linecap="round" />
<path d="M484.0 125.9 L485.3 125.0 L486.9 125.6 L488.8 125.4 L490.9 125.4 L493.2 125.5 L495.7 125.1 L498.2 125.5 L500.9 125.4 L503.6 126.2 L506.2 125.6 L508.9 125.5 L511.4 125.5 L513.8 125.5 L516.1 125.4 L518.2 125.5 L520.0 125.7 L521.6 125.6 L523.2 125.8 L524.7 125.6 L526.1 125.7 L527.4 126.0 L528.7 125.8 L529.9 125.6 L531.0 125.7 L532.1 125.8 L533.1 126.1 L534.0 125.6 L534.9 125.6 L535.7 125.8 L536.5 125.4 L537.3 125.4 L538.0 125.5 L538.6 125.3 L539.2 125.0 L539.6 124.9 L540.0 123.9 L540.3 124.4 L540.5 123.8 L540.7 123.3 L540.9 123.4 L541.0 123.2 L541.1 122.7 L541.2 122.2 L541.3 122.1 L541.4 121.8 L541.6 121.8 L541.8 121.4 L542.0 121.0 L542.2 121.0 L542.5 120.4 L542.7 119.9 L542.9 119.9 L543.2 119.6 L543.4 119.1 L543.6 118.7 L543.8 118.6 L544.1 117.7 L544.3 118.1 L544.6 117.8 L544.8 117.2 L545.1 117.4 L545.4 117.1 L545.7 117.4 L546.0 116.8 L546.3 117.1 L546.7 117.6 L547.1 118.0 L547.6 117.6 L548.0 118.4 L548.4 119.0 L548.9 119.2 L549.4 120.1 L549.8 120.0 L550.3 120.8 L550.7 120.9 L551.2 121.7 L551.6 121.7 L552.0 121.8 L552.4 121.6 L552.7 122.2 L553.0 121.9 L553.3 121.7 L553.6 121.5 L553.9 121.0 L554.1 120.4 L554.4 119.9 L554.6 119.4 L554.9 119.3 L555.1 118.1 L555.3 117.7 L555.5 117.2 L555.7 116.6 L555.9 116.0 L556.1 115.0 L556.3 114.3 L556.5 114.0 L556.7 113.6 L556.9 112.7 L557.0 111.7 L557.2 110.7 L557.4 109.9 L557.5 108.8 L557.7 108.0 L557.8 106.7 L558.0 105.9 L558.1 105.0 L558.3 104.3 L558.4 103.5 L558.5 103.3 L558.7 102.6 L558.8 102.2 L559.0 101.3 L559.2 101.6 L559.3 101.7 L559.5 102.3 L559.6 102.2 L559.8 103.5 L559.9 104.2 L560.1 104.5 L560.2 105.4 L560.4 106.2 L560.5 107.1 L560.7 108.0 L560.8 108.9 L561.0 108.9 L561.2 109.5 L561.3 109.6 L561.5 110.0 L561.7 109.6 L561.8 109.4 L562.0 108.5 L562.2 108.1 L562.4 107.3 L562.5 107.0 L562.7 106.1 L562.9 105.0 L563.1 104.1 L563.3 103.4 L563.5 102.3 L563.7 101.4 L563.9 100.9 L564.1 100.6 L564.3 99.3 L564.5 98.7 L564.7 98.0 L565.0 97.4 L565.2 97.2 L565.5 96.6 L565.7 95.9 L566.0 95.4 L566.2 94.7 L566.5 94.2 L566.8 93.4 L567.0 93.2 L567.3 92.9 L567.5 92.5 L567.8 92.3 L568.0 92.1 L568.2 92.2 L568.4 92.6 L568.6 92.6 L568.8 93.0 L568.9 93.7 L569.1 94.3 L569.2 95.2 L569.4 95.2 L569.5 96.6 L569.6 97.3 L569.7 98.3 L569.9 99.4 L570.0 100.3 L570.1 101.2 L570.2 101.9 L570.3 103.0 L570.4 103.3 L570.5 104.0 L570.6 104.7 L570.7 105.0 L570.8 106.1 L570.9 106.4 L571.0 107.1 L571.0 107.1 L571.1 107.5 L571.2 108.1 L571.2 108.6 L571.3 108.8 L571.4 109.4 L571.5 109.7 L571.5 110.3 L571.6 110.2 L571.7 110.9 L571.8 110.9 L571.9 111.1 L571.9 111.4 L571.9 111.6 L571.9 112.1 L571.9 112.4 L571.8 112.5 L571.8 112.7 L571.8 113.1 L571.8 113.0 L571.9 113.1 L572.0 113.1 L572.2 112.9 L572.4 113.5 L572.7 113.1 L573.0 113.7 L573.5 113.6 L574.1 113.9 L574.7 113.7 L575.4 113.6 L576.2 113.9 L577.1 113.7 L578.0 113.8 L579.0 113.9 L580.0 113.8 L581.0 113.8 L582.0 113.6 L583.1 113.7 L584.1 113.3 L585.1 113.6 L586.1 113.3 L587.1 113.6 L588.0 113.6 L588.9 112.8 L589.8 113.0 L590.7 112.7 L591.5 112.2 L592.4 112.2 L593.3 111.7 L594.2 111.1 L595.0 111.1 L595.9 110.8 L596.8 110.5 L597.6 110.0 L598.5 110.1 L599.4 109.9 L600.3 109.3 L601.1 109.3 L602.0 109.4 L602.9 109.3 L603.7 109.9 L604.6 109.7 L605.4 109.6 L606.2 109.9 L607.0 110.3 L607.9 111.1 L608.7 110.9 L609.5 111.2 L610.4 111.6 L611.3 111.8 L612.1 112.5 L613.1 112.2 L614.0 112.6 L615.0 112.6 L616.0 112.8 L617.0 112.5 L618.1 113.1 L619.2 112.7 L620.3 112.6 L621.4 112.3 L622.6 112.2 L623.8 112.4 L624.9 112.3 L626.1 112.1 L627.4 112.0 L628.6 111.8 L629.9 111.5 L631.1 111.5 L632.4 111.3 L633.7 111.1 L635.0 111.1 L636.4 111.2 L637.8 110.9 L639.4 110.7 L641.0 110.9 L642.7 111.0 L644.3 110.6 L646.0 110.5 L647.7 110.5 L649.3 110.7 L650.9 110.0 L652.4 110.4 L653.8 110.6 L655.1 110.1 L656.2 110.6 L657.2 110.3 L658.0 110.1" fill="none" stroke="#a9cde9" stroke-width="1.6" stroke-linejoin="round" stroke-linecap="round" />
<path d="M484.0 162.6 L485.3 162.7 L486.9 163.0 L488.8 162.8 L490.9 162.4 L493.2 162.7 L495.7 162.6 L498.2 162.7 L500.9 162.4 L503.6 162.8 L506.2 162.8 L508.9 163.0 L511.4 162.8 L513.8 162.8 L516.1 162.4 L518.2 163.1 L520.0 162.2 L521.6 162.8 L523.2 162.5 L524.7 162.4 L526.1 162.4 L527.4 162.4 L528.7 162.6 L529.9 162.5 L531.0 162.8 L532.1 162.1 L533.1 162.4 L534.0 162.2 L534.9 162.4 L535.7 161.7 L536.5 161.9 L537.3 161.8 L538.0 161.2 L538.6 161.4 L539.2 160.9 L539.6 160.7 L540.0 160.2 L540.3 159.4 L540.5 158.9 L540.7 158.6 L540.9 158.2 L541.0 157.7 L541.1 156.9 L541.2 156.3 L541.3 155.8 L541.4 155.3 L541.6 154.9 L541.8 154.4 L542.0 154.4 L542.2 153.4 L542.5 153.0 L542.7 152.7 L542.9 151.8 L543.1 151.4 L543.3 151.0 L543.6 150.6 L543.8 149.7 L544.0 149.8 L544.2 149.0 L544.5 148.7 L544.8 148.5 L545.0 148.2 L545.3 148.1 L545.7 147.8 L546.0 147.7 L546.4 147.9 L546.8 147.9 L547.3 148.7 L547.7 148.8 L548.2 149.3 L548.8 150.6 L549.3 150.8 L549.8 151.3 L550.3 152.6 L550.9 152.8 L551.4 153.6 L551.9 153.7 L552.3 154.2 L552.8 154.1 L553.1 154.2 L553.5 154.2 L553.8 154.1 L554.1 153.8 L554.3 153.5 L554.6 152.0 L554.8 151.6 L555.0 150.4 L555.1 149.5 L555.3 148.1 L555.4 147.1 L555.6 146.1 L555.7 144.9 L555.9 144.0 L556.0 142.8 L556.2 142.1 L556.3 140.9 L556.5 140.0 L556.7 139.3 L556.9 138.2 L557.0 137.1 L557.2 136.0 L557.4 134.9 L557.6 134.1 L557.8 132.9 L558.0 131.8 L558.1 130.9 L558.3 129.7 L558.5 129.1 L558.6 128.0 L558.8 128.0 L559.0 127.3 L559.1 127.0 L559.3 127.0 L559.5 127.0 L559.6 127.3 L559.8 128.2 L559.9 128.7 L560.0 129.4 L560.2 130.7 L560.3 131.3 L560.5 133.1 L560.6 133.9 L560.7 135.1 L560.9 136.6 L561.0 137.6 L561.1 138.1 L561.3 139.0 L561.4 139.8 L561.5 140.3 L561.6 140.2 L561.7 140.4 L561.8 140.7 L561.8 140.4 L561.9 140.3 L562.0 140.1 L562.0 139.5 L562.1 139.2 L562.1 138.6 L562.2 138.7 L562.3 138.7 L562.4 138.0 L562.6 138.2 L562.7 138.0 L563.0 137.7 L563.2 137.7 L563.5 137.8 L563.8 137.7 L564.1 138.0 L564.4 138.3 L564.8 138.7 L565.2 139.0 L565.6 139.0 L566.0 139.6 L566.4 139.6 L566.9 140.1 L567.4 140.5 L567.9 140.8 L568.4 141.1 L568.9 141.5 L569.4 141.6 L570.0 141.9 L570.6 142.2 L571.2 142.8 L571.8 142.9 L572.5 143.7 L573.1 143.7 L573.8 143.4 L574.5 144.2 L575.2 145.0 L576.0 145.0 L576.7 145.2 L577.5 145.4 L578.2 146.1 L579.0 146.2 L579.7 146.3 L580.5 146.3 L581.2 146.6 L581.9 146.4 L582.6 145.9 L583.3 146.1 L584.0 145.7 L584.7 145.4 L585.4 145.2 L586.1 144.7 L586.8 143.7 L587.5 144.2 L588.2 143.8 L589.0 143.2 L589.9 142.8 L590.7 142.7 L591.7 142.2 L592.6 142.3 L593.7 142.2 L594.8 142.1 L596.0 142.1 L597.3 142.3 L598.7 142.8 L600.1 143.1 L601.5 143.2 L603.0 143.4 L604.4 143.5 L605.9 144.1 L607.4 144.6 L608.9 144.3 L610.4 145.1 L611.9 144.6 L613.3 145.2 L614.7 145.5 L616.0 145.2 L617.3 145.2 L618.5 145.6 L619.7 145.7 L620.9 145.4 L622.0 145.6 L623.2 145.1 L624.3 145.5 L625.5 145.1 L626.6 144.9 L627.7 144.9 L628.9 144.7 L630.0 144.8 L631.2 144.8 L632.5 144.3 L633.7 144.1 L635.0 143.8 L636.4 143.8 L637.8 143.8 L639.4 143.7 L641.0 143.6 L642.7 143.5 L644.3 143.5 L646.0 143.1 L647.7 143.1 L649.3 143.4 L650.9 143.3 L652.4 142.9 L653.8 143.2 L655.1 142.7 L656.2 142.7 L657.2 142.4 L658.0 142.9" fill="none" stroke="#d6d6d6" stroke-width="1.6" stroke-linejoin="round" stroke-linecap="round" />
<path d="M484.0 196.7 L484.9 196.6 L486.0 196.8 L487.4 196.9 L488.8 197.0 L490.4 196.8 L492.1 196.7 L493.9 196.7 L495.8 196.9 L497.6 197.0 L499.5 196.8 L501.4 196.6 L503.3 196.6 L505.1 197.0 L506.9 196.7 L508.5 196.4 L510.0 196.6 L511.4 196.4 L512.9 196.4 L514.3 196.4 L515.7 196.3 L517.1 196.4 L518.4 196.2 L519.8 196.1 L521.1 196.2 L522.4 196.1 L523.6 195.7 L524.8 195.8 L525.9 195.5 L527.0 195.5 L528.1 195.2 L529.1 195.2 L530.0 195.0 L530.9 194.7 L531.7 194.4 L532.4 194.3 L533.1 194.0 L533.7 193.7 L534.3 193.7 L534.8 193.3 L535.3 193.3 L535.8 193.0 L536.3 192.2 L536.7 192.2 L537.1 191.7 L537.5 191.4 L537.9 191.0 L538.2 190.2 L538.6 190.0 L539.0 189.4 L539.3 188.9 L539.6 187.9 L539.8 187.5 L540.0 186.4 L540.2 185.8 L540.4 184.9 L540.6 184.4 L540.8 183.4 L540.9 182.8 L541.1 181.7 L541.2 181.0 L541.4 180.2 L541.6 179.2 L541.8 178.6 L542.0 178.2 L542.2 177.3 L542.5 176.8 L542.7 176.2 L543.0 175.7 L543.2 175.0 L543.5 174.5 L543.7 174.0 L544.0 173.5 L544.2 172.8 L544.5 172.7 L544.7 171.9 L545.0 171.6 L545.2 171.2 L545.5 171.3 L545.7 170.9 L546.0 170.7 L546.2 170.5 L546.5 170.8 L546.7 170.6 L547.0 170.6 L547.2 171.1 L547.4 171.0 L547.7 171.3 L547.9 171.6 L548.1 171.8 L548.4 172.2 L548.6 172.7 L548.9 172.7 L549.2 172.9 L549.4 173.1 L549.7 173.7 L550.0 173.9 L550.3 174.3 L550.6 174.6 L551.0 174.9 L551.3 175.3 L551.7 175.8 L552.0 176.3 L552.4 176.7 L552.8 177.2 L553.2 177.9 L553.5 178.1 L553.9 178.1 L554.2 178.9 L554.6 179.0 L554.9 179.0 L555.2 179.5 L555.5 179.4 L555.8 179.3 L556.0 179.2 L556.3 179.0 L556.5 178.9 L556.7 178.8 L556.9 178.3 L557.1 178.0 L557.3 177.9 L557.5 177.0 L557.7 176.9 L557.9 176.4 L558.1 175.9 L558.3 175.6 L558.6 175.5 L558.8 175.3 L559.0 174.9 L559.2 174.8 L559.4 174.8 L559.5 174.6 L559.7 174.6 L559.8 174.4 L559.9 174.3 L560.0 174.5 L560.2 174.2 L560.3 174.1 L560.5 174.1 L560.8 173.9 L561.1 173.9 L561.4 174.1 L561.9 174.0 L562.4 174.1 L563.0 173.9 L563.7 173.7 L564.3 174.2 L565.1 174.1 L565.8 173.8 L566.6 174.2 L567.4 174.0 L568.3 173.8 L569.2 174.1 L570.3 174.1 L571.4 174.5 L572.6 174.2 L573.8 174.3 L575.2 174.4 L576.7 174.4 L578.3 174.3 L580.0 174.5 L581.9 174.7 L583.9 174.6 L586.1 174.4 L588.4 174.4 L590.9 174.6 L593.4 174.5 L596.0 174.5 L598.7 174.4 L601.4 174.9 L604.1 174.8 L606.9 174.5 L609.6 174.8 L612.3 174.8 L614.9 174.3 L617.5 174.5 L620.0 174.5 L622.5 174.7 L625.1 174.5 L627.8 174.5 L630.5 174.5 L633.3 174.7 L636.1 174.7 L638.8 174.3 L641.5 174.2 L644.1 174.7 L646.6 174.1 L649.0 174.1 L651.2 174.1 L653.3 174.2 L655.1 174.2 L656.7 174.1 L658.0 173.9" fill="none" stroke="#fdd57f" stroke-width="1.6" stroke-linejoin="round" stroke-linecap="round" />
<path d="M484.0 227.5 L484.9 227.6 L486.0 226.9 L487.4 227.3 L488.8 227.4 L490.4 227.5 L492.1 227.4 L493.9 227.5 L495.8 227.3 L497.6 227.3 L499.5 227.2 L501.4 227.0 L503.3 227.0 L505.1 227.2 L506.9 227.0 L508.5 227.2 L510.0 227.2 L511.4 227.2 L512.9 226.9 L514.3 227.0 L515.7 226.6 L517.1 226.6 L518.4 226.7 L519.8 226.6 L521.1 226.3 L522.4 226.2 L523.6 226.4 L524.8 226.1 L525.9 226.3 L527.0 226.0 L528.1 225.8 L529.1 225.6 L530.0 225.5 L530.9 225.2 L531.7 225.1 L532.4 224.7 L533.1 224.5 L533.7 224.1 L534.3 224.1 L534.8 223.7 L535.3 223.3 L535.8 223.4 L536.3 222.7 L536.7 222.4 L537.1 222.0 L537.5 221.8 L537.9 221.0 L538.2 220.7 L538.6 220.0 L539.0 219.2 L539.3 218.8 L539.6 218.1 L539.8 217.1 L540.0 216.3 L540.2 215.2 L540.4 214.3 L540.6 213.6 L540.8 212.8 L540.9 211.7 L541.1 211.0 L541.2 210.2 L541.4 209.2 L541.6 208.5 L541.8 207.9 L542.0 206.8 L542.2 206.5 L542.5 205.4 L542.7 205.2 L543.0 204.5 L543.2 203.8 L543.5 203.1 L543.7 202.7 L544.0 202.2 L544.2 201.7 L544.5 201.1 L544.7 200.9 L545.0 200.3 L545.2 200.1 L545.5 199.8 L545.7 199.8 L546.0 199.3 L546.2 199.3 L546.5 199.6 L546.7 199.3 L547.0 199.3 L547.2 199.7 L547.4 199.8 L547.7 200.2 L547.9 200.2 L548.1 200.7 L548.4 201.1 L548.6 201.5 L548.9 201.5 L549.2 202.2 L549.4 202.2 L549.7 202.5 L550.0 202.9 L550.3 203.4 L550.6 203.7 L551.0 204.3 L551.3 204.7 L551.7 205.2 L552.0 205.7 L552.4 206.5 L552.8 206.4 L553.2 207.0 L553.5 207.7 L553.9 208.0 L554.2 208.2 L554.6 208.8 L554.9 209.1 L555.2 209.0 L555.5 209.6 L555.8 209.7 L556.0 209.6 L556.3 209.2 L556.5 209.1 L556.7 208.6 L556.9 208.5 L557.1 208.0 L557.3 207.8 L557.5 207.3 L557.7 207.1 L557.9 206.7 L558.1 206.4 L558.3 205.6 L558.6 205.2 L558.8 205.3 L559.0 204.9 L559.2 204.9 L559.4 204.7 L559.5 204.5 L559.7 204.5 L559.8 204.3 L559.9 204.1 L560.0 203.8 L560.2 204.1 L560.3 203.7 L560.5 203.8 L560.8 203.6 L561.1 203.7 L561.4 203.5 L561.9 203.4 L562.4 203.4 L563.0 203.2 L563.7 203.2 L564.3 203.3 L565.1 203.3 L565.8 203.2 L566.6 203.7 L567.4 203.2 L568.3 203.4 L569.2 203.9 L570.3 203.5 L571.4 203.8 L572.6 203.8 L573.8 203.8 L575.2 203.6 L576.7 203.7 L578.3 204.0 L580.0 204.1 L581.9 203.7 L583.9 204.1 L586.1 204.0 L588.4 204.3 L590.9 204.2 L593.4 204.1 L596.0 204.2 L598.7 204.3 L601.4 204.6 L604.1 204.9 L606.9 204.5 L609.6 204.5 L612.3 204.6 L614.9 204.5 L617.5 204.6 L620.0 204.6 L622.5 204.5 L625.1 204.4 L627.8 204.5 L630.5 204.5 L633.3 204.4 L636.1 204.5 L638.8 204.4 L641.5 204.2 L644.1 204.4 L646.6 203.9 L649.0 204.2 L651.2 204.2 L653.3 203.9 L655.1 203.9 L656.7 204.0 L658.0 204.0" fill="none" stroke="#f7b21f" stroke-width="1.7" stroke-linejoin="round" stroke-linecap="round" />
<path d="M484.0 279.4 L485.7 279.4 L487.7 279.4 L490.1 279.3 L492.9 279.3 L495.9 279.3 L499.0 279.4 L502.3 279.5 L505.8 279.3 L509.2 279.3 L512.6 279.4 L516.0 279.4 L519.2 279.4 L522.3 279.2 L525.2 279.3 L527.8 279.4 L530.0 279.2 L532.0 279.2 L533.8 279.1 L535.5 279.1 L537.1 279.1 L538.6 279.2 L540.0 279.1 L541.2 279.2 L542.4 279.2 L543.5 279.1 L544.6 278.9 L545.6 279.1 L546.5 279.1 L547.4 279.1 L548.3 278.9 L549.2 279.0 L550.0 278.9 L550.8 278.9 L551.5 279.1 L552.1 278.9 L552.7 279.0 L553.2 279.1 L553.7 278.9 L554.1 279.0 L554.4 279.0 L554.8 279.0 L555.1 278.9 L555.4 279.0 L555.7 279.0 L556.0 278.7 L556.3 278.8 L556.6 278.7 L557.0 278.4 L557.4 278.5 L557.7 278.3 L558.1 277.9 L558.4 277.9 L558.7 277.8 L559.1 277.6 L559.4 277.5 L559.7 277.2 L560.0 277.0 L560.3 276.8 L560.6 276.3 L560.9 276.0 L561.2 275.6 L561.4 275.2 L561.7 274.5 L562.0 273.9 L562.3 273.3 L562.6 272.6 L562.8 271.8 L563.1 270.6 L563.3 269.6 L563.6 268.7 L563.9 267.4 L564.1 266.4 L564.4 265.3 L564.6 264.4 L564.8 263.2 L565.1 262.0 L565.3 260.9 L565.5 259.9 L565.8 259.1 L566.0 258.0 L566.2 257.1 L566.4 256.1 L566.7 255.1 L566.9 254.0 L567.1 252.9 L567.3 252.0 L567.5 250.9 L567.7 250.1 L567.9 249.2 L568.1 248.3 L568.3 247.6 L568.5 246.9 L568.7 246.5 L568.9 246.0 L569.1 245.9 L569.3 245.7 L569.5 246.0 L569.7 246.2 L569.9 246.7 L570.1 247.6 L570.3 248.4 L570.5 249.4 L570.7 250.7 L570.9 251.5 L571.1 252.7 L571.3 253.9 L571.5 255.1 L571.7 256.2 L571.9 257.3 L572.1 258.4 L572.3 259.3 L572.5 259.9 L572.7 260.7 L572.9 261.4 L573.0 262.0 L573.2 262.9 L573.4 263.5 L573.5 264.3 L573.7 264.9 L573.8 265.5 L574.0 266.0 L574.2 266.6 L574.4 266.9 L574.6 267.4 L574.8 268.0 L575.1 268.1 L575.4 268.7 L575.7 268.6 L576.0 269.0 L576.4 268.9 L576.8 269.1 L577.3 269.0 L577.7 268.7 L578.2 268.8 L578.7 268.6 L579.2 268.2 L579.7 267.9 L580.2 267.6 L580.7 267.3 L581.2 267.2 L581.7 266.7 L582.1 266.5 L582.6 266.2 L583.0 265.9 L583.4 265.6 L583.8 265.6 L584.2 265.2 L584.6 265.1 L585.0 264.7 L585.4 264.3 L585.8 264.0 L586.2 263.7 L586.6 263.4 L587.0 263.1 L587.3 262.8 L587.7 262.5 L588.0 262.3 L588.4 262.4 L588.7 262.0 L589.0 261.8 L589.3 261.8 L589.6 261.9 L589.9 261.6 L590.1 261.8 L590.4 261.8 L590.6 261.8 L590.8 262.1 L591.1 262.2 L591.3 262.3 L591.5 262.3 L591.7 262.5 L592.0 262.5 L592.2 262.6 L592.5 262.5 L592.7 262.4 L593.0 262.6 L593.3 262.3 L593.6 262.3 L593.8 262.1 L594.1 261.9 L594.4 261.6 L594.7 261.5 L594.9 261.2 L595.2 261.0 L595.5 260.7 L595.8 260.6 L596.2 260.3 L596.5 260.0 L596.9 259.6 L597.2 259.3 L597.6 259.3 L598.0 259.1 L598.4 258.8 L598.9 258.6 L599.4 258.4 L599.9 258.2 L600.4 257.9 L600.9 257.5 L601.5 257.5 L602.0 257.0 L602.6 257.0 L603.2 256.7 L603.7 256.6 L604.2 256.5 L604.8 256.3 L605.3 255.9 L605.7 255.7 L606.2 255.9 L606.6 255.6 L606.8 255.7 L606.9 255.8 L606.9 255.6 L606.8 255.5 L606.8 255.8 L606.7 255.9 L606.7 255.9 L606.8 256.0 L607.0 256.0 L607.3 256.1 L607.8 256.4 L608.5 256.4 L609.4 256.5 L610.5 256.9 L612.0 257.0 L613.9 257.2 L616.1 257.3 L618.8 257.6 L621.8 257.9 L625.0 258.2 L628.3 258.6 L631.8 258.8 L635.4 259.3 L638.9 259.6 L642.4 260.1 L645.7 260.0 L648.8 260.5 L651.6 260.7 L654.2 260.9 L656.3 261.0 L658.0 261.3" fill="none" stroke="#16a096" stroke-width="1.7" stroke-linejoin="round" stroke-linecap="round" />
<path d="M484.0 310.6 L485.3 310.6 L487.0 310.6 L488.9 310.7 L491.1 310.5 L493.5 310.6 L496.0 310.6 L498.7 310.7 L501.4 310.7 L504.1 310.7 L506.8 310.6 L509.5 310.5 L512.0 310.6 L514.3 310.6 L516.5 310.4 L518.4 310.5 L520.0 310.4 L521.3 310.4 L522.5 310.3 L523.5 310.3 L524.4 310.3 L525.2 310.2 L525.8 310.1 L526.4 310.1 L526.9 310.1 L527.3 310.0 L527.7 310.0 L528.0 309.9 L528.4 309.7 L528.7 309.8 L529.1 309.6 L529.5 309.5 L530.0 309.5 L530.5 309.5 L531.0 309.3 L531.4 309.3 L531.8 309.2 L532.3 308.9 L532.7 308.7 L533.0 308.7 L533.4 308.7 L533.8 308.4 L534.1 308.3 L534.4 308.1 L534.8 308.0 L535.1 307.9 L535.4 307.7 L535.7 307.5 L536.0 307.3 L536.3 307.1 L536.6 306.8 L536.8 306.7 L537.1 306.4 L537.3 306.2 L537.5 306.2 L537.7 305.8 L537.9 305.6 L538.1 305.4 L538.3 305.1 L538.5 304.8 L538.7 304.5 L538.9 304.1 L539.1 303.8 L539.3 303.4 L539.5 303.1 L539.7 302.5 L539.9 302.1 L540.1 301.6 L540.3 301.1 L540.5 300.5 L540.6 300.0 L540.8 299.3 L541.0 298.7 L541.2 298.2 L541.4 297.5 L541.5 296.9 L541.7 296.4 L541.9 295.7 L542.1 295.1 L542.3 294.4 L542.5 294.1 L542.7 293.5 L542.9 292.9 L543.1 292.3 L543.3 291.8 L543.5 291.1 L543.8 290.5 L544.0 289.8 L544.2 289.3 L544.4 288.7 L544.6 288.2 L544.9 287.6 L545.1 287.2 L545.3 286.9 L545.5 286.5 L545.8 286.2 L546.0 286.0 L546.2 285.8 L546.5 285.7 L546.7 285.7 L546.9 285.8 L547.1 285.7 L547.4 285.9 L547.6 286.0 L547.8 286.2 L548.1 286.4 L548.3 286.5 L548.6 286.9 L548.8 287.0 L549.1 287.2 L549.4 287.5 L549.7 287.8 L550.0 288.0 L550.3 288.2 L550.7 288.6 L551.1 288.8 L551.5 289.2 L551.9 289.7 L552.3 290.2 L552.7 290.5 L553.2 290.9 L553.6 291.4 L554.0 291.7 L554.4 292.1 L554.9 292.5 L555.2 292.8 L555.6 293.0 L556.0 293.1 L556.3 293.2 L556.6 293.2 L556.9 293.2 L557.2 293.0 L557.4 292.8 L557.7 292.6 L557.9 292.4 L558.1 292.1 L558.4 291.7 L558.6 291.5 L558.8 291.1 L559.0 290.8 L559.2 290.4 L559.4 290.2 L559.6 289.9 L559.8 289.6 L560.0 289.5 L560.2 289.4 L560.3 289.2 L560.5 289.1 L560.6 288.9 L560.7 288.9 L560.8 288.8 L560.9 288.7 L561.0 288.7 L561.1 288.6 L561.2 288.5 L561.4 288.6 L561.6 288.4 L561.9 288.4 L562.2 288.3 L562.6 288.3 L563.0 288.4 L563.5 288.3 L564.0 288.2 L564.5 288.4 L565.1 288.3 L565.6 288.4 L566.3 288.4 L566.9 288.4 L567.6 288.6 L568.4 288.6 L569.2 288.6 L570.0 288.7 L570.9 288.7 L571.8 288.8 L572.8 288.6 L573.9 288.8 L575.0 288.8 L576.1 288.7 L577.3 288.8 L578.4 288.8 L579.6 288.7 L580.7 288.7 L582.0 288.7 L583.3 288.6 L584.6 288.5 L586.1 288.5 L587.6 288.5 L589.3 288.5 L591.1 288.4 L593.1 288.4 L595.2 288.4 L597.5 288.4 L600.0 288.4 L602.8 288.4 L606.1 288.3 L609.7 288.2 L613.5 288.2 L617.6 288.3 L621.9 288.3 L626.2 288.3 L630.6 288.4 L634.9 288.3 L639.0 288.3 L643.1 288.3 L646.8 288.2 L650.2 288.2 L653.3 288.3 L655.9 288.2 L658.0 288.3" fill="none" stroke="#111" stroke-width="1.7" stroke-linejoin="round" stroke-linecap="round" />
<line x1="483.80" y1="5.80" x2="658.20" y2="5.80" stroke="#3a3a3a" stroke-width="1.2"/>
<line x1="483.80" y1="5.80" x2="483.80" y2="318.80" stroke="#3a3a3a" stroke-width="1.2"/>
<line x1="658.20" y1="5.80" x2="658.20" y2="318.80" stroke="#9a9a9a" stroke-width="1.4"/>
<line x1="483.80" y1="237.80" x2="658.20" y2="237.80" stroke="#9a9a9a" stroke-width="1.4"/>
<line x1="483.80" y1="318.80" x2="658.20" y2="318.80" stroke="#3a3a3a" stroke-width="1.2"/>
<line x1="518.80" y1="318.80" x2="518.80" y2="321.60" stroke="#3a3a3a" stroke-width="0.9"/>
<text x="518.80" y="334.40" font-size="10.9" text-anchor="middle" font-weight="normal" fill="#1a1a1a" stroke="#1a1a1a" >2460</text>
<line x1="561.80" y1="318.80" x2="561.80" y2="321.60" stroke="#3a3a3a" stroke-width="0.9"/>
<text x="561.80" y="334.40" font-size="10.9" text-anchor="middle" font-weight="normal" fill="#1a1a1a" stroke="#1a1a1a" >2480</text>
<line x1="604.80" y1="318.80" x2="604.80" y2="321.60" stroke="#3a3a3a" stroke-width="0.9"/>
<text x="604.80" y="334.40" font-size="10.9" text-anchor="middle" font-weight="normal" fill="#1a1a1a" stroke="#1a1a1a" >2500</text>
<line x1="647.80" y1="318.80" x2="647.80" y2="321.60" stroke="#3a3a3a" stroke-width="0.9"/>
<text x="647.80" y="334.40" font-size="10.9" text-anchor="middle" font-weight="normal" fill="#1a1a1a" stroke="#1a1a1a" >2520</text>
<line x1="497.30" y1="318.80" x2="497.30" y2="320.40" stroke="#3a3a3a" stroke-width="0.9"/>
<line x1="540.30" y1="318.80" x2="540.30" y2="320.40" stroke="#3a3a3a" stroke-width="0.9"/>
<line x1="583.30" y1="318.80" x2="583.30" y2="320.40" stroke="#3a3a3a" stroke-width="0.9"/>
<line x1="626.30" y1="318.80" x2="626.30" y2="320.40" stroke="#3a3a3a" stroke-width="0.9"/>
<text x="571.00" y="352.00" font-size="10.9" text-anchor="middle" font-weight="normal" fill="#1a1a1a" stroke="#1a1a1a" >Energy (eV)</text>
<text transform="translate(474.5 160) rotate(-90)" font-size="10.9" text-anchor="middle" fill="#1a1a1a" stroke="#1a1a1a">Normalized xμ (E)</text>
<text x="487.00" y="19.80" font-size="10.9" text-anchor="start" font-weight="normal" fill="#1a1a1a" stroke="#1a1a1a" >S K-edge</text>
<text x="655.50" y="37.90" font-size="10.9" text-anchor="end" font-weight="normal" fill="#1a1a1a" stroke="#1a1a1a" >100%</text>
<text x="655.50" y="72.90" font-size="10.9" text-anchor="end" font-weight="normal" fill="#1a1a1a" stroke="#1a1a1a" >80%</text>
<text x="655.50" y="104.30" font-size="10.9" text-anchor="end" font-weight="normal" fill="#1a1a1a" stroke="#1a1a1a" >60%</text>
<text x="655.50" y="136.50" font-size="10.9" text-anchor="end" font-weight="normal" fill="#1a1a1a" stroke="#1a1a1a" >40%</text>
<text x="655.50" y="168.50" font-size="10.9" text-anchor="end" font-weight="normal" fill="#1a1a1a" stroke="#1a1a1a" >20%</text>
<text x="655.50" y="200.20" font-size="10.9" text-anchor="end" font-weight="normal" fill="#1a1a1a" stroke="#1a1a1a" >0%</text>
<text x="655.50" y="229.00" font-size="10.9" text-anchor="end" font-weight="normal" fill="#1a1a1a" stroke="#1a1a1a" >L6CO@S</text>
<text x="655.50" y="251.80" font-size="10.9" text-anchor="end" font-weight="normal" fill="#1a1a1a" stroke="#1a1a1a" >Li<tspan font-size="7" dy="2.8">2</tspan><tspan dy="-2.8">SO</tspan><tspan font-size="7" dy="2.8">4</tspan></text>
<text x="653.40" y="283.00" font-size="10.9" text-anchor="end" font-weight="normal" fill="#1a1a1a" stroke="#1a1a1a" >S</text>
<line x1="668.80" y1="66.00" x2="668.80" y2="198.00" stroke="#222" stroke-width="1.0"/>
<path d="M668.8 56.8 L666.1 67.6 L671.5 67.6 Z" fill="#111"/>
<text transform="translate(684.3 130) rotate(-90)" font-size="10.9" text-anchor="middle" fill="#1a1a1a" stroke="#1a1a1a">SOC</text>
<text x="0.00" y="389.50" font-size="15" text-anchor="start" font-weight="bold" fill="#000" stroke="#000" >e</text>
<rect x="40.2" y="384.1" width="125.9" height="98.5" fill="url(#skyL)"/>
<rect x="40.0" y="482.6" width="126.1" height="53.3" fill="url(#gnd)"/>
<rect x="175.7" y="384.1" width="242.3" height="98.5" fill="url(#skyL)"/>
<rect x="175.7" y="482.6" width="242.3" height="53.3" fill="url(#gnd)"/>
<text x="79.80" y="394.80" font-size="9.2" text-anchor="start" font-weight="normal" fill="#1a1a1a" stroke="#1a1a1a" >O<tspan font-size="6.3" dy="2.5">2</tspan><tspan dy="-2.5"> or CO</tspan><tspan font-size="6.3" dy="2.5">2</tspan><tspan dy="-2.5"> evolution</tspan></text>
<text x="108.20" y="440.20" font-size="9.2" text-anchor="start" font-weight="normal" fill="#1a1a1a" stroke="#1a1a1a" >React with</text>
<text x="107.30" y="451.70" font-size="9.2" text-anchor="start" font-weight="normal" fill="#1a1a1a" stroke="#1a1a1a" >electrolyte</text>
<text x="59.40" y="519.60" font-size="9.2" text-anchor="start" font-weight="normal" fill="#1a1a1a" stroke="#1a1a1a" >Lattice oxygen release</text>
<circle cx="77.4" cy="422.7" r="23.4" fill="url(#circW)" stroke="#2a2a2a" stroke-width="0.9"/>
<circle cx="72.00" cy="410.10" r="2.5" fill="url(#gO)" stroke="#7ea3d3" stroke-width="0.35"/>
<circle cx="80.30" cy="407.90" r="2.5" fill="url(#gO)" stroke="#7ea3d3" stroke-width="0.35"/>
<circle cx="76.10" cy="408.80" r="2.8" fill="url(#gC)" stroke="#6aa956" stroke-width="0.35"/>
<circle cx="64.00" cy="418.10" r="2.5" fill="url(#gO)" stroke="#7ea3d3" stroke-width="0.35"/>
<circle cx="63.10" cy="421.60" r="2.5" fill="url(#gO)" stroke="#7ea3d3" stroke-width="0.35"/>
<circle cx="78.50" cy="422.20" r="2.5" fill="url(#gO)" stroke="#7ea3d3" stroke-width="0.35"/>
<circle cx="82.00" cy="421.30" r="2.5" fill="url(#gO)" stroke="#7ea3d3" stroke-width="0.35"/>
<circle cx="90.30" cy="428.30" r="2.5" fill="url(#gO)" stroke="#7ea3d3" stroke-width="0.35"/>
<circle cx="93.50" cy="430.30" r="2.5" fill="url(#gO)" stroke="#7ea3d3" stroke-width="0.35"/>
<circle cx="67.70" cy="433.90" r="2.5" fill="url(#gO)" stroke="#7ea3d3" stroke-width="0.35"/>
<circle cx="75.80" cy="436.40" r="2.5" fill="url(#gO)" stroke="#7ea3d3" stroke-width="0.35"/>
<circle cx="72.00" cy="435.00" r="2.8" fill="url(#gC)" stroke="#6aa956" stroke-width="0.35"/>
<path d="M74.6 475.1 Q67 466 66.4 453.5" fill="none" stroke="#111" stroke-width="0.9" marker-end="url(#ah)"/>
<circle cx="102.7" cy="482.4" r="23.8" fill="url(#circLat)" stroke="none"/>
<g clip-path="url(#c1)">
<circle cx="94.40" cy="467.40" r="2.5" fill="url(#gO)" stroke="#7ea3d3" stroke-width="0.35"/>
<circle cx="107.00" cy="465.50" r="3.2" fill="url(#gLi)" stroke="#8e94a4" stroke-width="0.35"/>
<circle cx="86.60" cy="474.90" r="3.2" fill="url(#gLi)" stroke="#8e94a4" stroke-width="0.35"/>
<circle cx="102.40" cy="474.90" r="2.5" fill="url(#gO)" stroke="#7ea3d3" stroke-width="0.35"/>
<circle cx="118.00" cy="474.90" r="3.2" fill="url(#gLi)" stroke="#8e94a4" stroke-width="0.35"/>
<circle cx="91.30" cy="487.00" r="2.5" fill="url(#gO)" stroke="#7ea3d3" stroke-width="0.35"/>
<circle cx="102.40" cy="487.00" r="2.5" fill="url(#gO)" stroke="#7ea3d3" stroke-width="0.35"/>
<circle cx="114.20" cy="487.00" r="2.5" fill="url(#gO)" stroke="#7ea3d3" stroke-width="0.35"/>
<circle cx="80.20" cy="498.50" r="3.2" fill="url(#gLi)" stroke="#8e94a4" stroke-width="0.35"/>
<circle cx="91.30" cy="498.50" r="2.5" fill="url(#gO)" stroke="#7ea3d3" stroke-width="0.35"/>
<circle cx="97.00" cy="498.50" r="3.2" fill="url(#gLi)" stroke="#8e94a4" stroke-width="0.35"/>
<circle cx="102.70" cy="498.50" r="2.5" fill="url(#gO)" stroke="#7ea3d3" stroke-width="0.35"/>
<circle cx="108.30" cy="498.50" r="3.2" fill="url(#gLi)" stroke="#8e94a4" stroke-width="0.35"/>
<circle cx="113.90" cy="498.50" r="2.5" fill="url(#gO)" stroke="#7ea3d3" stroke-width="0.35"/>
<circle cx="119.60" cy="498.50" r="3.2" fill="url(#gLi)" stroke="#8e94a4" stroke-width="0.35"/>
<circle cx="125.00" cy="498.50" r="2.5" fill="url(#gO)" stroke="#7ea3d3" stroke-width="0.35"/>
<circle cx="85.80" cy="492.60" r="2.5" fill="url(#gO)" stroke="#7ea3d3" stroke-width="0.35"/>
<circle cx="91.30" cy="492.60" r="3.2" fill="url(#gCo)" stroke="#e08d93" stroke-width="0.35"/>
<circle cx="97.00" cy="492.60" r="2.5" fill="url(#gO)" stroke="#7ea3d3" stroke-width="0.35"/>
<circle cx="102.70" cy="492.60" r="3.2" fill="url(#gLi)" stroke="#8e94a4" stroke-width="0.35"/>
<circle cx="108.30" cy="492.60" r="2.5" fill="url(#gO)" stroke="#7ea3d3" stroke-width="0.35"/>
<circle cx="113.90" cy="492.60" r="3.2" fill="url(#gCo)" stroke="#e08d93" stroke-width="0.35"/>
<circle cx="119.60" cy="492.60" r="2.5" fill="url(#gO)" stroke="#7ea3d3" stroke-width="0.35"/>
<circle cx="91.30" cy="503.90" r="3.2" fill="url(#gLi)" stroke="#8e94a4" stroke-width="0.35"/>
<circle cx="97.00" cy="503.90" r="2.5" fill="url(#gO)" stroke="#7ea3d3" stroke-width="0.35"/>
<circle cx="102.70" cy="503.90" r="3.2" fill="url(#gCo)" stroke="#e08d93" stroke-width="0.35"/>
<circle cx="108.30" cy="503.90" r="2.5" fill="url(#gO)" stroke="#7ea3d3" stroke-width="0.35"/>
<circle cx="113.90" cy="503.90" r="3.2" fill="url(#gLi)" stroke="#8e94a4" stroke-width="0.35"/>
</g>
<circle cx="102.7" cy="482.4" r="23.8" fill="none" stroke="#2a2a2a" stroke-width="0.9"/>
<path d="M95.4 483.5 L95.9 476.5" stroke="#111" stroke-width="0.8" marker-end="url(#ah)"/>
<path d="M109.4 483.5 L109.9 477.5" stroke="#111" stroke-width="0.8" marker-end="url(#ah)"/>
<circle cx="186.20" cy="395.90" r="3.4" fill="url(#gS)" stroke="#dcb85e" stroke-width="0.35"/>
<text x="193.60" y="399.20" font-size="9.2" text-anchor="start" font-weight="normal" fill="#1a1a1a" stroke="#1a1a1a" >S</text>
<circle cx="209.00" cy="395.90" r="3.9" fill="url(#gCo)" stroke="#e08d93" stroke-width="0.35"/>
<text x="215.60" y="399.20" font-size="9.2" text-anchor="start" font-weight="normal" fill="#1a1a1a" stroke="#1a1a1a" >Co</text>
<circle cx="236.20" cy="395.90" r="3.9" fill="url(#gLi)" stroke="#8e94a4" stroke-width="0.35"/>
<text x="243.40" y="399.20" font-size="9.2" text-anchor="start" font-weight="normal" fill="#1a1a1a" stroke="#1a1a1a" >Li</text>
<circle cx="259.30" cy="395.90" r="3.1" fill="url(#gO)" stroke="#7ea3d3" stroke-width="0.35"/>
<text x="265.10" y="399.20" font-size="9.2" text-anchor="start" font-weight="normal" fill="#1a1a1a" stroke="#1a1a1a" >O</text>
<circle cx="281.10" cy="395.90" r="3.3" fill="url(#gC)" stroke="#6aa956" stroke-width="0.35"/>
<text x="287.00" y="399.20" font-size="9.2" text-anchor="start" font-weight="normal" fill="#1a1a1a" stroke="#1a1a1a" >C</text>
<text x="368.30" y="397.80" font-size="9.2" text-anchor="start" font-weight="normal" fill="#1a1a1a" stroke="#1a1a1a" >Electrolyte</text>
<text x="307.40" y="438.60" font-size="9.2" text-anchor="start" font-weight="normal" fill="#1a1a1a" stroke="#1a1a1a" >Suppressed gas evolution</text>
<text x="180.80" y="458.80" font-size="9.2" text-anchor="start" font-weight="normal" fill="#1a1a1a" stroke="#1a1a1a" >Sulfur coating</text>
<text x="265.70" y="526.30" font-size="9.2" text-anchor="start" font-weight="normal" fill="#1a1a1a" stroke="#1a1a1a" >Oxygen scavenging</text>
<text x="379.30" y="528.20" font-size="9.2" text-anchor="start" font-weight="normal" fill="#1a1a1a" stroke="#1a1a1a" >Li<tspan font-size="6.3" dy="2.5">6</tspan><tspan dy="-2.5">CoO</tspan><tspan font-size="6.3" dy="2.5">4</tspan></text>
<g clip-path="url(#clipR)">
<circle cx="176.0" cy="469.2" r="3.2" fill="url(#gSc)" stroke="#dcca9a" stroke-width="0.45"/>
<circle cx="182.6" cy="470.6" r="3.2" fill="url(#gSc)" stroke="#dcca9a" stroke-width="0.45"/>
<circle cx="188.7" cy="469.5" r="3.2" fill="url(#gSc)" stroke="#dcca9a" stroke-width="0.45"/>
<circle cx="194.7" cy="468.9" r="3.2" fill="url(#gSc)" stroke="#dcca9a" stroke-width="0.45"/>
<circle cx="200.9" cy="467.5" r="3.2" fill="url(#gSc)" stroke="#dcca9a" stroke-width="0.45"/>
<circle cx="206.5" cy="466.8" r="3.2" fill="url(#gSc)" stroke="#dcca9a" stroke-width="0.45"/>
<circle cx="212.7" cy="465.9" r="3.2" fill="url(#gSc)" stroke="#dcca9a" stroke-width="0.45"/>
<circle cx="218.9" cy="466.0" r="3.2" fill="url(#gSc)" stroke="#dcca9a" stroke-width="0.45"/>
<circle cx="225.2" cy="468.0" r="3.2" fill="url(#gSc)" stroke="#dcca9a" stroke-width="0.45"/>
<circle cx="231.3" cy="468.9" r="3.2" fill="url(#gSc)" stroke="#dcca9a" stroke-width="0.45"/>
<circle cx="237.7" cy="469.5" r="3.2" fill="url(#gSc)" stroke="#dcca9a" stroke-width="0.45"/>
<circle cx="243.5" cy="470.1" r="3.2" fill="url(#gSc)" stroke="#dcca9a" stroke-width="0.45"/>
<circle cx="249.5" cy="468.0" r="3.2" fill="url(#gSc)" stroke="#dcca9a" stroke-width="0.45"/>
<circle cx="255.4" cy="467.3" r="3.2" fill="url(#gSc)" stroke="#dcca9a" stroke-width="0.45"/>
<circle cx="261.3" cy="465.5" r="3.2" fill="url(#gSc)" stroke="#dcca9a" stroke-width="0.45"/>
<circle cx="267.5" cy="466.1" r="3.2" fill="url(#gSc)" stroke="#dcca9a" stroke-width="0.45"/>
<circle cx="273.6" cy="465.6" r="3.2" fill="url(#gSc)" stroke="#dcca9a" stroke-width="0.45"/>
<circle cx="279.9" cy="467.5" r="3.2" fill="url(#gSc)" stroke="#dcca9a" stroke-width="0.45"/>
<circle cx="286.0" cy="468.9" r="3.2" fill="url(#gSc)" stroke="#dcca9a" stroke-width="0.45"/>
<circle cx="292.6" cy="469.6" r="3.2" fill="url(#gSc)" stroke="#dcca9a" stroke-width="0.45"/>
<circle cx="298.5" cy="470.1" r="3.2" fill="url(#gSc)" stroke="#dcca9a" stroke-width="0.45"/>
<circle cx="304.8" cy="469.8" r="3.2" fill="url(#gSc)" stroke="#dcca9a" stroke-width="0.45"/>
<circle cx="310.6" cy="467.6" r="3.2" fill="url(#gSc)" stroke="#dcca9a" stroke-width="0.45"/>
<circle cx="316.6" cy="465.7" r="3.2" fill="url(#gSc)" stroke="#dcca9a" stroke-width="0.45"/>
<circle cx="322.8" cy="465.9" r="3.2" fill="url(#gSc)" stroke="#dcca9a" stroke-width="0.45"/>
<circle cx="328.8" cy="466.5" r="3.2" fill="url(#gSc)" stroke="#dcca9a" stroke-width="0.45"/>
<circle cx="335.2" cy="467.2" r="3.2" fill="url(#gSc)" stroke="#dcca9a" stroke-width="0.45"/>
<circle cx="341.5" cy="468.8" r="3.2" fill="url(#gSc)" stroke="#dcca9a" stroke-width="0.45"/>
<circle cx="347.3" cy="469.8" r="3.2" fill="url(#gSc)" stroke="#dcca9a" stroke-width="0.45"/>
<circle cx="353.7" cy="469.1" r="3.2" fill="url(#gSc)" stroke="#dcca9a" stroke-width="0.45"/>
<circle cx="360.0" cy="469.3" r="3.2" fill="url(#gSc)" stroke="#dcca9a" stroke-width="0.45"/>
<circle cx="366.5" cy="467.9" r="3.2" fill="url(#gSc)" stroke="#dcca9a" stroke-width="0.45"/>
<circle cx="372.7" cy="466.8" r="3.2" fill="url(#gSc)" stroke="#dcca9a" stroke-width="0.45"/>
<circle cx="378.6" cy="466.0" r="3.2" fill="url(#gSc)" stroke="#dcca9a" stroke-width="0.45"/>
<circle cx="384.8" cy="466.0" r="3.2" fill="url(#gSc)" stroke="#dcca9a" stroke-width="0.45"/>
<circle cx="390.8" cy="467.2" r="3.2" fill="url(#gSc)" stroke="#dcca9a" stroke-width="0.45"/>
<circle cx="397.2" cy="468.0" r="3.2" fill="url(#gSc)" stroke="#dcca9a" stroke-width="0.45"/>
<circle cx="403.6" cy="470.1" r="3.2" fill="url(#gSc)" stroke="#dcca9a" stroke-width="0.45"/>
<circle cx="410.3" cy="469.2" r="3.2" fill="url(#gSc)" stroke="#dcca9a" stroke-width="0.45"/>
<circle cx="416.8" cy="469.6" r="3.2" fill="url(#gSc)" stroke="#dcca9a" stroke-width="0.45"/>
<circle cx="179.2" cy="474.8" r="3.2" fill="url(#gSc)" stroke="#dcca9a" stroke-width="0.45"/>
<circle cx="185.8" cy="473.3" r="3.2" fill="url(#gSc)" stroke="#dcca9a" stroke-width="0.45"/>
<circle cx="192.1" cy="473.1" r="3.2" fill="url(#gSc)" stroke="#dcca9a" stroke-width="0.45"/>
<circle cx="197.9" cy="471.5" r="3.2" fill="url(#gSc)" stroke="#dcca9a" stroke-width="0.45"/>
<circle cx="203.7" cy="471.9" r="3.2" fill="url(#gSc)" stroke="#dcca9a" stroke-width="0.45"/>
<circle cx="210.3" cy="473.8" r="3.2" fill="url(#gSc)" stroke="#dcca9a" stroke-width="0.45"/>
<circle cx="216.0" cy="473.9" r="3.2" fill="url(#gSc)" stroke="#dcca9a" stroke-width="0.45"/>
<circle cx="222.4" cy="476.3" r="3.2" fill="url(#gSc)" stroke="#dcca9a" stroke-width="0.45"/>
<circle cx="228.7" cy="475.6" r="3.2" fill="url(#gSc)" stroke="#dcca9a" stroke-width="0.45"/>
<circle cx="235.0" cy="475.5" r="3.2" fill="url(#gSc)" stroke="#dcca9a" stroke-width="0.45"/>
<circle cx="241.2" cy="473.8" r="3.2" fill="url(#gSc)" stroke="#dcca9a" stroke-width="0.45"/>
<circle cx="247.5" cy="472.9" r="3.2" fill="url(#gSc)" stroke="#dcca9a" stroke-width="0.45"/>
<circle cx="253.6" cy="471.6" r="3.2" fill="url(#gSc)" stroke="#dcca9a" stroke-width="0.45"/>
<circle cx="259.5" cy="471.4" r="3.2" fill="url(#gSc)" stroke="#dcca9a" stroke-width="0.45"/>
<circle cx="266.0" cy="472.5" r="3.2" fill="url(#gSc)" stroke="#dcca9a" stroke-width="0.45"/>
<circle cx="271.8" cy="474.7" r="3.2" fill="url(#gSc)" stroke="#dcca9a" stroke-width="0.45"/>
<circle cx="278.2" cy="476.4" r="3.2" fill="url(#gSc)" stroke="#dcca9a" stroke-width="0.45"/>
<circle cx="284.4" cy="475.8" r="3.2" fill="url(#gSc)" stroke="#dcca9a" stroke-width="0.45"/>
<circle cx="290.1" cy="476.3" r="3.2" fill="url(#gSc)" stroke="#dcca9a" stroke-width="0.45"/>
<circle cx="297.1" cy="473.9" r="3.2" fill="url(#gSc)" stroke="#dcca9a" stroke-width="0.45"/>
<circle cx="303.1" cy="473.2" r="3.2" fill="url(#gSc)" stroke="#dcca9a" stroke-width="0.45"/>
<circle cx="309.1" cy="471.7" r="3.2" fill="url(#gSc)" stroke="#dcca9a" stroke-width="0.45"/>
<circle cx="315.2" cy="471.7" r="3.2" fill="url(#gSc)" stroke="#dcca9a" stroke-width="0.45"/>
<circle cx="321.7" cy="472.5" r="3.2" fill="url(#gSc)" stroke="#dcca9a" stroke-width="0.45"/>
<circle cx="328.2" cy="473.7" r="3.2" fill="url(#gSc)" stroke="#dcca9a" stroke-width="0.45"/>
<circle cx="334.5" cy="474.3" r="3.2" fill="url(#gSc)" stroke="#dcca9a" stroke-width="0.45"/>
<circle cx="340.2" cy="476.4" r="3.2" fill="url(#gSc)" stroke="#dcca9a" stroke-width="0.45"/>
<circle cx="346.3" cy="476.0" r="3.2" fill="url(#gSc)" stroke="#dcca9a" stroke-width="0.45"/>
<circle cx="352.6" cy="475.2" r="3.2" fill="url(#gSc)" stroke="#dcca9a" stroke-width="0.45"/>
<circle cx="359.1" cy="473.5" r="3.2" fill="url(#gSc)" stroke="#dcca9a" stroke-width="0.45"/>
<circle cx="365.2" cy="471.6" r="3.2" fill="url(#gSc)" stroke="#dcca9a" stroke-width="0.45"/>
<circle cx="371.2" cy="471.4" r="3.2" fill="url(#gSc)" stroke="#dcca9a" stroke-width="0.45"/>
<circle cx="377.1" cy="472.0" r="3.2" fill="url(#gSc)" stroke="#dcca9a" stroke-width="0.45"/>
<circle cx="383.2" cy="473.7" r="3.2" fill="url(#gSc)" stroke="#dcca9a" stroke-width="0.45"/>
<circle cx="389.3" cy="474.0" r="3.2" fill="url(#gSc)" stroke="#dcca9a" stroke-width="0.45"/>
<circle cx="395.5" cy="476.0" r="3.2" fill="url(#gSc)" stroke="#dcca9a" stroke-width="0.45"/>
<circle cx="402.0" cy="476.1" r="3.2" fill="url(#gSc)" stroke="#dcca9a" stroke-width="0.45"/>
<circle cx="408.0" cy="474.5" r="3.2" fill="url(#gSc)" stroke="#dcca9a" stroke-width="0.45"/>
<circle cx="414.8" cy="473.6" r="3.2" fill="url(#gSc)" stroke="#dcca9a" stroke-width="0.45"/>
<circle cx="176.0" cy="480.3" r="3.2" fill="url(#gSc)" stroke="#dcca9a" stroke-width="0.45"/>
<circle cx="182.0" cy="478.2" r="3.2" fill="url(#gSc)" stroke="#dcca9a" stroke-width="0.45"/>
<circle cx="188.3" cy="477.7" r="3.2" fill="url(#gSc)" stroke="#dcca9a" stroke-width="0.45"/>
<circle cx="194.7" cy="478.0" r="3.2" fill="url(#gSc)" stroke="#dcca9a" stroke-width="0.45"/>
<circle cx="200.9" cy="478.4" r="3.2" fill="url(#gSc)" stroke="#dcca9a" stroke-width="0.45"/>
<circle cx="207.1" cy="480.2" r="3.2" fill="url(#gSc)" stroke="#dcca9a" stroke-width="0.45"/>
<circle cx="213.3" cy="481.4" r="3.2" fill="url(#gSc)" stroke="#dcca9a" stroke-width="0.45"/>
<circle cx="219.7" cy="482.1" r="3.2" fill="url(#gSc)" stroke="#dcca9a" stroke-width="0.45"/>
<circle cx="226.0" cy="480.9" r="3.2" fill="url(#gSc)" stroke="#dcca9a" stroke-width="0.45"/>
<circle cx="232.2" cy="479.1" r="3.2" fill="url(#gSc)" stroke="#dcca9a" stroke-width="0.45"/>
<circle cx="238.4" cy="477.8" r="3.2" fill="url(#gSc)" stroke="#dcca9a" stroke-width="0.45"/>
<circle cx="244.7" cy="477.4" r="3.2" fill="url(#gSc)" stroke="#dcca9a" stroke-width="0.45"/>
<circle cx="251.0" cy="477.2" r="3.2" fill="url(#gSc)" stroke="#dcca9a" stroke-width="0.45"/>
<circle cx="257.5" cy="478.8" r="3.2" fill="url(#gSc)" stroke="#dcca9a" stroke-width="0.45"/>
<circle cx="263.5" cy="480.5" r="3.2" fill="url(#gSc)" stroke="#dcca9a" stroke-width="0.45"/>
<circle cx="269.5" cy="481.7" r="3.2" fill="url(#gSc)" stroke="#dcca9a" stroke-width="0.45"/>
<circle cx="275.5" cy="481.2" r="3.2" fill="url(#gSc)" stroke="#dcca9a" stroke-width="0.45"/>
<circle cx="281.5" cy="481.6" r="3.2" fill="url(#gSc)" stroke="#dcca9a" stroke-width="0.45"/>
<circle cx="287.7" cy="479.0" r="3.2" fill="url(#gSc)" stroke="#dcca9a" stroke-width="0.45"/>
<circle cx="293.9" cy="477.4" r="3.2" fill="url(#gSc)" stroke="#dcca9a" stroke-width="0.45"/>
<circle cx="300.6" cy="476.7" r="3.2" fill="url(#gSc)" stroke="#dcca9a" stroke-width="0.45"/>
<circle cx="307.0" cy="478.0" r="3.2" fill="url(#gSc)" stroke="#dcca9a" stroke-width="0.45"/>
<circle cx="312.8" cy="479.0" r="3.2" fill="url(#gSc)" stroke="#dcca9a" stroke-width="0.45"/>
<circle cx="319.3" cy="480.6" r="3.2" fill="url(#gSc)" stroke="#dcca9a" stroke-width="0.45"/>
<circle cx="325.5" cy="482.0" r="3.2" fill="url(#gSc)" stroke="#dcca9a" stroke-width="0.45"/>
<circle cx="331.8" cy="481.9" r="3.2" fill="url(#gSc)" stroke="#dcca9a" stroke-width="0.45"/>
<circle cx="337.9" cy="481.3" r="3.2" fill="url(#gSc)" stroke="#dcca9a" stroke-width="0.45"/>
<circle cx="343.9" cy="480.1" r="3.2" fill="url(#gSc)" stroke="#dcca9a" stroke-width="0.45"/>
<circle cx="349.9" cy="477.7" r="3.2" fill="url(#gSc)" stroke="#dcca9a" stroke-width="0.45"/>
<circle cx="356.2" cy="478.3" r="3.2" fill="url(#gSc)" stroke="#dcca9a" stroke-width="0.45"/>
<circle cx="362.7" cy="477.4" r="3.2" fill="url(#gSc)" stroke="#dcca9a" stroke-width="0.45"/>
<circle cx="369.1" cy="478.6" r="3.2" fill="url(#gSc)" stroke="#dcca9a" stroke-width="0.45"/>
<circle cx="375.3" cy="480.3" r="3.2" fill="url(#gSc)" stroke="#dcca9a" stroke-width="0.45"/>
<circle cx="380.8" cy="481.5" r="3.2" fill="url(#gSc)" stroke="#dcca9a" stroke-width="0.45"/>
<circle cx="386.7" cy="481.5" r="3.2" fill="url(#gSc)" stroke="#dcca9a" stroke-width="0.45"/>
<circle cx="392.4" cy="480.6" r="3.2" fill="url(#gSc)" stroke="#dcca9a" stroke-width="0.45"/>
<circle cx="398.3" cy="480.6" r="3.2" fill="url(#gSc)" stroke="#dcca9a" stroke-width="0.45"/>
<circle cx="405.0" cy="478.6" r="3.2" fill="url(#gSc)" stroke="#dcca9a" stroke-width="0.45"/>
<circle cx="411.6" cy="477.4" r="3.2" fill="url(#gSc)" stroke="#dcca9a" stroke-width="0.45"/>
<circle cx="417.2" cy="477.5" r="3.2" fill="url(#gSc)" stroke="#dcca9a" stroke-width="0.45"/>
</g>
<circle cx="210.6" cy="509.1" r="23.5" fill="url(#circL)" stroke="none"/>
<g clip-path="url(#c2)">
<circle cx="200.40" cy="491.70" r="2.5" fill="url(#gO)" stroke="#7ea3d3" stroke-width="0.35"/>
<circle cx="194.20" cy="497.30" r="2.5" fill="url(#gO)" stroke="#7ea3d3" stroke-width="0.35"/>
<circle cx="205.50" cy="497.30" r="2.5" fill="url(#gO)" stroke="#7ea3d3" stroke-width="0.35"/>
<circle cx="189.60" cy="503.50" r="2.5" fill="url(#gO)" stroke="#7ea3d3" stroke-width="0.35"/>
<circle cx="199.90" cy="503.00" r="2.5" fill="url(#gO)" stroke="#7ea3d3" stroke-width="0.35"/>
<circle cx="194.20" cy="508.60" r="2.5" fill="url(#gO)" stroke="#7ea3d3" stroke-width="0.35"/>
<circle cx="205.50" cy="508.60" r="2.5" fill="url(#gO)" stroke="#7ea3d3" stroke-width="0.35"/>
<circle cx="189.60" cy="514.20" r="2.5" fill="url(#gO)" stroke="#7ea3d3" stroke-width="0.35"/>
<circle cx="199.90" cy="514.20" r="2.5" fill="url(#gO)" stroke="#7ea3d3" stroke-width="0.35"/>
<circle cx="194.20" cy="519.80" r="2.5" fill="url(#gO)" stroke="#7ea3d3" stroke-width="0.35"/>
<circle cx="205.50" cy="520.30" r="2.5" fill="url(#gO)" stroke="#7ea3d3" stroke-width="0.35"/>
<circle cx="199.90" cy="525.90" r="2.5" fill="url(#gO)" stroke="#7ea3d3" stroke-width="0.35"/>
<circle cx="189.50" cy="520.00" r="2.5" fill="url(#gO)" stroke="#7ea3d3" stroke-width="0.35"/>
<circle cx="189.50" cy="497.50" r="2.5" fill="url(#gO)" stroke="#7ea3d3" stroke-width="0.35"/>
<circle cx="199.90" cy="497.90" r="3.2" fill="url(#gCo)" stroke="#e08d93" stroke-width="0.35"/>
<circle cx="194.20" cy="503.00" r="3.2" fill="url(#gLi)" stroke="#8e94a4" stroke-width="0.35"/>
<circle cx="189.10" cy="509.10" r="3.2" fill="url(#gCo)" stroke="#e08d93" stroke-width="0.35"/>
<circle cx="199.90" cy="508.60" r="3.2" fill="url(#gLi)" stroke="#8e94a4" stroke-width="0.35"/>
<circle cx="194.20" cy="514.20" r="3.2" fill="url(#gLi)" stroke="#8e94a4" stroke-width="0.35"/>
<circle cx="199.90" cy="520.30" r="3.2" fill="url(#gCo)" stroke="#e08d93" stroke-width="0.35"/>
<circle cx="217.20" cy="494.30" r="3.2" fill="url(#gLi)" stroke="#8e94a4" stroke-width="0.35"/>
<circle cx="224.40" cy="502.50" r="2.5" fill="url(#gO)" stroke="#7ea3d3" stroke-width="0.35"/>
<circle cx="217.20" cy="510.10" r="2.5" fill="url(#gO)" stroke="#7ea3d3" stroke-width="0.35"/>
<circle cx="226.40" cy="514.70" r="3.2" fill="url(#gLi)" stroke="#8e94a4" stroke-width="0.35"/>
<circle cx="217.20" cy="525.40" r="3.2" fill="url(#gLi)" stroke="#8e94a4" stroke-width="0.35"/>
</g>
<circle cx="210.6" cy="509.1" r="23.5" fill="none" stroke="#2a2a2a" stroke-width="0.9"/>
<path d="M209.6 503 L216.5 503" stroke="#111" stroke-width="0.8" marker-end="url(#ah)"/>
<path d="M208.5 516.2 L215.5 517.2" stroke="#111" stroke-width="0.8" marker-end="url(#ah)"/>
<path d="M242.7 520.8 Q256 520 266 511" fill="none" stroke="#111" stroke-width="0.9" marker-end="url(#ah)"/>
<circle cx="292.6" cy="489.6" r="23.75" fill="url(#circS)" stroke="none"/>
<g clip-path="url(#c3)">
<circle cx="287.50" cy="470.70" r="3.0" fill="url(#gS)" stroke="#dcb85e" stroke-width="0.35"/>
<circle cx="293.10" cy="470.70" r="3.0" fill="url(#gS)" stroke="#dcb85e" stroke-width="0.35"/>
<circle cx="298.20" cy="470.70" r="3.0" fill="url(#gS)" stroke="#dcb85e" stroke-width="0.35"/>
<circle cx="303.80" cy="471.50" r="3.0" fill="url(#gS)" stroke="#dcb85e" stroke-width="0.35"/>
<circle cx="288.00" cy="477.20" r="3.0" fill="url(#gS)" stroke="#dcb85e" stroke-width="0.35"/>
<circle cx="293.10" cy="478.50" r="3.0" fill="url(#gS)" stroke="#dcb85e" stroke-width="0.35"/>
<circle cx="298.20" cy="478.50" r="3.0" fill="url(#gS)" stroke="#dcb85e" stroke-width="0.35"/>
<circle cx="303.60" cy="477.40" r="3.0" fill="url(#gS)" stroke="#dcb85e" stroke-width="0.35"/>
<circle cx="285.60" cy="474.00" r="3.0" fill="url(#gS)" stroke="#dcb85e" stroke-width="0.35"/>
<circle cx="294.60" cy="492.20" r="3.0" fill="url(#gS)" stroke="#dcb85e" stroke-width="0.35"/>
<circle cx="299.20" cy="492.70" r="3.0" fill="url(#gS)" stroke="#dcb85e" stroke-width="0.35"/>
<circle cx="303.30" cy="494.20" r="3.0" fill="url(#gS)" stroke="#dcb85e" stroke-width="0.35"/>
<circle cx="306.40" cy="498.00" r="3.0" fill="url(#gS)" stroke="#dcb85e" stroke-width="0.35"/>
<circle cx="305.30" cy="502.90" r="3.0" fill="url(#gS)" stroke="#dcb85e" stroke-width="0.35"/>
<circle cx="300.80" cy="505.50" r="3.0" fill="url(#gS)" stroke="#dcb85e" stroke-width="0.35"/>
<circle cx="296.20" cy="506.00" r="3.0" fill="url(#gS)" stroke="#dcb85e" stroke-width="0.35"/>
<circle cx="292.10" cy="504.40" r="3.0" fill="url(#gS)" stroke="#dcb85e" stroke-width="0.35"/>
<circle cx="277.30" cy="487.60" r="2.5" fill="url(#gO)" stroke="#7ea3d3" stroke-width="0.35"/>
<circle cx="279.30" cy="499.80" r="2.5" fill="url(#gO)" stroke="#7ea3d3" stroke-width="0.35"/>
<circle cx="289.00" cy="501.40" r="2.5" fill="url(#gO)" stroke="#7ea3d3" stroke-width="0.35"/>
</g>
<circle cx="292.6" cy="489.6" r="23.75" fill="none" stroke="#2a2a2a" stroke-width="0.9"/>
<path d="M280.3 491.7 L286.8 494.9" stroke="#111" stroke-width="0.8" marker-end="url(#ah)"/>
<path d="M305.3 483 L304.9 488.6" stroke="#111" stroke-width="0.8" marker-end="url(#ah)"/>
<path d="M322.6 473.6 Q332 463 347 464.5" fill="none" stroke="#111" stroke-width="0.9" marker-end="url(#ah)"/>
<circle cx="376.9" cy="468.1" r="23.8" fill="url(#circY2)" stroke="#2a2a2a" stroke-width="0.9"/>
<circle cx="370.25" cy="454.08" r="2.6" fill="url(#gO)" stroke="#7ea3d3" stroke-width="0.35"/>
<circle cx="364.58" cy="457.12" r="2.6" fill="url(#gO)" stroke="#7ea3d3" stroke-width="0.35"/>
<circle cx="373.40" cy="460.27" r="2.6" fill="url(#gO)" stroke="#7ea3d3" stroke-width="0.35"/>
<circle cx="367.10" cy="463.00" r="2.6" fill="url(#gO)" stroke="#7ea3d3" stroke-width="0.35"/>
<circle cx="369.20" cy="458.70" r="3.1" fill="url(#gS)" stroke="#dcb85e" stroke-width="0.35"/>
<circle cx="390.40" cy="460.97" r="2.6" fill="url(#gO)" stroke="#7ea3d3" stroke-width="0.35"/>
<circle cx="385.78" cy="466.12" r="2.6" fill="url(#gO)" stroke="#7ea3d3" stroke-width="0.35"/>
<circle cx="395.02" cy="465.38" r="2.6" fill="url(#gO)" stroke="#7ea3d3" stroke-width="0.35"/>
<circle cx="391.45" cy="470.21" r="2.6" fill="url(#gO)" stroke="#7ea3d3" stroke-width="0.35"/>
<circle cx="390.40" cy="465.80" r="3.1" fill="url(#gS)" stroke="#dcb85e" stroke-width="0.35"/>
<circle cx="371.15" cy="474.30" r="2.6" fill="url(#gO)" stroke="#7ea3d3" stroke-width="0.35"/>
<circle cx="367.58" cy="479.45" r="2.6" fill="url(#gO)" stroke="#7ea3d3" stroke-width="0.35"/>
<circle cx="376.82" cy="477.14" r="2.6" fill="url(#gO)" stroke="#7ea3d3" stroke-width="0.35"/>
<circle cx="373.77" cy="482.70" r="2.6" fill="url(#gO)" stroke="#7ea3d3" stroke-width="0.35"/>
<circle cx="372.20" cy="478.40" r="3.1" fill="url(#gS)" stroke="#dcb85e" stroke-width="0.35"/>
<text x="459.50" y="389.50" font-size="15" text-anchor="start" font-weight="bold" fill="#000" stroke="#000" >f</text>
<rect x="485.6" y="384.5" width="177.0" height="141.79999999999995" fill="none" stroke="#333" stroke-width="1.1"/>
<line x1="482.80" y1="512.40" x2="485.60" y2="512.40" stroke="#333" stroke-width="1"/>
<text x="481.30" y="515.90" font-size="9.8" text-anchor="end" font-weight="normal" fill="#1a1a1a" stroke="#1a1a1a" >0.0</text>
<line x1="482.80" y1="483.95" x2="485.60" y2="483.95" stroke="#333" stroke-width="1"/>
<text x="481.30" y="487.45" font-size="9.8" text-anchor="end" font-weight="normal" fill="#1a1a1a" stroke="#1a1a1a" >0.5</text>
<line x1="482.80" y1="455.50" x2="485.60" y2="455.50" stroke="#333" stroke-width="1"/>
<text x="481.30" y="459.00" font-size="9.8" text-anchor="end" font-weight="normal" fill="#1a1a1a" stroke="#1a1a1a" >1.0</text>
<line x1="482.80" y1="427.05" x2="485.60" y2="427.05" stroke="#333" stroke-width="1"/>
<text x="481.30" y="430.55" font-size="9.8" text-anchor="end" font-weight="normal" fill="#1a1a1a" stroke="#1a1a1a" >1.5</text>
<line x1="482.80" y1="398.60" x2="485.60" y2="398.60" stroke="#333" stroke-width="1"/>
<text x="481.30" y="402.10" font-size="9.8" text-anchor="end" font-weight="normal" fill="#1a1a1a" stroke="#1a1a1a" >2.0</text>
<line x1="484.00" y1="498.17" x2="485.60" y2="498.17" stroke="#333" stroke-width="1"/>
<line x1="484.00" y1="469.72" x2="485.60" y2="469.72" stroke="#333" stroke-width="1"/>
<line x1="484.00" y1="441.27" x2="485.60" y2="441.27" stroke="#333" stroke-width="1"/>
<line x1="484.00" y1="412.82" x2="485.60" y2="412.82" stroke="#333" stroke-width="1"/>
<line x1="484.00" y1="526.62" x2="485.60" y2="526.62" stroke="#333" stroke-width="1"/>
<line x1="485.70" y1="526.30" x2="485.70" y2="529.10" stroke="#333" stroke-width="1"/>
<text x="485.70" y="538.20" font-size="9.8" text-anchor="middle" font-weight="normal" fill="#1a1a1a" stroke="#1a1a1a" >0</text>
<line x1="509.20" y1="526.30" x2="509.20" y2="529.10" stroke="#333" stroke-width="1"/>
<text x="509.20" y="538.20" font-size="9.8" text-anchor="middle" font-weight="normal" fill="#1a1a1a" stroke="#1a1a1a" >200</text>
<line x1="532.70" y1="526.30" x2="532.70" y2="529.10" stroke="#333" stroke-width="1"/>
<text x="532.70" y="538.20" font-size="9.8" text-anchor="middle" font-weight="normal" fill="#1a1a1a" stroke="#1a1a1a" >400</text>
<line x1="556.20" y1="526.30" x2="556.20" y2="529.10" stroke="#333" stroke-width="1"/>
<text x="556.20" y="538.20" font-size="9.8" text-anchor="middle" font-weight="normal" fill="#1a1a1a" stroke="#1a1a1a" >600</text>
<line x1="579.70" y1="526.30" x2="579.70" y2="529.10" stroke="#333" stroke-width="1"/>
<text x="579.70" y="538.20" font-size="9.8" text-anchor="middle" font-weight="normal" fill="#1a1a1a" stroke="#1a1a1a" >800</text>
<line x1="603.20" y1="526.30" x2="603.20" y2="529.10" stroke="#333" stroke-width="1"/>
<text x="603.20" y="538.20" font-size="9.8" text-anchor="middle" font-weight="normal" fill="#1a1a1a" stroke="#1a1a1a" >1000</text>
<line x1="626.70" y1="526.30" x2="626.70" y2="529.10" stroke="#333" stroke-width="1"/>
<text x="626.70" y="538.20" font-size="9.8" text-anchor="middle" font-weight="normal" fill="#1a1a1a" stroke="#1a1a1a" >1200</text>
<line x1="650.20" y1="526.30" x2="650.20" y2="529.10" stroke="#333" stroke-width="1"/>
<text x="650.20" y="538.20" font-size="9.8" text-anchor="middle" font-weight="normal" fill="#1a1a1a" stroke="#1a1a1a" >1400</text>
<line x1="497.45" y1="526.30" x2="497.45" y2="527.90" stroke="#333" stroke-width="1"/>
<line x1="520.95" y1="526.30" x2="520.95" y2="527.90" stroke="#333" stroke-width="1"/>
<line x1="544.45" y1="526.30" x2="544.45" y2="527.90" stroke="#333" stroke-width="1"/>
<line x1="567.95" y1="526.30" x2="567.95" y2="527.90" stroke="#333" stroke-width="1"/>
<line x1="591.45" y1="526.30" x2="591.45" y2="527.90" stroke="#333" stroke-width="1"/>
<line x1="614.95" y1="526.30" x2="614.95" y2="527.90" stroke="#333" stroke-width="1"/>
<line x1="638.45" y1="526.30" x2="638.45" y2="527.90" stroke="#333" stroke-width="1"/>
<text x="574.30" y="554.90" font-size="10.1" text-anchor="middle" font-weight="normal" fill="#1a1a1a" stroke="#1a1a1a" >Specific capacity (mAh g<tspan font-size="6.7" dy="-3.9">−1</tspan><tspan dy="3.9">)</tspan></text>
<text transform="translate(462.1 457) rotate(-90)" font-size="9.8" text-anchor="middle" fill="#1a1a1a" stroke="#1a1a1a">n<tspan font-size="7.1" dy="2.8">gas</tspan><tspan dy="-2.8">/n</tspan><tspan font-size="7.1" dy="2.8">Li</tspan></text>
<circle cx="508.02" cy="398.60" r="3.6" fill="#14a095"/>
<circle cx="536.81" cy="398.60" r="3.6" fill="#14a095"/>
<circle cx="526.83" cy="427.05" r="3.6" fill="#14a095"/>
<circle cx="536.23" cy="427.05" r="3.6" fill="#14a095"/>
<circle cx="549.74" cy="455.50" r="3.6" fill="#14a095"/>
<circle cx="557.38" cy="469.72" r="3.6" fill="#14a095"/>
<circle cx="580.88" cy="469.72" r="3.6" fill="#b3b3b3"/>
<circle cx="619.65" cy="483.95" r="3.6" fill="#b3b3b3"/>
<circle cx="568.18" cy="498.00" r="3.6" fill="#b3b3b3"/>
<circle cx="586.40" cy="500.62" r="3.6" fill="#b3b3b3"/>
<circle cx="650.20" cy="502.73" r="3.6" fill="#b3b3b3"/>
<circle cx="516.01" cy="512.40" r="3.6" fill="#b3b3b3"/>
<circle cx="529.88" cy="512.40" r="3.6" fill="#b3b3b3"/>
<circle cx="565.60" cy="512.40" r="3.6" fill="#14a095"/>
<circle cx="584.75" cy="512.40" r="3.6" fill="#b3b3b3"/>
<circle cx="609.43" cy="512.40" r="3.6" fill="#b3b3b3"/>
<circle cx="607.6" cy="395.4" r="3.7" fill="#b3b3b3"/>
<circle cx="607.6" cy="408.1" r="3.7" fill="#14a095"/>
<text x="618.40" y="398.80" font-size="9.3" text-anchor="start" font-weight="normal" fill="#1a1a1a" stroke="#1a1a1a" >Sensitive</text>
<text x="618.40" y="411.50" font-size="9.3" text-anchor="start" font-weight="normal" fill="#1a1a1a" stroke="#1a1a1a" >Stable</text>
<text x="492.60" y="394.10" font-size="7.4" text-anchor="start" font-weight="normal" fill="#222" stroke="#222" ><tspan>LiSO</tspan><tspan font-size="4.8" dy="2.1">2</tspan><tspan dy="-2.1">CF</tspan><tspan font-size="4.8" dy="2.1">3</tspan></text>
<text x="542.80" y="400.40" font-size="7.4" text-anchor="start" font-weight="normal" fill="#222" stroke="#222" ><tspan>Li</tspan><tspan font-size="4.8" dy="2.1">2</tspan><tspan dy="-2.1">C</tspan><tspan font-size="4.8" dy="2.1">4</tspan><tspan dy="-2.1">O</tspan><tspan font-size="4.8" dy="2.1">4</tspan></text>
<text x="500.30" y="421.90" font-size="7.4" text-anchor="start" font-weight="normal" fill="#222" stroke="#222" ><tspan>CH</tspan><tspan font-size="4.8" dy="2.1">3</tspan><tspan dy="-2.1">COOLi</tspan></text>
<text x="542.80" y="429.00" font-size="7.4" text-anchor="start" font-weight="normal" fill="#222" stroke="#222" ><tspan>Li</tspan><tspan font-size="4.8" dy="2.1">2</tspan><tspan dy="-2.1">C</tspan><tspan font-size="4.8" dy="2.1">3</tspan><tspan dy="-2.1">O</tspan><tspan font-size="4.8" dy="2.1">5</tspan></text>
<text x="533.90" y="449.40" font-size="7.4" text-anchor="start" font-weight="normal" fill="#222" stroke="#222" ><tspan>Li</tspan><tspan font-size="4.8" dy="2.1">2</tspan><tspan dy="-2.1">C</tspan><tspan font-size="4.8" dy="2.1">2</tspan><tspan dy="-2.1">O</tspan><tspan font-size="4.8" dy="2.1">4</tspan></text>
<text x="554.00" y="471.50" font-size="7.4" text-anchor="end" font-weight="normal" fill="#222" stroke="#222" ><tspan>Li</tspan><tspan font-size="4.8" dy="2.1">2</tspan><tspan dy="-2.1">CO</tspan><tspan font-size="4.8" dy="2.1">3</tspan><tspan dy="-2.1">/Co</tspan></text>
<text x="569.60" y="464.00" font-size="7.4" text-anchor="start" font-weight="normal" fill="#222" stroke="#222" ><tspan>Li</tspan><tspan font-size="4.8" dy="2.1">2</tspan><tspan dy="-2.1">OHCl</tspan></text>
<text x="613.00" y="477.50" font-size="7.4" text-anchor="start" font-weight="normal" fill="#222" stroke="#222" ><tspan>Li</tspan><tspan font-size="4.8" dy="2.1">2</tspan><tspan dy="-2.1">O</tspan></text>
<text x="553.20" y="491.70" font-size="7.4" text-anchor="start" font-weight="normal" fill="#222" stroke="#222" ><tspan>Li</tspan><tspan font-size="4.8" dy="2.1">5</tspan><tspan dy="-2.1">FeO</tspan><tspan font-size="4.8" dy="2.1">4</tspan></text>
<text x="582.40" y="495.60" font-size="7.4" text-anchor="start" font-weight="normal" fill="#222" stroke="#222" ><tspan>Li</tspan><tspan font-size="4.8" dy="2.1">6</tspan><tspan dy="-2.1">CoO</tspan><tspan font-size="4.8" dy="2.1">4</tspan></text>
<text x="643.70" y="496.10" font-size="7.4" text-anchor="start" font-weight="normal" fill="#222" stroke="#222" ><tspan>Li</tspan><tspan font-size="4.8" dy="2.1">3</tspan><tspan dy="-2.1">N</tspan></text>
<text x="498.30" y="506.30" font-size="7.4" text-anchor="start" font-weight="normal" fill="#222" stroke="#222" ><tspan>Li</tspan><tspan font-size="4.8" dy="2.1">2</tspan><tspan dy="-2.1">NiO</tspan><tspan font-size="4.8" dy="2.1">2</tspan></text>
<text x="524.00" y="506.30" font-size="7.4" text-anchor="start" font-weight="normal" fill="#222" stroke="#222" ><tspan>Li</tspan><tspan font-size="4.8" dy="2.1">2</tspan><tspan dy="-2.1">DHBN</tspan></text>
<text x="606.60" y="507.00" font-size="7.4" text-anchor="start" font-weight="normal" fill="#222" stroke="#222" ><tspan>Li</tspan><tspan font-size="4.8" dy="2.1">2</tspan><tspan dy="-2.1">S</tspan></text>
<text x="537.20" y="523.40" font-size="7.4" text-anchor="start" font-weight="bold" fill="#e8262b" stroke="#e8262b" ><tspan>Li</tspan><tspan font-size="4.8" dy="2.1">6</tspan><tspan dy="-2.1">CoO</tspan><tspan font-size="4.8" dy="2.1">4</tspan><tspan dy="-2.1">@S</tspan></text>
<text x="578.60" y="524.20" font-size="7.4" text-anchor="start" font-weight="normal" fill="#222" stroke="#222" ><tspan>Li</tspan><tspan font-size="4.8" dy="2.1">2</tspan><tspan dy="-2.1">O/Co</tspan></text>
</g>
</svg></body></html>
